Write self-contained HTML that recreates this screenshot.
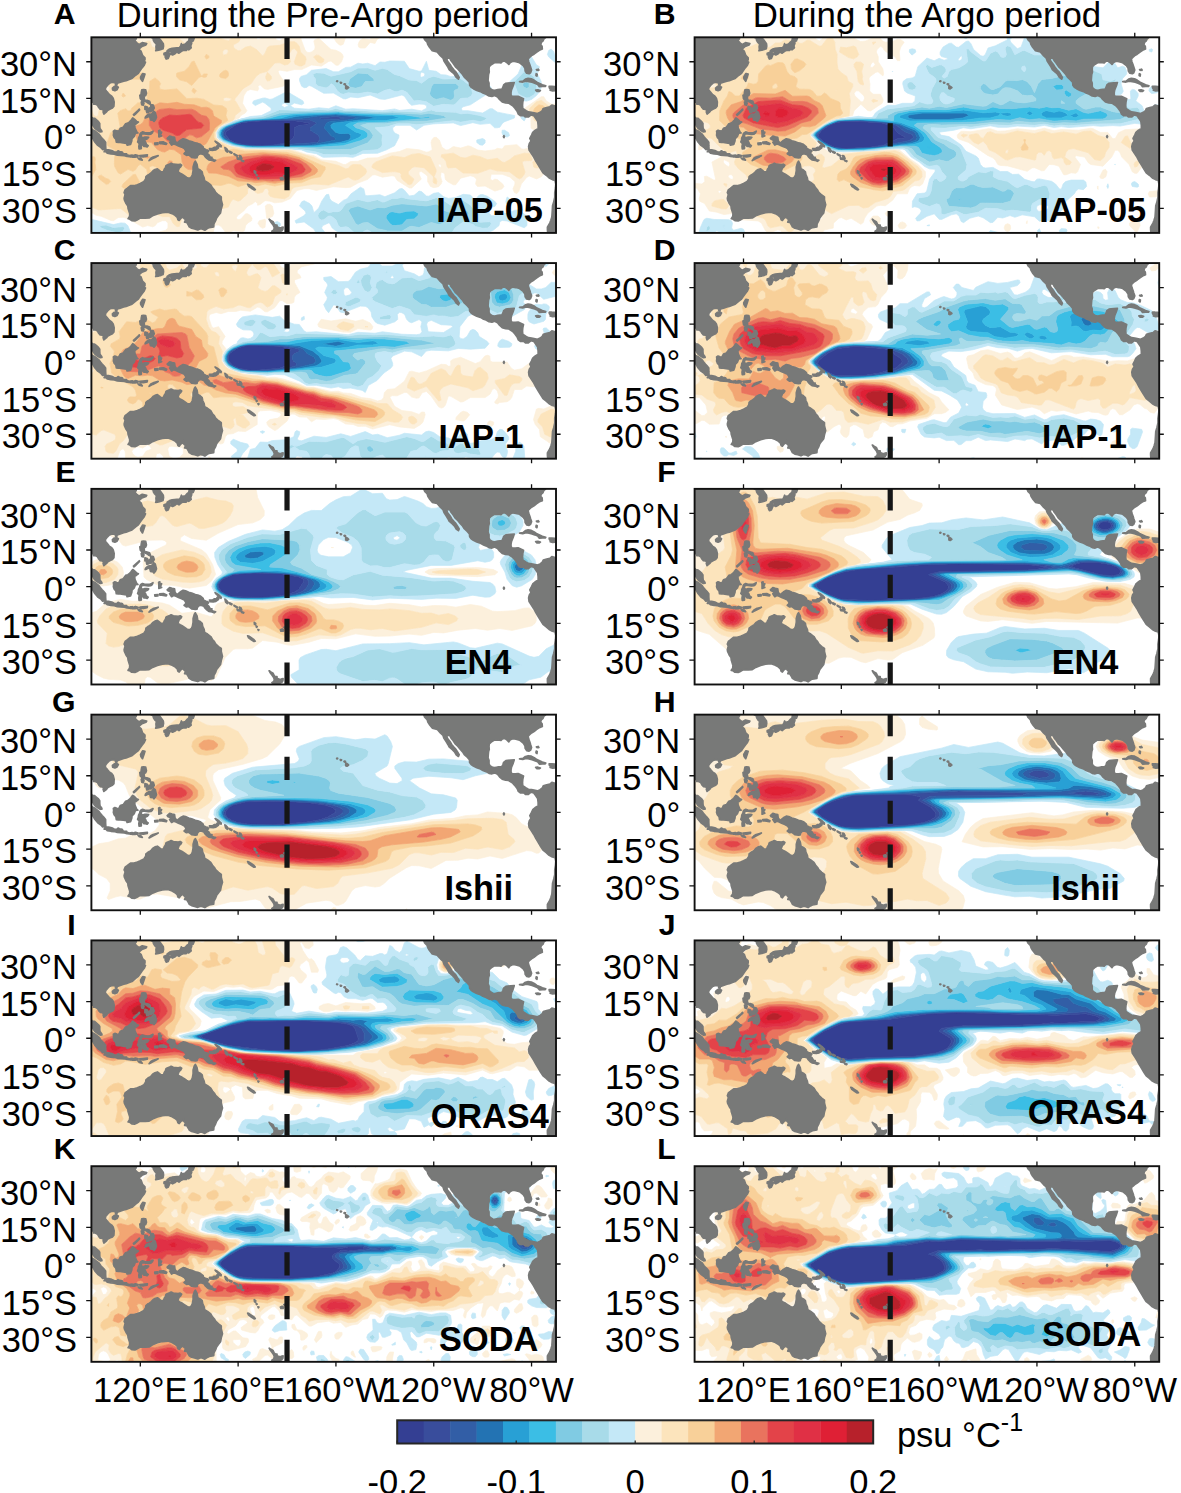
<!DOCTYPE html><html><head><meta charset="utf-8"><style>html,body{margin:0;padding:0;background:#fff;}body{width:1181px;height:1493px;overflow:hidden;}svg{display:block;}text{font-family:"Liberation Sans",sans-serif;}</style></head><body>
<svg width="1181" height="1493" viewBox="0 0 1181 1493">
<defs><path id="land" d="M95.0,41.0 118.6,41.0 118.3,39.3 117.7,38.7 118.7,37.6 119.5,37.1 120.8,37.8 122.6,37.4 122.3,36.9 120.7,36.3 119.3,35.1 120.3,34.3 120.9,32.6 121.9,31.6 121.9,30.8 121.5,30.2 122.1,29.8 121.6,28.6 120.7,27.5 119.8,26.2 119.2,25.3 118.1,24.5 116.6,23.2 115.2,22.7 114.2,22.3 113.2,22.1 111.8,21.6 110.6,21.2 110.3,20.3 109.9,20.6 109.7,21.5 108.5,21.6 107.4,21.2 106.6,20.4 105.8,19.4 105.7,18.5 106.5,17.6 107.3,16.6 108.3,15.9 108.9,15.1 109.3,13.6 109.2,11.8 108.6,11.1 107.5,10.6 106.6,10.1 106.2,9.5 105.1,8.6 104.8,9.5 105.0,10.0 104.5,10.5 103.6,10.6 103.0,11.3 102.5,12.2 101.6,12.7 100.9,12.7 100.9,13.5 100.1,13.5 99.5,13.0 95.0,13.0ZM95.0,8.0 99.5,8.0 100.3,7.1 100.6,6.9 101.3,6.9 102.1,6.2 102.9,5.5 103.4,4.8 103.4,3.8 103.5,2.7 104.2,1.8 104.3,1.4 103.6,1.3 102.9,1.7 101.8,2.5 101.3,2.9 100.8,3.7 100.3,4.6 95.0,5.0ZM95.0,4.0 98.5,3.8 99.5,3.0 100.4,2.2 101.3,1.8 102.2,1.1 103.1,0.4 103.8,-0.6 104.4,-1.3 105.0,-1.9 105.8,-2.9 105.8,-4.2 105.9,-5.8 105.2,-5.8 104.6,-5.9 103.9,-5.1 102.6,-4.2 101.4,-2.8 100.6,-1.4 100.0,-0.6 99.2,0.2 98.7,1.5 95.0,2.0ZM105.2,-6.8 106.0,-5.9 107.0,-6.0 108.3,-6.3 109.3,-6.8 110.4,-6.9 110.9,-6.4 111.5,-6.7 112.6,-6.9 113.0,-7.6 114.4,-7.7 114.6,-8.7 113.5,-8.4 112.0,-8.3 110.6,-8.2 109.4,-7.8 108.0,-7.7 106.5,-7.4 105.9,-6.8ZM114.5,-8.1 115.6,-8.4 115.5,-8.8 114.7,-8.7ZM116.0,-8.3 116.7,-8.2 116.6,-8.9 116.0,-8.9ZM116.8,-8.5 118.0,-8.1 119.1,-8.4 119.0,-8.8 117.8,-9.0 116.8,-9.0ZM119.8,-8.4 121.0,-8.3 122.9,-8.1 122.8,-8.6 121.3,-8.9 119.9,-8.8ZM119.1,-9.4 120.3,-9.6 120.8,-10.2 119.6,-9.9ZM123.6,-10.4 124.3,-9.5 125.2,-9.0 127.3,-8.4 126.5,-8.9 125.1,-9.6 124.0,-10.2ZM109.0,1.6 109.6,2.0 110.4,1.7 111.2,1.6 111.8,2.8 113.0,3.2 114.0,4.6 114.9,4.9 115.6,5.4 116.2,6.1 116.9,7.0 117.7,6.4 118.5,5.6 119.2,5.3 118.3,4.6 117.7,4.2 117.8,3.0 118.6,1.2 119.0,0.9 118.0,0.8 117.5,-0.5 116.6,-1.4 116.5,-2.4 116.0,-3.8 114.6,-4.1 114.4,-3.4 113.0,-3.2 111.8,-3.0 111.0,-3.0 110.2,-2.9 110.0,-1.7 109.3,-0.9 109.0,0.0 109.1,0.9ZM119.5,-5.6 119.4,-4.6 119.6,-3.5 118.9,-2.8 119.2,-2.0 119.3,-1.1 119.8,-0.2 119.9,0.5 120.2,0.9 120.9,1.3 121.8,1.0 122.8,0.9 123.8,0.9 124.6,1.3 125.2,1.6 124.9,0.9 124.3,0.4 123.3,0.3 121.7,0.5 120.6,0.5 120.3,-0.6 121.0,-1.1 121.9,-0.8 122.6,-0.8 123.4,-0.9 122.9,-1.5 122.0,-1.9 121.5,-1.9 122.2,-3.0 122.5,-3.8 123.2,-4.3 122.8,-4.8 122.1,-4.6 121.5,-4.6 121.0,-4.0 120.9,-3.2 120.4,-2.9 120.4,-4.1 120.4,-5.5ZM125.9,-3.3 127.2,-3.2 127.2,-3.8 126.0,-3.9ZM127.9,-2.9 129.5,-2.8 130.8,-3.4 130.6,-3.8 128.8,-3.5 128.0,-3.5ZM127.5,1.8 128.0,2.0 128.0,1.0 128.7,1.2 128.5,0.6 127.9,0.4 128.7,-0.3 127.6,-0.7 127.6,0.8ZM131.0,-1.3 132.0,-0.4 133.0,-0.7 134.0,-0.9 134.2,-2.3 135.0,-3.3 136.3,-2.2 137.5,-1.5 138.5,-1.7 139.8,-2.3 141.0,-2.6 142.5,-3.2 143.5,-3.4 144.5,-3.8 145.7,-4.8 145.8,-5.4 146.9,-6.0 147.6,-6.1 147.9,-6.6 147.2,-7.4 148.0,-8.0 148.6,-9.0 149.3,-9.1 149.2,-9.6 150.0,-10.1 150.8,-10.3 150.2,-10.7 149.3,-10.3 148.0,-10.1 147.2,-9.5 146.5,-8.8 146.0,-8.0 144.7,-7.6 143.8,-7.9 143.3,-8.6 143.2,-9.2 142.5,-9.3 141.0,-9.1 139.8,-8.1 138.9,-8.3 137.9,-7.6 138.5,-7.0 138.7,-6.6 138.0,-5.5 136.9,-4.9 135.6,-4.4 134.6,-3.9 133.6,-3.6 132.8,-4.1 132.0,-2.9 133.1,-2.5 133.7,-2.2 132.4,-2.2 131.2,-1.6ZM148.3,-5.5 149.5,-5.5 150.2,-5.0 151.0,-5.0 151.6,-4.2 152.3,-4.3 151.9,-5.3 150.9,-6.0 149.8,-6.2 148.5,-6.1ZM150.6,-2.5 151.5,-3.0 152.3,-3.6 153.1,-4.4 153.0,-4.8 152.5,-4.4 151.9,-3.8 151.0,-3.0ZM154.6,-5.1 155.3,-5.6 155.9,-6.5 155.6,-6.9 154.9,-6.3ZM156.5,-6.6 157.5,-7.1 157.3,-7.4 156.5,-7.0ZM158.3,-7.6 159.8,-8.4 159.6,-8.6 158.4,-7.9ZM159.6,-9.3 160.6,-9.5 160.8,-9.9 159.8,-9.8ZM160.6,-8.4 161.1,-8.6 161.5,-9.5 161.2,-9.6 160.7,-8.9ZM161.3,-10.2 162.3,-10.6 162.1,-10.8 161.4,-10.5ZM166.6,-14.6 167.2,-15.0 167.1,-15.6 166.7,-15.4ZM167.4,-16.1 167.8,-16.4 167.5,-16.6ZM168.1,-17.5 168.5,-17.6 168.3,-17.9ZM163.9,-20.1 164.5,-20.3 165.5,-21.0 166.5,-21.7 167.0,-22.3 166.5,-22.4 165.4,-21.7 164.3,-20.9ZM177.3,-17.6 178.0,-17.3 178.6,-17.7 178.4,-18.2 177.5,-18.2ZM178.7,-16.6 179.4,-16.4 180.0,-16.2 179.8,-16.7 179.0,-16.9ZM172.7,-34.4 173.4,-34.9 174.3,-35.4 174.8,-36.5 175.3,-36.8 175.9,-36.8 175.9,-37.5 176.9,-37.9 177.6,-37.8 178.4,-37.6 178.3,-38.5 177.9,-39.1 177.1,-39.5 176.9,-40.5 174.6,-40.5 174.8,-39.8 173.8,-39.3 174.6,-38.8 174.8,-37.8 174.4,-36.9 173.9,-36.2 173.2,-35.3ZM142.5,-10.7 143.2,-12.0 143.5,-13.8 144.5,-14.3 145.3,-15.0 145.5,-16.2 146.1,-17.5 146.3,-18.7 147.5,-19.4 148.8,-20.4 149.5,-21.6 150.3,-22.5 150.8,-23.4 152.0,-24.5 153.1,-25.3 153.1,-26.5 153.6,-28.5 153.1,-30.2 152.8,-31.8 152.0,-32.8 151.2,-33.9 150.8,-35.0 150.1,-36.3 150.0,-37.5 148.2,-37.8 147.4,-38.2 146.4,-38.9 145.3,-38.4 144.6,-38.3 143.5,-38.8 142.2,-38.4 141.0,-38.1 140.0,-37.5 139.7,-36.9 139.0,-35.7 138.1,-35.6 138.5,-34.6 137.8,-34.0 137.8,-32.6 137.3,-33.6 136.6,-34.0 135.9,-34.9 135.4,-34.6 135.1,-33.6 134.2,-32.8 133.0,-32.1 131.3,-31.5 129.0,-31.7 127.0,-32.2 125.0,-33.0 123.6,-33.9 122.0,-34.0 120.0,-33.9 118.5,-34.8 117.8,-35.1 116.5,-35.0 115.6,-34.3 115.0,-34.2 115.6,-33.3 115.7,-32.2 115.0,-30.0 114.9,-29.0 114.2,-28.0 113.5,-26.5 113.4,-25.8 113.8,-24.3 113.4,-23.5 113.8,-22.4 114.6,-21.8 116.0,-20.7 117.4,-20.7 118.8,-20.3 120.0,-19.8 121.5,-19.0 122.2,-17.9 122.3,-17.0 123.0,-16.4 123.7,-16.0 124.4,-15.5 125.2,-14.6 126.0,-14.1 127.0,-13.8 127.8,-14.4 128.4,-15.0 129.5,-14.9 129.8,-14.0 130.3,-13.3 130.5,-12.5 131.0,-12.2 132.0,-11.8 132.6,-11.5 133.5,-11.9 134.5,-12.0 135.5,-12.1 136.3,-11.9 136.9,-12.3 136.5,-13.0 135.9,-13.5 135.5,-14.5 135.4,-15.0 136.3,-15.6 137.1,-16.0 138.0,-16.6 139.0,-17.3 139.6,-17.6 140.3,-17.6 140.9,-17.1 141.3,-16.2 141.6,-14.5 141.6,-13.0 141.8,-12.3 142.1,-11.3ZM108.6,19.2 109.4,19.9 110.2,20.1 111.0,19.6 110.5,18.6 109.6,18.2 108.7,18.5ZM121.0,25.2 121.9,25.0 121.5,23.7 120.9,22.0 120.6,22.4 120.2,23.0 120.1,23.7 120.6,24.6ZM120.6,18.5 121.3,18.6 122.2,18.5 122.5,17.1 122.2,16.2 121.6,15.9 121.6,15.0 121.9,14.1 122.7,14.2 123.8,13.8 124.1,13.0 124.0,12.6 123.3,13.0 122.6,13.5 121.8,13.9 121.1,13.6 120.6,14.3 120.0,14.9 119.8,16.3 120.3,16.5 120.4,17.5ZM120.4,13.5 121.3,13.4 121.5,13.0 121.2,12.2 120.6,12.4ZM124.3,12.5 125.3,12.3 125.7,11.1 125.1,10.1 124.7,10.2 124.4,11.0 124.3,11.6ZM121.9,11.8 122.9,11.5 123.2,10.8 122.6,10.6 121.9,10.5ZM122.9,10.9 123.5,10.5 123.3,9.3 122.7,9.2 122.5,9.9ZM123.9,11.2 124.1,10.5 123.5,9.6 123.4,10.2ZM123.8,10.0 124.5,10.0 124.4,9.6 123.8,9.6ZM122.0,7.0 122.2,7.6 122.9,8.2 123.7,8.6 124.5,8.5 125.0,9.0 125.4,9.8 126.1,9.3 126.6,7.3 126.2,6.3 125.6,5.6 125.3,6.0 124.2,6.2 123.9,7.3 123.4,7.6 122.6,7.2ZM117.2,8.4 118.1,9.2 119.0,10.0 119.6,10.6 119.7,10.3 118.8,9.4 117.9,8.5 117.4,8.1ZM124.5,41.0 124.4,40.0 125.2,39.6 125.4,38.7 125.9,37.9 126.6,37.2 126.4,36.2 126.5,35.0 126.3,34.5 127.5,34.7 128.5,35.0 129.3,35.3 129.5,36.4 129.4,37.4 128.6,38.5 128.0,39.3 127.5,39.8 128.5,40.3 129.5,41.0ZM129.7,33.5 130.8,33.9 131.8,33.7 132.0,32.8 131.4,31.4 130.6,31.1 130.2,31.9 130.2,32.7 129.7,32.9ZM132.6,33.9 133.5,34.2 134.6,34.2 134.7,33.8 134.2,33.3 133.2,32.8 132.5,33.2ZM130.9,34.0 132.0,34.3 133.5,34.5 135.0,34.6 135.1,33.9 135.8,33.5 136.8,34.3 137.5,34.6 138.8,34.6 139.2,35.2 139.8,34.9 140.8,35.7 140.6,36.5 141.0,37.5 141.0,38.3 141.6,38.5 142.0,39.5 141.9,41.0 140.0,41.0 140.0,39.5 139.8,38.5 139.0,37.9 138.4,37.2 137.0,36.8 136.8,37.4 136.5,36.5 136.0,35.7 135.0,35.7 133.0,35.5 132.0,35.2 131.0,34.5ZM204.1,20.2 204.9,19.7 205.2,19.4 204.5,18.9 204.0,19.1 204.0,19.8ZM203.4,21.0 203.9,20.9 203.6,20.6 203.3,20.8ZM201.8,21.6 202.3,21.5 202.2,21.3 201.9,21.3ZM200.4,22.2 200.7,22.1 200.6,21.9 200.3,22.0ZM236.0,41.0 235.8,40.3 236.3,39.0 237.3,38.0 237.6,37.0 238.2,36.0 239.4,34.5 241.4,34.0 242.7,32.5 243.8,31.5 244.2,30.3 245.2,28.8 245.8,27.8 246.3,26.8 247.7,25.6 248.5,24.8 249.2,23.6 250.1,22.9 250.4,23.6 249.8,24.6 249.0,25.9 248.3,26.6 247.4,27.7 246.7,28.9 245.6,30.3 245.2,31.7 246.6,31.4 247.1,30.4 247.9,29.4 248.9,27.9 249.9,27.0 250.9,25.8 251.8,24.8 252.5,23.7 253.7,22.6 254.6,21.6 254.7,20.4 255.3,19.6 256.2,19.0 257.6,18.3 259.1,17.8 260.1,17.2 261.4,16.7 262.6,16.0 263.8,15.8 264.9,16.2 266.1,15.6 266.9,14.6 268.0,13.6 269.4,13.2 270.6,13.1 272.3,12.0 273.2,11.0 274.1,9.8 274.6,8.6 275.4,8.0 276.8,8.0 277.5,7.4 278.7,7.4 279.8,8.3 280.9,8.0 281.6,7.0 282.5,5.7 282.7,4.0 282.7,2.7 281.4,1.9 280.5,1.1 280.0,0.0 279.3,-1.3 279.8,-2.4 279.1,-3.4 278.8,-4.6 279.0,-6.1 280.0,-7.6 280.9,-9.0 281.8,-10.7 282.9,-12.5 283.8,-14.0 284.7,-15.4 286.0,-16.4 287.2,-17.5 288.5,-18.2 289.6,-18.5 289.9,-20.0 289.8,-21.5 289.5,-23.5 289.5,-25.4 289.1,-27.2 288.6,-28.9 288.5,-30.6 288.4,-32.2 288.3,-33.5 287.9,-34.8 287.5,-35.9 286.9,-36.9 286.5,-37.6 286.5,-38.6 286.6,-39.8 286.3,-41.0 292.0,-41.0 292.0,10.8 290.0,11.8 288.3,12.3 287.5,11.6 286.2,11.3 284.8,10.9 284.4,10.0 283.5,9.3 282.4,8.8 281.0,9.1 280.0,9.3 278.7,9.5 277.8,10.0 276.4,10.9 276.3,12.2 276.4,13.5 276.7,14.9 275.6,15.4 274.5,15.9 273.3,15.8 272.0,15.8 271.6,16.4 271.6,17.4 271.8,18.5 272.5,20.2 272.9,21.5 271.5,21.4 270.3,21.3 269.5,21.2 268.6,20.5 268.3,19.6 267.9,18.8 266.2,18.6 265.0,18.3 264.1,18.4 263.0,19.1 262.6,19.8 262.6,21.3 262.2,22.3 262.3,23.6 262.4,24.8 262.7,25.8 262.6,27.0 262.7,28.0 263.5,28.8 264.8,29.6 266.2,29.7 267.5,29.5 268.1,30.1 269.0,30.3 270.0,29.6 270.7,28.9 271.3,29.7 272.4,30.2 273.6,30.0 275.1,29.6 276.6,28.4 277.3,27.3 277.4,26.2 278.0,25.3 279.0,25.1 279.6,25.5 280.0,26.6 279.6,27.8 279.3,28.8 278.8,30.1 278.6,31.2 279.2,31.8 280.0,32.5 281.0,33.1 282.0,33.9 283.2,34.7 284.4,35.2 284.3,36.3 283.7,37.0 284.0,37.9 284.7,38.5 285.0,39.3 285.7,39.9 286.0,40.5 286.5,41.0ZM275.1,21.9 276.5,22.1 277.5,22.9 278.6,23.2 279.9,23.0 281.1,22.4 282.2,21.6 283.3,21.1 284.4,20.6 285.8,20.2 285.6,19.9 284.5,19.9 283.2,19.8 282.5,20.7 281.3,21.2 280.2,21.6 279.0,21.9 277.7,22.1 276.4,21.7ZM287.2,19.9 288.3,19.9 289.5,19.8 290.5,19.6 291.5,18.6 290.9,18.2 289.6,18.2 288.6,18.1 287.6,18.4 287.8,18.7 287.3,19.3ZM281.7,18.4 282.6,18.5 283.6,18.2 283.2,17.9 282.2,17.9ZM292.7,18.5 294.4,18.4 294.3,18.0 292.8,18.0ZM282.7,27.0 283.0,26.6 282.9,26.5 282.5,26.8ZM282.0,26.8 282.5,26.6 282.3,26.5ZM281.9,25.1 282.3,24.9 282.2,24.1 281.8,24.4ZM268.7,-0.2 268.9,-0.6 268.7,-1.0 268.5,-0.6Z"/><clipPath id="pc"><rect x="100" y="-40" width="190" height="80"/></clipPath></defs>
<g transform="matrix(2.4453,0,0,-2.4453,-153.130,135.112)" clip-path="url(#pc)" stroke-width="0.3" stroke-linejoin="round">
<path fill="#343f93" stroke="#343f93" fill-rule="evenodd" d="M163 -4l5-.3 6 .2 6.5 1.1 2.1 2 .4 1 0 3 2 1 3 .2 1.3 .8-6.3 .9-11 .1-8-.6-2.8-.4-2.4-1-3.8-2.6-.1-1.4 1.8-2 2-1 4-1z"/><path fill="#394d9c" stroke="#394d9c" fill-rule="evenodd" d="M162 -4.1l8-.4 22.4 1.5 .9 1 0 1-.6 1-3.1 2 0 1 2.7 2-3.3 1.4-22-.4-6.7-1-4.5-2-1.3-1-.5-1 0-1 .6-1 3.2-2 3.7-1zM162.7 -4l-4 1-2 1-1.8 2 .1 1.4 3.8 2.6 2.4 1 2.8 .4 8 .6 11-.1 6.3-.9-1.3-.8-3-.2-2-1 0-3-.4-1-2.1-2-6.5-1.1-6-.2-5 .3zM194 6.6l7-.1 2.6 .5-3.6 .6-7-.6z"/><path fill="#325ea6" stroke="#325ea6" fill-rule="evenodd" d="M161 -4.1l7-.6 22 .7 9.8 2-.2 1-1.6 .7-2.8 3.3 1 2 1.8 .7 5 .2 6.3 1.1-2.3 .6-7 .6-6-.2-8-1.1-21-.8-4-.7-6-2.4-1.1-1-.4-1 .5-2 1.2-1 1.9-1 3.4-1zM161.5 -4l-3.7 1-3.2 2-.6 1 0 1 .5 1 1.3 1 4.5 2 6.7 1 22 .4 3.3-1.4-2.7-2 0-1 3.1-2 .6-1 0-1-.9-1-22.4-1.5-8 .4zM193 7l7 .6 3.6-.6-2.6-.5-7 .1z"/><path fill="#2373b3" stroke="#2373b3" fill-rule="evenodd" d="M160 -4.1l6-.7 7 0 18 .5 11 1.4 3.3 .9 .8 1-.1 1-1 .8-3-.2-2 .5-1.9 1.9-.2 1 1.1 .9 17.9 2.1-3.9 .7-13 .9-11-.5-5-.4-4-.8-17-.9-4-1-4-1.7-1.6-1.3-.4-1 0-1 .5-1 1.1-1 5.1-2zM160.5 -4l-3.4 1-1.9 1-1.2 1-.5 2 .4 1 1.1 1 6 2.4 4 .7 21 .8 8 1.1 6 .2 7-.6 2.3-.6-6.3-1.1-5-.2-1.8-.7-1-2 2.8-3.3 1.6-.7 .2-1-9.8-2-22-.7-7 .6z"/><path fill="#28a0d5" stroke="#28a0d5" fill-rule="evenodd" d="M166 -5l25 .4 13 1.3 5.5 2.3 1 1-.5 .7-2 .6-4.1 2.7 1.6 1 6.5 .8 8.6 .2 4.4 .8 3.4 .2-2.4 .1-3 1-5-.1-17 1-17-.6-3-.4-3.6-1-14.4-.8-7.2-2.2-1.9-1-.9-1-.4-2 .4-1 1.1-1 4.9-2 6.8-1zM159.7 -4l-5.1 2-1.1 1-.5 1 0 1 .4 1 1.6 1.3 4 1.7 4 1 17 .9 4 .8 5 .4 11 .5 13-.9 3.9-.7-17.9-2.1-1.1-.9 .2-1 1.9-1.9 2-.5 3 .2 1-.8 .1-1-.8-1-3.3-.9-11-1.4-18-.5-7 0-6 .7z"/><path fill="#3bbee5" stroke="#3bbee5" fill-rule="evenodd" d="M224 -37l3 .3 2 2.2 3 .2 1.5 1.3 .3 1-1.8 1-3-.1-3-.8-3 .6-1-.2-1.4-1.5-.1-1 1.5-2.1 1-.8 .6-.1zM164 -5l28 0 11 .7 7 2 2.7 1.3 .4 1-.3 1-1.3 1-3.3 1-1.1 1 1.8 1 11.1 .3 18.5 1.7-.5 .6-3-.4-7 1.1-24 .7-3 .5-18-.7-6-.7-4.1-1.1-10.9-.8-6.7-2.2-2.7-2-.4-2 1.5-2 4.6-2 5.5-1zM165.8 -5l-6.8 1-4.9 2-1.1 1-.4 1 .4 2 .9 1 1.9 1 7.2 2.2 14.4 .8 3.6 1 3 .4 17 .6 17-1 5 .1 3-1 2.4-.1-3.4-.2-4.4-.8-8.6-.2-6.5-.8-1.6-1 4.1-2.7 2-.6 .5-.7-1-1-5.5-2.3-13-1.3-25-.4z"/><path fill="#80cbe3" stroke="#80cbe3" fill-rule="evenodd" d="M221 -39.2l6-.1 3 1.8 1 .2 3-.5 5 2.1 3-.9 1 .2 4 2.2 .7 1.2 0 1-4.7 1.6-.3 1.4-1.7 .8-4-.8-10 .9-4-.6-3-1-3 .1-3-1-5 1.6-3-.8-1-1 3-5.3 1-.8 2 1 2 .2 4-2.6 3.5-.7zM223.6 -37l-.6 .1-1 .8-1.5 2.1 .1 1 1.4 1.5 1 .2 3-.6 3 .8 3 .1 1.8-1-.3-1-1.5-1.3-3-.2-2-2.2-3-.3zM253 -33l1 .3 .4 .7-.7 1-1.7 .5-1.1-.5 0-1 2.1-1zM197 -6l9 .2 7 2.6 2 2.2 .2 1-1.3 2-3.8 2 .9 .2 2 .5 7-.1 5 .8 12 .3 8.3 1.3-1.3 1-6 .9-3-.4-12 .7-5-.2-18 .9-18-.5-5-.4-6.6-2-6.4-.3-3-.5-7-2.6-1.7-1.6-.5-1 .4-2 1.8-1.5 4-1.6 5-1 5-.3 17 .2 11.8-.8zM163.8 -5l-5.5 1-4.6 2-1.5 2 .4 2 2.7 2 6.7 2.2 10.9 .8 4.1 1.1 6 .7 18 .7 3-.5 24-.7 7-1.1 3 .4 .5-.6-18.5-1.7-11.1-.3-1.8-1 1.1-1 3.3-1 1.3-1 .3-1-.4-1-2.7-1.3-7-2-11-.7-28 0zM240 15l1-.4 3 .7 3-1.1 1.2 .8 .3 1-.2 2 .7 .6 1 .3 .3 1.1-1.3 1.1-9 0-.9-1.1-.8-3 .4-1 1.3-1zM206 19.6l2-.4 2 .5 .7 .3 1.3 1.9 3.6 .1-.1 1-2.5 2.1-4 .3-3.3-2.4-.8-2 .5-1zM277 19.6l1-.5 1 .5 0 1.7-1 .4-1-.2-.6-.5 .1-1z"/><path fill="#a8dbe9" stroke="#a8dbe9" fill-rule="evenodd" d="M208 -40.3l1-.4 1 .2 2 1.5 1 .2 3-1.8 2.4-.4 16.3 0 1.3 .8 1 .2 1-.5 2 .8 5-1.1 2.4 .8 1.3 2 3.3 2.5 4-1 1-.9 3-.7 2 .1 1.2 1 .4 1-.6 .6-4-.2-1.8 .6 .5 2-.8 2-1.9 2.4-3 2-1-.1-3-1.9-1-.1-3 2-3 1.1-4-1.3-8 .9-2 .6-2-.5-2 0-3-1.4-1-.1-2 1-4-.9-3 .8-2 .1-4-1.6-2-2.8-1-.5-2 0-2-.4-2 1.1-1-.4-1.1-1-.3-1 .3-1 1.1-.7 1 .1 2 1.5 1 0 2-1.5 1-2.5 1-.7 2 .3 1-.2 2.4-2.3zM220.5 -39l-3.5 .7-4 2.6-2-.2-2-1-1 .8-3 5.3 1 1 3 .8 5-1.6 3 1 3-.1 3 1 4 .6 10-.9 4 .8 1.7-.8 .3-1.4 4.7-1.6 0-1-.7-1.2-4-2.2-1-.2-3 .9-5-2.1-3 .5-1-.2-3-1.8-6 .1zM253 -33l-2.1 1 0 1 1.1 .5 1.7-.5 .7-1-.4-.7-1-.3zM107 -39.1l4-.9 2 .7 .6 1.3-.6 .6-4-.4-3 1-2.9-.2 1-1 2.4-1zM206 -8.2l2 .2 3 1.6 5.9 .4 1.5 1 .6 1-.2 2 .3 2-3.1 3 5 .4 4 1.2 5 0 3-.4 15 1.7 3-.6 5 .8 3-.6 1.6 .5 1.2 1-2.9 1-4.9 .9-3-.2-2 .6-8 .4-2 .6-4-.9-12 .5-5-.3-11 .6-3-.2-4 .9-3-.7-4 .3-5-.5-11 .4-7-2.8-8-.9-4-1.1-5-2.4-1.5-2.2 .3-2 2.2-1.8 4-1.6 5-1 21-.2 8-1.3 3-1 10.1-.1zM196.8 -6l-11.8 .8-17-.2-5 .3-5 1-4 1.6-1.8 1.5-.4 2 .5 1 1.7 1.6 7 2.6 3 .5 6.4 .3 6.6 2 5 .4 18 .5 18-.9 5 .2 12-.7 3 .4 6-.9 1.3-1-8.3-1.3-12-.3-5-.8-7 .1-2-.5-.9-.2 3.8-2 1.3-2-.2-1-2-2.2-7-2.6-9-.2zM240 11.8l4 .8 4-.3 1 .5 2 2.2 3 .2 1.3 .8 .6 1-.7 3-4.2 3.2-7-.3-4 1.2-2-.6-3-2.3-2 1.1-3 .2-4 1.8-2 .5-3 2-2 .5-3-.8-3 1-4-.1-3-1.5-8-1.8-3 1.2-3 .2-1.4-.5 .2-1 .8-1 .1-2 1-1 3.3-.7 1.3 .7 .7 1 1-.5 1.6-2.5 1.4-1.1 1-.2 2 .6 4-.4 4 .7 4-.8 3 1.5 2 .5 2-1 1-.1 2 .7 2-.9 2.9-3.5 2.1 .2 3-.6 2.6-1.6zM240 15l-1.3 1-.4 1 .8 3 .9 1.1 9 0 1.3-1.1-.3-1.1-1-.3-.7-.6 .2-2-.3-1-1.2-.8-3 1.1-3-.7-1 .4zM205.4 20l-.5 1 .8 2 3.3 2.4 4-.3 2.5-2.1 .1-1-3.6-.1-1.3-1.9-.7-.3-2-.5-2 .4zM276 16l2-.8 1 .1 2 1.2 1.1 1.5 0 4-1.1 1.8-3 2.5-1-.3-3.9-4-.1-1 1.4-4 1.6-1zM276.5 20l-.1 1 .6 .5 1 .2 1-.4 0-1.7-1-.5-1 .5z"/><path fill="#c4e8f7" stroke="#c4e8f7" fill-rule="evenodd" d="M100 -41l1.1 0 1.9 1 3-.3 2-.7 6.9 0 1.2 1-1.2 3-1.2 1-1.7 .1-3-.7-10 2.4 0-6.8zM106.5 -39l-2.4 1-1 1 2.9 .2 3-1 4 .4 .6-.6-.6-1.3-2-.7-4 .9zM123 -41l1.4 0-.4 .5-1 0-.3-.5zM193 -41l3.4 0-2.3 3 .5 1 2.4 1.1 .4-.1 1.1-2 1.3-1 1.2-.6 3-.1 .9-1.3 13.5 0-2.4 .4-3 1.8-1-.2-2-1.5-1-.2-1 .4-3 2.6-1 .2-2-.3-1 .7-1 2.5-2 1.5-1 0-2-1.5-1-.1-1.1 .7-.3 1 .3 1 1.1 1 1 .4 2-1.1 2 .4 2 0 1 .5 2 2.8 5 1.7 4-1 4 .9 2-1 1 .1 3 1.4 2 0 2 .5 2-.6 8-.9 4 1.3 3-1.1 3-2 1 .1 3 1.9 1 .1 3-2 1.9-2.4 .8-2-.5-2 1.8-.6 4 .2 .6-.6-.4-1-1.2-1-2-.1-3 .7-1 .9-4 1-3.3-2.5-1.3-2-1.4-.5-2-.3-4 1.1-2-.8-1 .5-1-.2-1.3-.8 23.6 0 .7 1 3 .2 2.2 .8 2.5 2 .3 1.6 1 .5 2-.2 7-2.8 1.1 .9 0 3-.3 1-2.8 2.5-2-.3-3-1.3-3 .5-2-1.4-1.4 0-.9 1-.3 2 .6 .5 2 .3 .7 1.2-.8 1-3 2-1.9 .7-1-.1-.9-.6-1.1-1.6-2 2.1-3 .3-3-1.3-3-.4-2 .7-2 1.7-2-.3-2-1.2-1 .1-2 1.8-1 .2-2-1.7-2-.3-2 2.4-1 .7-1-.2-2-1.6-4-1.6-2 .8-5-.4-1 .1-.6 2.7-1.4 .7-3.8-2.7-1.6-2-1.6-.7-2-1.7-2.7 1.4-.8 1-.5 1.8-1-.2-1.8-2.6-1.2-2.8-2-1.9-.8 2.7-.9 1-2.3 1.2-1-.5-.9-1.7 2.3-2 .4-1-1-1-3.5-2 .4-1 3.3 .5 4-2.9 1.4-2.6zM257.7 -29l.3 .4 0-.7zM176 -38.1l1.3 1.1-.1 1-1.2 .7-1.7-.7 .1-1 1.4-1zM289 -38.9l.2 .9-.6 0zM270 -28.1l1 1.1 0 1-1 .7-.5-1.7 .2-1zM195 -9.1l9 .3 3-.3 4 1.6 6 .1 3.7 1.4 3.3 1.7 1.7 3.3 .1 1-1.8 .9-.7 1.1-.1 1 1.3 1 5.8 0 2.7-1.9 3 1.9 4 .6 8 .4 3-1.1 5 1.2 3-.7 4 .4 1.9-1.8 1.1 0 1 .2 1.2 1.8 .8 .5 4 1.5 .1 1-7.1 1.4-2 1.4-1 0-3-1.8-6 1-2.4 0-.3 1 .7 .6 3 .8 8.7 5.6 0 1-.7 1.1-2.6 1.9-.4 1 .2 1 .8 2-1 .5-4-3.5-2 .6-2 2-1 .2-1-.2-1.9-1.6-1.1-.1-2 .7-2 .1-2 1.4-3 .4-1 3.7-2-4-1-.1-4 1.1-2 3-6 .1-2-.5-2 .1-2-1.5-3 1-2-.3-2 .3-3-1.6-2-.1-3-1.8-2 0-3 1.3-6-.7-2-1.8-2.3-.7-.6-1 .1-1 .8-2 1-.6 1 .1 1 .8 1-.3 5-2.9 4 .1 4-2.3 1-.1 2 .8 3-.3 5 1.1 4-1.6 2-.2 7 1.8 1-.5 2-2.9 1-.8 3 .5 2-.1 1.1-.6 0-1-2.1-1.1-4 .7-5-.5-2 .6-5-.7-12 .8-3-.2-4 1.4-3-1.2-4 .4-4-.6-6 .4-1.7 1 1.7 1.1 3-.7 .9 .6-.4 1-6.5 3.8-6-3-1-.2-2 .6-1-.1-3.7-1.1-.4-1 1.1-.9 3 1.4 1-.5 2.5-2 0-1-4-2-4.5-.4-8-2.2-4-2-1.3-1.4-.5-1 .3-2 1-1 2.5-1.4 3-1.1 6-1.1 21.9-.4 2.1-.9 4-.7 2.6-1.4zM205.1 -8l-10.1 .1-3 1-8 1.3-21 .2-5 1-4 1.6-2.2 1.8-.3 2 1.5 2.2 5 2.4 4 1.1 8 .9 7 2.8 11-.4 5 .5 4-.3 3 .7 4-.9 3 .2 11-.6 5 .3 12-.5 4 .9 2-.6 8-.4 2-.6 3 .2 4.9-.9 2.9-1-1.2-1-1.6-.5-3 .6-5-.8-3 .6-15-1.7-3 .4-5 0-4-1.2-5-.4 3.1-3-.3-2 .2-2-.6-1-1.5-1-5.9-.4-3-1.6-2-.2zM177.8 12l.2 .8 1 .3 1.8-1.1-1.8-.7-1 .5zM239.6 12l-2.6 1.6-3 .6-2.1-.2-2.9 3.5-2 .9-2-.7-1 .1-2 1-2-.5-3-1.5-4 .8-4-.7-4 .4-2-.6-1 .2-1.4 1.1-1.6 2.5-1 .5-.7-1-1.3-.7-3.3 .7-1 1-.1 2-.8 1-.2 1 1.4 .5 3-.2 3-1.2 8 1.8 3 1.5 4 .1 3-1 3 .8 2-.5 3-2 2-.5 4-1.8 3-.2 2-1.1 3 2.3 2 .6 4-1.2 7 .3 4.2-3.2 .7-3-.6-1-1.3-.8-3-.2-2-2.2-1-.5-4 .3-4-.8zM234.5 24l0 1 .5 .8 1-.4 .4-.4-.3-1-1.1-.3zM259 -4l1-.1 1 .9 0 1.2-1 .6-2.4-.6 0-1 1.3-1zM269 -.5l1-.3 1 .6-.4 1.2-1.6 1-1 0-.1-1 .4-1zM291 4.6l0 2.6-1-.3-.4-.9 .5-1zM277 5.8l.7 1.2-.7 .8-1 .2-.4-1 1.1-1zM278 13.9l2 .7 2 1.6 1.5 1.8 .6 2-.2 2-1.5 3 .8 3-1.2 .7-2 3.3-1 .7-1.8-.7-1-1 0-2-1.7-4-3.3-3-3.2-4 0-1 1-1.5 3 .6 2-1.8 3.2-.3zM276 16l-1.6 1-1.4 4 .1 1 3.9 4 1 .3 3-2.5 1.1-1.8 0-4-1.1-1.5-2-1.2-1-.1-2 .8zM290 29.5l1-.3 0 3-1 .2-.6 .6-.4 1.3-1 .9-1-.6-.5-1.6 .5-1 2.3-2zM246 32l1.3 1-.3 .3-1.8-.3zM259 35.4l2 1.3 .8 1.3-.5 3-3.8 0 .1-1 1.1-2 .2-2zM250 39l1.5 0 .1 1-.5 1-3.5 0 .7-1 1.6-1z"/><path fill="#fcf0dc" stroke="#fcf0dc" fill-rule="evenodd" d="M128 -41l6.2 0 .8 1 4 .4 4-.2 2.7-1.2 3.8 0 1 4 .5 .2 1 0 1-.5 2-2.6 1 0 2 .8 4-.3 .6 .4 .5 2 .9 1.1 1.5 .9 .2 1-.7 1.1-1 .7-1 0-2-2.2-1-.2-.8 .6 .5 1 2.6 2 1.7 2 2.1 1 .9 .9 .9-.9 .1-.7 1 .3 2 1.6 2-.2 2-.7 3 .3 3.3 1.4 2.7 3.3 3 .8 2 0 3-.7 7 1.5 5-.4 2 .2 3 1.7 4 1.5 2 1.8 1 .1 3-1 4 .6 1-.2 1-1.7 5-3.1 1 0 3.9 3.6-.9 2 0 1 1 .1 2-1.4 .5-.7 0-2 1.2-2 1.3-.5 2 .4 1 1.1 .4 1-.6 2 .2 1.8 1-.2 .5-.6 .2-2 .9-1 2.4-1.3 1 0 2 2.7 4 1 1.4-.4 1.1-1-.4-2 .8-1 3.1 .2 4-2.1 2.9 .9 .8 1-.5 1-2.2 1.8-1 .2-1-.6-.9 .6 .4 2 4.5 0 3-1.1 2.2-1.9 0-1-.8-2 .6-1.5 1-.4 .8 .9 1 3 2.2 2.7 1 .6 3-1.2 2 .9 1 1.2 1 .4 2-.6 1.1 1 1.9 .9 0 5-2 1.5-3 0-3 .6-3 2-3-.8-1 .1-2 1.8-5-.5-1-1.3-2 .3-1-.6-4-.5-3 .4-3 1.5-1 .2-3-.9-3 .6-2-1.3-1-.1-1.6 1.1-1.1 3-1.3 1.1-1-.1-.8-1-.3-1 .5-3-1.4-.8-1-.2-3 1-5 .5-3-1.2-4-.7-5-1.9-4-.1-4-1.3-3-.1-2-1.2-1 0-3 1.3-6 .6-3 1.7-3 .5-5.8 1.9-19.2 .3-6 1.2-3 1.2-2 1.3-.9 1-.2 2 .4 1 1.7 1.7 7.4 3.3 .7 1 1.8 1 .7 1-1.8 3 .5 3 1.2 2 1.5 .7 3-.6 .4 .9-.3 1 .9 .6 1.6-1.6 1.4-.3 6.5 1.3 .9 1-.3 1-1.1 1-1.3 2-.3 1 .6 .6 3-.5 3 .7 3 0 4 1.9 4-.5 3 1.9 1 .2 2-1.7 1 0 1.3 1.4 .7 2-.3 1-.7 .7-2 1-2 .3-5 4.6-1.7-.6-.3-.6 .5-2.4-.2-1-1.3-1-1-.3-1 .3-.7 1-1.5 4-.3 2-6.1 0-.4-1.2-2-1.2-1.5 .4-.3 2-4.2 0-2-1.7-1-.3-1.6 2-6.2 0 .6-2-.7-1-2-1 0-1 1.9-1.5 5 1.9 2.5-1.4 2.5-2.6 1 1 1 2.4 1 .6 4 .3 3 1.3 2 .3 2-.7 .5-.6 1-3 2-2 .3-2-.5-1-1.3-.7-1 0-1.7 .7-.3 1 1.4 4-1.4 1.4-1-.3-1.2-2.1 .6-3-.9-1-1.5-.3-2 .9-2-.1-3-3.4-3-.8-1.7-1.3-2-3-3.3-2-3.2-4-.3-1 .5-.2 2.2-3.8-2.5-2-.1-1-.8-1-3.8-1.5-2.9-2.5-.6-2 1.1-2 4.4-2.3 6-1.5 19-.5 10-2.9 3-1.5 7-1.7 3-1.4 1 .1 1 1.2 1 .5 3-.1 2.3-1.9 .2-1-1.6-2-1.5-1-1.4-.4-1 .1-2 1.2-8-3.3-6 .4-8-1.3-1-.7-1.3-3-1.7-1-4 .4-1.9 .6-.7 1 .2 1-.6 1.2-1 0-1-1.6-2-.5-1 .6-.8 1.3-1.2 .5-1.1-.5-.1-2-2.8-2.6-1-.4-2 .8-.9-.8-1.1-2.4-2-.6-2 0-.8-1-.1-2-1.1-.9-5 1.2-2-.5-4 .2-2-1-1-3.3-1-.1-1 .7-2 3.4-3 0-2 .8-3-.2-3 .6-1-1.1-1-.3-4 1.1-3 2.4-9-.6-4 1.6 0-2.1 3-1.7 2-.4 4-1.7 1-.1 2 1.3 2 .1 2-.6 6-3.4 2 .6 2-.5 1 .4 1 1.3 2 .8 1.4 0 .9-1 0-2-1.1-1-2.2-.5-.8-1.5zM143.6 -37l-.8 1 .5 1 .7 .2 5.2-1.2-3.2-.3-2-.9zM229.4 -20l-2.3 2-.5 1 .1 1-.7 .7-2 .4-5-.4-4 1.9-.3 .4 .4 1 1.2 1 6.7 2.5 5-.7 3 1.3 3 .4 4.6-1.5 2.3-5 .1-1-.9-2 .9-.9 .3-1.1-.3-1-1 .4-.2 .6 .1 2-3.9 3.7-4 .4-1-.5-1.4-1.6 0-1 2.3-2-.9-1.9-1-.4zM273.6 -17l-2.6 2-5 .4-3 .8-5-1.8-6 .1-3 2.3-3-.2-.5 .4-.5 2.3-1 1.2-.9 .5 .1 1 4.8 .6 3-1.7 2-.3 3 1.2 3-.6 3-1.3 4 .6 2-1.5 1-.2 2.2 1.2 1.8 1.5 4 1.1 2-.1 .6-.5 .7-2-.3-.4-3-.1-.9-.5 1.2-4-.3-1-1-1.4-1-.4-1 .5zM242.4 -13l-.4 .3 0 .9 1-.2 0-1.4zM280.9 -13l-.4 2 1.6 1 2.8 0 1.8-1 .2-1-.9-1-4-.4-1 .3zM171.4 23l-.1 1 .7 1.7 1.6-1.7 0-1-.6-.7-1-.2zM192.5 30l-1.6 2 1.1 .7 1-.1 2.1-1.6-.2-1-.9-.5-1 .2zM170 -38.1l1 .4 .3 2.7-.3 .6-2.3-.6-.6-1 .9-1.5 .8-.5zM172 -34.1l2 .8 .6 1.3-.6 3-1 .7-1 0-.9-.7 .6-5zM145 -30.6l1 .6 0 1.2-1 .5-1-.7 .3-1zM99.1 -24l.2 2-.3 .4 0-2.8zM99.9 -4l-.9 5.2 0-5.9zM291 -.1l0 .9-.1-.8zM280 2.7l1-.5 1 .2 1 1.6 1 .6 1-.5 1-1.4 1-.2 .5 .5 .3 1-.4 2 .6 1.8 1 1 2 .1 0 4.4-2-.7-1 .1-2 1.3-1 1.7-1 0-6.8-4.7 2.5-4 .1-4zM281.2 6l-2.2 4 .3 1 2.7 2.6 2 .6 2.9-2.2 .8-1 .1-1-1.8-3-4-1.4zM101 8l1-.5 .8 .5 .3 2 1.9 3-.9 2 0 1 3 2 .6 1-.7 1.1-1 .4-.9-.5-1.1-2.7-4.8-4.3 .1-1 1.7-4zM155 13.8l1.7 .2 .7 1-2.4 .5-1.1-.5 .2-1zM99.9 24l1 1 0 1-.9 1-1 .3 0-3.6zM105 25.2l2 0 1.1 .8-.3 2-.8 1-2-.1-.9-.9 .2-2zM114 30.7l1.2 .3-.2 1.6-1.1-1.6zM154 32.7l1.2 .3 .8 1-.2 1-.8 .2-1-.4-.4-.8 .2-1zM264 33l1.1 1-1.1 .6-.7-.6 .5-1zM101 33.6l1-.1 .6 .5 .7 1 .4 2 1.1 1 1.2 .4 1.4-.4 .2-1-.9-1-.2-1 .5-1 1 0 2 2.6 2-.8 .4 .2-.9 1 .5 3.1 4-1.9 3 0 2-.6 2 .8 1 0 .8-2.4 1.2-.3 1 .2 1.1 1.1 .6 4-5.7 0-1-.9-1-.3-4.4 .2-1.6 1-6.6 0-3.4-1.1-1 0-.4 1.1-3.2 0-.2-1-1.2-.4 0-1.6 1.2-1-.1-2 .5-1zM140 35.9l.4 1.1 0 4-5.2 0 .2-1 .6-.7 1.7-1.3 1.3-1.9 .7-.1zM210 35.6l2 0 2 2.3 2-.4 .7 1.5 2.9 2-4.6 0-1-2-3 .5-1-.6-.6-.9-.3-1 .2-1zM202 36.7l1 .5 1.3 3.8-5.8 0 1.5-2.8 1.3-1.2zM155 38.8l1-.3 .8 .5 .6 2-7.2 0 1.4-1 3-1zM222 39.4l1-.1 1.9 .7 1.1 1-5.4 0 .8-1zM273 39.9l2.5 .1 1.2 1-5.1 0 .8-1zM287 41l1-.3 1.1 .3-2.1 0z"/><path fill="#fce4bc" stroke="#fce4bc" fill-rule="evenodd" d="M135 -37.4l1 .1 1 3.3 2 1 4-.2 2 .5 5-1.2 1.1 .9 .1 2 .8 1 2 0 2 .6 1.1 2.4 .9 .8 2-.8 1 .4 2.8 2.6 .1 2 1.1 .5 1.2-.5 .8-1.3 1-.6 2 .5 1 1.6 1 0 .6-1.2-.2-1 .7-1 1.9-.6 4-.4 1.7 1 1.3 3 1 .7 8 1.3 6-.4 8 3.3 2-1.2 1-.1 1.4 .4 2.6 2 .5 1-.2 1-2.3 1.9-3 .1-1-.5-1-1.2-1-.1-3 1.4-7 1.7-3 1.5-10 2.9-18 .4-6 1.2-5 2.3-1.2 1.4-.2 2 1.3 2 2.1 1.5 3.8 1.5 .8 1 .1 1 2.5 2-2.2 3.8-.5 .2 .3 1 3.2 4 3.3 2 2 3 1.7 1.3 3 .8 3 3.4 2 .1 2-.9 1.5 .3 .9 1-.6 3 1.2 2.1 1 .3 1.4-1.4-1.4-4 .3-1 1.7-.7 1 0 1.3 .7 .5 2-.3 1-2 2-.5 2.3-1 1.3-1 .6-2 0-4-1.5-4-.3-1-.6-1-2.4-1-1-2.5 2.6-2.5 1.4-2-.5-2-1.3-1-.1-.9 .5-1 1 0 1 2 1 .7 1-.6 2-2.8 0-.4-1.7-1-.8-4 1.3-1.8 1.2-9.8 0 0-4-.4-1.1-1 .2-1.3 1.9-1.7 1.3-.6 .7-.2 1-6.5 0-.6-4-.9-1-1.2-.3-1.2 .3-.8 2.4-1 0-2-.8-2 .6-3 0-4 1.9-.5-3.1 .9-1-.4-.2-2 .8-2-2.6-1 0-.5 1 .2 1 .9 1-.2 1-1.4 .4-1.2-.4-1.1-1-.4-2-1.3-1.5-1.4 .5-.5 1 .1 2-1.2 1 0-10.7 1-.3 .9-1 0-1-1.9-1.3 0-2.3 2-.1 .4-.3-.4-1.1-2-.2 0-18.5 1-4.2-.1-1-.9-.7 0-7 .9 2.7 1.5 0 0-3 .4-2-2.8-4.5 0-3.1 .4-1.4-.4-1.4 0-4.6 4-1.6 9 .6 3-2.4 4-1.1 1 .3 1 1.1 3-.6 3 .2 2-.8 3 0 1.4-2.7 1-1zM144.3 -30l-.3 1 1 .7 1-.5 0-1.2-1-.6zM118.4 -27l.7 2-.1 1.1-3 1.5-3 .8-.5 .6 .4 1 4.1 3.8 1 .2 2-3.7 1-.1 1 .5 1.2 2.3-.6 3-2.6 2.1-1-.7-1-1.6-1-.6-2 .8-3-1.9-1 .4-1.4 2.5-.2 1 .1 3 .5 2.1-.5 .9-2.5 1.4-.5 .6 0 1 1.4 4 3.9 2-1 6 1 1 2.2 .8 1-.9 1 .1 .5 1 2.5 2.2 3 0 1 .7-.3 3.1 1.1 2 .1 3 2.1 1.4 1.7-1.4 .6-1-.5-1 .2-1.2 2-.4 5 .5 4-4 4 .2 3-.5 4-2.3 3.5-.3 1.6-1 .3-1-.4-2 .8-2-3.8-2.4-1.9-2.6 0-2 1.4-2 .2-2 1.2-1 3.1-.2 2 .5 5-.9 7 .2 10-.7 6-1.6 9.6-4.3 0-1-1.9-3-3.7-.7-4-1.7-5-.2-6-1.2-4 .8-3-.7-4 .8-4-1.2-3 1.3-1 .1-3-.9-3 .2-6-1.5-2-.1-.8-1-.2-1.2-1-.4-3-.1-2-1-1 .7 .3 5-.3 .7-1 .1-1.8-1.8-.6-2 0-3-.6-1.3-1-.6-2 .4-2 1.9-1 .2-1-.3-3-2-1 .1zM149.8 -27l-.3 1 .5 .5 0-1.6zM105.9 -20l-2.6 2-.5 1 .2 .3 1 .3 2-1.3 1.1-.3 .8-1-.9-.9-1-.2zM153.4 -5l-1.3 1 1.7 0 1.4-1-1.2-.7zM101.8 0l.2 .6 .6-.6-.6-.3zM101 8l-1.7 4-.1 1 4.8 4.3 1.1 2.7 .9 .5 1-.4 .7-1.1-.6-1-3-2 0-1 .9-2-1.9-3-.3-2-.8-.5-1 .5zM154.1 14l-.2 1 1.1 .5 2.4-.5-.7-1-1.7-.2zM112.5 16l.3 1 .4 0 .8-1-1-.4zM142 17l-.9 1 .4 1 .5 .1 1-1.1-1-1zM140 21l-1 .8-3 .8-1.2 1.4 0 1 .2 .4 3 .7 1.9 1.9 1.1 1.9 1 .4 3-6.3-1-.4-3-3.3-1 .7zM116.9 23l3.1 2.4 1-.1 0-1.5-1-1-3 .1zM145 24l.9 1 1.5 0-.4-1.2-1-.2zM152.4 24l.2 1 1.4 1.2 1 .3 .8-.5 .3-1-.2-1-.9-.8-2 .3zM104.3 26l-.2 2 .9 .9 2 .1 .8-1 .3-2-1.1-.8-2 0zM113.9 31l1.1 1.6 .2-1.6-1.2-.3zM146.4 32l.6 1 1-.6 0-.8-1-.5zM153.8 33l-.2 1 .4 .8 1 .4 .8-.2 .2-1-.8-1-1.2-.3zM230 -20.3l1 .4 .9 1.9-2.3 2 0 1 1.4 1.6 1 .5 4-.4 3.9-3.7-.1-2 .2-.6 1-.4 .3 1-.3 1.1-.9 .9 .9 2-.1 1-2.3 5-4.6 1.5-3-.4-3-1.3-5 .7-6.7-2.5-1.2-1-.4-1 .3-.4 4-1.9 5 .4 2-.4 .7-.7-.1-1 .5-1 2.3-2zM274 -17.3l1-.5 1 .4 1 1.4 .3 1-1.2 4 .9 .5 3 .1 .3 .4-.7 2-.6 .5-2 .1-4-1.1-1.8-1.5-2.2-1.2-1 .2-2 1.5-4-.6-3 1.3-3 .6-3-1.2-2 .3-3 1.7-4.8-.6-.1-1 .9-.5 1-1.2 .5-2.3 .5-.4 3 .2 3-2.3 6-.1 5 1.8 3-.8 5-.4 2.6-2zM126 -15.5l1 .1 .2 1.4-.7 1-1.5 .5-1.3-.5 0-1 1.4-1zM281 -13.1l1-.3 4 .4 .9 1-.2 1-1.8 1-2.8 0-1.6-1 .4-2zM282 5.6l4 1.4 1.8 3-.1 1-.8 1-2.9 2.2-2-.6-2.7-2.6-.3-1 2.2-4zM282 8l-1 1.2-.2 .8 .5 1 1.7 1.4 1.8-.4 .8-1 .1-1-.6-1-1.6-1-1.5 0zM172 22.1l1 .2 .6 .7 0 1-1.6 1.7-.7-1.7 .1-1zM193 29.7l1-.2 .9 .5 .2 1-2.1 1.6-1 .1-1.1-.7 1.6-2z"/><path fill="#f8d099" stroke="#f8d099" fill-rule="evenodd" d="M119 -27.6l1-.1 3 2 1 .3 1-.2 2-1.9 2-.4 1 .6 .6 1.3 0 3 .6 2 1.8 1.8 1-.1 .3-.7-.3-5 1-.7 2 1 3 .1 1 .4 .2 1.2 .8 1 2 .1 6 1.5 3-.2 3 .9 1-.1 3-1.3 4 1.2 4-.8 3 .7 4-.8 6 1.2 5 .2 4 1.7 3.7 .7 1.9 3 0 1-9.6 4.3-6 1.6-10 .7-7-.2-5 .9-2-.5-3.1 .2-1.2 1-.2 2-1.4 2 0 2 1.9 2.6 3.8 2.4-.8 2 .4 2-.3 1-1.6 1-3.5 .3-4 2.3-3 .5-4-.2-4 4-5-.5-2 .4-.2 1.2 .5 1-.6 1-1.7 1.4-2.1-1.4-.1-3-1.1-2 .3-3.1-1-.7-3 0-2.5-2.2-.5-1-1-.1-1 .9-2.2-.8-1-1 1-6-3.9-2-1.4-4 0-1 .5-.6 2.5-1.4 .5-.9-.5-2.1-.1-3 .2-1 1.4-2.5 1-.4 3 1.9 2-.8 1 .6 1 1.6 1 .7 2.6-2.1 .6-3-1.2-2.3-1-.5-1 .1-2 3.7-1-.2-4.1-3.8-.4-1 .5-.6 3-.8 3-1.5 .1-1.1-.7-2zM164.9 -19l-4.9 .3-4 1.9-5 1.2-3 .1-.8 1.5 .2 1 .4 1 1.2 1 5 1.9 3 .3 4 .9 9 .7 10-.7 5-1.3 5.4-2.8 2-2 0-1-1-1-5.4-2.2-5-.3-6-1.2-4 .6-4-.3-2 .4zM125.1 -15l-1.4 1 0 1 1.3 .5 1.5-.5 .7-1-.2-1.4-1-.1zM139.5 -14l-1.4 1-1 2-.4 3-2.9 2-1.8 .2-2-1.1-1 .1-2 .9-2.5 2.9-1.5 .2-3-.9-1 1.1-1.3 3.6 .3 2.7 2 .6 1 .8 2.9 5.9 1.4 1 2.7 1.2 3-.3 4 .5 3-.8 4-.2 3-1.1 2 .1 1.3-.4 1.2-1 .5-2.2 3.2-1.8-.1-1-2.5-2-3.6-6.4-1-.7-3 .3-1.5-1.2 .8-3 .6-5-.9-1.1-2 0zM131.9 -13l-.8 1 .3 1 .6 .5 1-.2 .1-1.3-1.1-1.1zM122 -9l1 .3 .8-.3-.8-.5-1 .5zM150 -27.1l0 1.6-.5-.5 .3-1zM106 -20.1l1 .2 .9 .9-.8 1-1.1 .3-2 1.3-1-.3-.2-.3 .5-1 2.6-2zM99.5 -18l2.3 4-.4 3 .2 1-.2 1-.4 .2-1.1-.2-.9-2.7 0-6.8zM154 -5.7l1.2 .7-1.4 1-1.7 0 1.3-1zM102 -.3l.6 .3-.6 .6-.2-.6zM282 8l1.5 0 1.6 1 .6 1-.1 1-.8 1-1.8 .4-1.7-1.4-.5-1 .2-.8 1-1.2zM113 15.6l1 .4-.8 1-.4 0-.3-1zM142 17l1 1-1 1.1-.5-.1-.4-1 .9-1zM100 19.7l1.2 .3 .2 1-.4 .3-2 .1 0-1.7zM140 21l1-.7 3 3.3 1 .4-3 6.3-1-.4-1.1-1.9-1.9-1.9-3-.7-.2-.4 0-1 1.2-1.4 3-.8 1-.8zM117 22.9l3-.1 1 1 0 1.5-1 .1-3.1-2.4zM146 23.6l1 .2 .4 1.2-1.5 0-.9-1zM153 23.5l2-.3 .9 .8 .2 1-.3 1-.8 .5-1-.3-1.4-1.2-.2-1zM147 31.1l1 .5 0 .8-1 .6-.6-1z"/><path fill="#f2a673" stroke="#f2a673" fill-rule="evenodd" d="M165 -19l2-.4 4 .3 4-.6 6 1.2 5 .3 5.4 2.2 1 1 0 1-2 2-5.4 2.8-5 1.3-10 .7-9-.7-4-.9-3-.3-5-1.9-1.2-1-.4-1-.2-1 .8-1.5 3-.1 5-1.2 4-1.9 4.9-.3zM163.5 -18l-4.3 1-2.2 2.4-1 .5-2 .2-1.1 .9 3.1 2 5.9 2 9.1 1 8-.6 6-1.5 3.2-1.9 1.8-2-.3-1-3.7-2-4-.4-4-1.1-4-.3-4 .4-3-.1-3 .4zM140 -14.1l2 0 .9 1.1-.6 5-.8 3 1.5 1.2 3-.3 1 .7 3.6 6.4 2.5 2 .1 1-3.2 1.8-.5 2.2-1.2 1-1.3 .4-2-.1-3 1.1-4 .2-3 .8-4-.5-3 .3-2.7-1.2-1.4-1-2.9-5.9-1-.8-2-.6-.3-2.7 1.3-3.6 1-1.1 3 .9 1.5-.2 2.5-2.9 2-.9 1-.1 2 1.1 1.8-.2 2.9-2 .4-3 1-2 1.4-1zM132.7 -3l-1.7 .6-2 2-4 2.4-1.3 2 0 2 3.3 4 1 .5 4 .4 3-.5 6 .2 1.5-.6 2.5-1.9 2-.4 1-1.2 .3-1.5-.1-3-3.2-2.6-2-.5-1.8 1.1-1.2 .1-4-2.9-3-.2zM132 -13.1l1.1 1.1-.1 1.3-1 .2-.6-.5-.3-1 .8-1zM122 -9l1-.5 .8 .5-.8 .3-1-.3z"/><path fill="#e9735e" stroke="#e9735e" fill-rule="evenodd" d="M164 -18.1l3-.4 3 .1 4-.4 4 .3 4 1.1 4 .4 3.7 2 .3 1-1.8 2-3.2 1.9-6 1.5-8 .6-9.1-1-5.9-2-3.1-2 1.1-.9 2-.2 1-.5 2.2-2.4 4.3-1zM163.1 -17l-3 1-1 1-.7 2 .4 1 4.2 1.9 7 1.3 4 0 6-.9 6-2.2 1.4-2.1-.4-1-1-.7-8-2-11-.1-3 .6zM133 -3l3 .2 4 2.9 1.2-.1 1.8-1.1 2 .5 3.2 2.6 .1 3-.3 1.5-1 1.2-2 .4-2.5 1.9-1.5 .6-6-.2-3 .5-4-.4-1-.5-3.3-4 0-2 1.3-2 4-2.4 2-2 1.7-.6zM134.4 0l-1.4 .9-3.6 1.1-1.4 1-.5 2 .4 1 1.2 1 2.9 1.2 3-.2 5 .5 1-.3 2-2.3 1-.7 1-.2 .9-1-.9-1.1-6-.6-2.9-2.3-1.1-.2z"/><path fill="#e34349" stroke="#e34349" fill-rule="evenodd" d="M164 -17.2l3-.6 11 .1 8 2 1 .7 .4 1-1.4 2.1-6 2.2-6 .9-4 0-7-1.3-4.2-1.9-.4-1 .7-2 1-1 3-1zM166.6 -17l-3 1-1.5 1-1 1 .4 1 3.3 2 5.2 1.4 3 .1 5-.5 4.6-2 1.4-1 .3-1-3.6-2-2.7-.8-11-.2zM135 -.2l1.1 .2 2.9 2.3 6 .6 .9 1.1-.9 1-1 .2-1 .7-2 2.3-1 .3-5-.5-3 .2-2.9-1.2-1.2-1-.4-1 .5-2 1.4-1 3.6-1.1 1.4-.9z"/><path fill="#e03045" stroke="#e03045" fill-rule="evenodd" d="M167 -17l11 .2 2.7 .8 3.6 2-.3 1-1.4 1-4.6 2-5 .5-3-.1-5.2-1.4-3.3-2-.4-1 1-1 1.5-1 3-1zM166.6 -16l-1.6 1-.4 1 .3 1 1.1 1 5 1.7 7-.8 2.8-1.9 .2-1-.8-1-1.2-.5-4 .1-3-.7-5 0z"/><path fill="#df2035" stroke="#df2035" fill-rule="evenodd" d="M167 -16.1l5 0 3 .7 4-.1 1.2 .5 .8 1-.2 1-2.8 1.9-7 .8-5-1.7-1.1-1-.3-1 .4-1 1.6-1zM167.5 -14l.2 1 2.3 1.3 3.3-.3 1.4-1-1.2-1-1.5-.5-2-.2-2 .3z"/><path fill="#b7212b" stroke="#b7212b" fill-rule="evenodd" d="M168 -14.4l2-.3 2 .2 1.5 .5 1.2 1-1.4 1-3.3 .3-2.3-1.3-.2-1z"/>
<use href="#land" fill="#787978" stroke="#787978" stroke-width="0.7"/>
</g>
<line x1="287.02" y1="37.50" x2="287.02" y2="232.72" stroke="#161616" stroke-width="5.2" stroke-dasharray="23.2 20.6" stroke-dashoffset="1.8"/>
<rect x="91.40" y="37.30" width="464.61" height="195.62" fill="none" stroke="#111" stroke-width="1.9"/>
<path d="M140.31,37.30v-4.6M140.31,232.92v4.6M238.12,37.30v-4.6M238.12,232.92v4.6M335.93,37.30v-4.6M335.93,232.92v4.6M433.74,37.30v-4.6M433.74,232.92v4.6M531.55,37.30v-4.6M531.55,232.92v4.6M91.40,61.75h-5.2M556.01,61.75h4.6M91.40,98.43h-5.2M556.01,98.43h4.6M91.40,135.11h-5.2M556.01,135.11h4.6M91.40,171.79h-5.2M556.01,171.79h4.6M91.40,208.47h-5.2M556.01,208.47h4.6" stroke="#111" stroke-width="1.3" fill="none"/>
<text x="77.00" y="75.95" font-size="34.5" text-anchor="end" fill="#000">30°N</text>
<text x="77.00" y="112.63" font-size="34.5" text-anchor="end" fill="#000">15°N</text>
<text x="77.00" y="149.31" font-size="34.5" text-anchor="end" fill="#000">0°</text>
<text x="77.00" y="185.99" font-size="34.5" text-anchor="end" fill="#000">15°S</text>
<text x="77.00" y="222.67" font-size="34.5" text-anchor="end" fill="#000">30°S</text>
<text x="436.15" y="221.70" font-size="34.3" font-weight="bold" fill="#000">IAP-05</text>
<text x="75.60" y="24.30" font-size="30.2" font-weight="bold" text-anchor="end" fill="#000">A</text>
<g transform="matrix(2.4453,0,0,-2.4453,450.070,135.112)" clip-path="url(#pc)" stroke-width="0.3" stroke-linejoin="round">
<path fill="#343f93" stroke="#343f93" fill-rule="evenodd" d="M158 -5.2l3-.3 10.6 .5 5.8 1 5.6 2.5 2 0 1.2 .5-3.2 2-2 2.6-4.3 1.4-10.7 .7-6-.2-2.6-.5-2.3-1-3.1-2-1.5-2 .3-1 2.3-2 4.1-2z"/><path fill="#394d9c" stroke="#394d9c" fill-rule="evenodd" d="M157 -5.1l5-.6 12 .7 14 2.8 1.5 1.2-.5 1.3-3 1.1-3.5 2.6-4.2 1-11.3 1-7-.2-3-.7-2.4-1.1-3-2-1.7-2 1.5-2 5.2-3zM157.2 -5l-4.1 2-2.3 2-.3 1 1.5 2 3.1 2 2.3 1 2.6 .5 6 .2 10.7-.7 4.3-1.4 2-2.6 3.2-2-1.2-.5-2 0-5.6-2.5-5.8-1-10.6-.5-3 .3z"/><path fill="#325ea6" stroke="#325ea6" fill-rule="evenodd" d="M157 -5.3l5-.6 14 .9 7 1.4 5 .6 2.5 1 .5 1-.8 2-1.2 .8-2 .6-2.8 1.6-2.2 .6-6 1-8 .5-8-.1-3.8-1-2.1-1-2.9-2-1.2-1-.4-1 .4-1 1-1 5-3zM156.6 -5l-5.2 3-1.5 2 1.7 2 3 2 2.4 1.1 3 .7 7 .2 11.3-1 4.2-1 3.5-2.6 3-1.1 .5-1.3-1.5-1.2-14-2.8-12-.7-5 .6z"/><path fill="#2373b3" stroke="#2373b3" fill-rule="evenodd" d="M160 -6.1l15 .8 14 2 2 .6 .9 .7 .4 1-.9 2-1.1 1-6.3 2.6-7 1.1-9 .6-9.2-.3-4.8-1.9-4.3-3.1-.5-1 .5-1 2.4-2 3.9-2.2 3.6-.8zM156 -5l-5 3-1 1-.4 1 .4 1 1.2 1 2.9 2 2.1 1 3.8 1 8 .1 8-.5 6-1 2.2-.6 2.8-1.6 2-.6 1.2-.8 .8-2-.5-1-2.5-1-5-.6-7-1.4-14-.9-5 .6zM188 6.8l2-.4 14 0 5.8 .6 2.4 1-1.2 .9-1 .1-17 0-5-.7-.8-.3 .2-1z"/><path fill="#28a0d5" stroke="#28a0d5" fill-rule="evenodd" d="M159 -6.1l10.3 .1 20.7 2.3 3 .9 .8 .8 .2 1-1.3 2-2.7 2-6 2.3-17 1.2-8-.3-5.5-2.2-4.1-3-.5-1 1.6-2 3.5-2.4 4.5-1.6zM159.6 -6l-3.6 .8-3.9 2.2-2.4 2-.5 1 .5 1 4.3 3.1 4.8 1.9 9.2 .3 9-.6 7-1.1 6.3-2.6 1.1-1 .9-2-.4-1-.9-.7-2-.6-14-2-15-.8zM196 -5.2l.2 .2-.9 0zM188 5.8l21 .1 8 1.1 3.9 0 3.7 1 .4 1 1.1-1 1.9-.3 1.7 .3-.5 1-1.2 .2-3-.2-2 .5-5-.4-8 1.2-7-.6-10 0-5-.4-4.1-1.3 0-1 3.4-1zM187.4 7l-.2 1 .8 .3 5 .7 17 0 1-.1 1.2-.9-2.4-1-5.8-.6-14 0-2 .4zM244 7l6 0 2.8 1-1 1-1.8 .8-1 .1-2-.6-3 .7-1-.2-1.2-.8 .1-1 2-1zM254 7.8l1-.6 1 0 1.2 .8-1.2 1.1-2.7-1.1zM236 8.6l1-.6 1 .4 .4 .6-1.4 .9-1.3-.9z"/><path fill="#3bbee5" stroke="#3bbee5" fill-rule="evenodd" d="M208 -26.6l1.2 .6-1.3 0zM196 -8.1l2-.3 1.6 .4 1.7 1-.1 1-.8 1-3.4 2.3-2.7 3.7-4.5 3 1.2 .9 23 .4 10 1.1 5-.3 4 1 4-.8 4 .4 6-1 5 .4 4-.3 3 .7 8 .1 1.1 .4 .9 1-.6 1-2.4 1-5-1.1-2 .4-3 1.5-3-.6-4 1.1-3-.1-2 .4-3-.6-4 .5-7-.7-5 .1-3 .6-3-1-5 .2-4 .8-7-1.1-10 .1-5-.5-4.9-1-1.6-1-.2-2-5.3 .5-10 .2-8-.6-3-1.1-3-1.8-2.9-2.2-.5-1 1.6-2 3.8-2.6 5-1.7 10 .1 15 1.7 6 0 1.5-.5 1.5-2.4 2.3-.6zM158.5 -6l-4.5 1.6-3.5 2.4-1.6 2 .5 1 4.1 3 5.5 2.2 8 .3 17-1.2 6-2.3 2.7-2 1.3-2-.2-1-.8-.8-3-.9-20.7-2.3-10.3-.1zM195.3 -5l.9 0-.2-.2zM187.3 6l-3.4 1 0 1 4.1 1.3 5 .4 10 0 7 .6 8-1.2 5 .4 2-.5 3 .2 1.2-.2 .5-1-1.7-.3-1.9 .3-1.1 1-.4-1-3.7-1-3.9 0-8-1.1-21-.1zM243.9 7l-2 1-.1 1 1.2 .8 1 .2 3-.7 2 .6 1-.1 1.8-.8 1-1-2.8-1-6 0zM253.3 8l2.7 1.1 1.2-1.1-1.2-.8-1 0-1 .6zM235.7 9l1.3 .9 1.4-.9-.4-.6-1-.4-1 .6zM252 15.9l1-.4 1 .5 .2 1-2.2 1.4-.8-.4 0-1 .7-1zM248 18.4l2 .1 .9 .5 0 1-.9 .7-2 0-1.5-.7 .9-1z"/><path fill="#80cbe3" stroke="#80cbe3" fill-rule="evenodd" d="M204 -29.1l9-.7 2 .6 2 1.4 9-.1 3.2 .9 1.5 3-.5 1-1.2 .9-1 .1-1-.8-1-.2-4 1.8-4-.2-2 .4-2 .9-1 0-3-1.4-3 0-1-.5-.9-1-1.1-2.7-1.1-.3 .1-1 .9-2zM207.9 -26l1.3 0-1.2-.6zM195 -10.5l1-.5 1 .1 3 .8 3-.7 1 .2 2.7 1.6 .4 1-.1 1-1 1-2 .8-2 1.6-3.6 1.6-2.6 3-2.4 2 .7 1 2.9 .4 4-.3 13 .2 8 .9 7-.2 3 .7 6-.6 4 .3 5-.7 4 .4 5-.2 18 1.5 1.5 .6 .6 1-1.3 1-3.8 .6-5 1.9-2 0-4-.9-1.2 .4-2.8 2 0 1 1 1 3.4 2 .1 1-1.5 1-.4 2 .4 .6 2.2 .4-.1 1-2.1 2.2-1 .4-3-1.9-4 .7-5-1.2-4-.5-1.6-1.7-1.4-3.7-1.3 2.7-1.7 1.9-2 .8-2-.4-4 .1-1-.4-2-2.2-3-1.2-1 .3-2 1.9-1 .3-1.1-1.1-.1-1 1.2-1.6 1-.5 3-.5 2 .4 2 2.2 1 .4 2-.1 3-1.2 2-1.7 2-.3 2 .2 1.6-1.3-.1-1-.5-.1-4-.7-4 .3-2 .8-3-1.8-1-.1-3 1.3-2.7-1.7-1.3-.2-8 1-7-1.5-3 .5-4-.8-3 .5-11-1.8-3.2-1.7 .2-1-20-.5-3-.9-3-1.5-4.2-3.1-.5-1 .7-1.2 4-3 2-1.2 3-1 11 0 15 1.6 3-.1 2-.8 1.7-2.3 3.6-2zM195.3 -8l-2.3 .6-1.5 2.4-1.5 .5-6 0-15-1.7-10-.1-5 1.7-3.8 2.6-1.6 2 .5 1 2.9 2.2 3 1.8 3 1.1 8 .6 10-.2 5.3-.5 .2 2 1.6 1 4.9 1 5 .5 10-.1 7 1.1 4-.8 5-.2 3 1 3-.6 5-.1 7 .7 4-.5 3 .6 2-.4 3 .1 4-1.1 3 .6 3-1.5 2-.4 5 1.1 2.4-1 .6-1-.9-1-1.1-.4-8-.1-3-.7-4 .3-5-.4-6 1-4-.4-4 .8-4-1-5 .3-10-1.1-23-.4-1.2-.9 4.5-3 2.7-3.7 3.4-2.3 .8-1 .1-1-1.7-1-1.6-.4-2 .3zM249.9 13l.1 1.1 1.4-1.1-1.4 0zM251.9 16l-.7 1 0 1 .8 .4 2.2-1.4-.2-1-1-.5-1 .4zM247.4 19l-.9 1 1.5 .7 2 0 .9-.7 0-1-.9-.5-2-.1z"/><path fill="#a8dbe9" stroke="#a8dbe9" fill-rule="evenodd" d="M117 -41l2.5 0-.5 1-1 .2-1.6-1.2zM105 -39.3l1 .3 .4 1-.4 1.1-1-.7-.3-1.4zM112 -38.1l.4 1.1-.4 .1-.3-.1 .2-1zM201 -32.3l1-.3 5 1.6 3-1.4 1-.1 5 1 3 1.6 5-.2 3-.9 3 .3 7-.8 .7 .5 .1 2 .4 1 2.8 1.7 3-.2 1 .5 .3 2-1 3-1.3 .5-4-1.1-3 1.4-1 0-3-1.3-1 .4-3 2.2-3.9 .9-2 1 .3 2-.4 .3-1 .1-2-.8-3 .4-4-2-.7-1-1.3-.8-1 0-1.2 .8 0 1 3.2 2.7 .4 2.3-2.4 6-.6 1-1.3 1-4.1 2.1-3.4 .9-2.8 3-.1 1 5.3-.2 8 .8 3-.4 8 1.1 7-.4 4 .5 7-.4 4 .5 4-.8 3 .4 3-.3 10 .7 11 .1 8 2 .4 1.4-.4 2.4-1 1-3-.4-2 1.1-4 0-1.7 .9-1.3 2 .3 3 1.7 3.3 1.2 .7 .1 1-2.3-1-3 .6-.5 2.4-5.5 2.4-1.6 4.6-2.4 2.2-1-.1-1-.9-1-.1-2 2.4-3 1.1-1.3-.6-.7-3.5-1-.9-1 0-3 1.2-3 0-4 1.8-1-.1-3-1.6-1.6 3.1-1.4 .5-.8-.5-.2-.8 .5-2.2-.4-1-1.1-.3-.7 .3-1.3 2-1 .4-2-.9-2-3.1-1-.1-4.9 3.7-1.1 1.3-1-.1 .7-5.2-1.1-1-2.6-1.5-3-.7-1-.8-.7-2-1.3-.7-.8 .7 1.6 2 0 1-.6 1-1.2 .7-1 0-3-1-2 1.3-.5-1 .9-2 .6-1 2-1.2 .6-.8 .2-1-1.7-3-.6-2 0-1 1-2-.5-1.1-2-.2-3 .9-2.3-1.6-10.7-1.3-3.8-1.7-1.2-2-8 .2-8-.7-5-2.2-4.5-3.3-.6-1 2.1-2.3 3-2.3 4-1.8 4-.4 8 .2 16 1.3 2.1-.7 2.6-3 5.3-3.5 1-.3 3 .5 1-.5 1-2 1.9-2.2-.5-1-1.4-.9-1 0-1 1.1-1-.1-.7-1.1-.6-4-.7-1.6-1-.6-3-.4-.5-.4-.1-1 1.2-1 3.4-1.2 3 1.1 1-.3 .8-1.6 0-2zM203.9 -29l-.9 2-.1 1 1.1 .3 1.1 2.7 .9 1 1 .5 3 0 3 1.4 1 0 2-.9 2-.4 4 .2 4-1.8 1 .2 1 .8 1-.1 1.2-.9 .5-1-1.5-3-3.2-.9-9 .1-2-1.4-2-.6-9 .7zM194.3 -10l-3.6 2-1.7 2.3-2 .8-3 .1-15-1.6-11 0-3 1-2 1.2-4 3-.7 1.2 .5 1 4.2 3.1 3 1.5 3 .9 20 .5-.2 1 3.2 1.7 11 1.8 3-.5 4 .8 3-.5 7 1.5 8-1 1.3 .2 2.7 1.7 3-1.3 1 .1 3 1.8 2-.8 4-.3 4 .7 .5 .1 .1 1-1.6 1.3-2-.2-2 .3-2 1.7-3 1.2-2 .1-1-.4-2-2.2-2-.4-3 .5-1 .5-1.2 1.6 .1 1 1.1 1.1 1-.3 2-1.9 1-.3 3 1.2 2 2.2 1 .4 4-.1 2 .4 2-.8 1.7-1.9 1.3-2.7 1.4 3.7 1.6 1.7 4 .5 5 1.2 4-.7 3 1.9 1-.4 2.1-2.2 .1-1-2.2-.4-.4-.6 .4-2 1.5-1-.1-1-3.4-2-1-1 0-1 2.8-2 1.2-.4 4 .9 2 0 5-1.9 3.8-.6 1.3-1-.6-1-1.5-.6-18-1.5-5 .2-4-.4-5 .7-4-.3-6 .6-3-.7-7 .2-8-.9-13-.2-4 .3-2.9-.4-.7-1 2.4-2 2.6-3 3.6-1.6 2-1.6 2-.8 1-1 .1-1-.4-1-2.7-1.6-1-.2-3 .7-3-.8-1-.1-1 .5zM201.7 13l-1 1-.4 1 0 1 .7 1.3 1 0 1.4-1.3 2.8-1-.1-1-1.8-1-1.3-.3-1 .2zM234.6 26l-.9 1 .2 1 1.1 .3 .5-1.3-.5-1.1zM250.8 28l.5 2 .7 .6 1-.2 .6-1.4-.2-1-1.4-.7-1 .4zM250 13l1.4 0-1.4 1.1-.1-1.1zM188 18.6l1-.2 1.4 .6 .2 1-1.6 1.7-1 .1-1.1-.8 0-1 .6-1z"/><path fill="#c4e8f7" stroke="#c4e8f7" fill-rule="evenodd" d="M102 -41l5.2 0 1.8 1.9 1-.4 1.1-1.5 5.3 0 1.6 1.2 1-.2 .5-1 1.5 0-1 2.5-1 .4-3-.8-.9 .9 .4 2-.5 1-1 .4-6 .1-3 .5-1-.4-.4-.6-1.3-3-.8-3zM104.7 -39l.3 1.4 1 .7 .4-1.1-.4-1-1-.3zM111.9 -38l-.2 1 .3 .1 .4-.1-.4-1.1zM125 -41l.8 0-.9 0zM196 -41l1.8 0-1.8 0zM220 -41l5.1 0-1.1 1.2-3 .8-1-1-.1-1zM241 -41l.6 0 .1 1-.7 1.7-.8-.7 .6-2zM250 -41l1.4 0 .9 2-.3 .6-2 .2-.9-.8 .8-2zM271 -41l2.5 0-.5 1.2-1 .1-1.2-1.3zM196 -37.1l0 .4-1-.3zM191 -35.1l1 .1 3 1.8 3 1 2-2.2 1-.1 4 1.9 2 .4 1.1-.8 .9-2.3 1-.5 2.5 1.8 3.5 .9 2-.7 3-2 1 .1 2 2.1 2-.3 3 1 2-.7 3 1 5-.8 2-1.8 3 .5 2-.7 1 .2 1 1.2 1.8 3 1.2 1 .9 3 3.4 3 .7 1.2 1 .8 2-.3 1.3 1.3-.3 1.8-1 .8-5 0-2.3-.6-1-1-.7-2.1-.8 .1-1.6 2-1.6 1.1-5 1-1-.1-1-1.1-1 .1-3 .9-2.5 2.1-2.5-.1-2 1.2-3 0-3 1.7-3-.3-1 .3-1.1 1.2-.9 2.6-1 .9-4 1.9-2 2.6-5 3.4-3.3 .6-.7 1.2 6 .8 3.9 1 3.1-.4 8 1.2 3-.6 4 0 4 .5 7-.4 4 .7 4-.9 3 .4 3-.4 10 .8 3-.3 5 .3 3-.2 6 1.1 4-.4 2-.5 1.4 1.1 .6 2.5 1 .5 2-.7 0 4.9-3 .2-3-3.7-1 .6-1 2.7-2.6 2 1 2 0 1-1.4 1.5-1 .2-.8-.7 .2-3-.4-.4-6-.3-.5 .7 .5 1.1 2 .4 .8 .5 .5 1-.9 3 .6 2.1 1.7 1.9 0 1-.7 1.8-1 .4-2-.7-2 3.2-1-.2-3-3-3.3 .5-1.1 1-.3 3-2.1 2-.4 1 .3 1 1.9 1.2 2-1.4 1 0 2 2.5 2.5 .7-.9 2-5.4 0-1.2-2.6-2-.4-1-1-1-.3-3-.1-4 .9-.7 .5-1.3 2.8-2-.2-1.4 .4-3.6 0-2-1.7-2-1.1-1 .1-1 1.7-1 .1-1.5-4.1-1.5-.7-2.7 2.7-.3 .8-1 .2-5-2.5-3-.9-1.1-2.6-.9-.8-1 .3-2.9 2.5-1.1 2.4-1 1.1-1-.2-3-2.4-1 .1-2 1.6-1-.1-2.4-1.5-1.2-2 0-1 .6-.9 2-.5 .6-.6-1.6-.4-2 .8-2-1-3 1.1-3.7-3.5-1.1-4-1.2-.6-2.3-.4-1.4-1-.2-1 .8-3 1.1-.8 3.3-1.2-.2-2-1.1-1-4 0-3-.9-3 .1-4-2.3-1.1-.9-.9-1.5-.9-.5-5.1 .7-10-1.4-4-1.9-4.7-3.4-.6-1 2.3-2.5 3-2.2 4-1.9 12-.1 10 .9 6 .1 1-.3 2.6-3 3.3-2 2.1-1.8 2-1 2.4-.2-.1-1-2.2-3-1.2-5-.9-.7-3-.3-1.9-3-.1-2.6 1 .3 1-.2 1.1-.5 .6-1-.4-1-1.9-2 .5-1zM200.8 -32l0 2-.8 1.6-1 .3-3-1.1-3.4 1.2-1.2 1 .1 1 .5 .4 3 .4 1 .6 .7 1.6 .6 4 .7 1.1 1 .1 1-1.1 1 0 1.4 .9 .5 1-1.9 2.2-1 2-1 .5-3-.5-1 .3-5.3 3.5-2.6 3-2.1 .7-16-1.3-8-.2-4 .4-4 1.8-3 2.3-2.1 2.3 .6 1 4.5 3.3 5 2.2 8 .7 8-.2 1.2 2 3.8 1.7 10.7 1.3 2.3 1.6 3-.9 2 .2 .5 1.1-1 2 0 1 .6 2 1.7 3-.2 1-.6 .8-2 1.2-.6 1-.9 2 .5 1 2-1.3 3 1 1 0 1.2-.7 .6-1 0-1-1.6-2 .8-.7 1.3 .7 .7 2 1 .8 3 .7 2.6 1.5 1.1 1-.7 5.2 1 .1 1.1-1.3 4.9-3.7 1 .1 2 3.1 2 .9 1-.4 1.3-2 .7-.3 1.1 .3 .4 1-.5 2.2 .2 .8 .8 .5 1.4-.5 1.6-3.1 3 1.6 1 .1 4-1.8 3 0 3-1.2 1 0 1 .9 .7 3.5 1.3 .6 3-1.1 2-2.4 1 .1 1 .9 1 .1 2.4-2.2 1.6-4.6 5.5-2.4 .5-2.4 3-.6 2.3 1-.1-1-1.2-.7-1.7-3.3-.3-3 1.3-2 1.7-.9 4 0 2-1.1 3 .4 1-1 .4-2.4-.4-1.4-8-2-11-.1-10-.7-3 .3-3-.4-4 .8-4-.5-7 .4-4-.5-7 .4-8-1.1-3 .4-8-.8-5.3 .2 .1-1 2.8-3 3.4-.9 4.1-2.1 1.3-1 .6-1 2.4-6-.4-2.3-3.2-2.7 0-1 1.2-.8 1 0 1.3 .8 .7 1 4 2 3-.4 2 .8 1-.1 .4-.3-.3-2 2-1 3.9-.9 3-2.2 1-.4 3 1.3 1 0 3-1.4 4 1.1 1.3-.5 1-3-.3-2-1-.5-3 .2-2.8-1.7-.4-1-.1-2-.7-.5-7 .8-3-.3-3 .9-5 .2-3-1.6-5-1-1 .1-3 1.4-5-1.6-1 .3zM240.3 -31l-.5 1 .2 1 1 .5 2 .1 1.7-.6-.1-1-.6-.4-3-.8zM187.5 19l-.6 1 0 1 1.1 .8 1-.1 1.6-1.7-.2-1-1.4-.6-1 .2zM207.8 31l1.2 1.5 .4-.5-.1-1-1.3-.8zM242.7 35l-.2 1 .5 1.1 1 .3 1-.4 .4-1-.4-1.6-2 .4zM261 -27.2l0 .3-.6-.1zM269 -21.8l.3 .8-.3 1.1-.4-1.1zM279 -21l2-.3 .6 .3-.2 1-1.4 1-1-.3-.4-.7 .4-1zM272 -12.1l0 .3-.2-.2zM202 12.9l1-.2 1.3 .3 1.8 1 .1 1-2.8 1-1.4 1.3-1 0-.7-1.3 0-1 .4-1 1-1zM287 17l2 .3 .9 .7 .1 1-1 1.1-2-.2-1-.7-.2-1.2 1.1-1zM181 25.9l0 .3-.1-.2zM235 25.9l.5 1.1-.5 1.3-1.1-.3-.2-1 .9-1zM251 27.7l1-.4 1.4 .7 .2 1-.6 1.4-1 .2-.7-.6-.5-2zM189 32.8l1.5 1.2-.3 1-1.2 .3-1.1-.3-.1-1 .8-1zM270 32.9l2-.6 2.7 1.7-.7 1.4-1 .4-3-.4-.6-.4-.2-1 .7-1zM277 32.7l1-.4 1 .4 .4 1.3-.4 .5-1 .1-1.3-.6-.1-1zM287 34l.3 1-.3 .3-1.1-.3 .1-.7 .9-.3zM210 39.8l1-.4 .8 .6 .3 1-2.6 0 .4-1zM228 39.1l1 0 1.8 1.9-3.4 0 .2-1z"/><path fill="#fcf0dc" stroke="#fcf0dc" fill-rule="evenodd" d="M136 -40.8l7.9-.2 1.1 1.4 .4-1.4 6.1 0 1.5 2.2 3.7 .8 .1 2 2.2 2 1 .3 2-1 2 .7 4-2.5 1 .8 .5 1.7 1.3 2 3.7 3 1.5 .3 2-.2 3 2.3 1.8 2.6 4.2 0 .8 2 1.1 1 1.1 .4 2-.2 1.2 .8 1.2 3 0 2-3 3-3 2-4.8 4-4.6 0-4-.6-14-.7-4.1 .3-.9-.7-4 2.9-4.7 4.8 2.7 2.5 5 3.2 2 .9 7.6 1.4 .6 2 2.8 2.6 2.9-2.6 1.1-.1 4.7 3.1 .4 1-.2 1-.9 1.7-3 0-1.4 1.3 .1 3-.4 2 .5 1 2.2 1.6 1 .3 2-1.7 .3 .8-.3 2.1-1.9 2.9 0 2-.8 2 .3 1 1.4 1.3 1-.5 .3-.8 1.1-1 3.5-2 1.1-1.6 1 .1-.3 3.5 .6 2 1.4 2-1.3 1-1.4 .2-2-.9-3-.3-1 .4-1.5 1.6-1.5 .3-4-1.8-2-.2-2 .8-1.7 1.9-11.1 0-1.2-1.8-1-.7-1 .5-1.9 2-32.5 0-1.6-.6-1 .1-.3 .5-4.2 0 .6-2-.1-1.5-3-1.3-2 .7-.7 1.1 .7 2.1 2.3 .9-7.3 0 0-1.8 1 .2 1.2-.4-.2-1-2-.9 0-1.6 .6-1.5-.6-.7 0-1.2 2 1.5 1 .1 1.1-.7 .8-1-.3-3 1-1 1.4-.6 .6 .6-.2 2 .6 1.2 1 .7 3 .2 1.4 .9 .5 1-.3 2 .4 1 1 1 1 .1 3-2.5 2-.2 3 .8 4 1.8 2-1.9 1-.4 1 .3 2 1.7 2 0 2 1.3 5-.7 1-.8 1 0 2 1.3 1 0 4-2.5 1 .2 2 2.7 2 1.2 1.3-2.4 .2-3 .8-2-.1-3 .4-3 1.4-1.5 2.2-1.5 .6-2 1.8-1 .1-1-1.5-3 .5-3-.5-6-7.2-1.7-3-1.6-5.2-3.7-.7-1 .4-1 2.2-2 0-1-2.1-4 .4-.8 1-.2 2 1.2 1.1-.2 .9-1 .1-1-1-3 .9-.5 3 .9 3 2.4 1.8 .2-.6 2 8.5 1 13.3 .6 2-.8 6.3-4.8 2.6-3 .1-2-1-1.3-2-.5-5-3.8-3.8-.4-1.1-2-1.1-.9-4-1.1-3-2-2-.8-1 0-2 1.1-4-.1-7-3.3-3 1.7-2-.1-2.8-1.5-1.2-2.3-3.6-1.7-1.9-2-2.5-1.6-1 .4-2 1.9-1 .2-4-.8-1 .8-1 2.4-1 .8-6 1.4-2-.4-1.3 .9-2.2 3-.1 3 .3 1 1.3 .4 3-2.3 1 .8-1.2 4.1 .2 1 1.4 1 .1 1-1.5 2.8-3 2.4-1.4 1.8-.3 1 1.2 3-.5 1.7-3-1-1 .4-2 1.5-4 4-1 .3-2-.4-1 .3-2 2.1-2 1 0-2 1.9-.9 .7-1 .3-1-.3-3 1.4 .2 2 2.1 1-.3 .1-2 3.9-1.7 .9-1.3-3.8-2 1.5-7-.6-.5-3 1.7-1-.1 .2-2.1-1.2-1-4 .4 0-1.8 2-.3 1.4-2.3-.5-2 .2-1 2-1 1.9-3 3-.5 3-1 3 .4 1-.3 3-2.2 7-.5 1.4-.9 1.5-3 1.1-.8 1-.1 3 1.2 1.2-.3 .6-1zM150.9 -35l-.8 1 .9 .9 1-.3 .2-.6-1.2-1zM110.8 -30l-3.7 1 .1 1 .8 1 1 .3 2 .4 1-.1 1.5-1.6 .4-1-.9-1.2-2 .1zM109.6 -23l.4 .4 1.1-.4-1.1-.9zM112.9 -21l-.9 .7 0 .5 1.2-.2-.2-1zM114.7 -18l-1 1 .3 .7 1 .2 .8-.9 0-1-.8-.1zM114 -13l-1.6 1-.7 1 .3 1 2.1-1 .3-1-.4-1zM167.8 14l-2.2 2-.4 1 .8 1.1 1 0 2.3-2.1 .2-1-.5-1.3-1-.2zM172.5 14l.5 .7 1.9-.7-1.9-.6zM167.6 21l-.7 1-.5 4-1.1 2-.1 1 .8 .9 2-.1 1.1-.8-.8-3 .4-2-.2-1 .6-2-.1-.5-1 .3zM171.8 28l.3 1 .9 1 .9-1-.9-1.2-1-.1zM162.5 32l-3.2 2 .4 2 2.3-.3 3 .7 .9-.4 1.2-3-.6-1-1.5-.8-2 .5zM105.7 33l.3 1.3 .4-.3 0-1-.4-.4zM172.8 38l1.3 0-1.1-.9zM165 -41l0 .3-.1-.3zM291 -41l0 1.2-.5-1.2zM227 -39l1-.5 .9 .5 .4 1-.3 1.3-1 .5-1-.5-.4-1.3 .4-1zM280 -39.3l1-.2 1.2 2.5-.2 1.1-1 1.5-2-.5-1.2-1.1 .1-1 1.9-2zM184 -38.2l1-.1 1 .3 .7 1-.6 1-1.1 .5-1-.3-.8-1.2 .5-1zM265 -38.2l.5 .2-.5 .6-.2-.6zM173 -36.7l1-.3 1 .3 .7 .7 .3 2-1 .9-2 0-.9-.9-.5-1 .5-1zM236 -36.1l0 1.1-.4-1zM272 -35.3l1.5 1.3 0 1-.5 .6-1.5-1.6-.1-1zM179 -33.2l1 .2 .1 1-1.1 1.2-1-1.2 .5-1zM135 -32.5l.9 .5-.5 1-.7 0-.4-1zM142 -29.2l.6 .2-.6 .3-.1-.3zM150 -27.5l1-.5 1.2 1 0 1-.7 1-1.5 1.1-1-.1-.3-1 1-2zM290 -26l1-.4 0 4.7-2-1.1-3-.3-.5-.9 .5-1.3 3 .1 1-.8zM132 -23.4l1-.2 1 .3 1 2.3 4.1 2 1.1 1-.7 1-1.5 .6-3-.1-3 1.1-1-.1-4-2.1-2.4-2.4-.4-1 .8-.9 1-.1 4 2.9 1 .1 1.4-1 .2-1-.8-1-.1-1zM265 -22.2l0 1.4-.3-.2 .1-1zM143 -21l1 .1 4.2 1.9 .8 1-.4 2 .8 1 0 1-1 1-1.4 .5-2-.1-1-.5-1.3-1.9-.2-5zM266 -17.6l1-.2 1.2 .8 .5 2-.7 1-1-.4-1.3-2.6zM251 -16.2l1 0 2 .8 2-.2 .6 .6 1.2 3-2.3 3 .5 .6 3.5-.6 1.5-2.3 1-.7 5-.7 3.6 3.7 1.4 2.8 1 0 .9-.8 .8-2 3-3 1.3-3 1-.6 1 0 1.9 2.6 2 5 1.1 .9 2 .4 2-1.7 1-.1 0 5.9-2 .5-1-.1-1.6-.8-.3-1-1.1-.6-.5 .6 .5 1-.3 1-1.7 .4-2-.2-1.1 .8 .5 1 2.6 1.2 4.8-1.2 1.2-.7 2 .7 0 1.5-2-.2-6 1.3-7-.4-2.6-1.2-1.4-2.4-1-.1-2 2.6-3 0-3 1.5-1 .2-5-.8-7 .3-3-.5-4 1-4-.9-7 .7-5-.9-3-.1-3 1-1 0-7-1.2-4 .2-1.6-1.6 .1-1 .5-.6 4-1.4 8-5.4 2-.9 1-1 1-1.7 1-.4 3-.2 8-2.2 2 1.4 1 .1 3-1.3 1 .1 2 2.5 2-.1 2-.6 1.8-3.3zM280 -13l-.3 1 .3 .8 1 .6 .6-.4-.1-1-.5-.8-1-.2zM251.8 -12l-.7 1-.1 1.2-1 .6-3-.5-.6 .7-.4 2-1 .7-1-.3-1-1.6-1.2 1.2-1.1 0-.9-1-.3-2-.5-.2-6 1.4-1.9-.2-3.1-1.2-1 .2-4 2.9-2.6 1.1-.9 2-1.5 1.5-2-1.2-1.8 .7-1.9 2 .1 1 2.6 .6 1-.2 1-1.4 1-.4 1.6 2.4 1.4 .4 2-.9 4-.1 5 1.3 7-1.1 4 1.1 3-1.1 5 .7 5-.9 3 1.1 3 .2 3-1.9 3-.8 1.5-2 0-2-1.4-2-.6-2-1.5-1.4-2.4 .4-2.6 2.8-6 1.7-2-.3-1.1-1.2-.6-2 2.8-2-.7-1-1.4-.1zM254.8 -8l.4 0-.2-.2zM277.4 -5l-2.9 2 1.5 2.4 1 .3 1.8-3.7-.2-1-.6-.4zM209 0l1 .4 1.6-.4-1.6-.9-1 .8zM227 -7.3l1-.3 .5 1.6-1 0-.6-1zM104 2.3l1-.2 1.4 .9 0 1-.8 1-1.6 .5-1.7-.5 0-1 .9-1zM99.4 12l.9 1 1.7 5.2 1.1 .8 4.9 .4 1.3 .6-.7 1-3.6 2.8-2-.3-1 .6-2 2.8-1 .6 0-3.5 .6-1-.6-.3 0-11.1zM158 17.9l0 .7-.5-.6zM282 37l1-.1 .8 1.1-.8 .4-.8-.4-.2-1zM285 39l1.1 0-1.2 0z"/><path fill="#fce4bc" stroke="#fce4bc" fill-rule="evenodd" d="M138 -39.2l1-.4 1 .4 3.4 3.2 3.6 1.7 1.2 2.3 2.8 1.5 2 .1 3-1.7 7 3.3 4 .1 2-1.1 2 .3 3 2 5 1.6 1.1 .9 1.1 2 3.8 .4 1 .5 4 3.3 2 .5 1 1.3-.1 2-1.5 2-7.4 5.8-2 .8-13.3-.6-8.5-1 .6-2-1.8-.2-3-2.4-3-.9-.9 .5 1 3-.1 1-.9 1-1.1 .2-2-1.2-1 .2-.4 .8 2.1 4 0 1-2.2 2-.4 1 .7 1 5.2 3.7 3 1.6 7.2 1.7 .5 6-.5 3 1.5 3-.1 1-1.8 1-.6 2-2.2 1.5-1.4 1.5-.4 3 .1 3-.8 2-.2 3-1.3 2.4-2-1.2-2-2.7-1-.2-4 2.5-1 0-2-1.3-1 0-1 .8-5 .7-2-1.3-2 0-2-1.7-1-.3-1 .4-2 1.9-4-1.8-3-.8-2 .2-3 2.5-1-.1-1-1-.4-1 .3-2-.5-1-1.4-.9-3-.2-1-.7-.6-1.2 .2-2-.6-.6-1.4 .6-1 1 .3 3-.8 1-1.1 .7-1-.1-2-1.5 0-4.6 1-.6 2-2.8 1-.6 2 .3 3.6-2.8 .7-1-1.3-.6-4.9-.4-1.2-1-1.6-5-1.3-1.4 0-9.7 2-1 2-2.1 1-.3 2 .4 1-.3 4-4 2-1.5 1-.4 3 1 .5-1.7-1.2-3 .3-1 1.4-1.8 3-2.4 1.5-2.8-.1-1-1.4-1-.2-1 1.2-4.1-1-.8-3 2.3-1.3-.4-.3-1 .1-3 2.2-3 1.3-.9 2 .4 6-1.4 1-.8 1-2.4 1-.8 4 .8 1-.2 1.8-1.7zM134.3 -32l.4 1 .7 0 .5-1-.9-.5zM141.9 -29l.1 .3 .6-.3-.6-.2zM149.7 -27l-1 2 .3 1 1 .1 1.5-1.1 .7-1 0-1-1.2-1-1 .5zM131.7 -23l.1 1 .8 1-.2 1-1.4 1-1-.1-4-2.9-1 .1-.8 .9 .4 1 2.4 2.4 4 2.1 1 .1 3-1.1 3 .1 1.5-.6 .7-1-1.1-1-4.1-2-1-2.3-1-.3-1 .2zM172.1 -22l-5.1 .9-6 2.9-2-.8-.7 1 .3 2 .9 1 2.5 1.1 1.7 1.9 1.3 2.6 1 .7 11.5 1.7 2.5-.2 3-.9 4.3-2.9 3.1-3 .3-1-.3-1-5.4-4.6-8-2.2-4 .5zM142.5 -20l.2 5 1.3 1.9 1 .5 2 .1 1.4-.5 1-1 0-1-.8-1 .4-2-.8-1-4.2-1.9-1-.1zM127 -14l-1.3 1-2.7 1-3 2.5-.5 1.5 .2 1 3 2-.4 2-1.3 1-3 .6-2.4 1.4-1.3 2-4.1 4 .1 4 1.7 4 1.4 2 .6 1.8 1-.3 1.7-1.5 1.6 0 3.2 4 .5 1.3 2-.5 1.2 .2 .8 1 .2 3 2.8 3.2 1 .5 1-.3 3 1.3 2-.1 .7-.6 1.1-3 1.2-1.5 2-.6 .9-.9 .1-1-.6-2 .6-.7 1-.5 4-.1 1.3-.7 1.7-2.1 1.7 .1 1.3 1.2 1-.5 1.6-1.7 3.4-1.4 .5-.6 .1-2 1-2-1-1-1.6-.2-4-2-8-5.4-2-.2-2-1.4-3-.5-2.2-1.3 .1-1 1.1-.9 4-.8 1.3-1.3 .7-2-.1-1-1.9-1.8-5-2.5-5 .4-4-.4-1 .3zM103.2 3l-.9 1 0 1 1.7 .5 1.6-.5 .8-1 0-1-1.4-.9-1 .2zM157.5 18l.5 .6 0-.7zM119.1 23l.3 1 1.6 1.5 .7-.5 .3-1.7-1-.6-1 .1zM140.4 26l-.8 1-.2 2 1.5 2 1.1 .2 2.6-1.2 .9-1-.6-1-1.9-1.6-2-.9zM111 -30.1l2-.1 .9 1.2-.4 1-1.5 1.6-1 .1-2-.4-1-.3-.8-1-.1-1 3.7-1zM113 -21l.2 1-1.2 .2 0-.5 .9-.7zM280 -13l1 .2 .5 .8 .1 1-.6 .4-1-.6-.3-.8 .3-1zM252 -12.1l1.4 .1 .7 1-2.8 2 .6 2 1.1 1.2 2 .3 6-1.7 2.6-2.8 2.4-.4 1.5 1.4 .6 2 1.4 2 0 2-1.5 2-3 .8-3 1.9-3-.2-3-1.1-5 .9-5-.7-3 1.1-4-1.1-7 1.1-5-1.3-4 .1-2 .9-1.4-.4-1.6-2.4-1 .4-1 1.4-1 .2-2.6-.6-.1-1 1.9-2 1.8-.7 2 1.2 1.5-1.5 .9-2 2.6-1.1 4-2.9 1-.2 3.1 1.2 1.9 .2 6-1.4 .5 .2 .3 2 .9 1 1.1 0 1.2-1.2 1 1.6 1 .3 1-.7 .4-2 .6-.7 3 .5 1-.6 .1-1.2 .7-1zM226.9 -7l.6 1 1 0-.5-1.6-1 .3zM233.7 -6l-.1 1 1.4 2 1.4-2-.2-1-2.2-.2zM234.6 -2l.4 .4 .4-.4-.4-1zM278 -5.4l.6 .4 .2 1-1.8 3.7-1-.3-1.5-2.4 2.9-2zM126 -4.1l2.8 .1 .6 1-1.4 1-1 0-1.3-1 .1-1zM285 -4.6l1.1 .6 .3 1 1.6 .8 1 .1 2-.5 0 2.6-2-.7-1.2 .7-4.8 1.2-2.6-1.2-.5-1 1.1-.8 2 .2 1.7-.4 .3-1-.5-1zM209 -.1l1-.8 1.6 .9-1.6 .4-1-.4zM173 13.4l1.9 .6-1.9 .7-.5-.7zM132 18.9l1.4 .1 .7 1-.5 1-.6 .2-1-.8-.3-.4 .1-1zM168 20.8l1-.3 .1 .5-.6 2 .2 1-.4 2 .8 3-1.1 .8-2 .1-.8-.9 .1-1 1.1-2 .5-4 .7-1zM163 31.7l2-.5 1.5 .8 .6 1-1.2 3-.9 .4-3-.7-2.3 .3-.4-2 3.2-2zM106 32.6l.4 .4 0 1-.4 .3-.3-1.3zM104 36.9l2-.7 3 1.3 .1 1.5-.6 2-2.5 0-2-.9-.7-2.1 .5-1zM173 37.1l1.1 .9-1.3 0z"/><path fill="#f8d099" stroke="#f8d099" fill-rule="evenodd" d="M173 -22.3l4-.5 8 2.2 5.4 4.6 .3 1-.3 1-3.1 3-4.3 2.9-3 .9-2.5 .2-11.5-1.7-1-.7-1.3-2.6-1.7-1.9-2.5-1.1-.9-1-.3-2 .7-1 2 .8 6-2.9 5.1-.9zM172.7 -21l-4.7 1.6-3.5 2.4-.7 1 0 1 1 2 1.6 2 1.6 1.2 6 1.4 4 .3 3-.3 2-.7 2.8-1.9 3-3 .2-1-1-1.9-4-2.8-8-1.8-3 .4zM127 -14l1-.3 4 .4 5-.4 5 2.5 1.9 1.8 .1 1-.7 2-1.3 1.3-4 .8-1.1 .9-.1 1 2.2 1.3 3 .5 2 1.4 2 .2 8 5.4 4 2 1.6 .2 1 1-1 2-.1 2-.5 .6-3.4 1.4-1.6 1.7-1 .5-1.3-1.2-1.7-.1-1.7 2.1-1.3 .7-4 .1-1 .5-.6 .7 .6 2-.1 1-.9 .9-2 .6-1.2 1.5-1.1 3-.7 .6-2 .1-3-1.3-1 .3-1-.5-2.8-3.2-.2-3-.8-1-1.2-.2-2 .5-.5-1.3-3.2-4-1.6 0-1.7 1.5-1 .3-.6-1.8-1.4-2-1.7-4-.1-4 4.1-4 1.3-2 2.4-1.4 3-.6 1.3-1 .4-2-3-2-.2-1 .5-1.5 3-2.5 2.7-1 1.3-1zM127.3 -12l-3.3 1.9 0 1.1 6 2.9 3 .1 5-1.2 1.9-.8 .7-1-.1-1-.8-1-2.7-1.6-5-.2-4 .5zM125.8 -4l-.1 1 1.3 1 1 0 1.4-1-.6-1-2.8-.1zM130.4 0l-6.4 .7-2 .8-2 1.7-3 .4-1 .4-1.2 1-1.3 2-.6 2 .1 1 2 2.4 4 1.3 5 3.3 9-.2 4 1.5 3-2.4 6 .1 1-.3 2-1.6 2.3-1.1 .9-1 1.5-4-.6-1-3.7-3-2.4-.6-3 .2-3-2.3-4-1.7-6 .3zM131.8 19l-.1 1 .3 .4 1 .8 .6-.2 .5-1-.7-1-1.4-.1zM234 -6.2l2.2 .2 .2 1-1.4 2-1.4-2 .1-1zM235 -3l.4 1-.4 .4-.4-.4zM120 22.8l1-.1 1 .6-.3 1.7-.7 .5-1.6-1.5-.3-1zM141 25.5l2 .9 1.9 1.6 .6 1-.9 1-2.6 1.2-1.1-.2-1.5-2 .2-2 .8-1z"/><path fill="#f2a673" stroke="#f2a673" fill-rule="evenodd" d="M173 -21.1l3-.4 8 1.8 4 2.8 1 1.9-.2 1-3 3-2.8 1.9-2 .7-3 .3-4-.3-6-1.4-1.6-1.2-1.6-2-1-2 0-1 .7-1 3.5-2.4 4.7-1.6zM172.4 -20l-3.9 2-2.3 2-.4 1 .1 1 1.1 1.7 3 2 4 1 7 .1 3.3-1.8 3.2-3 .2-1-.4-1-4.3-3-7-1.5-3 .3zM128 -12.3l4-.5 5 .2 2.7 1.6 .8 1 .1 1-.7 1-1.9 .8-5 1.2-3-.1-6-2.9 0-1.1 3.3-1.9zM129.5 -11l-1 1 .1 1 .9 1 1.5 .6 3-.4 2.5-1.2 .9-1-1.1-1-3.3-.6-3 .4zM131 -.1l6-.3 4 1.7 3 2.3 3-.2 2.4 .6 3.7 3 .6 1-1.5 4-.9 1-2.3 1.1-2 1.6-1 .3-6-.1-3 2.4-4-1.5-9 .2-5-3.3-4-1.3-2-2.4-.1-1 .6-2 1.3-2 1.2-1 1-.4 3-.4 2-1.7 2-.8 6.4-.7zM131.9 2l-4.9 .5-6 2.3-4 .9-1.1 1.3-.3 1 .3 1 4.1 3.4 5 2.8 1 .1 5-.2 5 .6 2.8-1.7 1.2-.3 4 .1 2-.3 3-1.4 1.3-1.1 .3-2-3-3-4-1-2.6-1.6-4-1.6-3-.2-2 .4z"/><path fill="#e9735e" stroke="#e9735e" fill-rule="evenodd" d="M173 -20.2l3-.3 7 1.5 4.3 3 .4 1-.2 1-3.2 3-3.3 1.8-7-.1-4-1-3-2-1.1-1.7-.1-1 .4-1 2.3-2 3.9-2zM172.1 -19l-1.7 1-2.9 3 0 1 .6 1 2.9 2.1 3 .8 7 0 1.8-.9 3.3-3 .2-1-.7-1-2.6-2-3-1-3-.5-2-.2-2 .4zM130 -11.2l3-.4 3.3 .6 1.1 1-.9 1-2.5 1.2-3 .4-1.5-.6-.9-1-.1-1 1-1zM132 2l2-.4 3 .2 4 1.6 2.6 1.6 4 1 3 3-.3 2-1.3 1.1-3 1.4-2 .3-4-.1-1.2 .3-2.8 1.7-5-.6-5 .2-1-.1-5-2.8-4.1-3.4-.3-1 .3-1 1.1-1.3 4-.9 6-2.3 4.9-.5zM129 4l-5 1-3.8 2-.4 1 1.3 3 4.9 2.7 9 .6 5-1.9 4.1-.4 2.5-1 1.2-1-.2-1-1.6-1.6-8-3.4-4-.9-4 .7z"/><path fill="#e34349" stroke="#e34349" fill-rule="evenodd" d="M173 -19.3l2-.4 2 .2 3 .5 3 1 2.6 2 .7 1-.2 1-3.3 3-1.8 .9-7 0-3-.8-2.9-2.1-.6-1 0-1 2.9-3 1.7-1zM172.5 -18l-2.7 3-.3 1 1.4 2 2.1 .9 6 .4 1.9-.3 1.6-1 2-2 .1-1-.7-1-1.1-1-1.8-.8-5-.9-3 .4zM130 3.8l4-.7 4 .9 8 3.4 1.6 1.6 .2 1-1.2 1-2.5 1-4.1 .4-5 1.9-9-.6-4.9-2.7-1.3-3 .4-1 3.8-2 5-1zM132.3 5l-8.3 2-1 1 .1 1 2.9 2.8 9 1.1 5-1.9 3-.5 .7-.5 .6-1-.8-1-5.5-2.2-5-1z"/><path fill="#e03045" stroke="#e03045" fill-rule="evenodd" d="M173 -18.3l3-.4 5 .9 1.8 .8 1.1 1 .7 1-.1 1-2 2-1.6 1-1.9 .3-6-.4-2.1-.9-1.4-2 .3-1 2.7-3zM173.7 -17l-2.1 3 .2 1 1.2 .8 6 .4 2-.7 1.4-1.5 .1-1-.7-1-2.3-1-3.5-.4-2 .3zM133 4.8l5 1 5.5 2.2 .8 1-.6 1-.7 .5-3 .5-5 1.9-9-1.1-2.9-2.8-.1-1 1-1 8.3-2zM128.8 8l-.7 1 .9 .5 1.6-.5-.1-1-1.5-.1zM133.1 8l.2 2 1.2 1 1.5 0 1.8-1 .5-1-.7-1-1.6-.6-2 0z"/><path fill="#df2035" stroke="#df2035" fill-rule="evenodd" d="M174 -17.1l2-.3 3.5 .4 2.3 1 .7 1-.1 1-1.4 1.5-2 .7-6-.4-1.2-.8-.2-1 2.1-3zM176.3 -14l.7 .3 1.3-.3-.3-.4-1-.1zM129 7.9l1.5 .1 .1 1-1.6 .5-.9-.5 .7-1zM134 7.4l2 0 1.6 .6 .7 1-.5 1-1.8 1-1.5 0-1.2-1-.2-2z"/><path fill="#b7212b" stroke="#b7212b" fill-rule="evenodd" d="M177 -14.5l1 .1 .3 .4-1.3 .3-.7-.3z"/>
<use href="#land" fill="#787978" stroke="#787978" stroke-width="0.7"/>
</g>
<line x1="890.22" y1="37.50" x2="890.22" y2="232.72" stroke="#161616" stroke-width="5.2" stroke-dasharray="23.2 20.6" stroke-dashoffset="1.8"/>
<rect x="694.60" y="37.30" width="464.61" height="195.62" fill="none" stroke="#111" stroke-width="1.9"/>
<path d="M743.51,37.30v-4.6M743.51,232.92v4.6M841.32,37.30v-4.6M841.32,232.92v4.6M939.13,37.30v-4.6M939.13,232.92v4.6M1036.94,37.30v-4.6M1036.94,232.92v4.6M1134.75,37.30v-4.6M1134.75,232.92v4.6M694.60,61.75h-5.2M1159.21,61.75h4.6M694.60,98.43h-5.2M1159.21,98.43h4.6M694.60,135.11h-5.2M1159.21,135.11h4.6M694.60,171.79h-5.2M1159.21,171.79h4.6M694.60,208.47h-5.2M1159.21,208.47h4.6" stroke="#111" stroke-width="1.3" fill="none"/>
<text x="680.20" y="75.95" font-size="34.5" text-anchor="end" fill="#000">30°N</text>
<text x="680.20" y="112.63" font-size="34.5" text-anchor="end" fill="#000">15°N</text>
<text x="680.20" y="149.31" font-size="34.5" text-anchor="end" fill="#000">0°</text>
<text x="680.20" y="185.99" font-size="34.5" text-anchor="end" fill="#000">15°S</text>
<text x="680.20" y="222.67" font-size="34.5" text-anchor="end" fill="#000">30°S</text>
<text x="1039.30" y="221.70" font-size="34.3" font-weight="bold" fill="#000">IAP-05</text>
<text x="675.60" y="24.30" font-size="30.2" font-weight="bold" text-anchor="end" fill="#000">B</text>
<g transform="matrix(2.4453,0,0,-2.4453,-153.130,360.892)" clip-path="url(#pc)" stroke-width="0.3" stroke-linejoin="round">
<path fill="#343f93" stroke="#343f93" fill-rule="evenodd" d="M166 -4l10.9 1 2.8 1-.1 4 2.2 3-4.8 1-12 .4-3-.4-2.7-1-2.7-2-.6-1.2 .1-1.8 1.8-2 2.4-1 5.2-1z"/><path fill="#394d9c" stroke="#394d9c" fill-rule="evenodd" d="M164 -4.1l8.1 .1 8.3 1 3.3 1 .2 1-1.3 1-.5 1 .1 1 .8 .9 2 .9-.2 1.2-7.8 1.3-12 .3-3.7-.6-4.2-2-1.4-2 0-2 .6-1 3.3-2 3.7-1zM165.5 -4l-5.2 1-2.4 1-1.8 2-.1 1.8 .6 1.2 2.7 2 2.7 1 3 .4 12-.4 4.8-1-2.2-3 .1-4-2.8-1-10.9-1z"/><path fill="#325ea6" stroke="#325ea6" fill-rule="evenodd" d="M163 -4.1l9-.1 11.2 1.2 7.8 1.8 .9 1.2-.9 1.6-2.8 1.4-1.7 2-1.5 .6-8 .9-13 .2-3.3-.7-3.7-1.8-1.2-1.2-.6-2 .7-2 1.2-1 1.9-1 3.3-1zM163.3 -4l-3.7 1-3.3 2-.6 1 0 2 1.4 2 4.2 2 3.7 .6 12-.3 7.8-1.3 .2-1.2-2-.9-.8-.9-.1-1 .5-1 1.3-1-.2-1-3.3-1-8.3-1-8.1-.1z"/><path fill="#2373b3" stroke="#2373b3" fill-rule="evenodd" d="M162 -4.1l3-.3 7 0 14 1.4 6 1 1.7 1 .6 1-1.2 2-2.5 2-5.6 2.3-8 .5-13 0-3-.5-3-1.2-1.6-1.1-1.3-2 0-2 .9-1.3 2.5-1.7 3.1-1zM162.3 -4l-3.3 1-1.9 1-1.2 1-.7 2 .6 2 1.2 1.2 3.7 1.8 3.3 .7 13-.2 8-.9 1.5-.6 1.7-2 2.8-1.4 .9-1.6-.9-1.2-7.8-1.8-11.2-1.2-9 .1zM195 6.8l5-.8 4.2 1-3.2 1-6.5-1z"/><path fill="#28a0d5" stroke="#28a0d5" fill-rule="evenodd" d="M161 -4l4-.6 7 0 22 2 5.4 1.6 .7 1-.5 1-4.6 1.2-3.3 2.8 .3 .3 1 .4 8-.5 4 .4 4 .9 6 0 2.4 .5-1.3 1-1.1 .2-6-.7-8 1.3-11-.5-9-1.4-15 .3-4-.5-4-1.4-1.9-1.3-1.1-1.5-.4-1.5 .8-2 1-1 4.6-2zM161.6 -4l-3.1 1-2.5 1.7-.9 1.3 0 2 1.3 2 1.6 1.1 3 1.2 3 .5 13 0 8-.5 5.6-2.3 2.5-2 1.2-2-.6-1-1.7-1-6-1-14-1.4-7 0-3 .3zM194.5 7l6.5 1 3.2-1-4.2-1-5 .8zM267 24.8l1-.3 1.6 .5 .6 1-.2 1-1 .6-2-.5-.6-1.1 .4-1z"/><path fill="#3bbee5" stroke="#3bbee5" fill-rule="evenodd" d="M194 -6.1l2-.4 2 .2 7.3 2.3 1 1-.7 2-.6 .5-2 .2-2 2.6-1.5 .7-.1 1 19.6 1.9 5-.3 6.2 1.4-1.3 1-8.9 1-7 .1-5-.4-7 .7-11-.1-6-.6-4-.9-16-.5-4-.9-2-.9-2.3-1.5-1.2-2 0-2 1.6-2 1.9-1.2 4-1.2 10-.4 17 1.1 1.2-.3 .8-1.2 2.4-.8zM161 -4l-4.6 2-1 1-.8 2 .4 1.5 1.1 1.5 1.9 1.3 4 1.4 4 .5 15-.3 9 1.4 11 .5 8-1.3 6 .7 1.1-.2 1.3-1-2.4-.5-6 0-4-.9-4-.4-8 .5-1-.4-.3-.3 3.3-2.8 4.6-1.2 .5-1-.7-1-5.4-1.6-22-2-7 0-4 .6zM266 23.7l2-.4 2 .5 1 .8 .6 1.4-.8 2-1.8 1.1-3-.7-1-1.2-.2-1.2 .8-2zM266.8 25l-.4 1 .6 1.1 2 .5 1-.6 .2-1-.6-1-1.6-.5-1 .3zM244 24.5l1-.3 2 .7 .4 1.1-.4 .7-1 .7-3.3-.4-.4-1 .9-1z"/><path fill="#80cbe3" stroke="#80cbe3" fill-rule="evenodd" d="M214 -37.4l1.2 .4 .2 1-1.4 1.3-1.2-.3-.2-1 .6-1zM194 -8l2-.4 2 .3 5.3 2.1 4.7 .6 .9 .4 3.2 4 0 1-1.1 .9-1 0-1-.6-2.1 1.7 .6 1 10.5 1.9 2 .1 3-.5 4 .8 13.2 1.7-.2 .4-5 1.1-15 1.4-13-.3-6 .4-14-.1-7-.9-3 0-4.6-1-9.4-.5-3-.8-3-1.4-1.6-1.3-1.2-2 .1-2 1.4-2 2.3-1.4 3-1 4-.5 6-.1 15 .4 1.9-.4 1.1-2.2 1-.5 2 .2 1.9-.5zM193.4 -6l-2.4 .8-.8 1.2-1.2 .3-17-1.1-10 .4-4 1.2-1.9 1.2-1.6 2 0 2 1.2 2 2.3 1.5 2 .9 4 .9 16 .5 4 .9 6 .6 11 .1 7-.7 5 .4 7-.1 8.9-1 1.3-1-6.2-1.4-5 .3-19.6-1.9 .1-1 1.5-.7 2-2.6 2-.2 .6-.5 .7-2-1-1-7.3-2.3-2-.2-2 .4zM239 21.9l6 0 3 1.1 3 .3 1 .7-.3 1-1.8 2-.8 2-2.1 1.8-1 .1-2-1.2-2-.2-4 1-3-1.5-2-.1-1.2-.9-.6-1 .1-1 .7-.8 3-2.1 2-.1 1.8-1zM243.2 25l-.9 1 .4 1 3.3 .4 1-.7 .4-.7-.4-1.1-2-.7-1 .3zM267 22l4 .9 1 .7 .7 1.4 0 2-.7 2-2 1.5-2 .2-2-.3-2-1.3-.7-1.1 .4-4 1.3-1.5 1.8-.5zM265.6 24l-.8 2 .2 1.2 1 1.2 3 .7 1.8-1.1 .8-2-.6-1.4-1-.8-2-.5-2 .4z"/><path fill="#a8dbe9" stroke="#a8dbe9" fill-rule="evenodd" d="M166 -41l0 1.1-.2-1.1zM174 -40.7l.6 1.7-.6 .7-.9-1.7zM190 -40.9l3.9-.1 .9 2 1.2 .7 2-.4 1-1.3 1-.4 2 .4 1.8 1 2.2 3.3 2 1 1.1-.3 .8-4 2.1-1.8 1 0 4 1.8 2 .5 2-1.9 3.9-.6 3.3 0 2.5 4 2.3 .5 2 1.5 1 .2 4-2.9 1-.2 2 1 3 .3 .5 .6-.7 2-.8 .6-3 .7-3 1.9-3-2.1-1-.1-3 1.3-3 .7-9-2.3-8 1.5-3-.8-2-1.3-3 2.3-2 .3-6-1.8-7 .2-4-1.7-2-.3-1 .6-1.3-.7 .3-1.2 2 1.1 2-1.4 3-.5 .8-1 .6-2zM213.2 -37l-.6 1 .2 1 1.2 .3 1.4-1.3-.2-1-1.2-.4zM275 -40.9l0 1.2-.2-.3zM237 -39.1l0 .4-.1-.3zM175 -38.1l0 .7-.2-.6zM255 -38.1l3-.4 1 0 .3 .5-.9 2-1.3 1-3.1-.7-1 .2-1 1.6-1 .2-2.2-1.3-.9-1 .3-1 .8-.7 1-.2 3 .6 1.4-.7zM207 -10.1l2-.6 2 .7 2 2.7 2 .9 2.6 2.4 1.1 2-1.7 1.7-1 2.3 .2 1 .8 .4 3 .4 3-.6 5 1.4 7-.1 7 1 4-.5 2.2 1 .8 1-.3 1-.7 1.6-1 1-3-.8-4 .4-7-.4-13 1.1-4-.3-6 .3-5-.6-4 .5-17 .5-4-1.1-2 .2-5-.5-3 1.6-1 .1-2-2.6-1-.6-4-.6-5-2.2-1.9-1.6-1.1-2 0-2 1.4-2 2.6-1.6 3-1 11-.9 2.6 .5 7 0 1.4-.4 3-2.1 1.3-1.5 1.7-.6 3 .4 2-.5 4-.1 3 .6 4 .1 1-.2 .8-.7zM193.9 -8l-1.9 .5-2-.2-1 .5-1.1 2.2-1.9 .4-15-.4-6 .1-4 .5-3 1-2.3 1.4-1.4 2-.1 2 1.2 2 1.6 1.3 3 1.4 3 .8 9.4 .5 4.6 1 3 0 7 .9 14 .1 6-.4 13 .3 15-1.4 5-1.1 .2-.4-13.2-1.7-4-.8-3 .5-2-.1-10.5-1.9-.6-1 2.1-1.7 1 .6 1 0 1.1-.9 0-1-3.2-4-.9-.4-4.7-.6-5.3-2.1-2-.3-2 .4zM173 12.7l1 0 1 .4 .7 .9-.4 1-4.3 2-1-.4-.8-.6 .3-1 2.6-2zM163 14.4l2-.3 1 .2 1.4 1.7-1.3 1-1.1-.1-2.5-.9-.2-1zM218 16.9l4 0 .7 1.1-.7 .9-1-.1-3-.7-.2-1.1zM247 17.8l3 .4 3 2 3 .2 3-.4 3 .9 1-.1 3-1.4 3 .9 3 0 1.8 1.7 1.2 4.6 1 .9 1.3 .5-2.4 3-1.9 1.5-9 1.2-2-.1-1 .6-1 1.4-.6-1.6 1.1-3-.6-1-.9-.4-.6 .4-.6 2-.8 .4-2-1-1-1-1-.3-1 .9-2 3.2-5 .3-1 .4-4 3.7-1 0-.6-.6-.3-1 .4-2-.1-1-.4-.1-4-1.1-3 1.4-4-.3-3-2.2-1-.2-2 .4-2 1.3-1.1-.2-1.4-1-.4-2 .9-1 0-1-2.3-2 .3-1 1-.8 7-2.8 3 1 4.3-1.4 1.7-2.1 5-.7 3 .6 2-.5 2 .1 2.1-.4zM238.8 22l-1.8 1-2 .1-3 2.1-.7 .8-.1 1 .6 1 1.2 .9 2 .1 3 1.5 4-1 2 .2 2 1.2 1-.1 2.1-1.8 .8-2 1.8-2 .3-1-1-.7-3-.3-3-1.1-6 0zM266.8 22l-1.8 .5-1.3 1.5-.4 4 .7 1.1 2 1.3 2 .3 2-.2 2-1.5 .7-2 0-2-.7-1.4-1-.7-4-.9zM204 22.6l1-.4 1 .2 3.7 1.6 .6 1-1.3 .9-1 .1-4-1.9-.3-1.1zM198 27.9l1-.8 1 .1 .6 .8-.6 1-1 .2-1.1-1.2zM212 28.6l1-.5 1 .3 .8 1.6-.8 2 .5 2-.4 1-1.1 .5-1.7-.5-1.2-2 .3-2 1.1-2zM209 31.6l.9 .4-.4 1-.5 .1-.7-1.1zM221 35.9l0 1.2-.9-1.1z"/><path fill="#c4e8f7" stroke="#c4e8f7" fill-rule="evenodd" d="M158 -40.5l1.1-.5 1.6 1 1.1 2 2.6 3-.5 1-2.9 .7-3 1.3-1-1 0-1 2.6-2 .1-1-2.5-2 .5-1zM164 -41l1.8 0 .2 1.1 0-1.1 10 0 2 1.5 1 .1 3-.9 1 .3 1 1.1 2-.3 1.7-1.8 2.4 0-1.3 3-.8 1-3 .5-2 1.4-2-1.1-.3 .2 0 1 .3 .4 1 .3 1-.6 1 0 5 2 7-.2 7 1.9 4-2.7 2 1.3 4 .9 7-1.6 9 2.3 3-.7 3-1.3 1 .1 3 2.1 3-1.9 3-.7 .8-.6 .7-2-.5-.6-3-.3-2-1-1 .2-4 2.9-1-.2-2-1.5-2.3-.5-2.5-4 2.1 0 .7 .6 2-.4 2 .1 .6-.3 8.4 0 .7 1 1.3 .6 1-.1 1.4-1.5 2.4 0 .5 1 1.7 .7 3-.4 1.8-1.3 5 0 2.2 3 1 .7 1-.1 1-1.7 1-.6 .8 .7 .4 2-.9 3 1.4 2-.1 1-1.6 2-1 .9-1 .1-1-1-.6-2-1.4-.9-1-.4-3-.2-4-1.1-1-.1-1 .7-.2 3-.8 .7-2-.5-2-2.8-1 0-2 1.1-3.6 .5-2.4 1.7-2 .6-1.3-.3-1.7-1.3-7 .7-2-.8-5-1-3.9 1.4-2.1-.3-3 1.4-6-2-4 1.1-6-1.5-5 .5-5-1.9-1 .1-.9 .6 1 2 .1 1-1.2 .5-.7-.5-.5-2-2.8-1.2-6-.4-2-.7-3 .1-2-2.5-2-.5-1.5-4.8zM173.1 -40l.9 1.7 .6-.7-.6-1.7zM236.9 -39l.1 .3 0-.4zM174.8 -38l.2 .6 0-.7zM254.4 -38l-1.4 .7-3-.6-1 .2-.8 .7-.3 1 .9 1 2.2 1.3 1-.2 1-1.6 1-.2 3.1 .7 1.3-1 .9-2-.3-.5-1 0-3 .4zM194 -41l8.9 0 3.1 1.1 2.4-1.1 7.1 0 1.5 .5 1-.5 6.9 0-3.9 .6-2 1.9-2-.5-4-1.8-1 0-2.1 1.8-.8 4-1.1 .3-2-1-2.2-3.3-1.8-1-2-.4-1 .4-1 1.3-2 .4-1.2-.7-.9-2zM273 -41l4.3 0-.4 6-.6 1-1.3 .8-1.4-1.8-.1-2-1.2-3 .3-1zM274.8 -40l.2 .3 0-1.2zM169 -29l1-.7 .9 .7-.9 .4-1-.4zM211 -12.2l1-.7 1.3 2.9 3.5 2 2.8 3 2.8 2 .8 1 0 1-.7 2 .7 1 4.8 2 3-.3 4-1.9 1.9 2.2 2.1 .4 7-.3 4 1 5-.3 6 .4 1.6 1.8-.8 1-3.2 2-.6 1.5-1 1-1 .4-1-.5-1.4-2.4-1.5-1-1.1 .1-.6 .9 .3 4 3.3 4.3 2 .9 3-.9 3 .2 .7-1.5 1.3-.6 5 2 3-.2 5.1 2.8 .6 1-.2 1-1 1 .5 1 1 .2 3 2.6 1 0 3-2.6 6 1.5 0 5.4-3 0-2.2-2.1-1.8-.6-2 0-4 2.5-2 .1-3 1.8-2 .6-.7 .6 .6 2-.9 1.2-1 .3-1-.3-1.1-2.2-.9-.6-3 .3-1.4 3.3-1.6 .5-1.4 1.5-3.1 0 .8-3-.3-.9-2-.7-1 .4-1.9 2.2-.8 2-3.5 0-.5-2-1.3-1.5-1-.2-1 .7 1.3 2 0 1-4.9 0-3.2-3-.2-2-.5-1-1.5-.6-2 1.2-4 1.3-.9 2.1 1.2 2-2.3 0-.2-1-2.8-1.2-4 0-1 .6-.9 1.6-2.8 0-.4-2-.9-.8-3-.7-2-1.2-2-3-1-.8-4-.1-3 2.1-3-.4 .1-1.1 1.1-1 .5-1-1.3-3 1.1-2-.2-1-1.3-2 1-2.1 1-1.2 2 3.2 1-.1 1.7-2.8 1.3-.3 7 2.7 2-.1 1-.5 1.4-1.8 .3-2 1.3-2 1-.7 3-.7 4.1 1.4 1.2 1-.2 2 .9 .9 1-.2 1.1-.7 .8-2 1.1-1.1 1-.3 3 1.3 1.2-.9-.5-2 .5-2-.7-1-1.5-.3-6 .2-8 1-3-.6-7 .4-4-1-13 1.2-4-.2-1 .5-2 2.7-2 .1-4 1.4-2 1.9-3-.5-7 1-5.2-.8-1.2-1-1.3-2 .5-1 2.2-1.3 3-.1 1-.5 .5-1.1-.3-1-1.2-.8-1-.2-2 .5-1-.2-1.2-1.3-.3-1-1.5-.5-3-2.2-1.3-2.3 .1-2 1.4-2 1.8-1.3 4-1.4 11-1.2 3 .4 4-.2 6-2.5 3-1.8 4 0 6-1.1 3 .5 2-.7 3 .2 4.5-.9zM206.8 -10l-.8 .7-1 .2-4-.1-3-.6-4 .1-2 .5-3-.4-1.7 .6-1.3 1.5-3 2.1-1.4 .4-7 0-2.6-.5-11 .9-3 1-2.6 1.6-1.4 2 0 2 1.1 2 1.9 1.6 5 2.2 4 .6 1 .6 2 2.6 1-.1 3-1.6 5 .5 2-.2 4 1.1 17-.5 4-.5 5 .6 6-.3 4 .3 13-1.1 7 .4 4-.4 3 .8 1-1 .7-1.6 .3-1-.8-1-2.2-1-4 .5-7-1-7 .1-5-1.4-3 .6-3-.4-.8-.4-.2-1 1-2.3 1.7-1.7-1.1-2-2.6-2.4-2-.9-2-2.7-2-.7-2 .6zM178.5 12l1.5 1.3 1.1-.3-.1-1-1-.3-1 .2zM237.7 12l-.6 3 .4 1 1.5 .6 4-1.8 4-.2 .9-.6-3.9-2.4-6 .3zM172.1 13l-2.6 2-.3 1 .8 .6 1 .4 4.3-2 .4-1-.7-.9-1-.4-1 0zM162.3 15l.2 1 2.5 .9 1.1 .1 1.3-1-1.4-1.7-1-.2-2 .3zM217.8 17l.2 1.1 3 .7 1 .1 .7-.9-.7-1.1-4 0zM246.1 18l-2.1 .4-2-.1-2 .5-3-.6-5 .7-1.7 2.1-4.3 1.4-3-1-7 2.8-1 .8-.3 1 2.3 2 0 1-.9 1 .4 2 1.4 1 1.1 .2 2-1.3 2-.4 1 .2 3 2.2 4 .3 3-1.4 4 1.1 .4 .1 .1 1-.4 2 .3 1 .6 .6 1 0 4-3.7 1-.4 5-.3 2-3.2 1-.9 1 .3 1 1 2 1 .8-.4 .6-2 .6-.4 .9 .4 .6 1-1.1 3 .6 1.6 1-1.4 1-.6 2 .1 9-1.2 1.9-1.5 2.4-3-1.3-.5-1-.9-1.2-4.6-1.8-1.7-3 0-3-.9-3 1.4-1 .1-3-.9-3 .4-3-.2-3-2-3-.4zM203.7 23l.3 1.1 4 1.9 1-.1 1.3-.9-.6-1-3.7-1.6-1-.2-1 .4zM203.3 27l-.2 2 .9 1 1-.1 1.5-1.9-.7-1-1.8-.5zM197.9 28l1.1 1.2 1-.2 .6-1-.6-.8-1-.1-1 .8zM211.5 29l-1.1 2-.3 2 1.2 2 1.7 .5 1.1-.5 .4-1-.5-2 .8-2-.8-1.6-1-.3-1 .5zM208.3 32l.7 1.1 .5-.1 .4-1-.9-.4zM222.2 34l.8 1 .8-1-.8-.4zM220.1 36l.9 1.1 0-1.2zM282 4.8l1 .2 1.2 1 .4 1-.6 .9-2.1-.9-.7-1 .5-1zM267 5.5l4 .1 .7 .4 .3 1-1.4 1-2.6 .9-1-.7-.7-1.2-.1-1zM286 10.2l1 .1 .7 .7-.1 1-1.6 1.5-1-.1-.3-.4 .6-2zM280 15.5l1-.4 4 1.1 .7 .8 .1 2 1.3 2 .2 1-.3 .5-1 .7-1 .1-1-.3-2 .2-1-.4-2.2-2.8-.3-1 0-2 .5-1zM186 16.5l1.1 .5-.1 1.2-1-.5-.2-.7zM278 35.8l1-.7 1 .6 .6 1.3-.4 1-2.2 .2-.3-1.2 .2-1zM284 38.9l2-.2 1.4 1.3 .4 1-3.2 0-1.4-2z"/><path fill="#fcf0dc" stroke="#fcf0dc" fill-rule="evenodd" d="M100 -41l10.1 0 1.5 4 .4 .6 1 .5 .8-1.1 .3-4 12 0 .5 3 1.4 .3 1.4-1.3 .2-2 11.1 0 .4 1 .9 .5 2 .2 2.6 1.3-.1 1-3.5 1.4-.8 .6-.4 1 2.1 1 1.1 .1 2-1.1 3 .9 3-.9 1 .4 .8 2.6 .9 1 2.3 .3 2 1 3-.2 4.8 2.9 0 4 .3 1 .9 .6 4 .2 4-.9 .6-.9-.6-1-1-.5-3-.5-1.3-1 .2-1 .8-1 2.3-1.5 1 .5 4 3.4 1.3 2.6 .7 .3 1-.1 2-1.1 3-.1 2-1.9 2 1.1 3-.2 4 .4 1.8-.4 3.2-1.8 3-.2 2-.8 3 .1 3-1.2 7 1.8 4-.9 6-.6 2.7 1.6 .9 1 .9 3-.3 1-1.2 .1-1-1-3 1.1-4 .5-3 1.7-2 3.8 1 .6 2-.1 3 1.4 1 0 2-1.9 2-.5 1 .2 1.3 2.1 1.7 .5 2-2 3-4.3 1-.5 1 .3 .8 1 1.2 3.7 1-.2 4-2.3 1 .1 3 1.7 6 0 2 1.4 1 2 1 .3 1-1 .5-1.7-.2-1-1.3-1.7 0-.5 1-.4 1 .6 3 .3 1.1 .7 .8 1 1.1 3.3 3 0 2 1.4 3-.3 .9 .6-.3 1 .2 2 .2 .7 1 .8 .9-1.5 1.1-1 1-.3 1.1 .3 1.1 1 .3 1-2.2 5-1.3 .9-2 .1-3-.7-1-.3-3-2.2-3-.6-1.3 .8-1.7 2.5-6 0-.9 .5-.2 2-.9 .3-1.1-.3-1.9-2.3-2-.8-6 2.6-3-.8-1.1-.7 .1-2.1-1-.1-1 .7-2 .1-6-2.7-3-.9-3 .8-1-.2-2-3.9-4-3.1-3-.3-1.2-1.3-.3-2-.8-1-1.7-.4-3 1-3.5 .4-4.5 1.7-3 .2-2 .7-3-.1-7 1.7-3 .1-3 1.3-7 2.1-3 .6-3-.1-2.4 .8-6.6 .5-4 1.1-2 .7-2 1.4-1.6 2.3-.1 2 1.7 3-1.6 2 .1 1 1.2 2-2.7 4-2-.6-.8 .6-1 3-.1 1 .3 1 2.6 .8 2-.5 3 .9 3 0 2 .5 4-.4 3 1.7 1-.3 2-1.6 1 0 3 1.7 2 2.8 1 .1 2-1.3 2 .2 .8 .4 .2 2 .7 1 1.6 1-2.2 4-.1 1.1 2.7 .9-.4 1-1.2 1 .1 1 1.8 1.5 5 1.1 .8 .4 .5 1-11.2 0 .3-2-.4-1-1-.3-2 .4-.9 .9-.7 2-2.8 0 3.4-5-3-1.7-2 3.9-1 .5-2-1.4-1 0-1.8 1.7-.2 .8-2-2.2-.6-1.6 .6-1.3 1-.1 2 .9 1 .1 .7-.6 .6-1-1.2-4 .9-.9 2-.7 1 .3 2 2 1 0 2.4-1.7 .1-1-2.5-1.7-1-2.9-2-1.4-3 2-2-.6-2-1.6-1 0-3 1-1 0-2-1-4-.5-3 1-3-1.3-.8-1-.3-3 1-3 1.1-1.7 2-.8 1.4-1.5-.4-3 1.5-3-.4-4 1.2-2 1.7-1.4 6-2.3 6-.6 4-1 4-.2 8-2.1 4-1.5 3-.1 6.4-1.8 3.6-.2 10-2.8 3-.4 3-1 4-.1 2.2-2.5 3.3-2 .7-1-.4-1-1.8-1.2-4 .7-6-2.3-3 1.1-3 .1-5 1-4.6 1.6-4.4-.1-10 1.3-2 .9-4-.1-2.8 1-12.2 1.7-2.2 1.3-2.8 .3-1.2-.3-.2-1 .4-.6 1-.3 3 .2 2.1-1.3 .2-1-3.8-1 1.5-.2 2.5-2.8 .2-1-1.7-1.4-1 0-2.5 1.4-.5 2.9-1.1-.9 .5-2-.3-1-1.1-.8-4 1.3-1-.1-2-1.2-1 .5-1.7 2.3-1.3 2.9-1 .5-1-.2-1-1.2-1.2-3 2.8-3-.2-1-1.4-1.4-2-.1-4 1.7-1-.5-2-2-5-2-1-.1-2.9 1.4-1.1 1.9-1 .5-1.6-.4-1.4-2.1-2-.2-.5 .3-.2 3-1.3 .3-1.1-.3-1.9-2.7-1.6-1.3-1.5-3-.9-.8-1-.1-2 .9-.4 2 .7 1 2.7 1.2 .8 .8 .2 1-1 1.3-4 1.5-1-.3-2-1.8-3 .5 0-1.8 1.3-.4-.3-1.2-1-.3 0-7.5zM133.6 -40l-1.8 1-.6 3 .7 1 1.1 .1 4-.5 .6-.6 0-2-1.6-1.5-2-.6zM118 -39l-1.1 1-.4 1 .6 1 1.9 .9 2-.5 2 1.3 1.1-.7 .5-1-2.3-1-1.3-2-2-.4-1 .4zM101.6 -37l.4 1 0-1.2zM137.9 -34l1.1 .6 .3-.6-.3-.5-1 .3zM174 -26l1 .6 .6-.6-.6-.3-1 .3zM230.2 -25l-.5 1 .1 1 1.2 .4 1-.4 1-1 .1-1-1.1-.8-1 0zM241.7 -16l-4.7 5.6-5-1.9-2.7 1.3 0 1 1.3 3 .4 .4 1-.4 1.3-2 .7-.5 1 .1 2 1.2 2 3.1 4 1.9 1.8-.8 1.2-1.7 1-.6 2 3.8 1 .8 .8-.3 .2-3 1-1 4-.6 .9 2.6 1 1 1.1 .4 2.8-2.4 .5-2-1.4-3-.9-.9-4-1.3-2 1.2-7 1.6-3-1.2-1.5-1.4-.2-1 .7-3-1-.4zM268.9 -14l-3.7 5 0 1 3.8 .8 2 1.5 4-.7 1-.6 0-1-1-1-2-.1-1-.5-.9-1.4-1.1-3-1-.1zM252.9 -4l.1 .7 0-.8zM179.9 27l.1 .5 0-.6zM178.2 32l-.7 3 .5 .5 1-.2 1-.7 .3-2.6-.3-.8-1 .2zM148 -41l1.1 0-.1 1.2-1 .8 0-2zM154 -41l1.5 0-.5 .5-1 .1-.6-.6zM287 -33.4l1-.3 2 1.3 1 1.3 0 1.9-2-1.6-1-.3-2 .7-1 1.2-.5 2.2-1.9 2 .1 1 1.3 2.3 4 1.9 1-.1 2-1 0 2-2 .6-1-.1-3-1.3-2 .3-1-.3-1.2-4.3 .7-2 1.7-2 .4-3 3-2zM262 -27l1-.5 1.5 1.5 0 1-1.5 .5-.8-.5-.3-1 .1-1zM249 -24l3-.6 1 .5 1.7 2.1-1 1-1.7 .4-1-.5-1.8-1.9-.2-1zM100 -15.2l0 .5-1 .8 0-1.9zM100 -5.2l1.1 1.2-1 1-1.1 .1 0-2.6zM99.8 1l.1 1-.9 .8 0-2.6zM100 11.3l2.7 1.7 0 1-.7 .6-1 .3-2-1.7 0-2zM203 11.8l3-.1 3 1.5 5-.6 .8 .4 .3 1-1.1 1.5-3 1.4-3-.7-4 1-6-.9-4 .7-1.4-2 .3-1 1.1-.5 8-1.5zM201.8 13l-1.4 1 .7 1 1.9 1 4.1-1 .3-1-2.4-1.6-3 .5zM211.9 14l1.2 0-1.1 0zM291 13l0 3.4-1.3-1.4 .3-1 1-1zM99.8 18l.2 1-1 1.9 0-3.7zM290 17.8l1 .3 0 5.3-.3-2.4-1.4-2 .5-1zM100 22.8l1.3 1.2-.2 1-2.1 3.4 0-6.1zM116 29.8l.6 1.2-.6 1.1-1 .4-.3-.5 .3-1 .8-1zM100 34.2l1 0 2 1.2 3-.8 1 .2 2 2.2 2-1.8 1-.2 1 1.2 1 .4 2-1 3-.6 1.4 1 .1 1-.6 2 .7 1 2.4 0 3-1.7 .5 .7-.4 2-15.8 0-2-1-2.3-2.1-1 2-1.3 1.1-4.7 0 0-6.5zM151 34.7l1-.3 .4 .6-.4 1.3-1 .2-.7-.5 .4-1zM290 34.9l1-.1 0 3.5-2-1.3-.5-1 .9-1zM159 36.5l1 2.5-1 .4-1.6-.4 .1-1 .8-1zM131 37.7l1-.6 1 .2 2 .7 2 1.7 1-1.7 4-.5 1.2 .5 0 1-3.8 2-6.3 0-1.1-.6-.4 .6-1.8 0 1-3zM145 38.7l1-.6 1 0 1.7 1.9 2.3 .3 .9 .7-6.8 0-.5-2zM167 39.9l1.5 1.1-3.1 0 1-1zM155 40.8l1-.6 .3 .8-1.4 0zM200 40.6l1-.1 .8 .5-2.8 0z"/><path fill="#fce4bc" stroke="#fce4bc" fill-rule="evenodd" d="M107 -37.6l2-.2 1 1 1.4 2.8 1.6 1.3 1.9 2.7 1.1 .3 1.3-.3 .2-3 .5-.3 2 .2 1.4 2.1 1.6 .4 1-.5 1.1-1.9 2.9-1.4 1 .1 5 2 2 2 1 .5 4-1.7 2 .1 1.4 1.4 .2 1-2.8 3 1.2 3 1 1.2 1 .2 1-.5 1.3-2.9 1.7-2.3 1-.5 2 1.2 1 .1 4-1.3 1.1 .8 .3 1-.5 2 1.1 .9 .5-2.9 2.5-1.4 1 0 1.7 1.4-.2 1-2.5 2.8-1.5 .2 3.8 1-.2 1-2.1 1.3-3-.2-1 .3-.4 .6 .2 1 1.2 .3 2.8-.3 2.2-1.3 12.2-1.7 2.8-1 4 .1 2-.9 10-1.3 4.4 .1 4.6-1.6 5-1 3-.1 3-1.1 6 2.3 3-.6 1.6 .1 1.2 1 .4 1-.7 1-3.3 2-2.2 2.5-4 .1-3 1-3 .4-10 2.8-3.6 .2-6.4 1.8-3 .1-4 1.5-8 2.1-4 .2-4 1-6 .6-6 2.3-1.7 1.4-1.2 2 .4 4-1.5 3 .4 3-1.4 1.5-2 .8-1.1 1.7-1 3 .3 3 .8 1 3 1.3 3-1 4 .5 2 1 1 0 3-1 1 0 2 1.6 2 .6 1-.4 1.9-1.6 1.1 .5 1 .9 1 2.9 2.5 1.7-.1 1-2.4 1.7-1 0-2-2-1-.3-1.9 .6-1 1 1.2 4-.6 1-.7 .6-1-.1-2-.9-1 .1-.6 1.3 .6 1.6 2 2.2 .2-.8 1.8-1.7 1 0 2 1.4 1-.5 2-3.9 3 1.7-3.4 5-5.1 0-1.5-1.1-1 .2-.6 .9-9.1 0-.3-.8-1.1 .8-3 0-.9-.7-2.3-.3-1.7-1.9-1 0-1.4 .9 .5 2-5.7 0 3.8-2 0-1-1.2-.5-4 .5-1 1.7-2-1.7-3-.9-1.2 .9-1 3-3.7 0 .4-2-.5-.7-3 1.7-2.4 0-.7-1 .6-2-.1-1-1.4-1-3 .6-2 1-1-.4-1-1.2-1 .2-2 1.8-2-2.2-1-.2-3 .8-2-1.2-2 .3 0-6.1 2.1-3.4 .2-1-.8-1-1.5-.7 0-1.4 1-1.9-.2-1-.8-.8 0-4 2 1.7 1.7-.9 0-1-.7-.6-1-.7-2-.5 0-8.4 .9-.8-.1-1-.8-.8 0-3.1 1.1-.1 1-1-.7-1-1.4-.5 0-8.4 1.2-1.1-1.2-.8 0-14 3-.5 2 1.8 1 .3 4.5-1.8 .5-1-.2-1-.8-.8-2.7-1.2-.7-1 .4-2zM207.7 -24l-8.7 1.8-4 .1-9 1.1-3.6 1-3.4 .1-11 2.3-9 2.8-6 .1-3-.4-2 2.3-1 0-3-1.2-2 1.2-1.3-.2-.3-1 1.7-2-1.1-2.2-1-.1-4 2.3-2-.8-4 1.2-3-1.1-2 0-3-2.2-1-.2 0 2.1-1 1-1 .4-.9-1.4-1.1-.6-1.7 .6-.6 1 .6 1 .7 .3 2-.1 .5 .8-.5 2-1 1.4-7 4-1.7 1.6-.7 4 1.4 3 .4 2-1.6 2 .3 1 3.5 2 .2 1-.4 2 3 4 3.6-.3 4 1.5 3-1.7 1.1 .5 1.3 2-2.4 1.3-.7 .7 .7 .4 3 .8 2-.6 4 .6 1-.2 1-1.3 2-1.4 2 .1 1.1-.4 5.9-6.5 .6-1.5-.1-3 .5-.6 2-.7 2.2-8.7 .7-1 1.4-1 11.7-2.4 10-.9 12-3.3 3-.3 4-1.4 6-1 14-3.9 4-1.8 .9-1-.1-1-.8-1-3-1.8-8 .7zM103.9 -11l.1 .3 .8-.3-.8-.1zM142.9 25l-1.9 1.6-2-.1 0 1.9 2-.5 2 1.1 1-.2 1.7-1.8 .3-1-1-.9-2-.1zM152.7 27l-.6 2 .9 .8 1 0 1.3-.8 0-1-1.3-1.7-1 0zM115.8 30l-.8 1-.3 1 .3 .5 1-.4 .6-1.1-.6-1.2zM131 30l-1 .4-.7 1.6-.1 1 .8 .6 1-.6 1.4-2-1.4-1zM150.7 35l-.4 1 .7 .5 1-.2 .4-1.3-.4-.6-1 .3zM158.3 37l-.8 1-.1 1 1.6 .4 1-.4-1-2.5zM288 -31.1l1 .3 2 1.6 0 8.3-2 1-1 .1-4-1.9-1.3-2.3-.1-1 1.9-2 .9-3 2.1-1zM174 -26l1-.3 .6 .3-.6 .6-1-.6zM231 -25.8l1 0 1.1 .8-.1 1-1 1-1 .4-1.2-.4-.1-1 .5-1zM242 -16.4l1 .4-.7 3 .2 1 1.5 1.4 3 1.2 7-1.6 2-1.2 4 1.3 .9 .9 1.4 3-.5 2-2.8 2.4-1.1-.4-1-1-.9-2.6-4 .6-1 1-.2 3-.8 .3-1-.8-2-3.8-1 .6-1.2 1.7-1.8 .8-4-1.9-2-3.1-2-1.2-1-.1-.7 .5-1.3 2-1 .4-.4-.4-1.3-3 0-1 2.7-1.3 5 1.9 4.7-5.6zM269 -14.1l1 .1 1.1 3 .9 1.4 1 .5 2 .1 1 1 0 1-1 .6-4 .7-2-1.5-3.8-.8 0-1 3.7-5zM124 -13.7l1 .7-1.2 0zM135 -13.4l1-.1 .4 .5-.4 1-1 .4-2 2-1 .1-.8-.5-.1-1 3.5-2zM202 12.9l3-.5 2.4 1.6-.3 1-4.1 1-1.9-1-.7-1 1.4-1zM212 14l1.1 0-1.2 0zM180 26.9l0 .6-.1-.5zM179 31.4l1-.2 .3 .8-.3 2.6-1 .7-1 .2-.5-.5 .7-3zM187 41l1.4 0-1.4 0z"/><path fill="#f8d099" stroke="#f8d099" fill-rule="evenodd" d="M208 -24.1l8-.7 3 1.8 .8 1 .1 1-.9 1-4 1.8-14 3.9-6 1-4 1.4-3 .3-12 3.3-10 .9-11.7 2.4-1.4 1-.7 1-2.2 8.7-2 .7-.5 .6 .1 3-.6 1.5-5.9 6.5-1.1 .4-2-.1-2 1.4-1 1.3-1 .2-4-.6-2 .6-3-.8-.7-.4 .7-.7 2.4-1.3-1.3-2-1.1-.5-3 1.7-4-1.5-3.6 .3-3-4 .4-2-.2-1-3.5-2-.3-1 1.6-2-.4-2-1.4-3 .7-4 1.7-1.6 7-4 1-1.4 .5-2-.5-.8-2 .1-.7-.3-.6-1 .6-1 1.7-.6 1.1 .6 .9 1.4 1-.4 1-1 0-2.1 1 .2 3 2.2 2 0 3 1.1 4-1.2 2 .8 4-2.3 1 .1 1.1 2.2-1.7 2 .3 1 1.3 .2 2-1.2 3 1.2 1 0 2-2.3 3 .4 6-.1 9-2.8 11-2.3 3.4-.1 3.6-1 9-1.1 4-.1 8.7-1.8zM208.8 -23l-22.8 2.8-3 .8-4 .1-9 2-11 3.7-4 .5-4 1.2-3 1.6-2 .4-2 1.5-3-1.1-2-.2-2 1-4 .9-3-.4-1.9 .2-3.1 1.9-2 .3-2-.3-3 .2-3-1.3-1 .4-.8 .8-1.2 2.4-1.7 1.6-.5 1 .2 1 3 4.6 4 1.7 2 2.1 2 3.3 6 1.5 2 0 1 .8 1 2.4 1 .8 1 .2 1.1-.4 1-2 .9-.8 5-1.3 1.7-2.9 2.3-1.5 .4-2.5 2.2-3-.1-1-.5-.7-3-1.5-1.4-2.8 .5-1 2.9-2.1 4 .9 5-1.7 4-.2 7-1.3 4 .2 6-.7 12-3.3 3-.4 4-1.4 5-.9 3.9-1.1 11.7-4 1.2-1 .2-1-1-1.1-7 .1zM123.8 -13l1.2 0-1-.7zM134.6 -13l-3.5 2 .1 1 .8 .5 1-.1 2-2 1-.4 .4-1-.4-.5-1 .1zM104 -11.1l.8 .1-.8 .3-.1-.3zM143 25l2 .1 1 .9-.3 1-1.7 1.8-1 .2-2-1.1-2 .5 0-1.9 2 .1 1.9-1.6zM153 26.3l1 0 1.3 1.7 0 1-1.3 .8-1 0-.9-.8 .6-2zM131 30l1.4 1-1.4 2-1 .6-.8-.6 .1-1 .7-1.6 1-.4z"/><path fill="#f2a673" stroke="#f2a673" fill-rule="evenodd" d="M209 -23l7-.1 1 1.1-.2 1-1.2 1-11.7 4-3.9 1.1-5 .9-4 1.4-3 .4-12 3.3-6 .7-4-.2-7 1.3-4 .2-5 1.7-4-.9-2.9 2.1-.5 1 1.4 2.8 3 1.5 .5 .7 .1 1-2.2 3-.4 2.5-2.3 1.5-1.7 2.9-5 1.3-.9 .8-1 2-1.1 .4-1-.2-1-.8-1-2.4-1-.8-2 0-6-1.5-2-3.3-2-2.1-4-1.7-3-4.6-.2-1 .5-1 1.7-1.6 1.2-2.4 .8-.8 1-.4 3 1.3 3-.2 2 .3 2-.3 3.1-1.9 1.9-.2 3 .4 4-.9 2-1 2 .2 3 1.1 2-1.5 2-.4 3-1.6 4-1.2 4-.5 11-3.7 9-2 4-.1 3-.8 22.8-2.8zM199.7 -21l-16.7 2.2-4 .1-9 2.1-10 3.9-4.1 .7-1.9 1.5-3.8 1.5-.5 1 1.3 .4 3-1.3 4 .5 3-.7 2 .3 4-.6 3 .6 6-.7 12-3.2 3-.5 3-1.3 5-.9 9-2.8 1.6-.8 1-1 0-1-1.6-.7-4 .6-5 .1zM133.1 -6l-1.1 .9-2 .7-.9 1.4-1.5 1-6.6-2.5-6 .2-2.3 4.3 .5 1 2.8 1.9 4-.1 .7 3.2 1.3 1.1 2 .1 1.7 2.8 1.3 1 10 .6 1.5-.6 .5-.6 1-4.9 2.1-3.5-1.1-2.4-3.2-2.6-.8-2.3-1-.8-2-.2zM134 -2.2l.3 .2-.6 0z"/><path fill="#e9735e" stroke="#e9735e" fill-rule="evenodd" d="M200 -21l5-.1 4-.6 1.6 .7 0 1-1 1-1.6 .8-9 2.8-5 .9-3 1.3-3 .5-12 3.2-6 .7-3-.6-4 .6-2-.3-3 .7-4-.5-3 1.3-1.3-.4 .5-1 3.8-1.5 1.9-1.5 4.1-.7 10-3.9 9-2.1 4-.1 16.7-2.2zM196.6 -20l-13.6 1.8-3-.1-6 1.3-4 1.1-6.5 2.9-1.3 1 .1 1 1.7 .5 3 .1 3 1 6-.6 12-3.4 3-.5 3-1.4 4.4-.7 4.9-2 1.1-1-1.3-1-1.1-.2-5 .2zM134 -6.3l2 .2 1 .8 .8 2.3 3.2 2.6 1.1 2.4-2.1 3.5-1 4.9-.5 .6-1.5 .6-10-.6-1.3-1-1.7-2.8-2-.1-1.3-1.1-.7-3.2-4 .1-2.8-1.9-.5-1 2.3-4.3 6-.2 6.6 2.5 1.5-1 .9-1.4 2-.7 1.1-.9zM115.9 -2l-.6 1 0 1 .7 .8 1 .2 2-.8 1 .1 4 1.8 1-.1 1.1-1-.8-1-2.3-.9-2-1.7-1-.3-3 .4-1 .4zM133.7 -2l.6 0-.3-.2zM127.6 2l.4 2-.3 1-1.5 2 0 1 .8 1.5 2 .7 4-.4 2-.6 1.3-1.2 .3-3 1.1-2-.7-1.4-2-.4-4 1-3-.5z"/><path fill="#e34349" stroke="#e34349" fill-rule="evenodd" d="M197 -20l5-.2 1.1 .2 1.3 1-1.1 1-4.9 2-4.4 .7-3 1.4-3 .5-12 3.4-6 .6-3-1-3-.1-1.7-.5-.1-1 1.3-1 6.5-2.9 4-1.1 6-1.3 3 .1 13.6-1.8zM196.8 -19l-2.8 .8-5 .5-10 .2-9.2 2.5-2.3 2-.1 1 .8 1 1.8 .9 7-.8 14-4 3-1.8 4-.2 1.8-1.1-.1-1-2.7 0zM116 -2.1l1-.4 3-.4 1 .3 2 1.7 2.3 .9 .8 1-1.1 1-1 .1-4-1.8-1-.1-2 .8-1-.2-.7-.8 0-1 .6-1zM128 1.7l3 .5 4-1 2 .4 .7 1.4-1.1 2-.3 3-1.3 1.2-2 .6-4 .4-2-.7-.8-1.5 0-1 1.5-2 .3-1-.4-2zM130.3 6l-2.3 1-.4 1 .4 .6 2 .4 3.5-1 .6-1-.7-1-1.4-.4-1 .2z"/><path fill="#e03045" stroke="#e03045" fill-rule="evenodd" d="M197 -19l2.7 0 .1 1-1.8 1.1-4 .2-3 1.8-14 4-7 .8-1.8-.9-.8-1 .1-1 2.3-2 9.2-2.5 10-.2 5-.5 2.8-.8zM179.6 -17l-8.9 3-.9 1-.1 1 1.3 .8 2-.5 3 .2 5.5-1.5 2.4-1 1.1-1-.5-1-4.5-1zM131 5.8l1-.2 1.4 .4 .7 1-.6 1-3.5 1-2-.4-.4-.6 .4-1 2.3-1z"/><path fill="#df2035" stroke="#df2035" fill-rule="evenodd" d="M180 -17l4.5 1 .5 1-1.1 1-2.4 1-5.5 1.5-3-.2-2 .5-1.3-.8 .1-1 .9-1 8.9-3zM179 -15l1 .3 .3-.3-.3-.4-1 .4z"/><path fill="#b7212b" stroke="#b7212b" fill-rule="evenodd" d="M179 -15l1-.4 .3 .4-.3 .3-1-.3z"/>
<use href="#land" fill="#787978" stroke="#787978" stroke-width="0.7"/>
</g>
<line x1="287.02" y1="263.28" x2="287.02" y2="458.50" stroke="#161616" stroke-width="5.2" stroke-dasharray="23.2 20.6" stroke-dashoffset="1.8"/>
<rect x="91.40" y="263.08" width="464.61" height="195.62" fill="none" stroke="#111" stroke-width="1.9"/>
<path d="M140.31,263.08v-4.6M140.31,458.70v4.6M238.12,263.08v-4.6M238.12,458.70v4.6M335.93,263.08v-4.6M335.93,458.70v4.6M433.74,263.08v-4.6M433.74,458.70v4.6M531.55,263.08v-4.6M531.55,458.70v4.6M91.40,287.53h-5.2M556.01,287.53h4.6M91.40,324.21h-5.2M556.01,324.21h4.6M91.40,360.89h-5.2M556.01,360.89h4.6M91.40,397.57h-5.2M556.01,397.57h4.6M91.40,434.25h-5.2M556.01,434.25h4.6" stroke="#111" stroke-width="1.3" fill="none"/>
<text x="77.00" y="301.73" font-size="34.5" text-anchor="end" fill="#000">30°N</text>
<text x="77.00" y="338.41" font-size="34.5" text-anchor="end" fill="#000">15°N</text>
<text x="77.00" y="375.09" font-size="34.5" text-anchor="end" fill="#000">0°</text>
<text x="77.00" y="411.77" font-size="34.5" text-anchor="end" fill="#000">15°S</text>
<text x="77.00" y="448.45" font-size="34.5" text-anchor="end" fill="#000">30°S</text>
<text x="438.60" y="447.70" font-size="33.2" font-weight="bold" fill="#000">IAP-1</text>
<text x="75.60" y="259.80" font-size="30.2" font-weight="bold" text-anchor="end" fill="#000">C</text>
<g transform="matrix(2.4453,0,0,-2.4453,450.070,360.892)" clip-path="url(#pc)" stroke-width="0.3" stroke-linejoin="round">
<path fill="#343f93" stroke="#343f93" fill-rule="evenodd" d="M158 -6.1l11 .1 6.5 1 6.6 2 2.5 2 .3 1-.6 1-2.3 1.5-1.4 1.5-3 1-11.6 1-7.8-1-3.9-2-3.3-2.6-.7-1.4 1.6-2 3.3-2 2.5-1z"/><path fill="#394d9c" stroke="#394d9c" fill-rule="evenodd" d="M157 -6.1l3-.4 8 .2 4.4 .3 5.2 1 4.5 1 2.3 1 2.8 2 .2 1-.4 1-2 1.8-5.2 2.2-7.8 1.1-7 .1-5-.4-5.2-1.8-3-2-2.1-2-.1-1 1.9-2 5.3-3zM157.7 -6l-2.5 1-3.3 2-1.6 2 .7 1.4 3.3 2.6 3.9 2 7.8 1 11.6-1 3-1 1.4-1.5 2.3-1.5 .6-1-.3-1-2.5-2-6.6-2-6.5-1-11-.1z"/><path fill="#325ea6" stroke="#325ea6" fill-rule="evenodd" d="M157 -6.2l3-.6 8 .3 6.6 .5 5.4 1 3.7 1 4.5 2 1.2 1-.1 1-1.4 2-1.2 1-2.1 1-4.6 1.3-8 1-7 .1-6-.4-4.9-2-3-2-2-2 0-1 1.9-2 5.2-3zM156.8 -6l-5.3 3-1.9 2 .1 1 2.1 2 3 2 5.2 1.8 5 .4 7-.1 7.8-1.1 5.2-2.2 2-1.8 .4-1-.2-1-2.8-2-2.3-1-4.5-1-5.2-1-4.4-.3-8-.2-3 .4z"/><path fill="#2373b3" stroke="#2373b3" fill-rule="evenodd" d="M160 -7l14 .7 7.9 1.3 8.6 3 .8 1-.2 1-3 3-3.1 1.5-4 1-6 .7-9 .4-8-.6-6-3-3.3-3 .1-1 .8-1 2.6-2 3.8-2.1 3.7-.9zM156.2 -6l-5.2 3-1.9 2 0 1 2 2 3 2 4.9 2 6 .4 7-.1 8-1 4.6-1.3 2.1-1 1.2-1 1.4-2 .1-1-1.2-1-4.5-2-3.7-1-5.4-1-6.6-.5-8-.3-3 .6zM260 14.4l1-.1 1.6 .7-1.6 2.6-2 .3-1-.8 1.1-2.1z"/><path fill="#28a0d5" stroke="#28a0d5" fill-rule="evenodd" d="M159 -7.1l10 .2 13 1.6 9 2.5 1.2 .8 .5 1-.1 1-.7 1-2.5 2-4.4 2.4-12 1.2-8 .2-6-.4-5.8-2.4-4.2-3-.7-1 .2-1 .8-1 2.7-2.1 4-2.2 2.5-.7zM159.7 -7l-3.7 .9-3.8 2.1-2.6 2-.8 1-.1 1 3.3 3 6 3 8 .6 9-.4 6-.7 4-1 3.1-1.5 3-3 .2-1-.8-1-8.6-3-7.9-1.3-14-.7zM186 6.9l6-.7 4.2 .8-.7 1-4.5 .6-4.1-.6-1.1-1zM241 9l2-.5 1.2 .5-.4 1-1.8 .5-1.2-.5 .2-1zM223 9.9l4-.6 4.6 .7 1 1-1.6 .6-2 .1-4 2.3-4-.4-2 .9-1.3 1.5 .3 1 2.6 2 .4 1-.5 1-1.5 1.2-2 .3-6.4-1.5-.5-1 1.5-4-.7-2 .3-1 1.8-1 7-.5 2.6-1.5zM236 9.7l1-.6 1 0 1.1 .9-1 1-2.1 .8-1.3-.8 .8-1zM260 12l3 .6 3-.2 1 .4 2.1 2.2 .4 1-.3 1-1.2 1.1-1 .4-3-.5-3 1.7-5 .2-2.2-.9-.4-1 .6-2-.1-2 2.1 .3 1-.3 2-1.8 .9-.2zM259.1 15l-1.1 2.1 1 .8 2-.3 1.6-2.6-1.6-.7-1 .1z"/><path fill="#3bbee5" stroke="#3bbee5" fill-rule="evenodd" d="M218 -27.1l2-.6 1.9 .7-1.5 1-1.4 .2-.8-.2-.9-1zM158 -7.1l6-.3 11 .8 7 1 10 2.3 1.8 1.3 .1 2-1.5 2-4 3 5.6 .3 10.4 1.7 1.1 1-.3 1-1.2 .6-4-.6-10 .7-5-.8-2.2-.9-.8-1-2-.4-15 .4-5-.2-3-.8-4.1-2-2.9-2-2-2 .1-1 .9-1 2.6-2 3.4-2 2.7-1zM158.5 -7l-2.5 .7-4 2.2-2.7 2.1-.8 1-.2 1 .7 1 4.2 3 5.8 2.4 6 .4 8-.2 12-1.2 4.4-2.4 2.5-2 .7-1 .1-1-.5-1-1.2-.8-9-2.5-13-1.6-10-.2zM185.8 7l1.1 1 4.1 .6 4.5-.6 .7-1-4.2-.8-6 .7zM248 6.7l2-.2 3 1 3-.6 2 .3 1.6 .8 1.8 2 1.6 .9 3-.3 1.7 .4 2.3 2.4 3.7 1.6 0 1-3.9 3-2.8 1.3-6 .6-6 .1-3.8-1-2.3-1-.9-1-.3-2 .8-3-.3-1-1.2-.4-1.6 .4-1.4 1.7-1 .2-3-1-1 .2-2 1.8-.9 .1-6.1-1.3-1.2 .3-3.7 3 3.4 4-.1 1-2.4 1.3-4-.4-4 .9-7-.6-2.8-1.2-.6-1 .9-3-.5-1-2-.4-2.4-1.6-.1-1 .4-1 1.1-1.1 3 .4 4-1.7 5-.9 3-.1 3-1 3-.5 5-.2 3 .4 3-.6 10.1-.7zM241 9l-.2 1 1.2 .5 1.8-.5 .4-1-1.2-.5-2 .5zM222.6 10l-2.6 1.5-7 .5-1.8 1-.3 1 .7 2-1.5 4 .5 1 6.4 1.5 2-.3 1.5-1.2 .5-1-.4-1-2.6-2-.3-1 1.3-1.5 2-.9 4 .4 4-2.3 2-.1 1.6-.6-1-1-4.6-.7-4 .6zM235.5 10l-.8 1 1.3 .8 2.1-.8 1-1-1.1-.9-1 0-1 .6zM259.9 12l-.9 .2-2 1.8-1 .3-2.1-.3 .1 2-.6 2 .4 1 2.2 .9 5-.2 3-1.7 3 .5 1-.4 1.2-1.1 .3-1-.4-1-2.1-2.2-1-.4-3 .2-3-.6zM198 14.4l1-.4 1.5 1 .4 1-.9 .7-1-.3-1.5-1.4z"/><path fill="#80cbe3" stroke="#80cbe3" fill-rule="evenodd" d="M227 -30.1l9 1.3 5-1 2.8 .8 .5 1-3.3 2.3-2 .7-4-.4-4 .7-2-.3-3 .5-4-.1-4 .8-6.6-1.2-3.7-2 .7-1 2.6-.7 6-.1 4-.9 4 .2 1.6-.5zM217.3 -27l.9 1 .8 .2 1.4-.2 1.5-1-1.9-.7-2 .6zM200 -8.1l4.8 .1-.8 .3-1.3 3.7-1.7 1.6-1 .4-3 0-1 .8-1.7 3.2-1.1 1-.1 1 13.9 2.2 1.8 .8-.6 2 .8 .4 2-1.3 1-.2 5 0 3 .4 4-1 6-.6 9-.1 10-1.3 4 .4 9.1-.7 2.7 1 .4 1 .8 .6 2-.3 1 .7 2 3.8 4 1.3 1 1.9-.1 2-1.9 4-1 .3-4-.1-6 1.3-5-.5-5 .1-5-1.4-3-2.2-3-.1-2-1.8-3 .8-4-1.1-2 .1-.7 .6-.3 1 .6 1 1.4 .4 3-.3 .7 .9-1.9 3-.8 .4-3 .1-3 1.9-4-.6-4 .7-7-.6-2-.4-7-2.5-3-1.8-6.5-2.2-2.1-1-1-1 4.6-3.3 5.6-1.7-5.6-.5-6 .5-6.9-2-3.1-2-14 .3-6-.5-2-.6-4-1.9-3.3-2.3-2.1-2 .2-1 .9-1 3.3-2.5 3-1.8 4-1.2 5 0 10 .6 7 .9 7 1.5 7 .6 1-.1 1-.9 .6-2.1 1.7-1zM157.7 -7l-2.7 1-3.4 2-2.6 2-.9 1-.1 1 2 2 2.9 2 4.1 2 3 .8 5 .2 15-.4 2 .4 .8 1 2.2 .9 5 .8 10-.7 4 .6 1.2-.6 .3-1-1.1-1-10.4-1.7-5.6-.3 4-3 1.5-2-.1-2-1.8-1.3-10-2.3-7-1-11-.8-6 .3zM247.1 7l-10.1 .7-3 .6-3-.4-5 .2-3 .5-3 1-3 .1-5 .9-4 1.7-3-.4-1.1 1.1-.4 1 .1 1 2.4 1.6 2 .4 .5 1-.9 3 .6 1 2.8 1.2 7 .6 4-.9 4 .4 2.4-1.3 .1-1-3.4-4 3.7-3 1.2-.3 6.1 1.3 .9-.1 2-1.8 1-.2 3 1 1-.2 1.4-1.7 1.6-.4 1.2 .4 .3 1-.8 3 .3 2 .9 1 2.3 1 3.8 1 6-.1 6-.6 2.8-1.3 3.9-3 0-1-3.7-1.6-2.3-2.4-1.7-.4-3 .3-1.6-.9-1.8-2-1.6-.8-2-.3-3 .6-3-1-2 .2zM197.5 15l1.5 1.4 1 .3 .9-.7-.4-1-1.5-1-1 .4z"/><path fill="#a8dbe9" stroke="#a8dbe9" fill-rule="evenodd" d="M251 -32.1l7 3.3 .7 .8 .3 1-.5 1-3.5 1.9-4 .7-5-.6-2-1-1 0-4 1.6-4-.5-4 1.4-3-.7-3 .3-3-.2-5 1.3-2-.7-4 .4-5-1.7-2-2.7-1-.4-2 .3-3 1.1-3-.5-1.6-1-.2-1 .8-1.5 1-.6 2 0 4 .6 2-1.2 1-.2 5 .3 3-.4 4 .9 4-1 7-.6 4 .9 5 .2 5-.9 5 .6 3-.4 1.9-.7zM226.6 -30l-1.6 .5-4-.2-4 .9-6 .1-2.6 .7-.7 1 3.7 2 6.6 1.2 4-.8 4 .1 3-.5 2 .3 4-.7 4 .4 2-.7 3.3-2.3-.5-1-2.8-.8-5 1-9-1.3zM206 -13.4l1 0 2 1.3 1 .2 3-1 .9 .9-.3 1-2.6 .5-1.4 3.5-.9 1-3.7 2.5-2 2.3-2 .9-3 .3-1 .6-.6 1.4 .6 1.2 6 1.4 7 .2 10 2.3 11-1.9 7 .5 11-1.6 5 .4 8-1.2 6 .7 4-1.4 4 .2 1 .3 .6 .9 .2 2-2.7 3 .2 1 2 2 2 3 .6 2-.9 1.4-.2 1.6-.8 1.2-4 2.3-5-.5-3 .7-2 1.3-1 .1-3-.8-3 .4-1.2 .3-1 2-3.8 1-1 0-.6-1 .2-2-.6-.5-2-.4-3 0-2-.6-1 0-.6 .5 .1 2-.5 1.1-1 .5-4-.8-4-1.4-1 .4-2 2.1-1 .4-3-.6-1 .5-3-.4-3 .3-2-1.2-4 0-2-.5-3-1.9-4 0-3-1.8-6-2.8-1 .2-2 1.9-1 .1-2-1.1 0-2-1-.9-2 1.2-3 .4-1.4-.7-.3-1 .4-1 2.3-2.6 3 0 1-.4 .6-1-.3-1-7.3-2.6-2-1.6-16-.5-4-.9-6-3.3-3.7-3.1 .2-1 2.5-2.3 5-3.2 3-1 5-.2 10 .4 16.4 2.3 8.6-5.3 1-.5 3 .1 3.3-2.3zM199.3 -8l-1.7 1-.6 2.1-1 .9-1 .1-7-.6-7-1.5-7-.9-10-.6-5 0-4 1.2-3 1.8-3.3 2.5-.9 1-.2 1 2.1 2 3.3 2.3 4 1.9 2 .6 6 .5 14-.3 3.1 2 6.9 2 6-.5 5.6 .5-5.6 1.7-4.6 3.3 1 1 2.1 1 6.5 2.2 3 1.8 7 2.5 2 .4 7 .6 4-.7 4 .6 3-1.9 3-.1 .8-.4 1.9-3-.7-.9-3 .3-1.4-.4-.6-1 .3-1 .7-.6 2-.1 4 1.1 3-.8 2 1.8 3 .1 3 2.2 5 1.4 5-.1 5 .5 6-1.3 4 .1 1-.3 1.9-4 .1-2-1-1.9-4-1.3-2-3.8-1-.7-2 .3-.8-.6-.4-1-2.7-1-9.1 .7-4-.4-10 1.3-9 .1-6 .6-4 1-3-.4-5 0-1 .2-2 1.3-.8-.4 .6-2-1.8-.8-13.9-2.2 .1-1 1.1-1 1.7-3.2 1-.8 3 0 1-.4 1.7-1.6 1.3-3.7 .8-.3-4.8-.1zM249.8 24l.9 1 1.3 .5 1.6-.5-.9-1-1.7-.3-1 .2zM284 15.9l1.1 .1 .8 1-.9 .5-1-.5-.1-1z"/><path fill="#c4e8f7" stroke="#c4e8f7" fill-rule="evenodd" d="M100 -41l3.7 0-.7 1.2-1 .1-3-.4 0-.9zM125 -41l2.2 0-1.1 3-1.7 2-1.4 .9-2.2 .1-1.2-1 4.3-3 .2-2zM137 -41l1.6 0-1.6 .7-.4-.7zM141 -41l1.1 0-1.1 .4-.8-.4zM208 -41l2.3 0-1.3 1.1-1-1.1zM212 -41l3.1 0-.1 1-1 .4-1-.2-1.5-1.2zM245 -41l2 0-1 .6-1.2-.6zM273 -41l4 0-.3 1-.7 .7-1 .1-2-.7-.5-1.1zM111 -38.1l1-.8 1 0 1 .6 2-.4 1.4 .7-.4 1.1-2-.8-1 0-2 2.1-1 .1-.4-.5-.1-1 .4-1zM105 -37.2l0 .3-.3-.1zM179 -37.2l2 .2 .8 1-2.8 .5-.4-.5 .2-1zM279 -35.8l1 0 1 .8 2.2 6-.4 1-3.8 .5-.7-.5 0-2-1.2-2 0-1 .9-2zM165 -34.8l1 .8-1 .7-.8-.7zM208 -34.3l1 .1 2 1.6 2 0 3 1.4 3-1.4 2 .3 7-.7 3 1.1 4-.7 1 .6 2 .1 4-2.1 1 1.2 4 .4 1.7-.6 1.3-1.5 1 0 3 1.3 2.6 2.2 2.8 1 1.6 1.8 1 .4 1-.4 2-2.1 1-.4 .6 .7 .6 4-1.2 1.4-2 .6-2 .2-2-.8-1 .1-8 2.5-5-.7-2-1.2-1-.2-4 2-4-1-4 1.6-9-.1-2.6 .6-1.3 1-.4 1 .3 2.5 1.4 1.5 .1 1-.3 1-3.2 .4-1.3 2.6-2.7 1-.7 1-.4 2-4.9 3.5-1.5 2.5-3.8 2 .7 1 2.6 1 5-.2 5 .8 6 1.7 4-.9 4-.2 4-1.2 3 .9 3 .2 8-1.8 8 .5 8-1.3 6 .2 3-1 6 0 1 .3 1.1 1 1.4 2-.6 2-.7 1-1.3 1-.3 1 2.4 2.9 1 .8 1-.1 4-2.4 1 .1 2.9 1.7 .2 1-1.8 5-1.3 1.5-5 2.4-3 .9-2 .1-2.8 1.1-1 1-1.2 2.7-1 .9-1 .3-1.1-1.9 .3-3-1.2-.2-1 .7-.1 1.5-.9 1-1 .3-1 0-2-1.6-2-.2-1.2 1.5-.4 3-1.4 1-1-.5 0-1.5-1-.9-2 .5-1 1.6-1 .6-2-.5-2-1.7-1 0-2 .9-2 4.1-1 .4-1 0-1-.6-1.6-4.4-.8-1-1.5-1-3.1-1.1-1.3 .1-1.9 3 3.2 .8 1.1 1.2-.3 1-.8 .1-4-1-4-.4-4 .7-5-2.3-1-1.3-4.7 1.2-1.3 1.4-1 0-1.2-1.4 1.5-2 0-1-.5-1-.8-.5-1-.2-3 1-1-.3-3-1.3-3-2.6-1-.4-1 .2-.1 1.1 1.1 2.5 2.5 1.5-.5 1.2-1 0-8-4.8-3 0-2-1.8-2-.2-4-1.4-.8-1 0-1 .5-1 3.3-1.5 1.1-2.5-.1-.5-2-.9-1.7-2.6-1.3-1-16-.9-5-2-4.7-3.1-2.1-2 .2-1 2.6-2.5 5-3.1 2-.8 4-.4 11 .3 17 2 9-6.5 3-.3 3-1.5 3.5-2.2 1.3-2 .4-1-1.2-2.3-3.3-1.7-1.7-2.2-1-.1-4 1.2-1-.1-5.4-1.8-.4-1 1.4-3 1.4-1.1 4-.4 2 .3 3-1.4 3 .1 1.7-1.5zM250.9 -32l-1.9 .7-3 .4-5-.6-5 .9-5-.2-4-.9-7 .6-4 1-4-.9-3 .4-5-.3-1 .2-2 1.2-4-.6-2 0-1 .6-.8 1.5 .2 1 1.6 1 3 .5 3-1.1 2-.3 1 .4 2 2.7 5 1.7 4-.4 2 .7 5-1.3 3 .2 3-.3 3 .7 4-1.4 4 .5 4-1.6 1 0 2 1 5 .6 4-.7 3.5-1.9 .5-1-.3-1-.7-.8-7-3.3zM210.6 -18l.4 1 1-.7 0-.6-1-.2zM205.3 -13l-3.3 2.3-3-.1-1 .5-8.6 5.3-16.4-2.3-10-.4-5 .2-3 1-5 3.2-2.5 2.3-.2 1 3.7 3.1 6 3.3 4 .9 16 .5 2 1.6 7.3 2.6 .3 1-.6 1-1 .4-3 0-2.3 2.6-.4 1 .3 1 1.4 .7 3-.4 2-1.2 1 .9 0 2 2 1.1 1-.1 2-1.9 1-.2 6 2.8 3 1.8 4 0 3 1.9 2 .5 4 0 2 1.2 3-.3 3 .4 1-.5 3 .6 1-.4 2-2.1 1-.4 4 1.4 4 .8 1-.5 .5-1.1-.1-2 .6-.5 1 0 2 .6 3 0 2 .4 .6 .5-.2 2 .6 1 1 0 3.8-1 1-2 1.2-.3 3-.4 3 .8 1-.1 2-1.3 3-.7 5 .5 4-2.3 .8-1.2 .2-1.6 .9-1.4-.6-2-2-3-2-2-.2-1 2.7-3-.2-2-.6-.9-1-.3-4-.2-4 1.4-6-.7-8 1.2-5-.4-11 1.6-7-.5-11 1.9-10-2.3-7-.2-6-1.4-.6-1.2 .6-1.4 1-.6 3-.3 2-.9 2-2.3 3.7-2.5 .9-1 1.4-3.5 2.6-.5 .3-1-.9-.9-3 1-1-.2-2-1.3-1 0zM283.9 16l.1 1 1 .5 .9-.5-.8-1-1.1-.1zM244.5 26l-1.9 1-.6 1 .2 1 .8 .3 .7-.3 2.9-2-.2-1-1.4-.1zM100 -32.2l.6 1.2-.2 1-.4 .9-1 .5 0-4.3zM134 -31.2l1-.6 1 .1 .8 .7 .1 1-.9 1-1 0-1-1-.2-1zM290 -31.2l1-.1 0 .7-.6 .6-1.4 .3-.6-.3 1.1-1zM185 -29.3l1-.1 .4 1.4-1.7 0 0-1zM272 -29l1.9 1 .5 1-.4 .6-2-.6-1-1 0-1zM291 -23.6l0 1.4-.3-.8zM291 5.9l0 .5-.1-.4zM250 23.9l1-.2 1.7 .3 .9 1-1.6 .5-1.3-.5-.9-1zM291 28.3l0 6.4-1-.7-.5-2 .4-2 .8-1zM273 29.8l2-.2 1 .7 0 2.4-1 1.1-2-.8-.8-1-.1-1 .6-1zM265 34.1l1.2 .9 0 1-1.2-.1-1-.9zM253 35.8l2-.5 1 .6 .5 1.1-.3 1-1.2 .6-3.2-.6 0-1 1-1zM224 39.9l2-.1 .4 1.2-4.2 0 1.4-1z"/><path fill="#fcf0dc" stroke="#fcf0dc" fill-rule="evenodd" d="M107 -41l1.7 0-.7 .9-1-.2-.6-.7zM145 -41l1.1 0-.1 .4-1 .2-.2-.6zM155 -41l.3 0-.4 0zM173 -41l.6 0-.6 .5-.5-.5zM181 -41l2.8 0-.8 1-1 .1-1.5-1.1zM253 -41l1.4 0-.4 1-1.7-1zM258 -41l1.9 0-.9 1.3-1 0-.1-1.3zM268 -41l1.2 0-1.2 .3-.2-.3zM287 -41l4 .4 0 1.3-2 .4-1.2-.1-.8-1-.1-1zM135 -37.4l1.1 .4 .3 1-.4 .7-1 .4-1.2-.1 0-1 .7-1zM272 -36.1l2 .2 .7 .9-.4 1-1.1 1-1.2 .5-1.1-.5-.6-1 .3-1 1.1-1zM125 -33l.6 0 .2 1-1.8 2.2-1.1-1.2 .5-1 1.6-1zM113 -31.3l0 .5-.5-.2zM161 -31l1-.3 .5 .3 .6 1 .3 3 1.6 .9 1-.1 2.9-1.8 .7-3 1.4-.7 1.6 .7 .6 2 1.8 .8 .7 2.2 1.2 1 1.1-.3 2-1.5 1-.1 2 1.1 2 .1 3 1.1 7 1.1 3 1.9 3 0 1.7 .6 1.3 1-3 3.2-1.1 1.8-4 2-5.9 4.5-2 2.1-2 .2-12-1.4-16-.2-2 .4-5 2.9-3.9 3.5-.3 1 .9 1 3.3 2.4 5 2.9 4 1.2 9.3 .5 1.2 1 2.3 5-.6 1-1.2 .6-1.8 2.4-.7 1 .4 1 2.1 1.9 3 .3 .9 .8 1.4 3 1.9 2 .8 1.5-.1 1.5-1.9 4 1.7 2 .3 2-2 1.6-1 .3-6.5 .1-1.5-1.3-4-1.2-1 .5-1.2 2-1.1 0-.1-1-.6-1.1-1.3-.9 .3-.3 3-1.3 3 .1 1-.5-.5-2 .4-1 1.1-.5 4 .2 1-1.1 .8-2.6 1.7-2 0-1-.5-1.1-1-.3-1 .4-1 1-.7 2-1.3 .4-.5-.4-.1-1 .9-3-.7-1-1.6-.4-.7 .4-1.2 1-.1 2-1 .1-2-4.4-1.3-1.7-.3-1 .4-1 1.2-1.4 2 .7 1 0 3-.8 1-.6 .7-1.9 0-1-.7-2.6-.8-1.4-3.5-1-5.7-.5-3-1.1-5-2.9-4.4-3.5 .3-1 1.1-1.2 3-2.5 5-3 7-.5 18 .9 3 .4 2.6-.1 1-1 .7-2 2.9-1 1.7-2 4.9-3 .6-3-2.4-3.3-2-.8-6-.9-3-.9-5-.1-3 1.1-6-2-5 1.1-3-.3-1.4 1.1-.6 3-1 .7-2 .1-1.8 2.2-1.2 .4-1-.2-2.3-2.2-2.7-1.7-2 2.1-2 .8-1-.2-3-2-4-1.1-5 1.3-4-1.1-2-1.6-3-1.1-3 2.5-4 .4-3 1-1.8-.3-2.2-1.1-1 .9-.3 1.2 1 2-.2 1-.5 .4-3 1-2 1.7-4 .4 0-4.9 .5 1.4-.3 1 1.1 1 1.7 0 2.6-3 .7-3-1.3-1.3-1-.1-4 3 0-6.6 2 .5 2 1.2 1-.1 2-1.5 4 .1 1 2.8 1 .7 1 .1 4.4-.8 2.6-1 1.2-3 1.8-1.6 1 0 2 1.4 1-.3 2-2 1-.5 2 .9 .7 1.1 .1 2-.8 2.1 1 .5 3-1 1 .1 2 .5 3 1.6 1 0 1.1-.8 1-2 .9-.8 5-2 1-1.2 1-.4 1.4 .4 2.6 2.1 2 1 .6-.1 .5-1-.5-2 .4-1 1-1zM151.2 -26l.8 2.7 1 .8 .5-.5-.1-1-1.4-2.5zM163.8 20l.2 1.2 1 .3 1.7-1.5-.7-.9-2 .6zM168.7 36l-1.3 1 1.1 1 1.5 .1 .3-1.1-1.3-1.1zM175.4 38l.6 .7 .8-.7-.8-.5zM268 -22.2l1 .2 1 2 1 .5 1-.3 1.7-2.2 1.3 0 3.1 2 1.5 2 1.4 .5 1-.2 2-1.7 1-.3 1.3-1.3 1.7-.4 1.1 1.4 .4 4 1.5 1.1 0 14.1-2 .1-3-2.2-1 .3-1.1 1.6-.2 2-.7 .8-6-1.8-4 .1-3-.3-11 1.8-4-.1-1 .5-2 .3-2-.3-4-1.9-9 3.6-2-.5-1.1-1.2-1.9-.9-1 .1-1.6 1.8-1.4 .6-3-.6-5 1.6-3-.5-3-1.6-2.3-.5-.5-1 .9-4 1.8-2 .6-2 1-1 3.5-1.7 3-.4 1.3-.9 .1-1-.4-2 2.6-4 6.4-1.9 6 1 3.2-1.1 1.8-1.6 3 1.4 2-.4 3 .4 5-1.5 5 1.2 1.5-.5 2.5-.1 2.1-.9zM253 -19l-8 3.1-1.6-.1-1.4-1.9-1-.2-7.4 1.1-1.3 2-1.3 .7-3 .4-2.6 .9-1.4 3-1 .7-4 1.2-1.9 1.1-1.2 2-1.7 2-.1 1 3.9 4 1 .5 3-.5 3-1.8 1 0 2 1.1 2-1.4 1-.2 6 1.6 3-2 3-.1 2-.9 2 .2 4 2.1 4-1.5 2 1 2 .4 4-.5 4-1.1 2-1.5 3 1.3 4-.4 2 .4 1-.3 1-1.8 1-.6-.3-2 .3-.4 3 .1 2-.3 1.2-1.4-1.2-6.5-1-1.3-1-.3-6 1.1-2-2.5-1-.5-2 .7-2 0-3-2-1 0-1 1.3 0 2-1 .6-4-.8-3 .8-1.4-.6-.6-1-.4-2-.6-.7-1 .3zM278 -13.8l2 .9 .6 .9-.6 2.4-1-.8-1.2-2.6zM100 -10.1l1.8 1.1 .5 1-.3 1.2-.7 .8 3.7 1.2 1 2.2 1.4 .6 .5 1-1.9 1.3-1-.1-1-1.3-2-.4-1.2 .5-.2 1 1 6-.4 2 .8 1 1 .1 1 1.1-.1 .8-4.9 3.6 0-19.1 1 .1 1.1-.6-.4-1-1.7-.2 0-4.7zM100 16.5l1-.3 1 .3 2 1.5 2 .3 1.1 .7 0 1-1.4 2-.1 1 .6 1-.2 .4-1 .5-2-1.9-1.1 2-.9 .8-2 .7 0-4.3 3 .5 .7-.7-.7-2.3-2-.7-1 .2 0-2.4zM102 26.9l.9 1.1-.9 1.2-.5-1.2 .5-1zM110 29.4l1-.3 1 .4 1.9 1.5 .4 1-.4 1-1.1 1 0 1 2.2 1.9 1 .2 2-1.1 2 .7 2-1.7 1 0 1.2 1 1 3 1.3 2-5.3 0 .4-1-.6-1.8-1 .8-.3 2-2.8 0-.6-1-1.3-.6-1 .1-.7 1.5-5.1 0-2.2-1.4-1.2-1.6-5.8-.5 0-3.4 1 .3 2 1.3 2-.5 4 1.3 .7-.5-.3-3 1.1-3zM110.9 31l.1 .9 .4-.9-.4-.1zM183 34l1-.5 1 .2 1 1 1 2.3 .4 4-7.6 0-.1-1 2.3-1.5 1.2-1.5-.2-3zM152 34.5l2 .1 .6 .4 .1 1-4 3 .2 2-16 0-.9-1.1-1 .3-.4 .8-2 0 .8-3 .6-.4 4-.5 1 .1 2 2.4 1 .4 1 .2 1-.6 1-2.3 1-.2 1 .6 1 1.4 1 .3 1-.5 3.1-3.9zM287 36.8l1.7 .2 .8 1-.5 2-2.8-2 .5-1zM281 37.8l1-.7 1 .2 2 2.1 .8 1.6-6 0 .2-1.5 .9-1.5zM258 39.8l1-.4 1 .5 .5 1.1-3.6 0 .9-1zM154 41l2-.8 .6 .8-2.7 0z"/><path fill="#fce4bc" stroke="#fce4bc" fill-rule="evenodd" d="M289 -41l2 0 0 .4-1 .1-1.2-.5zM163 -25.1l3 .3 5-1.1 6 2 3-1.1 5 .1 3 .9 7 1.2 1.4 .8 2 3-.6 3-4.9 3-1.7 2-2.9 1-.7 2-1 1-2.6 .1-3-.4-18-.9-6 .4-3 1.1-3 2-4.1 3.7-.3 1 1 1 4.4 3.2 4 2.2 3 1.1 5.7 .5 3.5 1 .8 1.4 .7 2.6 0 1-.7 1.9-1 .6-3 .8-1 0-2-.7-1 1-.6 1.4 3.6 7.1 1-.1 .1-2 1.2-1 .7-.4 1.6 .4 .7 1-.9 3 .1 1 .5 .4 1.3-.4 .7-2 .9-1 1.1-.4 1 .3 .5 2.1-1.7 2-.8 2.6-1 1.1-4-.2-1.1 .5-.4 1 .5 2-1 .5-3-.1-3 1.3-.3 .3 1.3 .9 .6 1.1 .1 1-4.1 0-.6-.8-2.1 .8-3 0-.2-2 4-3-.1-1-1.6-.7-1.9 .7-3.1 3.9-1 .5-1-.3-1-1.4-1-.6-1 .2-1 2.3-1 .6-1-.2-1-.4-2-2.4-1-.1-4 .5-.6 .4-.8 3-4.1 0-1.3-2-1-3-1.2-1-1 0-2 1.7-2-.7-2 1.1-1-.2-2.2-1.9 0-1 1.1-1 .4-1-.4-1-1-1-1.9-.9-1 .3-1.4 2.6 .1 4-.7 .5-4-1.3-2 .5-2-1.3-1-.3 0-7.6 2-.7 .9-.8 1.1-2 2 1.9 1-.5 .2-.4-.6-1 .1-1 1.4-2-.1-1.1-1-.6-2-.3-2-1.5-1-.3-2 .6 0-2.2 4.9-3.6 .1-1-1-.9-1-.1-.8-1 .4-2-1-6 .2-1 1.2-.5 2 .4 1 1.3 1 .1 1.9-1.3-.5-1-1.4-.6-1-2.2-3.7-1.2 .7-.8 .3-1.2-.5-1-2.8-1.9 0-2.6 4-.4 2-1.7 3-1 .5-.4 .2-1-1-2 .3-1.2 1-.9 2.2 1.1 1.8 .3 3-1 4-.4 3-2.5 3 1.1 2 1.6 4 1.1 5-1.3 4 1.1 3 2 1 .2 2-.8 2-2.1 2.7 1.7 2.3 2.2 1 .2 1.2-.4 1.8-2.2 2-.1 1-.7 .6-3 1-1zM178.8 -23l-6.8 .5-4 1.1-3 2.7-2 1.2-3.6 3.5-2.9 4 .9 1 1.6 .2 10 .7 8 .1 2-.3 3-.8 5-2.9 3-.9 5.5-5.1 .5-1-.5-2-1.5-.9-9-1.8-4 .1-2 .5zM123.9 -19l-1.9 .7-4-.7-2 .3-2 1-2 2.3-2 .1-1 .7-1.2 1.6 .2 4.1 2 .7 2.4 2.2 1.3 2 .3 2-1 3.4-3 3.9-1.3 4.7 0 1 1.8 4 3.5 2.9 5.6 1.1 .4 1-.5 2 .7 3-.9 2-.5 4 1.2 .7 4-.2 3 1.8 1.5-1.3 .8-2 .7-.6 2-.9 1 0 4 1.8 .7 .7 .5 2 .8 1 1-.1 1.3-1.9-.8-2 .4-3 1.1-.9 1-.1 1.1 1-.1 1-1.5 2-.3 1 .8 .5 4 .2 1-.9 1-.2 2 .8 1-.1 2-1 .6-1.3-.6-1.1-1.7-.9-1.3-1.3-3 .5-1.3-.2-1.3-1-.3-2 2.9-1.7 3-.1 1-.4 1.1-2.8 .9-.9 5-.5 2-2.5 3-1.1 .4-1-.1-1-1-2-2-1-3.3-.5-4-1.9-5-3.2-2.8-2.4 .1-1 1-1 0-1-2.5-4 .9-2-.8-2-.4-3-2-3-1.5-.5-2-.1-3-1.4-3 .4-3-.4-3 .2-2-1-1 .6zM112 20l-.2 3 1.2 1.1 1.3-1.1-1-2-.3-1.8-1 .8zM102 27l-.5 1 .5 1.2 .9-1.2-.9-1.1zM254 -19.4l1-.3 .6 .7 .4 2 .6 1 1.4 .6 3-.8 4 .8 1-.6 0-2 1-1.3 1 0 3 2 2 0 2-.7 1 .5 2 2.5 6-1.1 1 .3 1 1.3 1.2 6.5-1.2 1.4-2 .3-3-.1-.3 .4 .3 2-1 .6-1 1.8-1 .3-2-.4-4 .4-3-1.3-2 1.5-4 1.1-4 .5-2-.4-2-1-4 1.5-4-2.1-2-.2-2 .9-3 .1-3 2-6-1.6-1 .2-2 1.4-2-1.1-1 0-3 1.8-3 .5-1-.5-3.9-4 .1-1 1.7-2 1.2-2 1.9-1.1 4-1.2 1-.7 1.4-3 2.6-.9 3-.4 1.3-.7 1.3-2 7.4-1.1 1 .2 1.4 1.9 1.6 .1 8-3.1zM238.5 -13l-2.5 1.2-3-.7-3 1-1.7 2.5-3 1-2.1 2-.5 1 .4 1 .9 .8 3 .5 3-.5 2 .2-.4-1-1.6-2 .9-1 1.1-.4 1 .2 1.3 1.2 2 0 2-1 1.7-3.5 3 1.5-1 1-1 0-.5 1 .5 1.1 1 .1 2-.7 4 2.1 2 .4 1.1 0 .9-.7-.1-3.3-2-1-.9-2.6-1-1-2 1.4-1 0-2-1.6-3-.7-1 .1zM277.8 -13l1.2 2.6 1 .8 .6-2.4-.6-.9-2-.9zM252.7 -10l1.3 .1 3 3.8 1.5 .1 .4-1-.9-2.4-2-.8-3-.1zM261.7 -10l.9 3 2.4 .7 2-.2 .9-.5 .2-1-1.1-1.5-2-.7-3-.1zM100 -6.1l.7 .1 .4 1-1.1 .6-1-.1 0-1.7zM100 19l1 .1 1.3 .9 .4 2-.7 .7-3-.5 0-3 .9-.2zM127 24.9l1 .1 1.1 1-.1 1.8-1 1.2-1-.3-1.2-1.7 0-1 .8-1zM169 35.9l1.3 1.1-.3 1.1-1.5-.1-1.1-1 1.3-1zM176 37.5l.8 .5-.8 .7-.6-.7zM121 38.2l.6 1.8-.4 1-1.5 0 .3-2z"/><path fill="#f8d099" stroke="#f8d099" fill-rule="evenodd" d="M179 -23.1l2-.5 4-.1 9 1.8 1.5 .9 .5 2-.5 1-5.5 5.1-3 .9-5 2.9-3 .8-2 .3-8-.1-10-.7-1.6-.2-.9-1 2.9-4 3.6-3.5 2-1.2 3-2.7 4-1.1 6.8-.5zM177.9 -22l-6.9 1.4-4 1.8-3.6 2.8-1.7 2-.8 2 0 1 .6 1 3.4 1 4.1 .4 8-.4 3-.8 9.4-4.2 2-2 2.3-4-3.4-2-4.3-.8-5 .1-3 .7zM124 -19.2l1-.6 2 1 3-.2 3 .4 3-.4 3 1.4 2 .1 1.5 .5 2 3 .4 3 .8 2-.9 2 2.5 4 0 1-1 1-.1 1 2.8 2.4 5 3.2 4 1.9 3.3 .5 2 1 1 2 .1 1-.4 1-3 1.1-2 2.5-5 .5-.9 .9-1.1 2.8-1 .4-3 .1-2.9 1.7 .3 2 1.3 1 1.3 .2 3-.5 1.3 1.3 1.7 .9 .6 1.1-.6 1.3-2 1-1 .1-2-.8-1 .2-1 .9-4-.2-.8-.5 .3-1 1.5-2 .1-1-1.1-1-1 .1-1.1 .9-.4 3 .8 2-1.3 1.9-1 .1-.8-1-.5-2-.7-.7-4-1.8-1 0-2 .9-.7 .6-.8 2-1.5 1.3-3-1.8-4 .2-1.2-.7 .5-4 .9-2-.7-3 .5-2-.4-1-5.6-1.1-3.5-2.9-1.8-4 0-1 1.3-4.7 3-3.9 1-3.4-.3-2-1.3-2-2.4-2.2-2-.7-.2-4.1 1.2-1.6 1-.7 2-.1 2-2.3 2-1 2-.3 4 .7 1.9-.7zM116.7 -16l-1.1 3-2 3 .4 1.2 1 .8 3 .7 4-.1 1 .9 1 2.3 1.7-.8 1.3-.1 1.8 1.1 .1 1-.6 1-2.3 1.1-1-.3-2-2.2-.4 2.4-2 2-4.6 1.5-2 1.5-1.4 3 0 1 1.7 4 2 3 5.7 2.4 7 4 1-.3 1-1.1 3 .5 3-1.1 3 .1 3-1.8 3-.1 3-.6 3-1.8 5-1 1-.7 1.3-3.5 .1-1-.7-1-3.7-1.5-9-5.9-.7-.6-.3-1.4-1-1-1-.2-2 .3-1.3-.7-.3-1 .6-2-.3-2 .9-1 .2-1-2.1-4-1.7-1.7-6-1-3 .8-3-.5-4 .4-2-.6-2 .4zM126.6 25l-.8 1 0 1 1.2 1.7 1 .3 1-1.2 .1-1.8-1.1-1-1-.1zM239 -13.4l1-.1 3 .7 2 1.6 1 0 2-1.4 1 1 .9 2.6 2 1 .1 3.3-.9 .7-1.1 0-2-.4-4-2.1-2 .7-1-.1-.5-1.1 .5-1 1 0 1-1-3-1.5-1.7 3.5-2 1-2 0-1.3-1.2-1-.2-1.1 .4-.9 1 1.6 2 .4 1-2-.2-3 .5-3-.5-.9-.8-.4-1 .5-1 2.1-2 3-1 1.7-2.5 3-1 3 .7 2.5-1.2zM253 -10.3l3 .1 2 .8 .9 2.4-.4 1-1.5-.1-3-3.8-1.3-.1zM262 -10.3l3 .1 2 .7 1.1 1.5-.2 1-.9 .5-2 .2-2.4-.7-.9-3zM135 -8.1l1.4 1.1 .1 3-.5 1-2 1-2.2 0-1.3-1 .2-1 2.3-3 1.6-1zM112 20l1-.8 .3 1.8 1 2-1.3 1.1-1.2-1.1 .2-3z"/><path fill="#f2a673" stroke="#f2a673" fill-rule="evenodd" d="M178 -22l3-.7 5-.1 4.3 .8 3.4 2-2.3 4-2 2-9.4 4.2-3 .8-8 .4-4.1-.4-3.4-1-.6-1 0-1 .8-2 1.7-2 3.6-2.8 4-1.8 6.9-1.4zM180.8 -22l-8.8 2.1-5 2.2-3 2.5-.8 1.2-.2 2 .5 1 1.5 1 3 .8 10-.9 4-1.3 7-3.4 1.2-1.2 1.1-2 .2-2-1.5-1.3-4-.9-5 .2zM117 -16.2l2-.4 2 .6 4-.4 3 .5 3-.8 6 1 1.7 1.7 2.1 4-.2 1-.9 1 .3 2-.6 2 .3 1 1.3 .7 2-.3 1 .2 1 1 .3 1.4 .7 .6 9 5.9 3.7 1.5 .7 1-.1 1-1.3 3.5-1 .7-5 1-3 1.8-3 .6-3 .1-3 1.8-3-.1-3 1.1-3-.5-1 1.1-1 .3-7-4-5.7-2.4-2-3-1.7-4 0-1 1.4-3 2-1.5 4.6-1.5 2-2 .4-2.4 2 2.2 1 .3 2.3-1.1 .6-1-.1-1-1.8-1.1-1.3 .1-1.7 .8-1-2.3-1-.9-4 .1-3-.7-1-.8-.4-1.2 2-3 1.1-3zM123.6 -14l-4.3 1-.1 2 .8 .9 5 1.4 5-1.9 .3-.4 .2-2-.5-.9-2 .1-3-.6-1 .3zM134.6 -8l-1.6 1-2.3 3-.2 1 1.3 1 2.2 0 2-1 .5-1-.1-3-1.4-1.1zM136.6 0l-3.6 .7-4-.3-5 .9-2 .8-3.6 1.9-2.1 2-.7 3 .5 2 1.9 2.3 4 2.3 4 1.8 2 .3 3-.9 4 1 14-2.9 6.5-2.9 .9-1-.1-2-1.2-2-6-4-6.1-1.6-3.5-.4-2.5-1.1z"/><path fill="#e9735e" stroke="#e9735e" fill-rule="evenodd" d="M181 -22l5-.2 4 .9 1.5 1.3-.2 2-1.1 2-1.2 1.2-7 3.4-4 1.3-10 .9-3-.8-1.5-1-.5-1 .2-2 .8-1.2 3-2.5 5-2.2 8.8-2.1zM178.6 -21l-5.6 1.6-5.5 2.4-3 3 .1 2 1.4 1.4 2 .6 9-.5 4-1.1 6.9-3.4 1.2-1 1.2-2-.1-2-1.5-1-3.7-.5-6 .4zM124 -14.1l1-.3 3 .6 2-.1 .5 .9-.2 2-.3 .4-5 1.9-5-1.4-.8-.9 .1-2 4.3-1zM137 -.1l2.5 1.1 3.5 .4 6.1 1.6 6 4 1.2 2 .1 2-.9 1-6.5 2.9-14 2.9-4-1-3 .9-2-.3-4-1.8-4-2.3-1.9-2.3-.5-2 .7-3 2.1-2 3.6-1.9 2-.8 5-.9 4 .3 3.6-.7zM123.7 3l-3.7 2-1.2 2-.6 3 .4 1 3.3 3 4.1 1.7 2 .3 4-.3 3 .8 4-1.2 4-.4 3-1.1 3-.6 3.5-2.2 .5-1-.8-3-.7-1-1.5-.8-5-1.3-10-1.8-5 0-6 .8z"/><path fill="#e34349" stroke="#e34349" fill-rule="evenodd" d="M179 -21.1l6-.4 3.7 .5 1.5 1 .1 2-1.2 2-1.2 1-6.9 3.4-4 1.1-9 .5-2-.6-1.4-1.4-.1-2 3-3 5.5-2.4 5.6-1.6zM176.8 -20l-4.8 1.6-4.3 2.4-1.7 2-.2 1 .4 1 1.6 1 1.2 .2 7-.2 2-.4 4-1.3 4.5-2.3 1.5-1 1.4-2 .1-1-.7-1-2.8-.9-5 0-4 .8zM124 2.9l6-.8 5 0 10 1.8 5 1.3 1.5 .8 .7 1 .8 3-.5 1-3.5 2.2-3 .6-3 1.1-4 .4-4 1.2-3-.8-4 .3-2-.3-4.1-1.7-3.3-3-.4-1 .6-3 1.2-2 3.7-2zM124.9 4l-3.4 2-1.1 2 .5 2 1.9 3 2.2 1 10 1.1 3-1.2 5-.5 3-1.8 2-.1 1.1-.5 1.3-2-.1-1-1.3-1.2-9-2.8-7-.7-8 .7z"/><path fill="#e03045" stroke="#e03045" fill-rule="evenodd" d="M177 -20.1l4-.8 5 0 2.8 .9 .7 1-.1 1-1.4 2-1.5 1-4.5 2.3-4 1.3-2 .4-7 .2-1.2-.2-1.6-1-.4-1 .2-1 1.7-2 4.3-2.4 4.8-1.6zM178.9 -20l-3.9 1.1-4 1.9-2.6 2-.6 1-.1 1 1.1 1 1.2 .2 6 .2 2-.4 3-.8 4.3-2.2 1.5-1 1.4-2-.2-1.1-2-1-7 .1zM125 4l8-.7 7 .7 9 2.8 1.3 1.2 .1 1-1.3 2-1.1 .5-2 .1-3 1.8-5 .5-3 1.2-10-1.1-2.2-1-1.9-3-.5-2 1.1-2 3.4-2zM125.9 5l-1.9 .8-1 .9-.7 1.3 0 1 1.7 2.4 3 1.2 7 .9 4-1.2 4-.1 1.9-1.2 1.3-2 0-1-.7-1-4.5-1.9-4 0-4-.8-3 .6-3 .1z"/><path fill="#df2035" stroke="#df2035" fill-rule="evenodd" d="M179 -20l7-.1 2 1 .2 1.1-1.4 2-1.5 1-4.3 2.2-3 .8-2 .4-6-.2-1.2-.2-1.1-1 .1-1 .6-1 2.6-2 4-1.9 3.9-1.1zM177.4 -19l-3.2 1-1.8 1-2 2-.3 1 .9 1 2 .5 3 .2 3.6-.7 2.5-1 3.4-2 1.3-2-.6-1-1.2-.4-5-.1-2 .4zM126 5l3-.1 3-.6 4 .8 4 0 4.5 1.9 .7 1 0 1-1.3 2-1.9 1.2-4 .1-4 1.2-7-.9-3-1.2-1.7-2.4 0-1 .7-1.3 1-.9 1.9-.8zM130 6l-2 .7-2-.1-.8 .4-.3 1 3.1 2.5 5 .9 2-.2 4-1.3 2 .4 .8-.3 .6-1-.5-1-2.9-1.6-3 0-3-1-3 .6z"/><path fill="#b7212b" stroke="#b7212b" fill-rule="evenodd" d="M178 -19.1l2-.4 5 .1 1.2 .4 .6 1-1.3 2-3.4 2-2.5 1-3.6 .7-3-.2-2-.5-.9-1 .3-1 2-2 1.8-1 3.2-1zM130 6l3-.6 3 1 3 0 2.9 1.6 .5 1-.6 1-.8 .3-2-.4-4 1.3-2 .2-5-.9-3.1-2.5 .3-1 .8-.4 2 .1 2-.7z"/>
<use href="#land" fill="#787978" stroke="#787978" stroke-width="0.7"/>
</g>
<line x1="890.22" y1="263.28" x2="890.22" y2="458.50" stroke="#161616" stroke-width="5.2" stroke-dasharray="23.2 20.6" stroke-dashoffset="1.8"/>
<rect x="694.60" y="263.08" width="464.61" height="195.62" fill="none" stroke="#111" stroke-width="1.9"/>
<path d="M743.51,263.08v-4.6M743.51,458.70v4.6M841.32,263.08v-4.6M841.32,458.70v4.6M939.13,263.08v-4.6M939.13,458.70v4.6M1036.94,263.08v-4.6M1036.94,458.70v4.6M1134.75,263.08v-4.6M1134.75,458.70v4.6M694.60,287.53h-5.2M1159.21,287.53h4.6M694.60,324.21h-5.2M1159.21,324.21h4.6M694.60,360.89h-5.2M1159.21,360.89h4.6M694.60,397.57h-5.2M1159.21,397.57h4.6M694.60,434.25h-5.2M1159.21,434.25h4.6" stroke="#111" stroke-width="1.3" fill="none"/>
<text x="680.20" y="301.73" font-size="34.5" text-anchor="end" fill="#000">30°N</text>
<text x="680.20" y="338.41" font-size="34.5" text-anchor="end" fill="#000">15°N</text>
<text x="680.20" y="375.09" font-size="34.5" text-anchor="end" fill="#000">0°</text>
<text x="680.20" y="411.77" font-size="34.5" text-anchor="end" fill="#000">15°S</text>
<text x="680.20" y="448.45" font-size="34.5" text-anchor="end" fill="#000">30°S</text>
<text x="1042.10" y="448.30" font-size="33.2" font-weight="bold" fill="#000">IAP-1</text>
<text x="675.60" y="259.80" font-size="30.2" font-weight="bold" text-anchor="end" fill="#000">D</text>
<g transform="matrix(2.4453,0,0,-2.4453,-153.130,586.672)" clip-path="url(#pc)" stroke-width="0.3" stroke-linejoin="round">
<path fill="#343f93" stroke="#343f93" fill-rule="evenodd" d="M158 -4.1l12-.3 5.7 .4 5.1 1 2.8 1 1.3 1 1.9 3-.2 1-1.7 1-7.9 1.4-11 .2-8-.6-4.4-2-1.6-1.9-.1-1.1 1.2-2 1.5-1 2.7-1z"/><path fill="#394d9c" stroke="#394d9c" fill-rule="evenodd" d="M157 -4.1l5-.6 8 .1 7.9 .6 5.6 1 2.8 1 1.3 1 1.2 2 .1 1-.6 1-2.1 1-7.2 1.4-10 .4-10-.4-4.2-1.4-1.8-1.2-1.3-1.8 .2-2 .8-1 3.9-2zM157.3 -4l-2.7 1-1.5 1-1.2 2 .1 1.1 1.6 1.9 4.4 2 8 .6 11-.2 7.9-1.4 1.7-1 .2-1-1.9-3-1.3-1-2.8-1-5.1-1-5.7-.4-12 .3z"/><path fill="#325ea6" stroke="#325ea6" fill-rule="evenodd" d="M157 -4.3l5-.6 5 0 12.9 .9 5.7 1 3 1 1.5 1 1.1 2-.2 1-1.1 1-2.4 1-6.5 1.4-11 .5-11-.4-4.6-1.5-1.6-1-1.5-2 .3-2 .8-1 3.6-2zM156.6 -4l-3.9 2-.8 1-.2 2 1.3 1.8 1.8 1.2 4.2 1.4 10 .4 10-.4 7.2-1.4 2.1-1 .6-1-.1-1-1.2-2-1.3-1-2.8-1-5.6-1-7.9-.6-8-.1-5 .6zM275 7.7l.3 .3-.3 .5-.4-.5z"/><path fill="#2373b3" stroke="#2373b3" fill-rule="evenodd" d="M161 -5l10 .1 10.7 .9 5.9 1 3.2 1 1.8 1 .9 1 .1 1-.6 1-1.5 1-7.5 2.1-5 .7-9 .4-12-.7-4-1.5-2.5-2-.6-2 .4-1 1.7-1.7 3-1.5 4.8-.8zM156 -4l-3.6 2-.8 1-.3 2 1.5 2 1.6 1 4.6 1.5 11 .4 11-.5 6.5-1.4 2.4-1 1.1-1 .2-1-1.1-2-1.5-1-3-1-5.7-1-12.9-.9-5 0-5 .6zM274 6.5l1-.3 1.4 .8 .4 1-.8 1.6-1 .4-1.7-1-.3-1 .5-1zM274.6 8l.4 .5 .3-.5-.3-.3zM163 11.8l2-.4 3 .3 2.4 1.3 .2 1-1.6 .5-4-.3-2.2-1.2-.1-1z"/><path fill="#28a0d5" stroke="#28a0d5" fill-rule="evenodd" d="M160 -5.1l10-.1 13.5 1.2 9.5 2 2.4 1 .9 1-.3 1-2.9 2-9.1 2.6-8 1-15-.4-4-.7-3-1.2-1.8-1.3-1.5-2 .3-2 2-2 3-1.4 3.5-.6zM160.8 -5l-4.8 .8-3 1.5-1.7 1.7-.4 1 .6 2 2.5 2 4 1.5 12 .7 9-.4 5-.7 7.5-2.1 1.5-1 .6-1-.1-1-.9-1-1.8-1-3.2-1-5.9-1-10.7-.9-10-.1zM274 5.5l2 0 1.5 1.5 .1 2-.6 1-1 .6-2 .1-1.1-.7-.6-1 .2-2 .7-1zM273.5 7l-.5 1 .3 1 1.7 1 1-.4 .8-1.6-.4-1-1.4-.8-1 .3zM161 10l5-.5 4 .8 4.8 2.7 .6 1-.1 1-1.5 1-2.8 .5-5-.4-3-.8-2.6-1.3-1-1-.4-1 .4-1 1.5-1zM162.7 12l.1 1 2.2 1.2 4 .3 1.6-.5-.2-1-2.4-1.3-3-.3-2 .4z"/><path fill="#3bbee5" stroke="#3bbee5" fill-rule="evenodd" d="M159 -5.1l11-.3 14 1.2 11.7 2.2 2.4 1 .7 1-.5 1-1.3 1-6 2.3-13 3.4-5.1 .3 .3 1 6.1 4 .9 1 .2 1-.6 1-2.2 1-4.6 1-4-.1-5-.9-4-1.4-2.3-1.6-1.1-2 .7-2 1.7-1.2 10.3-1.8-8.3-.3-5-1.3-4-2.2-1.6-2.2 .2-2 1.4-1.6 3-1.6 3.5-.8zM159.5 -5l-3.5 .6-3 1.4-2 2-.3 2 1.5 2 1.8 1.3 3 1.2 4 .7 15 .4 8-1 9.1-2.6 2.9-2 .3-1-.9-1-2.4-1-9.5-2-13.5-1.2-10 .1zM160.9 10l-1.5 1-.4 1 .4 1 1 1 2.6 1.3 3 .8 5 .4 2.8-.5 1.5-1 .1-1-.6-1-4.8-2.7-4-.8-5 .5zM274 4.5l1-.1 1.7 .6 1.7 2 0 2-1.4 2-1 .5-2 .1-2.2-1.6-.5-2 .7-1.8 1.1-1.2zM273.2 6l-.7 1-.2 2 .6 1 1.1 .7 2-.1 1-.6 .6-1-.1-2-1.5-1.5-2 0zM267 24.8l1 0 1 .5 .4 .7-.4 1-1 .4-1.5-.4-.6-1 .6-1z"/><path fill="#80cbe3" stroke="#80cbe3" fill-rule="evenodd" d="M158 -5.2l3-.3 9-.1 15 1.3 13 2.1 3 1.2 1 1-.9 1-2.1 1.1-3 1.3-5.9 1.6-4.1 2.5-3.9 1.5-.7 1 3 3 .9 2-.2 2-1.1 1.5-2 .5-12 .6-6-1.2-5-1.7-2.8-1.7-1.6-2-.1-2 .5-1.3 1.5-1.7 1.9-1-1-1-1.4-.2-4-2.3-1.5-1.5-.5-2 1-2 2-1.6 2-.9 2.6-.5zM158.5 -5l-3.5 .8-3 1.6-1.4 1.6-.2 2 1.6 2.2 4 2.2 5 1.3 8.3 .3-10.3 1.8-1.7 1.2-.7 2 1.1 2 2.3 1.6 4 1.4 5 .9 4 .1 4.6-1 2.2-1 .6-1-.2-1-.9-1-6.1-4-.3-1 5.1-.3 13-3.4 6-2.3 1.3-1 .5-1-.7-1-2.4-1-11.7-2.2-14-1.2-11 .3zM224 -1.1l4-.1 .7 .2 .4 1-2.1 .5-2-.1-1.7-.4 .4-1zM273 3.8l1-.3 2 .1 2 1.2 .9 1.2 .5 3-1 2-1.4 1.1-2 .5-2-.4-1-.6-1.3-1.6-.3-1 .3-2 1-2 1.1-1zM273.1 5l-1.1 1.2-.7 1.8 .5 2 2.2 1.6 2-.1 1-.5 1.4-2 0-2-1.7-2-1.7-.6-1 .1zM266 22.9l3 .2 2 1.2 .8 1.7-.9 2-2.9 1.2-2-.3-1.4-.9-.8-1-.2-2 .5-1 1.7-1zM266.5 25l-.6 1 .6 1 1.5 .4 1-.4 .4-1-.4-.7-1-.5-1 0z"/><path fill="#a8dbe9" stroke="#a8dbe9" fill-rule="evenodd" d="M229 -40.6l2.2-.4 3.8 1.7 4 .3 2-.2 3-1.2 3 1.2 7 1.6 1 .6 3 3.6 1 .7 3-1.5 6-.9 2 .7 3 1.9 2.7 .5-5.7 4-2 .7-2 0-1.9-.7-5.1-2.9-1 .2-4 2.1-5 1.4-4 1.5-10-.1-4 .5-8-1.5-3 1.1-3 .3-4.3-.6-5.7-2.6-4-1.1-1.8-1.3-1.1-2 .1-1 .6-1 1.2-.7 9-3.1 5 .5 3-.6 4 1.7 2-.5 3.2-2.3zM157 -5.2l4-.5 13 .1 28 2.7 5-.1 8-1.2 7 .5 5-.3 9 .3 13 .8 3.1 .9 1.2 1-.2 1-1.4 1-3.7 1.3-3 .3-5-.3-10 1.5-11 .9-5 1.6-7-1.5-4-2-2.4 .2-2.9 1-1.3 1 .1 2-4.5 1.7-2 2-.4 4.3 1.4 5.1-.3 .9-2.7 2.6-2 .3-9-2.6-7 .3-6-1.4-7-2.6-3.8-2.6-1.2-2 .1-2 .9-2 2.3-3-4.2-3-1.5-2-.1-1 1-2 1.5-1.3 2-1.1 2.6-.6zM157.6 -5l-2.6 .5-2 .9-2 1.6-1 2 .5 2 1.5 1.5 4 2.3 1.4 .2 1 1-1.9 1-1.5 1.7-.5 1.3 .1 2 1.6 2 2.8 1.7 5 1.7 6 1.2 12-.6 2-.5 1.1-1.5 .2-2-.9-2-3-3 .7-1 3.9-1.5 4.1-2.5 5.9-1.6 3-1.3 2.1-1.1 .9-1-1-1-3-1.2-13-2.1-15-1.3-9 .1-3 .3zM223.7 -1l-.4 1 1.7 .4 2 .1 2.1-.5-.4-1-.7-.2-4 .1zM274 2l3 .5 2 1.4 1.3 2.1 .4 2-.3 2-1.3 2-2.1 1.4-2 .4-2-.1-2-1.1-1.3-1.6-.7-2 .5-2 1.5-3.2 1-1.1 1.9-.7zM272.8 4l-1.1 1-1 2-.3 2 .3 1 1.3 1.6 1 .6 2 .4 2-.5 1.4-1.1 1-2-.5-3-.9-1.2-2-1.2-2-.1-1 .3zM220 7.8l2 0 6 1.6 4-.6 2.1 .2 1.8 1 2.1 2.6 2 .4 2-.1 1.5-1.9 1.5-.8 1 0 1.5 .8 1.2 5-.4 1-3.3 1.7-4.1 .3-.7 1 0 1 .5 1 1.3 1.1 .8 1.9-.8 1.3-1 .4-1-.3-3-1.6-2 .2-2.1 1-3.7 4-1.2 .5-8 0-4-1.5-4 2.5-1 0-2-1.2-5-4.6-3-.9-1-.8 2.5-2 4.5-1.9 2-1.6 1.3-2.5 .1-5 .6-1.1 3-1.4 3 .1 2.1-.6zM221.7 18l-1.1 1-.2 1 .3 1 1.3 .9 4 .6 1.4-.5 1-1 .2-1-.4-1-1.3-1-2.9-.7-2 .5zM252 15l1-.1 .5 1.1-.5 2.1-1 0-1.3-1.1 .1-1 1.2-1zM265 21l2-.3 2 .4 4 2 .8 .9 .5 2-.7 2-.9 1-2.7 1.5-3 .4-2.9-.9-2.5-2-.9-2 .3-2 1.5-2 2.4-1zM265.8 23l-1.7 1-.5 1 .2 2 .8 1 1.4 .9 2 .3 2.9-1.2 .9-2-.8-1.7-2-1.2-3-.2z"/><path fill="#c4e8f7" stroke="#c4e8f7" fill-rule="evenodd" d="M185 -40.6l.4-.4 10.1 0 2.5 .7 2.5-.7 29.3 0-5.8 3.7-2-.1-3-1.5-3 .6-5-.5-9 3.1-1.2 .7-.6 1-.1 1 1.1 2 1.2 1 2.3 1 2.3 .4 6 2.7 5 .5 5-1.4 1 0 7 1.5 4-.5 10 .1 4-1.5 5-1.4 4-2.1 1-.2 5.1 2.9 1.9 .7 2 0 2-.7 5.7-4-2.7-.5-3-1.9-2-.7-6 .9-3 1.5-1-.7-3-3.6-2-1-6-1.2-3-1.2-4 1.4-4-.2-2-.4-2.8-1.4 43.8 .1 4 2.8 4.8 1.1 3.2 2.4 4-.5 0 12.2-5-2.5-3-3.1-2-.4-2 .5-11 5-2 .3-9-2.1-2 .2-5 2-2 .4-12-1.2-6 .9-8-.4-11-.1-11-2.8-4 .6-2-.1-6.7-2.3-1.8-1-.6-1 .1-4-3.4-2 .2-1 2.8-3zM156 -5l3-.7 10-.1 8 .3 16 1.5 5-.6 9 .2 8-1 7 .7 13-.5 6 .5 8-.1 7 1.3 5-.8 2 .1 1.9 1.2 .5 1-.4 2-.8 1-1.2 .7-7 .5-9 1.3-8 0-11.6 2.5 1.6 .7 10 2 8 0 11 1.9 3-.6 2 .4 .9 .6 .6 1 0 2-.5 .9-1 .7-4-.8-.7 1.2 .7 2.4 1 .5 6-.6 3 .2 6 3.9 1.5 2.6 0 2-1.2 2-1.3 1.2-3 1.4-3 .8-3 0-5-2.8-2-.4-1 .4-3 3.4-1 .2-2-.3-2-1.6-1.4 1.7-1.6 .8-5-1.7-2-.1-2 .7-1.4 1.3-2.1 1-4.5 1.6-1 .3-3-1.3-3-.2-1.4 .6-1.6 2.2-4-.2-3 1.5-2 0-4-2.5-3-.2-3-1.3-2.6-1.5-3.4-2.9-4 .1-3-1.1-3-1.9-3.3-3.2-2.7-1.7-3-.6-5 .5-7-1.8-7-2.9-4.1-2.5-1.5-2 .1-2 1.2-3 1.9-3-.3-1-2.3-1.6-1.1-1.4-.7-2 1-2 1.8-1.6 2-1.1 2-.3zM156.6 -5l-2.6 .6-2 1.1-1.5 1.3-1 2 .1 1 1.5 2 4.2 3-2.3 3-.9 2-.1 2 1.2 2 3.8 2.6 7 2.6 6 1.4 7-.3 9 2.6 2-.3 2.7-2.6 .3-.9-1.4-5.1 .4-4.3 2-2 4.5-1.7-.1-2 1.3-1 2.9-1 2.4-.2 4 2 7 1.5 5-1.6 11-.9 10-1.5 5 .3 3-.3 3.7-1.3 1.4-1 .2-1-1.2-1-3.1-.9-13-.8-9-.3-5 .3-7-.5-8 1.2-5 .1-28-2.7-13-.1-4 .5zM219.1 8l-2.1 .6-3-.1-3 1.4-.6 1.1-.1 5-1.3 2.5-2 1.6-4.5 1.9-2.5 2 1 .8 3 .9 5 4.6 2 1.2 1 0 4-2.5 4 1.5 8 0 1.2-.5 3.7-4 2.1-1 2-.2 3 1.6 1 .3 1-.4 .8-1.3-.8-1.9-1.3-1.1-.5-1 0-1 .7-1 4.1-.3 3.3-1.7 .4-1-1.2-5-1.5-.8-1 0-1.5 .8-1.5 1.9-2 .1-2-.4-2.1-2.6-1.8-1-2.1-.2-4 .6-6-1.6-2 0zM193.6 13l-1 1-.3 1 .5 2 2.2 2.3 2 .9 3-.1 5-2 1.5-1.1 .3-1-.8-2.1-3-1.7-6 0-3 .6zM252 15l-1.2 1-.1 1 1.3 1.1 1 0 .5-2.1-.5-1.1-1 .1zM264.9 21l-2.4 1-1.5 2-.3 2 .9 2 2.5 2 2.9 .9 3-.4 2.7-1.5 .9-1 .7-2-.5-2-.8-.9-4-2-2-.4-2 .3zM256.2 23l-1.1 1-.2 1 1.1 .8 1-.8 .3-1-.3-1.1zM290 -1.4l1-.5 0 6-1-.4-.9-1.7 0-2 .5-1zM274 -.2l2 .6 4.3 2.6 1.2 2 .4 4-.5 2-1.5 2-2.9 1.5-4 .8-2-.5-1-.9-2.4-2.9-.4-1 .2-1 1.7-3 .9-3 2-2.5 1.2-.5zM273.9 2l-1.9 .7-1 1.1-1.5 3.2-.5 2 .7 2 1.3 1.6 2 1.1 2 .1 2-.4 2.1-1.4 1.3-2 .3-2-.4-2-1.3-2.1-2-1.4-3-.5zM222 17.8l2-.5 2.9 .7 1.3 1 .4 1-.2 1-1 1-1.4 .5-4-.6-1.3-.9-.3-1 .2-1 1.1-1zM223.3 20l1.7 .9 1.3-.9-1.3-1-1 .2z"/><path fill="#fcf0dc" stroke="#fcf0dc" fill-rule="evenodd" d="M116 -40.7l5.5-.3 .5 3.4 1 .8 1-.2 3-2.3 2-.4 2 0 7.7 1.7 5.3 2.2 1-.3 2-1.9 2-.4 2 1.3 3.7 8.1 3.3 3.3 1 .3 5 0 2 .3 4 3.1 6-.7 4-1.1 2-.2 7 1.3 5 1.5 6-.1 8 2 8-1 6 .1 8 .8 5-.5 5 1.2 4-.2 6 1.1 7 .7 5-.7 5 .7 5-.8 8.2 1.9 1.2 1 .5 1 0 2-.9 2-2 1.3-2-.1-4-1-7-.4-2 .2-4.5 2-4.5 .7-6-1.1-4 .6-5 .1-5-.6-5 .9-8 .6-6-.9-4 .1-6 .9-9-.6-2 .4-4 1.9-2 .1-13-1-21.1-.1-3.4-1-.8-1-.7-3.3-1-1-7 2-5-.6-5 3.3-3 .9-8 .9-4-.2-5 .8-6-1.4-4-3.5-3-.9 0-22.7 3-2.2 3-1.5 2-.5 5-.3 2-.7 1.4-1.1zM122.5 -32l-3.5 .7-1 .6-.9 1.7-1.1 4.5-1 1.1-1 0-3-1.1-2-.2-2 .5-1 1 .5 4.2-3.9 4-.2 1 1 2 2.6 2.9 2 .9 4 .9 8 .2 3-.4 6-2 2.1-1.5 1.9-3.6 4.8-2.4 .1-1-1.9-4 .4-1 2.6-1.8 1-.3 3 .5 2 0 2-1.2 .8-1.2-.4-1-7.4-2.8-9-1.6-8 .3zM179.3 -22l-9.3 3.2-8-.3-4 .9-4 2.2-.6 1 0 3 .6 2 1.6 2 3.4 1.4 5 .2 7-.4 6.3 .8 9.7 .5 3.1-.5 4.9-2.6 2-.6 4 .1 5 .6 5-.8 7-.2 4 .4 8-.7 5-1.1 4 .1 3-.9 4 .7 2.8-1 1-1-.5-1-3.3-1.5-5 .7-6-1.8-11-1.5-5 1-5-.5-4 .6-2 0-2-.5-4-2.2-2-.5-7 .5-9-2.4-4-.1zM141.7 -18l-.7 1 .5 1 1.5 .9 1.1 .1 1.4-1 .3-1-.8-1.4-1-.4-2 .6zM288 -12.2l1-.5 2 0 0 5.5-2-.5-1.2-1.3-.5-2 .5-1zM137 -.2l3-.4 7 1.1 2 1.7 1.8 2.8-1.2 4-2.6 4.5-2 1.6-8 3.4-.7 .5 .1 1 1.6 1.2 3-1.5 6-.7 5 2.9 8 3.5 6 .7 3 1.3 1.6 1.6 .1 2-2.7 5.4-.9 4.6-7.7 0-1.4-1.3-2-.4-5 .6-2.1 1.1-17 0-1.9-.7-2.8 .7-4 0-2.2-1.6-2-.5-3 1-3 .2-1.9 .9-8.3 0-1.8-2-2-.5 0-13.8 3 0 2.3-.7 1.5-1 2.2-2.4 3.3-1.6 1.4-2 1.3-.4 9 2.4 6 .1 1-.3 .9-.8-.4-1-7.5-3.6-1.4-1.4-.4-2 .3-6 .9-1 4.6-2.3 6-.1 3.5-.6zM136.5 2l-7.5 1.1-3 1.4-1 1.1-.6 1.4 .1 2 1 2 3.5 2.1 8 1.9 5-.9 4-1.8 1.9-2.3 .8-2 .3-2-.9-2-2.1-1.5-2-.5-3-.3-4 .2zM143.8 24l-2.8 1.7-1 .3-5-1.4-1 .2-1 .5-3 3.3-1 .5-1-.3-1.8-2.8-1.2-1-2-.3-2 .2-2 .8-1.7 1.3-.2 2 1.9 4.1 2 1.5 2 .5 4-.9 5 1.2 9-.3 6 1.5 5-1.3 3-.3 2.5-1 .5-1-.3-2-1.1-2-1.6-2-1.4-1-2.6-1-5-1.2-2 .1zM101 .7l4-.4 7 1.1 .7 .6 .2 1 .2 3-.5 2-1.8 2-2.8 1.2-4 .4-3-1-2-1.8 0-6.6 1.5-1.2zM101.9 2l-1.5 1-1.2 2 .1 2 1.7 2.2 2 1 3 .1 3-1 1.4-1.3 .5-1-.1-2-1.4-2-3.4-1.3-2-.1-2 .4zM239 4.8l19-.7 7 .8 1.2 1.1-1.8 1-6.4 .8-17-.4-3-.4-1.6-1 1.7-1zM249.2 5l-8.2 .5-1.6 .5 2.6 .5 13 .7 2.9-.2 3.2-1-3.1-1-8 0zM198 16l1 0-1 0z"/><path fill="#fce4bc" stroke="#fce4bc" fill-rule="evenodd" d="M123 -32.1l8-.3 9 1.6 7.4 2.8 .4 1-.8 1.2-2 1.2-2 0-3-.5-1 .3-2.6 1.8-.4 1 1.9 4-.1 1-4.8 2.4-1.9 3.6-2.1 1.5-6 2-3 .4-8-.2-4-.9-2-.9-2.6-2.9-1-2 .2-1 3.9-4-.5-4.2 1-1 2-.5 2 .2 3 1.1 1 0 1-1.1 1.1-4.5 .9-1.7 1-.6 3.5-.7zM114.3 -16l-5.3 1.4-1.7 1.6 0 1 1.7 1.6 3 1.2 6 .5 3-.3 2-.6 2-1.4 .5-1-.5-1.4-2-1.4-4-1-4-.3zM180 -22.2l4 .1 9 2.4 7-.5 2 .5 4 2.2 2 .5 2 0 4-.6 5 .5 5-1 11 1.5 6 1.8 5-.7 3.3 1.5 .5 1-1 1-2.8 1-4-.7-3 .9-4-.1-5 1.1-8 .7-4-.4-7 .2-5 .8-5-.6-4-.1-2 .6-4.9 2.6-3.1 .5-9.7-.5-6.3-.8-7 .4-5-.2-3.4-1.4-1.6-2-.6-2 0-3 .6-1 4-2.2 4-.9 8 .3 9.3-3.2zM178.6 -20l-7.6 4-8-.3-4 .7-2 1.6-.4 1 .1 2 1.7 2 3.6 1.1 3 0 7-1.6 9 2.8 4 .1 4-.9 2-1 2.7-2.5 1.3-2 1-.6 3 0 2-.5 1.7-.9 .4-1-.3-1-.9-1-1.9-.9-2 0-4 1.7-1 0-5-2.1-4-1.1-3-.2-2 .5zM142 -18.2l2-.6 1 .4 .8 1.4-.3 1-1.4 1-1.1-.1-1.5-.9-.5-1 .7-1zM102 2l2-.4 2 .1 3.4 1.3 1.4 2 .1 2-.5 1-1.4 1.3-3 1-3-.1-2-1-1.7-2.2-.1-2 1.2-2 1.5-1zM102 4l-.9 2 .9 1.9 1 .7 3 .1 1.6-.7 .9-1 .2-1-.3-1-1.4-1.2-3-.6-2 .8zM137 1.9l4-.2 3 .3 2 .5 2.1 1.5 .9 2-.3 2-.8 2-1.9 2.3-4 1.8-5 .9-8-1.9-3.5-2.1-1-2-.1-2 .6-1.4 1-1.1 3-1.4 7.5-1.1zM138.2 4l-4.2 .7-2.9 1.3-1.1 1-.5 1 0 1 .7 1 1.8 .9 6 1.7 4-.6 2-.9 1.4-1.1 .7-1 .3-2-1.2-2-2.2-.9-4-.2zM250 5l8 0 3.1 1-3.2 1-2.9 .2-13-.7-2.6-.5 1.6-.5 8.2-.5zM144 23.9l2-.1 5 1.2 2.6 1 1.4 1 1.6 2 1.1 2 .3 2-.5 1-2.5 1-3 .3-5 1.3-6-1.5-9 .3-5-1.2-4 .9-2-.5-2-1.5-1.9-4.1 .2-2 1.7-1.3 2-.8 2-.2 2 .3 1.2 1 1.8 2.8 1 .3 1-.5 3-3.3 1-.5 1-.2 5 1.4 1-.3 2.8-1.7z"/><path fill="#f8d099" stroke="#f8d099" fill-rule="evenodd" d="M179 -20.1l2-.5 3 .2 4 1.1 5 2.1 1 0 4-1.7 2 0 1.9 .9 .9 1 .3 1-.4 1-1.7 .9-2 .5-3 0-1 .6-1.3 2-2.7 2.5-2 1-4 .9-4-.1-9-2.8-7 1.6-3 0-3.6-1.1-1.7-2-.1-2 .4-1 2-1.6 4-.7 8 .3 7.6-4zM179.9 -19l-3.7 2-2.1 3 .1 2 1.9 2 3.9 1.8 4 .5 4.7-1.3 2.6-2 .5-1 .3-2-.3-1-1.8-1.8-5-2.1-3-.4-2 .3zM197.5 -17l.5 1.2 2.1-.2 .2-1-.3-.2-2-.1zM160.2 -14l-1 1-.2 1 .4 1 1.2 1 1.4 .4 2 .1 2-.4 1.9-1.1 .7-1-.2-1-2.4-1.3-3-.3-2 .3zM115 -16.1l4 .3 4 1 2 1.4 .5 1.4-.5 1-2 1.4-2 .6-3 .3-6-.5-3-1.2-1.7-1.6 0-1 1.7-1.6 5.3-1.4zM113.4 -14l-1.8 1-.2 1 1 1 1.6 .6 5 0 2-.6 .7-1-.5-1-2.2-1-3-.3-2 .1zM102 4l2-.8 3 .6 1.4 1.2 .3 1-.2 1-.9 1-1.6 .7-3-.1-1-.7-.9-1.9 .9-2zM103.9 5l-.7 1 .6 1 1.8 0 .7-1-.3-.4-1-.7-1 .1zM139 3.9l4 .2 2.2 .9 1.2 2-.3 2-.7 1-1.4 1.1-2 .9-4 .6-6-1.7-1.8-.9-.7-1 0-1 .5-1 1.1-1 2.9-1.3 4.2-.7zM138.4 6l-2.8 1-.6 1 .5 1 1.5 1 2 .5 2.7-.5 1.4-1 .5-1-.6-1.4-1.3-.6-2.7-.1z"/><path fill="#f2a673" stroke="#f2a673" fill-rule="evenodd" d="M180 -19l2-.3 3 .4 5 2.1 1.8 1.8 .3 1-.3 2-.5 1-2.6 2-4.7 1.3-4-.5-3.9-1.8-1.9-2-.1-2 2.1-3 3.7-2zM180.8 -18l-2.8 1.4-1.6 2.6 .2 2 2 2 2.4 1 3 .2 3.7-1.2 2.2-2 .3-2-1.4-2-3.8-1.8-4-.3zM198 -17.3l2 .1 .3 .2-.2 1-2.1 .2-.5-1.2zM114 -14.2l2-.1 3 .3 2.2 1 .5 1-.7 1-2 .6-5 0-1.6-.6-1-1 .2-1 1.8-1zM161 -14.3l2-.3 3 .3 2.4 1.3 .2 1-.7 1-1.9 1.1-2 .4-2-.1-1.4-.4-1.2-1-.4-1 .2-1 1-1zM104 5l1-.1 1 .7 .3 .4-.7 1-1.8 0-.6-1 .7-1zM139 5.9l2.7 .1 1.3 .6 .6 1.4-.5 1-1.4 1-2.7 .5-2-.5-1.5-1-.5-1 .6-1 2.8-1z"/><path fill="#e9735e" stroke="#e9735e" fill-rule="evenodd" d="M181 -18.1l4 .3 3.8 1.8 1.4 2-.3 2-2.2 2-3.7 1.2-3-.2-2.4-1-2-2-.2-2 1.6-2.6 2.8-1.4zM181.7 -17l-2.4 1-1.3 2 .4 2 .9 1 2.2 1 2.5 .1 2-.7 1.9-1.4 .5-1-.1-1-.6-1-2.7-1.7-3-.4z"/><path fill="#e34349" stroke="#e34349" fill-rule="evenodd" d="M182 -17.1l3 .4 2.7 1.7 .6 1 .1 1-.5 1-1.9 1.4-2 .7-2.5-.1-2.2-1-.9-1-.4-2 1.3-2 2.4-1zM180.4 -15l-.6 1-.1 1 .7 1 1.6 .8 2 0 1.5-.8 .8-1-.1-1-1.2-1.2-2-.6-2 .4z"/><path fill="#e03045" stroke="#e03045" fill-rule="evenodd" d="M181 -15.4l2-.4 2 .6 1.2 1.2 .1 1-.8 1-1.5 .8-2 0-1.6-.8-.7-1 .1-1 .6-1z"/>
<use href="#land" fill="#787978" stroke="#787978" stroke-width="0.7"/>
</g>
<line x1="287.02" y1="489.06" x2="287.02" y2="684.28" stroke="#161616" stroke-width="5.2" stroke-dasharray="23.2 20.6" stroke-dashoffset="1.8"/>
<rect x="91.40" y="488.86" width="464.61" height="195.62" fill="none" stroke="#111" stroke-width="1.9"/>
<path d="M140.31,488.86v-4.6M140.31,684.48v4.6M238.12,488.86v-4.6M238.12,684.48v4.6M335.93,488.86v-4.6M335.93,684.48v4.6M433.74,488.86v-4.6M433.74,684.48v4.6M531.55,488.86v-4.6M531.55,684.48v4.6M91.40,513.31h-5.2M556.01,513.31h4.6M91.40,549.99h-5.2M556.01,549.99h4.6M91.40,586.67h-5.2M556.01,586.67h4.6M91.40,623.35h-5.2M556.01,623.35h4.6M91.40,660.03h-5.2M556.01,660.03h4.6" stroke="#111" stroke-width="1.3" fill="none"/>
<text x="77.00" y="527.51" font-size="34.5" text-anchor="end" fill="#000">30°N</text>
<text x="77.00" y="564.19" font-size="34.5" text-anchor="end" fill="#000">15°N</text>
<text x="77.00" y="600.87" font-size="34.5" text-anchor="end" fill="#000">0°</text>
<text x="77.00" y="637.55" font-size="34.5" text-anchor="end" fill="#000">15°S</text>
<text x="77.00" y="674.23" font-size="34.5" text-anchor="end" fill="#000">30°S</text>
<text x="444.70" y="673.70" font-size="34.3" font-weight="bold" fill="#000">EN4</text>
<text x="75.60" y="481.80" font-size="30.2" font-weight="bold" text-anchor="end" fill="#000">E</text>
<g transform="matrix(2.4453,0,0,-2.4453,450.070,586.672)" clip-path="url(#pc)" stroke-width="0.3" stroke-linejoin="round">
<path fill="#343f93" stroke="#343f93" fill-rule="evenodd" d="M160 -5.1l12-.6 18 .7 7.6 1 3.2 1 1.8 1 1 1 .2 1-.4 1-1.1 1-6.8 3 4.5 1.1 36 .7 3.6 .2 4.8 1-8.4 1.1-28 .3-15-.4-9-.9-16-.9-7.1-1.2-3.1-1-4.8-2-3.1-2-.1-1 1-1 3.6-2 5.1-2zM266 4.9l5-.4 2.3 .5 .9 1-.3 1-1.2 1-2.4 1-6.2 1-4.1 0-3-.4-2-.6-.8-1 11.5-3zM266 23.7l1-.3 2 .1 1.1 .5 .4 1-.5 1-1 .4-2 .1-1.1-.5-.7-1 .4-1z"/><path fill="#394d9c" stroke="#394d9c" fill-rule="evenodd" d="M166 -6l26 .9 6 .9 4 1.2 1.9 1 .9 1 .4 1-.3 1-.9 1-6.7 3 2.7 .7 37 .9 6.8 .4 3.9 1-4.9 1-7.8 .4-27 .2-19.3-.6-24.3-2-7.5-2-4.5-2-3.1-2-.1-1 1.2-1 5.6-3 3-1.1 6.5-.9zM159.5 -5l-5.1 2-3.6 2-1 1 .1 1 3.1 2 4.8 2 3.1 1 7.1 1.2 16 .9 9 .9 15 .4 28-.3 8.4-1.1-4.8-1-3.6-.2-36-.7-4.5-1.1 6.8-3 1.1-1 .4-1-.2-1-1-1-1.8-1-3.2-1-7.6-1-18-.7-12 .6zM265 4.9l6-.8 3 .7 1 1.2-.4 1-1.2 1-2.2 1-6.2 1.2-7 0-4.2-1.2-1.1-1 11.6-3zM265.7 5l-11.5 3 .8 1 2 .6 3 .4 4.1 0 6.2-1 2.4-1 1.2-1 .3-1-.9-1-2.3-.5-5 .4zM267 22.8l2 .1 1.9 1.1 .4 1-.5 1-1.8 1-1 .1-2-.5-1-.6-.5-1 .3-1 1.5-1zM265.6 24l-.4 1 .7 1 1.1 .5 2-.1 1-.4 .5-1-.4-1-1.1-.5-2-.1-1 .3z"/><path fill="#325ea6" stroke="#325ea6" fill-rule="evenodd" d="M163 -6l9-.2 18 .8 5 .4 5.4 1 4.6 2 1.4 2-.2 1-.8 1-6.5 3 3.1 .6 34 .7 11.1 .7 3.9 .7 16.7-3.7 3.3-.2 3 .5 1.4 .7 .3 1-.5 1-1.2 1-2 1-4 1.1-6 .6-5-.2-7-2.1-7 .9-8 .4-38-.1-10-.5-24-2.1-4-1-5-2-5.2-3 0-1 4.8-3 4.5-2 4.5-1zM165.5 -6l-6.5 .9-3 1.1-5.6 3-1.2 1 .1 1 3.1 2 4.5 2 7.5 2 24.3 2 19.3 .6 27-.2 7.8-.4 4.9-1-3.9-1-6.8-.4-37-.9-2.7-.7 6.7-3 .9-1 .3-1-.4-1-.9-1-1.9-1-4-1.2-6-.9-26-.9zM264.3 5l-11.6 3 1.1 1 4.2 1.2 7 0 6.2-1.2 2.2-1 1.2-1 .4-1-1-1.2-3-.7-6 .8zM235 14.9l7-.3 1.4 .4 .9 1-.4 1-1.9 .8-5 .2-3.3-1-.3-1 1.3-1zM266 22.6l2-.3 2.4 .7 1.2 1 .3 1-.3 1-1.3 1-1.3 .4-3.3-.4-1.5-1-.4-1 .2-1 1.1-1zM266.3 23l-1.5 1-.3 1 .5 1 1 .6 2 .5 1-.1 1.8-1 .5-1-.4-1-1.9-1.1-2-.1z"/><path fill="#2373b3" stroke="#2373b3" fill-rule="evenodd" d="M162 -6.1l9-.3 19 .7 6 .5 5 1 5 2.2 1.6 2-.2 1-.7 1-6.2 3 2.5 .4 32 .6 17 1 5-.6 10-2.5 4-.4 4 .7 1.1 .8 .2 1-1.7 2-2.6 1.2-4 1.1-7 .8-4-.2-7-1.8-15 .9-37-.1-12-.6-24-2.3-6.1-2-7.4-4-.1-1 4.8-3 4.8-2.1 3.3-.9zM162.6 -6l-4.5 1-4.5 2-4.8 3 0 1 5.2 3 5 2 4 1 24 2.1 10 .5 38 .1 8-.4 7-.9 7 2.1 5 .2 6-.6 4-1.1 2-1 1.2-1 .5-1-.3-1-1.4-.7-3-.5-3.3 .2-16.7 3.7-3.9-.7-11.1-.7-34-.7-3.1-.6 6.5-3 .8-1 .2-1-1.4-2-4.6-2-5.4-1-5-.4-18-.8-9 .2zM233 13.8l4-.6 6 .1 2.3 .7 1.3 1 .5 1-.3 1-1 1-2.2 1-3.6 .5-5-.3-3-.8-1.8-1.4 0-1 .6-1 1.7-1zM234.7 15l-1.3 1 .3 1 3.3 1 5-.2 1.9-.8 .4-1-.9-1-1.4-.4-7 .3zM267 21.9l2 .1 2.4 1 .9 1 .3 1-.3 1-1.3 1.2-2 .6-2 0-2.4-.8-1.1-1-.4-1 .2-1 .8-1 2.4-1zM265.1 23l-1.1 1-.2 1 .4 1 1.5 1 3.3 .4 1.3-.4 1.3-1 .3-1-.3-1-1.2-1-2.4-.7-2 .3z"/><path fill="#28a0d5" stroke="#28a0d5" fill-rule="evenodd" d="M161 -6.1l7-.5 14 .4 14 .6 6 1.2 5.1 2.4 1.7 2-.1 1-.8 1-5.8 3 .9 .1 32 .7 18 .9 4.7-.7 9.3-2.4 4-.3 4.6 .7 1.2 1 .1 1-1.7 2-3.2 1.5-4 1.1-7 .8-5-.1-4-1.5-3-.3-13 1-38-.3-14-.8-22-2.2-6.5-2.2-7.4-4-.1-1 3.1-2 3.9-2 5.5-2zM161.3 -6l-3.3 .9-4.8 2.1-4.8 3 .1 1 7.4 4 6.1 2 24 2.3 12 .6 37 .1 15-.9 7 1.8 4 .2 7-.8 4-1.1 2.6-1.2 1.7-2-.2-1-1.1-.8-4-.7-4 .4-10 2.5-5 .6-17-1-32-.6-2.5-.4 6.2-3 .7-1 .2-1-1.6-2-5-2.2-5-1-6-.5-19-.7-9 .3zM238 12l5 .2 3.4 .8 3 2 .4 1-.2 1-.9 1-2.7 1.5-2 .6-4 .5-8-.7-2.9-.9-1.2-1-.5-1 0-1 1.9-2 3.7-1.5 4.2-.5zM232.5 14l-1.7 1-.6 1 0 1 1.8 1.4 3 .8 5 .3 3.6-.5 2.2-1 1-1 .3-1-.5-1-1.3-1-2.3-.7-6-.1-4 .6zM265 21.8l3-.4 3 .8 2.1 1.8 .3 1-.3 1-1.1 1.2-2 .9-2 .3-3-.7-2-1.4-.6-1.3 .8-2 1.4-1zM266.5 22l-2.4 1-.8 1-.2 1 .4 1 1.1 1 2.4 .8 2 0 2-.6 1.3-1.2 .3-1-.3-1-.9-1-2.4-1-2-.1z"/><path fill="#3bbee5" stroke="#3bbee5" fill-rule="evenodd" d="M234 -27l4.1 1-2.1 .7-3 .2-2-.9 2.1-1zM160 -6.1l3-.5 6-.2 31 1.3 6.6 2.5 2.9 2 .6 1-.1 1-.7 1-5.1 3 31.8 .5 17 .9 3.5-.4 9.5-2.5 5-.5 5 .7 1.5 1.3 0 1-1.8 2-2.7 1.4-3 1-5 .9-10 .5-2-.4-2.6-1.4-1.4-.1-2.7 .1-3.5 1 4.2 .8 3 1 2.7 2.2 .4 1-.2 1-2.1 2-5.8 2.1-7 .6-7-.5-3-.6-3-1.6-1-1-.4-1 .2-1 .9-1 3-2 6.3-2-9-.4-28-.2-14-.8-16-1.4-5-.8-4-1.2-5-2.2-5.2-3-.1-1 3.3-2.1 4-2.1 4.8-1.8zM160.5 -6l-5.5 2-3.9 2-3.1 2 .1 1 7.4 4 6.5 2.2 22 2.2 14 .8 38 .3 13-1 3 .3 4 1.5 5 .1 7-.8 4-1.1 3.2-1.5 1.7-2-.1-1-1.2-1-4.6-.7-4 .3-9.3 2.4-4.7 .7-18-.9-32-.7-.9-.1 5.8-3 .8-1 .1-1-1.7-2-5.1-2.4-6-1.2-14-.6-14-.4-7 .5zM237.2 12l-4.2 .5-3.7 1.5-1.9 2 0 1 .5 1 1.2 1 2.9 .9 8 .7 4-.5 2-.6 2.7-1.5 .9-1 .2-1-.4-1-3-2-3.4-.8-5-.2zM266 20.9l4 .3 3 1.6 .9 1.2 .3 1-.9 2-2.3 1.4-3 .5-3-.6-2.3-1.3-.8-1-.3-2 1.4-1.9 2.6-1.1zM264.6 22l-1.4 1-.8 2 .6 1.3 2 1.4 3 .7 2-.3 2-.9 1.1-1.2 .3-1-.3-1-2.1-1.8-3-.8-3 .4z"/><path fill="#80cbe3" stroke="#80cbe3" fill-rule="evenodd" d="M226 -30l5-.4 9 .4 11 4-.6 1-3.9 2-2.5 .8-6 .7-9 .2-7.2-2.7-2.1-1-.9-1-.1-1 .5-1 1-1 1.8-.7 3.4-.3zM233.1 -27l-2.1 1 2 .9 3-.2 2.1-.7-4.1-1zM167 -7l21 .5 5-.2 6-.7 2 .4 2.9 2 5.8 3 1.9 2 0 1-.8 1-3.8 2 .4 1 29.6 .3 17 .8 11-2.7 6-.8 5 .7 1.6 .7 .7 1-.1 1-1.9 2-5.3 2.4-5 1.2-10.7 1.4 1 2 0 2-1.6 2-2.7 1.7-5 1.3-5 .3-3 .6-10 .1-8.6-2-7-3 3.6-1.7 3-2.3 5.6-2 1.6-1-37.2-.5-23-2.1-6-1.1-3-.9-5-2.2-5.5-3.2-.1-1 1.6-1.1 8-4.2 4-1.2 6-.5zM159.8 -6l-4.8 1.8-4 2.1-3.3 2.1 .1 1 5.2 3 5 2.2 4 1.2 5 .8 16 1.4 14 .8 28 .2 9 .4-6.3 2-3 2-.9 1-.2 1 .4 1 1 1 3 1.6 3 .6 7 .5 7-.6 5.8-2.1 2.1-2 .2-1-.4-1-2.7-2.2-3-1-4.2-.8 3.5-1 2.7-.1 1.4 .1 2.6 1.4 2 .4 10-.5 5-.9 3-1 2.7-1.4 1.8-2 0-1-1.5-1.3-5-.7-5 .5-9.5 2.5-3.5 .4-17-.9-31.8-.5 5.1-3 .7-1 .1-1-.6-1-2.9-2-6.6-2.5-31-1.3-6 .2-3 .5zM263 20.9l2-.7 2-.2 4 .9 3.3 2.1 .9 2-.1 1-1.8 2-3.3 1.3-3 .1-3-.8-2.5-1.6-1-2 .4-2 2-2zM265.6 21l-2.6 1.1-1.4 1.9 .3 2 .8 1 2.3 1.3 3 .6 3-.5 2.3-1.4 .9-2-.3-1-.9-1.2-3-1.6-4-.3z"/><path fill="#a8dbe9" stroke="#a8dbe9" fill-rule="evenodd" d="M227 -33l16 0 11 2.6 3 1.4 2.1 2 .7 2-.2 1-1.8 2-2.8 1.3-5 .3-7 1.4-9 .2-6 .6-2-.3-5-2-6-1.3-7.7-3.2-.3-1 .8-1 4.2-1.5 3-2.2 2-.9 4-1.2 5.6-.2zM225.4 -30l-3.4 .3-1.8 .7-1 1-.5 1 .1 1 .9 1 2.1 1 7.2 2.7 9-.2 6-.7 2.5-.8 3.9-2 .6-1-11-4-9-.4-5 .4zM196 -9.1l3-.6 3 .4 2.1 1.3 2.4 3 6.3 4 .8 1 0 1-1.6 1.7-2.8 1.3 .8 .3 43 1.2 4.6-.5 5.4-1.5 6-1.1 5 0 4 1.1 1.2 1.5-.3 1-.7 1-2.2 1.6-7 2.8-8 1.6 0 1 2.8 3 8.2 3.5 3 1.9 1.8 2.6-.4 2-2.4 1.9-4 1.4-3 0-3-.7-2-.9-2.2-1.7-1-2-.4-3-.4-.5-9 2.1-5-.7-2 .1-4 1.5-9 1.2-6-.7-10-.4-5-1.2-12 .2-7-1.7-1.4-.9-.8-2 .2-2.1 1-2 1.8-.9 4.2-.7 2.9-1.3-1.2-1-12.7-.4-18-2.2-4-.9-4-1.4-6-2.8-3.8-2.3-.1-1 3.9-2.5 6-3 3-1 7-.8 23 .4 5.7-2.1zM167 -7l-6 .5-4 1.2-8 4.2-1.6 1.1 .1 1 5.5 3.2 5 2.2 3 .9 6 1.1 23 2.1 37.2 .5-1.6 1-5.6 2-3 2.3-3.6 1.7 7 3 8.6 2 10-.1 3-.6 5-.3 5-1.3 2.7-1.7 1.6-2 0-2-1-2 10.7-1.4 5-1.2 5.3-2.4 1.9-2 .1-1-.7-1-1.6-.7-5-.7-6 .8-11 2.7-17-.8-29.6-.3-.4-1 3.8-2 .8-1 0-1-1.9-2-5.8-3-2.9-2-2-.4-6 .7-5 .2-21-.5zM262.9 21l-2 2-.4 2 1 2 2.5 1.6 3 .8 3-.1 3.3-1.3 1.8-2 .1-1-.9-2-3.3-2.1-4-.9-2 .2-2 .7z"/><path fill="#c4e8f7" stroke="#c4e8f7" fill-rule="evenodd" d="M227 -35l3-.4 6 .5 8-.3 9 1.6 2-.2 4-1.4 2 1.1 3.6 3.1 4.6 2 .8 1 .2 1-.3 1-1.1 1-9.4 6-2.4 1.1-8 0-6 .9-8-.3-8 1-2-.4-5.6-2.3-5.4-.4-6-1-1-.5-2-1.9-1.9-3.2-.1-2 .7-1 2.3-.9 4-.8 5-3 5-1.1 6.9-.2zM226.6 -33l-5.6 .2-4 1.2-2 .9-3 2.2-4.2 1.5-.8 1 .3 1 7.7 3.2 6 1.3 5 2 2 .3 6-.6 9-.2 7-1.4 5-.3 2.8-1.3 1.8-2 .2-1-.7-2-2.1-2-3-1.4-11-2.6-16 0zM199 -11.2l2-.1 2 .7 3 2.5 3.5 4.1 3.5 2 2.2 2 .3 1-.6 1-1.9 1.5-1.5 .5 41.5 1.2 2.9-.2 5.1-1.4 7-1.4 6-.1 4.2 .9 1.5 1 .2 1-.3 1-1.6 1.6-5 2.6-5.6 1.8-1.8 1 3.1 5 5.3 3 2.6 2 1.6 2 .3 2-1.5 1.7-2 1.1-2 .8-4 .8-5-.9-3-1.1-5-4.3-6 .7-6-2.5-3 .4-4 2.4-11 2.4-8-1.2-7 .8-6-.8-4-1.2-5-.1-3-1-5-.8-7.8-3.2-1.5-1-2-3 0-1 4.1-5-3.7-1-12.1-1.5-5-1.1-7-3-6-3.4-.1-1 2.1-1.5 6-3.2 5-2 7-.7 21.1 .4 4.9-2.2 5.3-1.8zM195.7 -9l-5.7 2.1-23-.4-7 .8-3 1-6 3-3.9 2.5 .1 1 3.8 2.3 6 2.8 4 1.4 4 .9 18 2.2 12.7 .4 1.2 1-2.9 1.3-4.2 .7-1.8 .9-1 2-.2 2.1 .8 2 1.4 .9 7 1.7 12-.2 5 1.2 10 .4 6 .7 9-1.2 4-1.5 2-.1 5 .7 9-2.1 .4 .5 .4 3 1 2 2.2 1.7 2 .9 3 .7 3 0 4-1.4 2.4-1.9 .4-2-1.8-2.6-3-1.9-8.2-3.5-2.8-3 0-1 8-1.6 7-2.8 2.2-1.6 .7-1 .3-1-1.2-1.5-4-1.1-5 0-6 1.1-5.4 1.5-4.6 .5-43-1.2-.8-.3 2.8-1.3 1.6-1.7 0-1-.8-1-6.3-4-2.4-3-2.1-1.3-3-.4-3 .6z"/><path fill="#fcf0dc" stroke="#fcf0dc" fill-rule="evenodd" d="M153 -31.2l2-.1 4 2.1 2 .4 3-.1 4-1.8 2-.4 5 1.7 4-.6 2 .2 3.9 2.8 8.4 3 4.5 3 .4 1-.1 3-.5 2-.7 1-1.1 1-5.8 3.1-2.8 1.9-4.2 .7-16-.4-5 .4-3 .6-3 1.2-9.6 5.5 .1 1 .5 .3 10 5.1 6 2 8.3 1.6 .9 1-3.2 3-6 2.9-1.5 1.1-.5 1 .1 1 .9 .8 11 2.4 6 3.2 5 1.1 3 1.7 3 1 2 1 1.1 1.8-.1 1-5 1.7-3 3.8-2 1.2-.7 .3-31.4 0-2.9-.7-4.1 .7-3.9 0-3-.6-3 .6-10 0 2-3.4 1-1.1 1-.4 4 .4 4-.9 5 1.1 5-.9 8 2.6 7 .3 8-1.7 5-.1 2.3-.9 1.3-2 .6-3-1.3-2-1.9-1.6-2-.9-8-2.5-8-.2-1.9-.8-3.7-3 .7-1 6.9-2.5 4-2 3.6-2.5 1-1 .2-1-2.3-1-5.5-1.3-5-2.1-8-4.1-.7-.5-.2-1 7.9-4.8 3.2-1.2 .8-.7 2-.3 1-.6 6-.2 12 .3 6.1-.5 6.8-5 1.5-2 .1-2-1.1-3-1.4-1.7-1.8-1.3-8.2-3.3-6 .1-6-1-2 .5-3.9 1.7-9.1 6-2.8 1-9.2-.3-4-1.2-4 .4-3-2.2-2-.5-6 1.8-8-.7-4 1.1-2 1.1-3.5 3.5-2.5 4-4 1.2 0-6.3 .7-.9 1.3-.9 5-1.6 7-6.1 3-.7 4 1.6 3 .5 2-.4 4-1.7 7-.6 2 .9 4 2.9 2 .5 6-2 2.1-1.4 .4-1-.3-3 .5-1zM217 -14l3-.2 6 .7 12-1.5 6 .8 29-.7 8 2.1 5-.1 1 .9 1 1.6 1.7 4.4 0 1-2 2-2.7 1.6-9 2.7-13 .4-7-1.7-8-1-3 .3-8 2.3-6 .2-7-2-7-3-6.1-4.8-1-2 .2-1 1-1 5.9-2zM234.4 -13l-17.4 1.6-2 1-.8 1.4 .3 1 1.5 1.4 4 2.1 5 3.3 5 1.6 3 .4 5-.4 7-2.6 4-.6 14 3.5 11-.1 4.6-1.6 2.3-2 .5-1-.2-1-1.6-2-1.3-3-1.4-1-2.9-.9-8-.1-9-1.4-9 .5-5-.1-5-.6-3 .5zM99.2 2l1.8 1.5 2.9 3.5 3.1 4.5 5 3.6 .5 1.9-1.3 9-1.2 .8-2.1 .2-.6 1 .1 1 .6 1.2 3 2.7 6.6 8.1-2.4 0-5.2-3.5-2-.7-1 .2-5 2.7-3-.1 0-24.6 .6-1-.6-1.7 0-10.4zM282 5.6l4-.1 5 1 0 2.7-2-1.2-3-.8-4-.1-2 .6-6.5 3.3-1 1-.7 3 .7 2 3.2 3 4.3 2.2 2 .4 3-.2 3-.7 3-1.4 0 1.7-5 1.6-5 0-4-1.9-4-2.7-2-2-.8-3 .5-2 7.7-4 3-2zM242 23.9l2-.1 1 .4 1.7 1.8 0 2-.5 1-2.2 1.7-3-.1-1.6-1.6-.3-1 .3-2 .7-1 1.6-1zM240.7 25l-1 2 .8 2 1.5 .9 1 .1 2-.7 1.3-2.3-.9-2-2.4-1-2 .7z"/><path fill="#fce4bc" stroke="#fce4bc" fill-rule="evenodd" d="M169 -27.2l6 1 6-.1 7 2.6 2.7 1.7 1.7 2 1.1 3-.1 2-1.5 2-6.8 5-6.1 .5-12-.3-6 .2-1 .6-2 .3-.8 .7-1.2 .2-.9 .8-3.1 1.3-5.9 3.7 .2 1 10.7 5.5 6 2.2 2.5 .3 2.3 1-.2 1-1 1-3.6 2.5-4 2-6.9 2.5-.7 1 3.7 3 1.9 .8 8 .2 8 2.5 2 .9 1.9 1.6 1.3 2-.2 2-1 2.2-2 1.6-6 .2-8 1.7-7-.3-8-2.6-5 .9-5-1.1-4 .9-4-.4-1 .4-1 1.1-2 3.4-6.4 0-6.6-8.1-3-2.7-.6-1.2-.1-1 .6-1 2.1-.2 1.2-.8 1.2-10-.4-1-5-3.5-3.1-4.5-2.9-3.5-2-1.6 0-11.7 4-1.2 2.5-4 2.9-3 2.6-1.6 3-.9 3-.2 4 .7 2 0 6-1.8 2 .5 3 2.2 4-.4 4 1.2 9.2 .3 2.8-1 9-5.9 5-2.1zM167.8 -22l-1.8 .7-1.6 1.3-1.5 3-.1 4 .8 2 1.7 2 4.4 1 11.2 0 4.1-1.6 1.7-1.4 1.5-2 .5-2-.3-2-1.4-2.4-2-1.5-3-1-5-.7-9 .5zM112.7 -18l-2.7 1.4-2 2.6-.5 2 .6 3 1.9 2.2 3 1.6 2 .6 6-.4 .3 1-1.3 1.9-1 .7-4.3 1.4-1 2-1.2 6 2.5 4.9 .5 2.1-1.1 8 .3 6 .5 3 1.8 4.1 2 2.2 1 .4 1-.1 1-.9 2.6-4.7 1-4 .4-9 1-2.1 12-.6 7-1.3 6-.7 8-2.7 2-1.6 .6-1-.4-1-16.2-7.5-2-2.2-6-2.1-.9-1.2 .4-1 1.5-.4 4 2.1 4 0 4-1.1 2-1.1 2.8-2.5 .9-2-.1-2-1.9-2-4.7-1.4-3 0-3 .6-3.2 1.8-3.8 4.9-2 1-2 0-3.6-1.9-.9-1-1.3-3-2.2-2-7-3.2-2-.3-3 .4zM147.1 27l-2.2 1-1.1 1-.4 1 .3 1 8.3 3.6 3 .9 5 .1 6-.8 4-1.4 1.7-1.4 .1-1-.5-1-1.2-1-5.1-2.3-13-.7-4 .7zM235 -13.1l3-.5 5 .6 5 .1 9-.5 9 1.4 8 .1 2.9 .9 1.4 1 1.3 3 1.6 2 .2 1-.5 1-2.3 2-4.6 1.6-11 .1-14-3.5-4 .6-7 2.6-5 .4-3-.4-5-1.6-5-3.3-4-2.1-1.5-1.4-.3-1 .8-1.4 2-1 17.4-1.6zM235.6 -11l-7.6 1-3 .9-1.3 1.1-.4 1 .4 2 1.7 2 1.6 1 4 1.4 3 .3 5-.8 7-3.9 3-.9 3 .4 7 3.9 5 1.4 5 .2 5-.6 2-.7 1.7-1.7-.2-1-.9-1-2.6-1.4-4-1.2-6.3-.4-3.5-2-2.2-.8-2-.2-8 .8-9-1-3 .1zM283 7l4 .4 3 1.1 1 .7 0 2.8-2-1.7-2-1-3-.7-3 .1-3 1.1-2.1 1.2-1.6 2-.4 2 .7 2 1.9 2 2.5 1.5 2 .5 3 0 3-.7 2-.8 2-1.5 0 2.3-1 .5-4 1.4-3 .4-3-.4-4-2-2.7-2.2-.8-1-.7-2 .2-2 1.5-2 6.5-3.3 2.8-.7zM241 24.7l2-.7 2.4 1 .9 2-1.3 2.3-2 .7-1-.1-1.5-.9-.8-2 1-2zM241.6 25l-.9 1-.1 1 .3 1 1.1 .9 2 0 1-.9 .4-1-.1-1-1.3-1.3-2 .1z"/><path fill="#f8d099" stroke="#f8d099" fill-rule="evenodd" d="M168 -22.1l9-.5 5 .7 3 1 2 1.5 1.4 2.4 .3 2-.5 2-1.5 2-1.7 1.4-4.1 1.6-11.2 0-4.4-1-1.7-2-.8-2 .1-4 1.5-3 1.6-1.3 1.8-.7zM169.7 -20l-1.7 .6-1.8 1.4-.7 1-.7 2 .7 3 1.5 1.7 2 1.2 6 .9 5-.4 4-1.6 1.1-.8 1.5-2 .3-2-.7-2-1.2-1.3-2-1.2-3-1-3-.3-7 .7zM113 -18.1l3-.4 2 .3 7 3.2 2.2 2 1.3 3 .9 1 3.6 1.9 2 0 2-1 3.8-4.9 3.2-1.8 3-.6 3 0 4.7 1.4 1.9 2 .1 2-.9 2-2.8 2.5-2 1.1-4 1.1-4 0-4-2.1-1.5 .4-.4 1 .9 1.2 6 2.1 2 2.2 16.2 7.5 .4 1-.6 1-2 1.6-8 2.7-6 .7-7 1.3-12 .6-1 2.1-.4 9-1 4-2.6 4.7-1 .9-1 .1-1-.4-2-2.2-1.8-4.1-.5-3-.3-6 1.1-8-.5-2.1-2.5-4.9 1.2-6 1-2 4.3-1.4 1-.7 1.3-1.9-.3-1-6 .4-2-.6-3-1.6-1.9-2.2-.6-3 .5-2 2-2.6 2.7-1.4zM113 -17l-1.9 1-1.1 1-.9 2 .2 2 1.5 2 2.2 1.1 3 .5 3-.8 2.2-1.8 .6-1 .3-2-1-2-1.1-1-3-1.3-2-.1-2 .4zM147 -14l-2.6 1-1.8 2-.2 2 1.2 2 2.4 1.4 2 .2 2-.3 2.5-1.3 1.1-1 .9-2-.5-2-1.1-1-1.9-.9-4-.1zM126.3 2l-4.3 1-2.3 1-2.2 2-.8 2 .6 7-1.5 7 .3 7 .7 3 1 2 1.2 1.2 1 .4 1-.3 1-.9 1.7-3.4 .7-6-.6-7 .2-1.2 1-1.2 2-.3 11 .4 13-2 3-.9 3-1.4 1.6-1.4 .3-1-.4-1-3.4-2-4.9-2-5.2-1.4-9-1.5-6 .2-3 .5zM236 -11.1l3-.1 9 1 8-.8 2 .2 2.2 .8 3.5 2 6.3 .4 4 1.2 2.6 1.4 .9 1 .2 1-1.7 1.7-2 .7-5 .6-5-.2-5-1.4-7-3.9-3-.4-3 .9-7 3.9-5 .8-3-.3-4-1.4-1.6-1-1.7-2-.4-2 .4-1 1.3-1.1 3-.9 7.6-1zM232 -9l-3 .6-2.5 1.4-.5 2 1.5 2 3.5 1.5 5 .3 4-1.3 2.5-2.5 .3-2-.9-1-1.9-.9-3-.6-5 .5zM263.4 -6l-2.4 .3-1.6 .7-.5 1 .4 1 1.3 1 2.4 .9 5 .5 5-.6 1.9-.8 .8-1-.7-1.4-3-1.3-3-.5-5 .2zM281 8.7l2-.1 3 .4 2 .7 2 1.4 1 .9 0 6-3 2-5 1.1-3-.3-3.5-1.8-2.4-3-.2-1 .4-2 1.6-2 4.1-2zM280.7 10l-3.7 1.9-1.4 2.1 .2 2 2.2 2.7 3 1.2 3 0 3.2-.9 2.7-2 .6-1-.1-2-1.5-2-1.9-1.3-2-.7-4-.1zM242 24.8l2-.1 1.3 1.3 .1 1-.4 1-1 .9-2 0-1.1-.9-.3-1 .1-1 .9-1zM241.5 26l-.2 1 .7 1.1 1 .3 1.1-.4 .6-1-.2-1-1.5-.9-1 .4zM148 26.7l4-.7 13 .7 5.1 2.3 1.2 1 .5 1-.1 1-1.7 1.4-4 1.4-6 .8-5-.1-3-.9-8.3-3.6-.3-1 .4-1 1.1-1 2.2-1zM158.8 28l-4.8 .4-2 .5-1.1 1.1 .1 1 .8 1 1.7 1 4.5 1 6-.5 1.8-.5 1.6-1 .4-1-.5-1-1.3-1-3-.9-4-.1z"/><path fill="#f2a673" stroke="#f2a673" fill-rule="evenodd" d="M170 -20.1l7-.7 3 .3 3 1 2 1.2 1.2 1.3 .7 2-.3 2-1.5 2-1.1 .8-4 1.6-5 .4-6-.9-2-1.2-1.5-1.7-.7-3 .7-2 .7-1 1.8-1.4 1.7-.6zM170.1 -19l-3 2-.6 1-.4 2 .9 2.1 1 1.1 2 1.1 5 .9 4-.3 4-1.4 1.8-1.5 .6-1 .3-1-.4-2-1.3-1.6-2-1.2-5-1.1-6 .6zM113 -17l2-.4 2 .1 3 1.3 1.1 1 1 2-.3 2-.6 1-2.2 1.8-3 .8-3-.5-2.2-1.1-1.5-2-.2-2 .9-2 1.1-1 1.9-1zM112.7 -16l-1.4 1-1.1 2 .4 2 .9 1 1.5 .9 2 .5 2-.2 2.2-1.2 .8-1 .5-2-1-2-1.5-1-2-.6-3 .5zM147 -14l4 .1 1.9 .9 1.1 1 .5 2-.9 2-1.1 1-2.5 1.3-2 .3-2-.2-2.4-1.4-1.2-2 .2-2 1.8-2 2.6-1zM147.6 -13l-2.6 1.3-.8 1.7 .1 1 .7 1.1 1.3 .9 1.7 .4 2-.3 1.9-1.1 .8-1 .1-2-1.8-1.7-3-.4zM232 -9l5-.5 3 .6 1.9 .9 .9 1-.3 2-2.5 2.5-4 1.3-5-.3-3.5-1.5-1.5-2 .5-2 2.5-1.4 3-.6zM232.3 -8l-2.3 .6-2 1.4-.2 1 .4 1 1.2 1 3.6 1.1 3 0 3.1-1.1 1.1-1 .5-1 0-1-1.7-1.6-3-.7-3 .2zM264 -6l5-.2 3 .5 3 1.3 .7 1.4-.8 1-1.9 .8-5 .6-5-.5-2.4-.9-1.3-1-.4-1 .5-1 1.6-.7 2.4-.3zM263.8 -5l-2.3 1-.1 1 1.4 1 2.2 .5 3 .3 3-.3 1.8-.5 1.2-1-.4-1-2.6-1.1-3-.3-4 .4zM127 1.8l3-.5 6-.2 9 1.5 5.2 1.4 4.9 2 3.4 2 .4 1-.3 1-1.6 1.4-3 1.4-3 .9-13 2-11-.4-2 .3-1 1.2-.2 1.2 .6 7-.7 6-1.7 3.4-1 .9-1 .3-1-.4-1.2-1.2-1-2-.7-3-.3-7 1.5-7-.6-7 .8-2 2.2-2 2.3-1 4.3-1zM130.8 3l-3.8 .6-5 1.5-2 1.4-.9 1.5-.3 2 .6 5-2.1 5-.5 5 .2 3.1 .7 2.9 1.3 1.8 1 .4 1-.3 1-1.2 1.1-3.7 .1-5-1.5-7 .4-1 .9-.7 2-.5 9 .7 6-.3 11.3-2.2 2.7-1.2 1.1-.8 .4-1-.3-1-1.1-1-8.1-2.6-7-1.4-8 0zM281 9.9l4 .1 2 .7 1.9 1.3 1.5 2 .1 2-.6 1-2.7 2-3.2 .9-3 0-3-1.2-2.2-2.7-.2-2 1.4-2.1 3.7-1.9zM280.9 11l-2.1 1-1.7 2 .1 2 1.7 2 2.1 .9 2 .1 3-.7 2.2-1.3 .8-2-1-2.1-3-1.8-2-.3-2 .2zM242 25.5l1-.4 1.5 .9 .2 1-.6 1-1.1 .4-1-.3-.7-1.1 .2-1zM242.6 26l-.5 1 .9 .5 .8-.5-.4-1-.4-.2zM159 28l4 .1 3 .9 1.3 1 .5 1-.4 1-1.6 1-1.8 .5-6 .5-4.5-1-1.7-1-.8-1-.1-1 1.1-1.1 2-.5 4.8-.4zM157.1 30l-1.2 1 1.2 1 .9 .2 4-.1 1.8-1.1-1-1-.8-.2-4 0z"/><path fill="#e9735e" stroke="#e9735e" fill-rule="evenodd" d="M171 -19.3l6-.6 5 1.1 2 1.2 1.3 1.6 .4 2-.3 1-.6 1-1.8 1.5-4 1.4-4 .3-5-.9-2-1.1-1-1.1-.9-2.1 .4-2 .6-1 3-2zM173 -19l-4 1.5-1.4 1.5-.4 1 .2 2 .7 1 1.9 1.5 4 1.1 4-.1 4-1.3 2.4-2.2 .2-2-.4-1-2.2-1.9-4-1.3-4 0zM113 -16.1l3-.5 2 .6 1.5 1 1 2-.5 2-.8 1-2.2 1.2-2 .2-2-.5-1.5-.9-.9-1-.4-2 1.1-2 1.4-1zM112.6 -15l-1 1-.3 2 .6 1 1.1 .9 3 .5 2.6-1.4 .7-2-1.3-2-2-.8-3 .5zM148 -13.1l3 .4 1.8 1.7-.1 2-.8 1-1.9 1.1-2 .3-1.7-.4-1.3-.9-.7-1.1-.1-1 .8-1.7 2.6-1.3zM147.9 -12l-1.8 1-.4 1 .2 1 1.1 1 1 .2 2-.3 1.2-.9 .3-1-.3-1-1.2-.8-2-.2zM233 -8.1l3-.2 3 .7 1.7 1.6 0 1-.5 1-1.1 1-3.1 1.1-3 0-3.6-1.1-1.2-1-.4-1 .2-1 2-1.4 2.3-.6zM231.9 -7l-2.1 1-.5 1 .4 1 2.3 1.2 3 .3 2-.4 1.8-1.1 .5-1-.4-1-1.9-1.1-2-.3-3 .4zM264 -5l4-.4 3 .3 2.6 1.1 .4 1-1.2 1-1.8 .5-3 .3-3-.3-2.2-.5-1.4-1 .1-1 2.3-1zM264.1 -4l-.6 1 2.5 1.1 4-.1 2.1-1-.6-1-1.5-.4-5 .1zM131 3l8 0 7 1.4 8.1 2.6 1.1 1 .3 1-.4 1-1.1 .8-2.7 1.2-11.3 2.2-6 .3-9-.7-2 .5-.9 .7-.4 1 1.5 7-.1 5-1.1 3.7-1 1.2-1 .3-1-.4-1.3-1.8-.7-2.9-.2-3.1 .5-5 2.1-5-.6-5 .3-2 .9-1.5 2-1.4 5-1.5 3.8-.6zM134.9 4l-5.9 .5-6 2-1 .7-1 1.7 .3 2.1 1.5 1 6.2 1.1 8 .5 5-.7 7-1.9 1.9-1 .6-1-.4-1-1.6-1-3.5-1.3-5-1.3-6-.4zM118.8 20l-1 3 .1 4 .9 3 1.2 1 1-.5 1-2.2 .2-4.3-1.2-4.2-1-.7-1 .6zM281 11l2-.2 2 .3 3 1.8 1 2.1-.8 2-2.2 1.3-3 .7-2-.1-2.1-.9-1.7-2-.1-2 1.7-2 2.1-1zM281.2 12l-1.8 1-.8 1 .1 2 .8 1 1.5 .8 2 .2 3.2-1 1-1 .2-1-.4-1.2-2-1.6-3-.4zM243 25.8l.4 .2 .4 1-.8 .5-.9-.5 .5-1zM158 29.8l4 0 .8 .2 1 1-1.8 1.1-4 .1-.9-.2-1.2-1 1.2-1z"/><path fill="#e34349" stroke="#e34349" fill-rule="evenodd" d="M174 -19.2l4 0 4 1.3 2.2 1.9 .4 1-.2 2-2.4 2.2-4 1.3-4 .1-4-1.1-1.9-1.5-.7-1-.2-2 .4-1 1.4-1.5 4-1.5zM171.6 -18l-2 1-1.4 2 .2 2 .8 1 1.8 1.2 3 .8 4 0 3.1-1 2.3-2 .2-2-.5-1-2.1-1.6-4-1.1-5 .6zM113 -15.3l3-.5 2 .8 1.3 2-.7 2-2.6 1.4-3-.5-1.1-.9-.6-1 .3-2 1-1zM114.7 -15l-2 1-.4 1 .1 1 1.6 1.3 2 .1 1.1-.4 .9-1 .2-1-1.2-1.5-2-.5zM148 -12l2 .2 1.2 .8 .3 1-.3 1-1.2 .9-2 .3-1-.2-1.1-1-.2-1 .4-1 1.8-1zM147.9 -10l1.1 .3 .3-.3-1.3-.1zM232 -7l3-.4 2 .3 1.9 1.1 .4 1-.5 1-1.8 1.1-2 .4-3-.3-2.3-1.2-.4-1 .5-1 2.1-1zM232 -6l-1 1 .4 1 1.6 .6 3-.1 1.2-.5 .5-1-.8-1-.9-.3-2-.1-2 .4zM265 -4.3l5-.1 1.5 .4 .6 1-2.1 1-4 .1-2.5-1.1 .6-1zM266.5 -3l3 0-1.5-.4-1 .2zM135 4l6 .4 5 1.3 3.5 1.3 1.6 1 .4 1-.6 1-1.9 1-7 1.9-5 .7-8-.5-6.2-1.1-1.5-1-.3-2.1 1-1.7 1-.7 6-2 5.9-.5zM127.9 6l-3.7 2-.4 1 .3 1 2.9 1.5 4 .9 5 .3 5-.6 3.7-1.1 2.1-1 .8-1-.5-1-1.6-1-5.5-1.6-7-.3-5 .9zM282 11.8l3 .4 2 1.6 .4 1.2-.2 1-1 1-3.2 1-2-.2-1.5-.8-.8-1-.1-2 .8-1 1.8-1zM282.4 13l-2 1-.4 1 1 1.3 2 .5 2-.7 .6-1.1-.6-1.2-2-.8zM119 19.7l1-.6 1 .7 1.2 4.2-.2 4.3-1 2.2-1 .5-1.2-1-.9-3-.1-4 1-3zM119.6 23l-.6 2.4 1 2.6 1-1.7 .1-1.3-1.1-2.4z"/><path fill="#e03045" stroke="#e03045" fill-rule="evenodd" d="M172 -18.1l5-.6 4 1.1 2.1 1.6 .5 1-.2 2-2.3 2-3.1 1-4 0-3-.8-1.8-1.2-.8-1-.2-2 1.4-2 2-1zM174 -18l-3 1-1.3 1-.5 1 .3 2 1.5 1.5 3 .9 3 .1 3-.8 2.3-1.7 .3-2-1.6-1.8-3-1.2-3-.1zM115 -15l2 .5 1.2 1.5-.2 1-.9 1-1.1 .4-2-.1-1.6-1.3-.1-1 .4-1 2-1zM114.7 -14l-1.1 1 .3 1 1.1 .4 1-.2 .8-1.2-.8-.9-1-.2zM148 -10.1l1.3 .1-.3 .3-1.1-.3zM232 -6l2-.4 2 .1 .9 .3 .8 1-.5 1-1.2 .5-3 .1-1.6-.6-.4-1 1-1zM233.9 -5l.9 0-.8 0zM267 -3.2l1-.2 1.5 .4-3 0zM128 6l5-.9 7 .3 5.5 1.6 1.6 1 .5 1-.8 1-2.1 1-3.7 1.1-5 .6-5-.3-4-.9-2.9-1.5-.3-1 .4-1 3.7-2zM134.8 6l-2.8 .2-3 .7-1.7 1.1-.4 1 .5 1 1.9 1 5.7 .8 5.8-.8 2.4-1 .8-1-.4-1-1.7-1-2.9-.7-4-.3zM283 13l2 .8 .6 1.2-.6 1.1-2 .7-2-.5-1-1.3 .4-1 2-1zM120 22.6l1.1 2.4-.1 1.3-1 1.7-1-2.6 .6-2.4z"/><path fill="#df2035" stroke="#df2035" fill-rule="evenodd" d="M175 -18.1l3 .1 3 1.2 1.6 1.8-.3 2-2.3 1.7-3 .8-3-.1-3-.9-1.5-1.5-.3-2 .5-1 1.3-1 3-1zM172.7 -17l-1.8 1-.7 1-.1 1 .9 1.4 2 1.1 3 .5 2-.3 2-.8 1.1-.9 .4-1-.1-1-.7-1-1.7-1-3-.5-3 .4zM115 -14.1l1 .2 .8 .9-.8 1.2-1 .2-1.1-.4-.3-1 1.1-1zM234 -5l.8 0-.9 0zM135 6l4 .3 2.9 .7 1.7 1 .4 1-.8 1-2.4 1-5.8 .8-5.7-.8-1.9-1-.5-1 .4-1 1.7-1.1 3-.7 2.8-.2zM130.5 8l-.7 1 1 1 2.2 .6 5-.4 2.3-1.2-.7-1-2.6-.7-3-.1-3 .6z"/><path fill="#b7212b" stroke="#b7212b" fill-rule="evenodd" d="M173 -17.1l3-.4 3 .5 1.7 1 .7 1 .1 1-.4 1-1.1 .9-2 .8-2 .3-3-.5-2-1.1-.9-1.4 .1-1 .7-1 1.8-1zM131 7.8l3-.6 3 .1 2.6 .7 .7 1-2.3 1.2-5 .4-2.2-.6-1-1 .7-1z"/>
<use href="#land" fill="#787978" stroke="#787978" stroke-width="0.7"/>
</g>
<line x1="890.22" y1="489.06" x2="890.22" y2="684.28" stroke="#161616" stroke-width="5.2" stroke-dasharray="23.2 20.6" stroke-dashoffset="1.8"/>
<rect x="694.60" y="488.86" width="464.61" height="195.62" fill="none" stroke="#111" stroke-width="1.9"/>
<path d="M743.51,488.86v-4.6M743.51,684.48v4.6M841.32,488.86v-4.6M841.32,684.48v4.6M939.13,488.86v-4.6M939.13,684.48v4.6M1036.94,488.86v-4.6M1036.94,684.48v4.6M1134.75,488.86v-4.6M1134.75,684.48v4.6M694.60,513.31h-5.2M1159.21,513.31h4.6M694.60,549.99h-5.2M1159.21,549.99h4.6M694.60,586.67h-5.2M1159.21,586.67h4.6M694.60,623.35h-5.2M1159.21,623.35h4.6M694.60,660.03h-5.2M1159.21,660.03h4.6" stroke="#111" stroke-width="1.3" fill="none"/>
<text x="680.20" y="527.51" font-size="34.5" text-anchor="end" fill="#000">30°N</text>
<text x="680.20" y="564.19" font-size="34.5" text-anchor="end" fill="#000">15°N</text>
<text x="680.20" y="600.87" font-size="34.5" text-anchor="end" fill="#000">0°</text>
<text x="680.20" y="637.55" font-size="34.5" text-anchor="end" fill="#000">15°S</text>
<text x="680.20" y="674.23" font-size="34.5" text-anchor="end" fill="#000">30°S</text>
<text x="1051.70" y="673.70" font-size="34.3" font-weight="bold" fill="#000">EN4</text>
<text x="675.60" y="481.80" font-size="30.2" font-weight="bold" text-anchor="end" fill="#000">F</text>
<g transform="matrix(2.4453,0,0,-2.4453,-153.130,812.452)" clip-path="url(#pc)" stroke-width="0.3" stroke-linejoin="round">
<path fill="#343f93" stroke="#343f93" fill-rule="evenodd" d="M160 -4.1l5-.8 9-.1 13.5 1 5.8 1 3.2 1 3.2 2 .1 1-1.2 1-3.3 1-6.3 1-11 .6-15-.3-5-1.3-1.8-1-1.2-1.4-.1-1.6 .7-1 1.3-1 2.6-1z"/><path fill="#394d9c" stroke="#394d9c" fill-rule="evenodd" d="M164 -5.1l14-.1 12.8 1.2 9 2 2.2 1.2 .9 .8 0 1-1.3 1-3.2 1-6.2 1-19.2 1-7-.1-5-.7-3.8-1.2-2.6-2-.5-1 .2-1 1.9-2 2.2-1 4.6-1zM159.5 -4l-2.6 1-1.3 1-.7 1 .1 1.6 1.2 1.4 1.8 1 5 1.3 15 .3 11-.6 6.3-1 3.3-1 1.2-1-.1-1-3.2-2-3.2-1-5.8-1-13.5-1-9 .1-5 .8z"/><path fill="#325ea6" stroke="#325ea6" fill-rule="evenodd" d="M162 -5.1l16-.3 16 1.4 5.5 1 3.3 1 2.2 1.4 .6 .6 .1 1-1.2 1-3.1 1-6 1-8.4 .8-14 .4-8-.1-5-.8-3.5-1.3-2.5-2-.3-2 1.3-1.6 2.6-1.4 3.9-1zM163 -5l-4.6 1-2.2 1-1.9 2-.2 1 .5 1 2.6 2 3.8 1.2 5 .7 7 .1 19.2-1 6.2-1 3.2-1 1.3-1 0-1-.9-.8-2.2-1.2-9-2-12.8-1.2-14 .1z"/><path fill="#2373b3" stroke="#2373b3" fill-rule="evenodd" d="M161 -5.2l5-.4 12 0 19.1 1.6 5.4 1 3 1 3 2 .1 1-1.2 1-2.7 1-10.7 1.6-13 .8-17-.2-5-.9-3-1.2-1.7-1.1-1.2-2 .7-2 1.1-1 2.1-1.1 3.2-.9zM161.5 -5l-3.9 1-2.6 1.4-1.3 1.6 .3 2 2.5 2 3.5 1.3 5 .8 8 .1 14-.4 8.4-.8 6-1 3.1-1 1.2-1-.1-1-.6-.6-2.2-1.4-3.3-1-5.5-1-16-1.4-16 .3z"/><path fill="#28a0d5" stroke="#28a0d5" fill-rule="evenodd" d="M160 -5.2l6-.6 12 0 21 1.6 9.7 2.2 2.3 1 1.1 1 .1 1-1.2 1-5 1.6-15 1.7-16 .4-12-.3-4-.8-3-1.2-2.3-1.4-.8-1-.3-2 .6-1 2.8-2 3.2-1zM160.2 -5l-3.2 .9-2.1 1.1-1.1 1-.7 2 1.2 2 1.7 1.1 3 1.2 5 .9 17 .2 13-.8 10.7-1.6 2.7-1 1.2-1-.1-1-3-2-3-1-5.4-1-19.1-1.6-12 0-5 .4z"/><path fill="#3bbee5" stroke="#3bbee5" fill-rule="evenodd" d="M165 -6l21 .3 15 1.2 11.7 2.5 3.3 2 .4 1-1.1 1-2.3 1.1-7 1.5-13 1.2-10 .2-16-.1-5-.4-6-1.7-2-1.1-1.7-1.7-.2-2 .5-1 2.4-1.8 4-1.4 6-.8zM159.2 -5l-3.2 1-2.8 2-.6 1 .3 2 .8 1 2.3 1.4 3 1.2 4 .8 12 .3 16-.4 15-1.7 5-1.6 1.2-1-.1-1-1.1-1-2.3-1-9.7-2.2-21-1.6-12 0-6 .6zM172 11.9l2-.4 3.1 .5-.2 1-2.9 .3-2.3-.3 .1-1zM183 11.9l.9 .1-.9 .5-.8-.5z"/><path fill="#80cbe3" stroke="#80cbe3" fill-rule="evenodd" d="M163 -6.1l15-.2 24 1.4 10 1.5 9 2.2 3 1.2 .8 1-.8 1.5-2 1.2-9 2.4-12 1.8-3.1 1.1-.5 1 .4 2-.5 1-1.5 1-2.8 .9-8 1.2-16-.4-2.7-.7-1.4-1-.6-1 0-1 .8-1 1.5-1 2.4-.9 9.8-2.1-12.8-.6-6-.9-6-2.3-1.5-1.2-1.1-2 .6-2 2.6-2 3.4-1.3 4.4-.7zM165 -6l-6 .8-4 1.4-2.4 1.8-.5 1 .2 2 1.7 1.7 2 1.1 6 1.7 5 .4 16 .1 10-.2 13-1.2 7-1.5 2.3-1.1 1.1-1-.4-1-3.3-2-11.7-2.5-15-1.2-21-.3zM171.8 12l-.1 1 2.3 .3 2.9-.3 .2-1-3.1-.5-2 .4zM182.2 12l.8 .5 .9-.5-.9-.1z"/><path fill="#a8dbe9" stroke="#a8dbe9" fill-rule="evenodd" d="M161 -6.1l7-.5 20 .2 13 .6 11 1.1 16 2.7 3.9 1 3.8 2 1 1 .1 1-1.3 2-2.5 1.3-6 .6-5 1.5-5 .7-6 1.9-4 5.1-4 .8-1.3 1.1 1.3 .9 4 .6 4 1.8 2 1.7 .4 2-1.4 1.1-8 1.9-4 .6-3-.1-4-1-2.6-1.5-.6-1 .1-4-.6-1-2.1-1-5.2-.8-15-.8-7.2-2.4-1.7-1-.7-1-.1-1 .5-1 1.2-1.1 4-1.9 1.1-1-6.1-1.5-4-1.8-2-1.4-1-1.3-.3-2 1.5-2 1.8-1.2 3-1.1 3.5-.7zM162.4 -6l-4.4 .7-3.4 1.3-2.6 2-.6 2 1.1 2 1.5 1.2 6 2.3 6 .9 12.8 .6-9.8 2.1-2.4 .9-1.5 1-.8 1 0 1 .6 1 1.4 1 2.7 .7 16 .4 8-1.2 2.8-.9 1.5-1 .5-1-.4-2 .5-1 3.1-1.1 12-1.8 9-2.4 2-1.2 .8-1.5-.8-1-3-1.2-9-2.2-10-1.5-24-1.4-15 .2zM245 16l7-.1 2.9 1.1 .6 1-1.5 1-1 .2-12 1-3-.5-1.5-.7-.9-1 1-1 1.4-.4 6.3-.6z"/><path fill="#c4e8f7" stroke="#c4e8f7" fill-rule="evenodd" d="M160 -6.1l5-.6 13-.1 22 .3 9 .6 21.5 2.9 9.5 2.3 7 .7 1.7 1 .6 1 .3 3-.6 .9-5 1.3-5 .4-4.8 2.4-4.1 3 1.4 1 6.5 .8 9-.6 5-.8 5 1.6 4.7 1 1.3 1-.1 1-1.9 1.8-2 .7-15 1.4-6-.1-5-1.2-5 .1-2.5-.7-1.4-1 0-1 2.9-4 .1-1-2.1-1.2-3 .2-4.3 2-1.4 1-.4 1 5 3 .5 1 1.7 7-.7 2-1.4 2.2-1 .6-4-1.8-4 .3-4-.6-8 1.3-5-.4-10-3.6-1-.8-.2-1.2 1.2-3-.3-1-1.6-1-17.1-1.5-8.3-2.5-3.1-2-.4-1 .5-2 1.7-2 2.9-2-.8-1-3.5-1.3-3-1.9-1.7-1.8-.2-2 1.5-2 2.4-1.5 5.5-1.5zM160.5 -6l-3.5 .7-3 1.1-1.8 1.2-1.5 2 .3 2 1 1.3 2 1.4 4 1.8 6.1 1.5-1.1 1-4 1.9-1.2 1.1-.5 1 .1 1 .7 1 1.7 1 7.2 2.4 15 .8 5.2 .8 2.1 1 .6 1-.1 4 .6 1 2.6 1.5 4 1 3 .1 4-.6 8-1.9 1.4-1.1-.4-2-2-1.7-4-1.8-4-.6-1.3-.9 1.3-1.1 4-.8 4-5.1 6-1.9 5-.7 5-1.5 6-.6 2.5-1.3 1.3-2-.1-1-1-1-3.8-2-3.9-1-16-2.7-11-1.1-13-.6-20-.2-7 .5zM244.3 16l-6.3 .6-1.4 .4-1 1 .9 1 1.5 .7 3 .5 12-1 1-.2 1.5-1-.6-1-2.9-1.1-7 .1zM290 39l1-.6 0 2.6-1.6 0 .6-2z"/><path fill="#fcf0dc" stroke="#fcf0dc" fill-rule="evenodd" d="M198 -41l1.8 0 .2 1.9-1 .2-1-.8-.2-1.3zM228 -41l1.2 0-.2 1.6-.9-.6-.1-1zM147 -39.1l10 2.6 4 .1 6 1 2-.7 2-2.9 1-.6 6 .9 5-1.2 5 2.8 8 1.2 2-.4 2-1.6 1-.1 2 .8 1 .9 2.5 4.3 1.5 1.2 4 .9 4-.6 2 .3 1.8 1.2 2 2 7.2 4.5 2 .8 3-.1 5-1.1 6 3.3 5 .1 4 .8 4-.3 5 1.2 5-1 10 3.2 2-.2 2-.9 1 .1 3 3.6 5 3.3 0 5-5.8 1.7-2.2 .3-1-.5-2-2.2-2-.3-2 1-2.4 2.7-1.6 1.1-2 .5-8 .6-4-1.2-5-.3-5-1.1-10-.7-7-1.5-13-1.5-7-1.4-9-.9-13 .5-6 .7-20 .4-8 1.2-6.3 2.6-1.2 1 .9 3 4.3 4 .2 1-3.2 7-.1 2 .4 1 2 1.5 10 2.2 7.8 2.3 2.1 1 5.1 5 1.8 3 .8 2-.1 1-1.5 1.9-2.7 1.1-4.3 .6-6 2.5-5 0-2.2 .9-27.7 0-2.1-1.2-4 1-4-.2-1.8 .4-6.3 0-1.4-2-1.3-1-3.2-.4-3 .4-1 .7-1.3 2.3-1.7 0 0-2.4 1.6-.6 .4-1-1-1.8-1-.6 0-6.2 2.1-.4 .2-1-1.3-1.8-1-.4 0-9.4 1-.7 1.9-3.7 1.1-.9 1-.1 1 .4 2.9 2.6 1.1 .4 2-.1 2-1.1 .9-1.2 1.6-4 1.5-2 9.8-8 .9-1 .1-1-1.8-2.5-2-1.1-5 .4-1-.2-4-2.1-3-.3-4-1.4-4-.6-4-1.9 0-7.6 2-1.1 2-1.9 3.2-1.7 1.5-2 0-3-1.3-3 .6-.6 3 1.1 2 .4 7-1.4 1 .1 4 1.8 3 .3 10-1.8 2-.9 3-2.3 4.6-.7zM177.1 -33l-3.1 2.1-2 .6-8-1.5-6 1.4-4.7-1.6-1.3-.1-5 1.8-4-1.7-3 .3-7 2.7-5.1 3-1.6 2-.2 5 3.2 5 .9 4 .8 1.1 7 1.7 13 1.6 10-1.2 21-.9 8-.9 13-.7 5 .4 10 1.9 13 1.7 8 1.5 9 .5 6 .7 10 .2 4-.5 1.6-1.1 .8-5 2.4-2 .4-1-2.1-2-3.1-1.2-6 1.1-4-.9-5 .4-5-1.8-5 .1-4-1.1-5 .9-2 0-2-.7-4-4.1-3-1.5-10-1.9-10.2-1.3-1.1-1-1-2-1.7-1.3-7-.8-5 1.3-1-.4-3-3.2-2-.2-3 .3zM135.2 -4l0 1 1.1 1 2.7 .8 2-.1 6.1-1.7-.8-1-2.3-.4-5-.5-3 .4zM129.3 0l-2.3 .5-3 1.4-3.9 3.1-1.5 2-.8 3 1.4 6-.2 1-1 .8-8 1.9-1 .6-.3 .7 .2 1 2.5 4 .1 2-.5 .9-1 .6-4-.4-1 .2-.2 1.7 1.1 2 1.1 .5 4-.1 5 1.6 6-1 8 .9 2 1 4 3.3 2 .3 4-1.1 5-2.6 2-.4 6 .1 5-2.5 3.4-5 .6-2-.1-2-1.9-1.9-2-.7-5-1.2-5-.5-2-1.3-1.3-1.4-.1-2 2.5-6 .5-2-.5-2-.8-1-3.3-2.3-2-.7-10-1.2-3 .1z"/><path fill="#fce4bc" stroke="#fce4bc" fill-rule="evenodd" d="M178 -33.3l3-.3 2 .2 3 3.2 1 .4 5-1.3 7 .8 1.7 1.3 1 2 1.1 1 10.2 1.3 10 1.9 3 1.5 4 4.1 2 .7 2 0 5-.9 4 1.1 5-.1 5 1.8 5-.4 4 .9 6-1.1 3.1 1.2 2.1 2-.4 1-2.4 2-.8 5-1.6 1.1-4 .5-10-.2-6-.7-9-.5-8-1.5-13-1.7-10-1.9-5-.4-13 .7-8 .9-21 .9-10 1.2-13-1.6-7-1.7-.8-1.1-.9-4-3.2-5 .2-5 1.6-2 5.1-3 7-2.7 3-.3 4 1.7 5-1.8 1.3 .1 4.7 1.6 6-1.4 8 1.5 2-.6 3.1-2.1zM183.1 -23l-14.1 1.3-9 1.4-10 2.7-8.9 3.6-2.1 1.5-.6 1.5 .8 1 2.8 1.2 10 1.5 27-1 18-1.9 8-.4 6 .5 8 1.9 21 3.2 14 .3 3-.4 2.5-.9 .1-1-1-1-2.6-1.6-9-2.9-10-1.2-6-.3-7-1.4-1.2-.6-1.1-3-1.3-1-8.4-2.6-15-1-13 .5zM130 -.1l3-.1 10 1.2 2 .7 3.3 2.3 .8 1 .5 2-.5 2-2.5 6 .1 2 1.3 1.4 2 1.3 5 .5 5 1.2 2 .7 1.9 1.9 .1 2-.6 2-3.4 5-5 2.5-6-.1-2 .4-5 2.6-4 1.1-2-.3-4-3.3-2-1-8-.9-6 1-5-1.6-4 .1-1.1-.5-1.1-2 .2-1.7 1-.2 4 .4 1-.6 .5-.9-.1-2-2.5-4-.2-1 .3-.7 1-.6 8-1.9 1-.8 .2-1-1.4-6 .8-3 1.5-2 3.9-3.1 3-1.4 2.3-.5zM132.3 2l-4.3 .7-2 .9-1.9 1.4-1.8 3 0 2 .7 1.2 2 1.4 3 1.4 7 .9 3-.4 4-1.2 3-2.3 1-2 .1-2-.4-1-1.7-1.8-2-1.1-2-.5-7-.6zM143.5 24l-1.4 1-1 2 .4 2 1.5 1.4 3 .9 4 0 3-1 1.2-1.3 .3-1-.5-2-2-1.7-5-.9-3 .4zM99.6 25l1.7 2-.2 1-2.1 .4 0-3.6z"/><path fill="#f8d099" stroke="#f8d099" fill-rule="evenodd" d="M184 -23.1l13-.5 15 1 8.4 2.6 1.3 1 1.1 3 1.2 .6 7 1.4 6 .3 10 1.2 9 2.9 2.6 1.6 1 1-.1 1-2.5 .9-3 .4-14-.3-21-3.2-8-1.9-6-.5-8 .4-18 1.9-27 1-10-1.5-2.8-1.2-.8-1 .6-1.5 2.1-1.5 8.9-3.6 10-2.7 9-1.4 14.1-1.3zM185.6 -22l-13.6 1.5-13 2.4-10 3.1-3.8 2-1.1 1-.2 1 1.3 1 5.8 1.4 11 .4 18-.9 24-2.5 7-.3 3 .3 6 2.1 19 3.2 4 .1 6-.6 1.3-.2 .5-1-3.9-2-3.9-1-7-1.1-13-1.1-4.2-.8-1.6-1-.4-3-.8-1-1.5-1-3.5-1.3-10-1-15 .3zM133 2l7 .6 2 .5 2 1.1 1.7 1.8 .4 1-.1 2-1 2-3 2.3-4 1.2-3 .4-7-.9-3-1.4-2-1.4-.7-1.2 0-2 1.8-3 1.9-1.4 2-.9 4.3-.7zM129.1 4l-3 2-1 2 .5 2 1.4 1.3 2 1.1 5 .7 4-.4 3.7-1.7 1.7-2 .1-2-.5-1-2-1.5-5-1.1-6 .3zM144 23.8l3-.4 5 .9 2 1.7 .5 2-.3 1-1.2 1.3-3 1-4 0-3-.9-1.5-1.4-.4-2 1-2 1.4-1zM144.9 26l-.8 1 0 1 1.9 1.4 2 .3 2-.4 1.6-1.3-.1-1-1.5-1.2-3-.4-2 .5z"/><path fill="#f2a673" stroke="#f2a673" fill-rule="evenodd" d="M186 -22l15-.3 10 1 3.5 1.3 1.5 1 .8 1 .4 3 1.6 1 4.2 .8 13 1.1 7 1.1 3.9 1 3.9 2-.5 1-1.3 .2-6 .6-4-.1-19-3.2-6-2.1-3-.3-7 .3-24 2.5-18 .9-11-.4-5.8-1.4-1.3-1 .2-1 1.1-1 3.8-2 10-3.1 13-2.4 13.6-1.5zM183.3 -21l-12.3 1.6-11 2.2-7.2 2.2-3.5 2-.7 1 .3 1 1.9 1 4.2 .7 9 .3 16-.7 28-3.4 4-1.5 1.1-1.4 .2-1-.3-1.1-2-1.6-6-1.4-9-.5-12 .5zM233.2 -10l.9 1 4.9 .9 1-.1 .9-.8-3.8-1-3.1-.1zM130 3.7l6-.3 5 1.1 2 1.5 .5 1-.1 2-1.7 2-3.7 1.7-4 .4-5-.7-2-1.1-1.4-1.3-.5-2 1-2 3-2zM130.4 5l-1.9 1-1.1 2 .8 2 1.8 1.1 3 .7 4-.3 2-.8 2-1.7 .4-1-.2-1-.8-1-1.4-.8-4-.7-4 .3zM145 25.9l2-.5 3 .4 1.5 1.2 .1 1-1.6 1.3-2 .4-2-.3-1.9-1.4 0-1 .8-1z"/><path fill="#e9735e" stroke="#e9735e" fill-rule="evenodd" d="M184 -21.1l12-.5 9 .5 6 1.4 2 1.6 .3 1.1-.2 1-1.1 1.4-4 1.5-28 3.4-16 .7-9-.3-4.2-.7-1.9-1-.3-1 .7-1 3.5-2 7.2-2.2 11-2.2 12.3-1.6zM180.7 -20l-10.7 1.6-10 2.2-5.8 2.2-1.3 1-.5 1 1.6 1.2 8 1 19-.5 18-2.1 6-1.1 4.2-1.5 .9-1 .3-1-.4-1-1.4-1-6.6-1.5-12-.3-9 .7zM234 -10.1l3.1 .1 3.8 1-.9 .8-1 .1-4.9-.9-.9-1zM131 4.8l4-.3 4 .7 1.4 .8 .8 1 .2 1-.4 1-2 1.7-2 .8-4 .3-3-.7-1.8-1.1-.8-2 1.1-2 1.9-1zM132 6l-1.9 1-.5 1 .4 1.1 2 1.1 3 .2 2-.4 1.5-1 .5-1-.4-1-2.1-1-4.5 0z"/><path fill="#e34349" stroke="#e34349" fill-rule="evenodd" d="M181 -20.1l9-.7 12 .3 6.6 1.5 1.4 1 .4 1-.3 1-.9 1-4.2 1.5-6 1.1-18 2.1-19 .5-8-1-1.6-1.2 .5-1 1.3-1 5.8-2.2 10-2.2 10.7-1.6zM185.9 -20l-10.9 1.5-7.8 1.5-7.1 2-2 1-1.1 1.1 .3 .9 .7 .3 5 1.1 18-.3 12-1.3 9-1.4 4.2-1.4 1.2-1 .2-1-.9-1-1.7-.8-4-1-7-.4-8 .2zM132 6l4.5 0 2.1 1 .4 1-.5 1-1.5 1-2 .4-3-.2-2-1.1-.4-1.1 .5-1 1.9-1z"/><path fill="#e03045" stroke="#e03045" fill-rule="evenodd" d="M186 -20l8-.2 7 .4 4 1 1.7 .8 .9 1-.2 1-1.2 1-4.2 1.4-9 1.4-12 1.3-18 .3-5-1.1-.7-.3-.3-.9 1.1-1.1 2-1 7.1-2 7.8-1.5 10.9-1.5zM182.2 -19l-11.2 2-3.8 1-4.9 2-.6 1 1.1 1 2.2 .4 16 .1 18-2.2 4.1-1.3 1.3-1 .1-1-1.2-1-3.3-1.1-9-.5-8 .5z"/><path fill="#df2035" stroke="#df2035" fill-rule="evenodd" d="M183 -19.1l8-.5 9 .5 3.3 1.1 1.2 1-.1 1-1.3 1-4.1 1.3-18 2.2-16-.1-2.2-.4-1.1-1 .6-1 4.9-2 3.8-1 11.2-2zM179.9 -18l-8.6 2-2.3 1-1 1 1.2 1 2.8 .6 9 .3 15.5-1.9 3.6-1 1.3-1-.1-1-1.7-1-4.6-.7-7-.2-8 .9z"/><path fill="#b7212b" stroke="#b7212b" fill-rule="evenodd" d="M180 -18l8-.9 7 .2 4.6 .7 1.7 1 .1 1-1.3 1-3.6 1-15.5 1.9-9-.3-2.8-.6-1.2-1 1-1 2.3-1 8.6-2z"/>
<use href="#land" fill="#787978" stroke="#787978" stroke-width="0.7"/>
</g>
<line x1="287.02" y1="714.84" x2="287.02" y2="910.06" stroke="#161616" stroke-width="5.2" stroke-dasharray="23.2 20.6" stroke-dashoffset="1.8"/>
<rect x="91.40" y="714.64" width="464.61" height="195.62" fill="none" stroke="#111" stroke-width="1.9"/>
<path d="M140.31,714.64v-4.6M140.31,910.26v4.6M238.12,714.64v-4.6M238.12,910.26v4.6M335.93,714.64v-4.6M335.93,910.26v4.6M433.74,714.64v-4.6M433.74,910.26v4.6M531.55,714.64v-4.6M531.55,910.26v4.6M91.40,739.09h-5.2M556.01,739.09h4.6M91.40,775.77h-5.2M556.01,775.77h4.6M91.40,812.45h-5.2M556.01,812.45h4.6M91.40,849.13h-5.2M556.01,849.13h4.6M91.40,885.81h-5.2M556.01,885.81h4.6" stroke="#111" stroke-width="1.3" fill="none"/>
<text x="77.00" y="753.29" font-size="34.5" text-anchor="end" fill="#000">30°N</text>
<text x="77.00" y="789.97" font-size="34.5" text-anchor="end" fill="#000">15°N</text>
<text x="77.00" y="826.65" font-size="34.5" text-anchor="end" fill="#000">0°</text>
<text x="77.00" y="863.33" font-size="34.5" text-anchor="end" fill="#000">15°S</text>
<text x="77.00" y="900.01" font-size="34.5" text-anchor="end" fill="#000">30°S</text>
<text x="444.45" y="899.70" font-size="34.3" font-weight="bold" fill="#000">Ishii</text>
<text x="75.60" y="711.90" font-size="30.2" font-weight="bold" text-anchor="end" fill="#000">G</text>
<g transform="matrix(2.4453,0,0,-2.4453,450.070,812.452)" clip-path="url(#pc)" stroke-width="0.3" stroke-linejoin="round">
<path fill="#343f93" stroke="#343f93" fill-rule="evenodd" d="M161 -6l14 0 13.5 1 5.5 1 2.8 1 1.4 1 .5 1-.1 1-1.9 2-5.2 3 1.1 1-.6 .4-3 .7-4 .3-20.1-.4-7.4-2-4.3-2-2.7-2-.4-1 2.1-2 5.6-3 3.2-1z"/><path fill="#394d9c" stroke="#394d9c" fill-rule="evenodd" d="M160 -6l6-.5 13.4 .5 10.6 .9 5.6 1.1 2.7 1 1.4 1 .6 1-.1 1-1.8 2-5.2 3 2.8 1.4 3 .3 32 .1 3 .2 2.6 1-28.6 .8-20-1.1-22-.4-6.8-1.3-4.7-2-4.6-3-.3-1 2.2-2 3.3-2 4.8-2zM161 -6l-3.2 1-5.6 3-2.1 2 .4 1 2.7 2 4.3 2 7.4 2 20.1 .4 4-.3 3-.7 .6-.4-1.1-1 5.2-3 1.9-2 .1-1-.5-1-1.4-1-2.8-1-5.5-1-13.5-1-14 0zM260 7l4 .1 1.9 .9-5.9 .8-7.6-.8 7.1-1zM241 14l3 .4 1 .6-.2 1-2.1 1-2.7 .2-1.6-.2-1.7-1 .5-1 3.7-1z"/><path fill="#325ea6" stroke="#325ea6" fill-rule="evenodd" d="M160 -6.2l7-.6 16.1 .8 8.9 .9 5.2 1.1 2.4 1 1.4 1 .6 1 0 1-.5 1-6.2 4 3.1 .9 23.9 .1 27.1 1.1 16-.6 3.5 .5 0 1-3.5 1.2-6 .6-11-1.3-43 .7-20-1.2-21-.7-2.2-.3-5.8-2-5.3-3-1.2-1-.4-1 3.9-3 6.3-3zM159.9 -6l-4.8 2-3.3 2-2.2 2 .3 1 4.6 3 4.7 2 6.8 1.3 22 .4 20 1.1 28.6-.8-2.6-1-3-.2-32-.1-3-.3-2.8-1.4 5.2-3 1.8-2 .1-1-.6-1-1.4-1-2.7-1-5.6-1.1-10.6-.9-13.4-.5-6 .5zM259.5 7l-7.1 1 7.6 .8 5.9-.8-1.9-.9-4-.1zM242 13l3 .1 2 .8 .6 1.1-.3 1-2.3 1.4-5 .7-4-.7-.9-.4-.9-1 .3-1 1.8-1 5.3-1zM240.9 14l-3.7 1-.5 1 1.7 1 1.6 .2 2.7-.2 2.1-1 .2-1-1-.6-3-.4z"/><path fill="#2373b3" stroke="#2373b3" fill-rule="evenodd" d="M165 -7l21 1 7 .7 5.6 1.3 3.6 2 .7 1 .1 1-1.7 2-3.8 2-1 1 2.5 .5 31 .4 19 .7 17-.8 3 .4 1.7 .8-.3 1-3.4 1.5-5 1.1-5 .4-2 0-1.8-1-2.2-.4-5-.4-38 .3-17-.5-7-.6-17-.6-5-.6-6.3-2.2-6.7-4-.3-1 1-1 5.3-3.3 4-1.8 5.4-.9zM159.3 -6l-6.3 3-3.9 3 .4 1 1.2 1 5.3 3 5.8 2 2.2 .3 21 .7 20 1.2 43-.7 11 1.3 6-.6 3.5-1.2 0-1-3.5-.5-16 .6-27.1-1.1-23.9-.1-3.1-.9 6.2-4 .5-1 0-1-.6-1-1.4-1-2.4-1-5.2-1.1-8.9-.9-16.1-.8-7 .6zM244 12l5 .5 .6 .5 .3 1-.5 2-1 1-2.4 1.1-6 .8-5.5-.9-1.8-1-.6-1 .2-1 2.7-1.6 4-.9 4.8-.5zM241.6 13l-5.3 1-1.8 1-.3 1 .9 1 .9 .4 4 .7 5-.7 2.3-1.4 .3-1-.6-1.1-2-.8-3-.1z"/><path fill="#28a0d5" stroke="#28a0d5" fill-rule="evenodd" d="M163 -7.1l6-.1 17 .9 9 1 4 .9 4 2 1.1 1.4 .1 1-1.5 2-3.9 2-.7 1 .9 .2 51 1.1 18-1.2 3 .7 1.5 1.2-.5 1.1-4 2-14 3-1.3 .9-2.1 3-2.6 1.5-5 1-6 0-5.3-1.5-1.4-1-.6-1 .3-1 1.1-1 2.9-1.3 10.1-1.7 3.7-1-9.8-.4-35 .1-37-1.7-5-.8-3-1-4.6-2.2-4.7-3-.3-1 4.6-3.3 6-3 3.3-.7zM164.4 -7l-5.4 .9-4 1.8-5.3 3.3-1 1 .3 1 6.7 4 6.3 2.2 5 .6 17 .6 7 .6 17 .5 38-.3 5 .4 2.2 .4 1.8 1 2 0 5-.4 5-1.1 3.4-1.5 .3-1-1.7-.8-3-.4-17 .8-19-.7-31-.4-2.5-.5 1-1 3.8-2 1.7-2-.1-1-.7-1-3.6-2-5.6-1.3-7-.7-21-1zM243.8 12l-4.8 .5-4 .9-2.7 1.6-.2 1 .6 1 1.8 1 5.5 .9 6-.8 2.4-1.1 1-1 .5-2-.3-1-.6-.5-5-.5z"/><path fill="#3bbee5" stroke="#3bbee5" fill-rule="evenodd" d="M162 -7.2l6-.2 20 1 9 .8 4 1.1 2 1 1.8 1.5 .7 2-1.4 2-3.9 2 .1 1 49.7 .9 18-1.6 4.4 .7 1.5 1 .6 1-.5 1-4 2.3-14.2 3.7-4.1 4-2.7 1.3-6 1-7 0-4-.8-3.6-1.5-1.3-1-.4-1 .3-1 2.8-2 3.2-1.1 4.9-.9 1.2-1-47.1-.3-26-1.5-5-.8-3.9-1.4-4-2-4.7-3-.4-1 3-2.3 5-2.9 5.2-1.8zM162.3 -7l-3.3 .7-6 3-4.6 3.3 .3 1 4.7 3 4.6 2.2 3 1 5 .8 37 1.7 35-.1 9.8 .4-3.7 1-10.1 1.7-2.9 1.3-1.1 1-.3 1 .6 1 1.4 1 5.3 1.5 6 0 5-1 2.6-1.5 2.1-3 1.3-.9 14-3 4-2 .5-1.1-1.5-1.2-3-.7-18 1.2-51-1.1-.9-.2 .7-1 3.9-2 1.5-2-.1-1-1.1-1.4-4-2-4-.9-9-1-17-.9-6 .1z"/><path fill="#80cbe3" stroke="#80cbe3" fill-rule="evenodd" d="M227 -29l4-.9 15 .3 2 .5 1.4 1.1 .5 1 0 1-1 1-2.9 .9-14 1.1-8-1.5-1.3-.5-1-1 .7-1 4.5-2zM161 -7.2l6-.4 20 .9 11 0 3 .6 4 2.7 1.7 2.4-.2 2-.8 1-3.9 2 2.2 .8 46 .7 5-.3 6-1.2 8-.6 3 .2 3 1 1.6 1.4 .2 1-.6 1-4.2 2.6-5 1.7-7.1 1.7-2.3 1-3.6 3.5-4 1.9-6 .9-11-.2-8-1.6-5-.4-4.4-1.1 1.4-.3 9-5.1 5.1-1.6-7.1-.6-18 .1-16-.6-25-1.6-5-1-3-1.1-4-2.1-4.9-3.1-.4-1 3.3-2.5 5-2.9 4.4-1.6zM161.2 -7l-5.2 1.8-5 2.9-3 2.3 .4 1 4.7 3 4 2 3.9 1.4 5 .8 26 1.5 47.1 .3-1.2 1-4.9 .9-3.2 1.1-2.8 2-.3 1 .4 1 1.3 1 3.6 1.5 4 .8 7 0 6-1 2.7-1.3 4.1-4 14.2-3.7 4-2.3 .5-1-.6-1-1.5-1-4.4-.7-18 1.6-49.7-.9-.1-1 3.9-2 1.4-2-.7-2-1.8-1.5-2-1-4-1.1-9-.8-20-1-6 .2z"/><path fill="#a8dbe9" stroke="#a8dbe9" fill-rule="evenodd" d="M227 -32.1l4-.6 6 .2 7-.3 5 .4 14 4.1 1.7 1.3 .1 1-.5 1-1.3 1-8 3.1-18 .7-5 .8-4-.3-3 .3-2-.4-8-3.1-1.9-2.1 .2-2 2.2-2 3.5-1.4 7.4-1.6zM226.9 -29l-4.5 2-.7 1 1 1 1.3 .5 8 1.5 14-1.1 2.9-.9 1-1 0-1-.5-1-1.4-1.1-2-.5-15-.3-4 .9zM194 -8.2l3-.5 5 .3 3 1.2 1.4 1.2 1.8 4 .5 2-1.1 2-3.6 2 26 .5 8 .5 12 0 10-2 11-.7 5 .6 3 1 1.2 1.1 .2 2-1.4 1.4-6 3.5-10.1 3.1-1.9 .9-5 4.3-5 2-14 .3-15 2.1-6 .1-5-.7-6 .6-9-1.4-3.9-1.2-1.7-1-2.4-2.3-2.2-.7-1.5-1 .4-1 1.8-2 2.5-1.4 2-.3 8 0 3.7-1.3-13.7-.2-3.7-.8-22.3-1.8-3-.7-5-2.1-7.2-4.4-.5-1 6.7-4.5 4-2 3-1 6-.3 22 .8 4.3-1zM160.4 -7l-4.4 1.6-5 2.9-3.3 2.5 .4 1 4.9 3.1 4 2.1 3 1.1 5 1 25 1.6 16 .6 18-.1 7.1 .6-5.1 1.6-9 5.1-1.4 .3 4.4 1.1 5 .4 8 1.6 11 .2 6-.9 4-1.9 3.6-3.5 2.3-1 7.1-1.7 5-1.7 4.2-2.6 .6-1-.2-1-1.6-1.4-3-1-3-.2-8 .6-6 1.2-5 .3-46-.7-2.2-.8 3.9-2 .8-1 .2-2-1.7-2.4-4-2.7-3-.6-11 0-20-.9-6 .4z"/><path fill="#c4e8f7" stroke="#c4e8f7" fill-rule="evenodd" d="M228 -34l3-.5 6 .2 5-.7 9 .5 13 2.9 6 .6 5.5 3 .2 1-1.7 2-5 3-3 1-13 2.7-15 0-6 1.2-8-.2-5-1.6-5 0-3-1.8-2-1.8-1-1.5-.1-2 .6-1 4.5-3.2 6-2.2 8.8-1.6zM226.4 -32l-7.4 1.6-3.5 1.4-2.2 2-.2 2 1.9 2.1 8 3.1 2 .4 3-.3 4 .3 5-.8 18-.7 8-3.1 1.3-1 .5-1-.1-1-1.7-1.3-14-4.1-5-.4-7 .3-6-.2-4 .6zM193 -9.1l3-.8 6 .1 3 1 2.7 1.8 2 3 .8 4-1 2-2.7 2 35.2 .6 10-.5 8-2 15-.4 5 .4 2.6 .9 1 2-.1 2-.5 1-1.2 1-6.1 3-2.7 1.8-6.4 2.2-5.6 4.7-6 3.2-2 .5-10-1.3-6 .2-4 1.1-7 3.9-2 .5-12-2.2-6 1.2-5-1.5-17-3.5-6.4-3.8-1-1-.8-2 .4-2 .8-1 2-1.3 2.8-.7-1.8-.4-.7-.6-7.2-1-8.1-.4-4-1-7-3.2-5.4-3.4-.5-1 6.9-4.6 4-2.1 3-.9 6-.3 19 .6 3-.3 3.7-1.4zM193.3 -8l-4.3 1-22-.8-6 .3-3 1-4 2-6.7 4.5 .5 1 7.2 4.4 5 2.1 3 .7 22.3 1.8 3.7 .8 13.7 .2-3.7 1.3-8 0-2 .3-2.5 1.4-1.8 2-.4 1 1.5 1 2.2 .7 2.4 2.3 1.7 1 3.9 1.2 9 1.4 6-.6 5 .7 6-.1 15-2.1 14-.3 5-2 5-4.3 1.9-.9 10.1-3.1 6-3.5 1.4-1.4-.2-2-1.2-1.1-3-1-5-.6-11 .7-10 2-12 0-8-.5-26-.5 3.6-2 1.1-2-.5-2-1.8-4-1.4-1.2-3-1.2-5-.3-3 .5z"/><path fill="#fcf0dc" stroke="#fcf0dc" fill-rule="evenodd" d="M134 -40.1l1-.4 6-.3 6 1.7 9-1.3 7 1 2.9-.6 2.5-1 4.2 0 6.4 1.1 5 0 4 .5 4-.5 2.7-1.1 12.5 0 1.8 1 .7 1 .8 3-.6 2-1.9 2-6.4 4-1.8 3-.2 2 1.5 8-.3 1-2.2 1-4.6 1.1-8 4-7 .2-13-.6-6 .6-5 2.2-8.4 5.5 .6 1 3.8 2.4 8 4.1 4 1.2 8.8 1.3-.9 1-3 2-3.9 3.9-1 .5-3.4 .6 3.9 2 11.5 4.1 9.3 4.9 1.2 1 .8 2-.4 4-1.2 2-3.6 3-11.9 0-3.2-.9-2.6 .9-43.9 0-2.5-1.4-5 .1-5-1.4-2 .3-3 1.9-3-.5 0-5.5 1-.3 1-1.1 .6-2.1-.8-2-1.8-.7 0-27.2 .2 .9 .8 .7 3 1.6 1.7 1.7 2.2 4 .6 4 .5 1.2 2 1.4 4.6 1.4 .4 .5 1.1 .5-4.1 .5-1.6 1.5-.8 2-.1 5 .5 1.4 1 1 4 .5 4 3.9 2 .3 3-.8 2 0 5 2.4 2 .4 5-1.5 4 .9 10 1.2 9 .5 6-1 5 0 3-1 2-2.2 .7-2-.3-2-1.9-2-11.5-4.3-4-.9-4-.3-1.1-.5-1.6-2 0-2 2.1-2 2.2-1 5.4-1.3 4.3-3.7-2.5-1-3.8-.7-5-2-8-4.6-1.7-1.7 3.7-2.7 9-5.1 5-.8 12 .7 8-.1 5.3-3 3.9-3 1.2-2 .1-3-1.5-6 .3-2 9.5-6 1.3-2-.3-1-1-1-2.8-1-5 2-4-.1-4 .7-5-1-5-.3-4.8-1.3-2.2-.2-8 1.5-6-.6-7 1.7-7 .2-3.1 1.4-.9 1.1 0 1.9 3.2 2 1.8 1.6 4 .7 6 2.6 1.2 3.1-.1 1-.7 1-1.4 .6-2 .2-6-.7-5 .2-8-1-6-1.9-6 1.1-6-.2-2 .3-8 2.9-4 2.8 0-3.3 2.8-2 2.2-2.7 4-3.8 3-.2 2-.7 2-1.5 .7-1.1 .3-1-.2-1-.8-.4-1 .2-5 4-1 .1-.7-1.9 0-1 .7-2 1-1 2-.8 4-.6 3-1.7 2-.7 6 1.2 2-.2 3-1.3 2.8-1.9zM237 -15.1l8 .3 10-.4 5 .3 6-.5 5 .9 5-.4 5 1.6 5-.4 5 2.1 0 4.1-3 1.6-5.5 3.9-3.5 1.5-4 .8-12 .6-8-.7-4.5-1.2-3.5-.4-9 1.3-20-2.4-3-1.7-2.1-1.8-2.2-3-1.3-3 8.6-2.1 8 .1 10.3-1zM228.5 -13l-11.5 1.4-2.5 1.6-.3 1 .2 1 .6 1 2 1.6 4 1.4 16 2 8-.8 6 .1 9 2.4 4 .6 7-.1 5-.9 3.1-1.3 1.2-1 .9-2-.2-2.4-4.7-3.6-2.3-.8-4-.1-16-1.7-9 .1-7-.4-9 .8zM99.5 -9l2.7 3 .4 2-.6 1.6-2.6 2.4-.4 .9 0-10.4zM282 13.9l4-.4 5 1 0 2-3-1.1-3-.3-3 .4-2 .7-2.5 1.8-2.1 4-5.4 1.3-3.4 1.7-.9 1-.3 1 .2 1 1.4 1.4 2 .9 4 .7 5-.6 5-2.6 6-1.2 2-.8 0 2.7-8 1.1-5 1.9-3 .3-5-.4-3-1.1-1.9-1.3-.9-2 1-2 2.8-1.8 5.4-2.2 1.9-3 1.7-1.8 2-1.3 2.8-.9zM236 24.9l2-.5 3-.2 4.4 .8 2.8 2 .5 1-.2 2-1.5 2.2-2 1.1-5 .7-4-.6-3-2-.8-1.4 0-1 .9-2 2.7-2zM238.6 25l-2.8 1-1.7 2 .2 2 .9 1 2.8 1.2 3 .2 3-.6 1.5-.8 .9-1 .3-2-1.6-2-2.8-1-3.3-.1zM196 34l3-.3 .4 .3-.1 1-4.3 2.7-2 1.8-1-1 0-2.5 1-1.2 2.7-.8z"/><path fill="#fce4bc" stroke="#fce4bc" fill-rule="evenodd" d="M169 -38.1l3 .1 5 1.3 5 .3 5 1 4-.7 4 .1 5-2 2.8 1 1 1 .3 1-1.3 2-9.5 6-.3 2 1.5 6-.1 3-1.2 2-3.9 3-5.3 3-8 .1-12-.7-5 .8-9 5.1-3.7 2.7 1.7 1.7 8 4.6 5 2 3.8 .7 2.5 1-4.3 3.7-5.4 1.3-2.2 1-2.1 2 0 2 1.6 2 1.1 .5 4 .3 4 .9 11.5 4.3 1.2 1 1 2-.3 2-1.4 2.3-1 .9-2 .9-6 .1-6 1-9-.5-10-1.2-4-.9-5 1.5-2-.4-5-2.4-6.3 .7-1.7-1-3-3.1-3-.3-1.5-.6-1-2 .4-6 2.1-2.5 4.1-.5-1.1-.5-.4-.5-4.6-1.4-2-1.4-.5-1.2-.6-4-2.2-4-1.7-1.7-2.6-1.3-1.2-1-.2-1.1 .4-.9 2.6-2.4 .6-1.6-.4-2-.6-1-2.6-2.5 0-5.2 4-2.8 8-2.9 2-.3 7 .1 4-1 1 0 6 1.9 8 1 5-.2 5 .7 3-.2 1.4-.6 .7-1-.1-2-.9-2-1.5-1-4.6-1.7-4-.7-1.8-1.6-2.2-1.1-1-.9-.2-1 .2-1 .9-1 1.8-1 2.3-.6 6 0 7-1.7 6 .6 6.5-1.3zM172.7 -25l-5.7 3.1-3.4 3.9-1 2-.4 2 .3 1 1.7 2 2.9 2 11.9 .9 4-.9 4.3-3 1.4-2 .3-2-.4-2-1.6-2.5-5-3.6-7-1.1-2 .1zM112.8 -18l-3.8 .8-5 2-1.5 1.2-.4 1 0 1 1.9 2.2 5 2.5 8 1.8 5-.5 2.1 1 .2 2-.9 2-1.3 1-3.1 1-1.5 1-2.1 3-.8 2 0 2 1 2 2 2 2.4 1.5 7 2.4 9 .4 9-1.1 7-1.5 8-3.2 1.9-1.5 0-1-1.9-.5-6-2.9-9-5.3-5-2.3-1.1-1 .1-1 .7-1 1.3-.5 8 1 2-.4 2.5-1.1 2-2 .9-2 0-2-1.4-1.6-4-1.3-4 0-4.2 1.9-4.8 4.5-4 0-1.2-.5-.4-2-.9-2-2.1-2-1.8-1-6.6-1.8-8-.2zM149.6 27l-2.5 1-1.2 1-.5 1 .1 1 .7 1 1.5 1 4.3 1.6 5 .5 6 .2 5-1.3 2-1 1-1 0-1-.7-1-3.3-2.2-3-1.2-5-.5-9 .8zM229 -13.1l9-.8 7 .4 9-.1 16 1.7 4 .1 2.3 .8 4.7 3.6 .2 2.4-.9 2-1.2 1-3.1 1.3-5 .9-7 .1-4-.6-9-2.4-6-.1-8 .8-16-2-4-1.4-2-1.6-.6-1-.2-1 .3-1 2.5-1.6 11.5-1.4zM232.9 -12l-4.9 .6-4 1-2.8 1.4-.4 1 .9 1 4.3 1.6 3 .7 7 .7 20-.8 3.5 2.8 2.5 1 3 .5 7-.3 3.5-1.2 1.1-1-.1-1-.9-1-2.6-1.5-17.7-4.5-15.3-1.3-7 .3zM281 15.8l2-.5 3-.2 3 .6 2 .8 0 9.3-2 .8-6 1.2-4 2.2-3 .8-6-.2-3.5-1.6-.9-1-.2-1 1.2-2 3.4-1.7 5.4-1.3 2.1-4 3-2zM281.5 18l-1.9 2-.6 3-1 .4-6 .3-3 .9-1.8 1.4-.4 1 .3 1 1.9 1.4 3 .8 5-.5 2.8-1.7 2.2-2.8 5.9-1.2 1.5-1 .7-1 0-2-.7-1-1.4-1-3-.8-3 .6zM239 24.9l3.3 .1 2.8 1 1.6 2-.3 2-.9 1-1.5 .8-3 .6-3-.2-2.8-1.2-.9-1-.2-2 1.7-2 2.8-1zM237.6 27l-.8 1 .1 1 1.1 1 1 .3 3 0 1.8-1.3 .1-1-.8-1-1.1-.5-2-.2-2 .5zM100 28.4l1.4 1.6 .1 2-1.3 2-1.2 .5 0-6.2z"/><path fill="#f8d099" stroke="#f8d099" fill-rule="evenodd" d="M173 -25.1l2-.1 7 1.1 5 3.6 1.6 2.5 .4 2-.3 2-1.4 2-4.3 3-4 .9-11.9-.9-2.9-2-1.7-2-.3-1 .4-2 1-2 3.4-3.9 5.7-3.1zM172.7 -21l-2.7 .7-2 1-1.5 1.3-1.2 2 .2 3 2.5 2.7 3.5 1.3 7.5 .2 4-1.3 2-1.5 1.2-1.4 .5-1 0-2-1.1-2-1.6-1.3-2-1.1-3-.7-3-.3-3 .3zM113 -18l8 .2 6.6 1.8 1.8 1 2.1 2 .9 2 .4 2 1.2 .5 4 0 4.8-4.5 4.2-1.9 4 0 4 1.3 1.4 1.6 0 2-.9 2-2 2-2.5 1.1-2 .4-8-1-1.3 .5-.7 1-.1 1 1.1 1 5 2.3 9 5.3 6 2.9 1.9 .5 0 1-1.9 1.5-8 3.2-7 1.5-9 1.1-9-.4-7-2.4-2.4-1.5-2-2-1-2 0-2 .8-2 2.1-3 1.5-1 3.1-1 1.3-1 .9-2-.2-2-2.1-1-5 .5-8-1.8-5-2.5-1.9-2.2 0-1 .4-1 1.5-1.2 5-2 3.8-.8zM110.2 -16l-3.2 1.4-1.5 1.6 .1 1 .8 1 3.6 1.7 5 .7 4-.2 5-1.2 1.6-1 .7-1 .1-1-.6-1-1.5-1-3.3-1.2-5-.6-5 .6zM146.5 -13l-2.6 2-.3 2 .7 1 1.7 1 3 .6 2-.4 2-1.2 1-2-.8-2-1.2-.8-2-.7-3 .3zM127.3 2l-6.9 3-1 1-1 2 .3 2 1.5 2 2.8 1.6 3 .9 4 .7 4 .2 10-.8 9-2.2 2.5-1.4 2-2-.2-1-1.2-1-4-2-5.1-1.6-5-1.1-9-1-5 .4zM233 -12l7-.3 15.3 1.3 17.7 4.5 2.6 1.5 .9 1 .1 1-1.1 1-3.5 1.2-7 .3-3-.5-2.5-1-3.5-2.8-20 .8-7-.7-3-.7-4.3-1.6-.9-1 .4-1 2.8-1.4 4-1 4.9-.6zM235.6 -11l-7.2 1-2.1 1-.3 1 1.1 1 2.9 .9 8 .8 10-.9 3-.8 1.3-1-.5-1-2.8-1-9-1.1-4 .1zM261.7 -5l-.9 1 .1 1 1.4 1 2.7 .6 6-.1 1.8-.5 1.3-1-.2-1-.9-.6-3-1-5-.2-3 .7zM282 17.8l3-.6 3 .8 1.4 1 .7 1 0 2-.7 1-1.5 1-5.9 1.2-2.2 2.8-2.8 1.7-5 .5-3-.8-1.9-1.4-.3-1 .4-1 1.8-1.4 3-.9 6-.3 1-.4 .6-3 1.9-2zM283.9 20l-.7 1 .8 .7 1 0 .8-.7-.7-1-1.1 0zM269.7 25l-1.4 1-.4 1 .4 1 .7 .6 2 .8 3 .2 2-.3 2.4-1.3 .6-1 0-1-2-1.4-4-.4-3 .7zM150 26.9l9-.8 5 .5 3 1.2 3.3 2.2 .7 1 0 1-1 1-2 1-5 1.3-6-.2-5-.5-4.3-1.6-1.5-1-.7-1-.1-1 .5-1 1.2-1 2.5-1zM158 28l-4.7 1-1.5 1-.2 1 .9 1 1.5 .6 5 .9 4-.1 1.6-.4 1.6-1 .4-1-.4-1-1.3-1-2.9-.9-3-.2zM238 26.8l2-.5 2 .2 1.1 .5 .8 1-.1 1-1.8 1.3-3 0-1-.3-1.1-1-.1-1 .8-1z"/><path fill="#f2a673" stroke="#f2a673" fill-rule="evenodd" d="M173 -21.1l3-.3 3 .3 3 .7 2 1.1 1.6 1.3 1.1 2 0 2-.5 1-1.2 1.4-2 1.5-4 1.3-7.5-.2-3.5-1.3-2.5-2.7-.2-3 1.2-2 1.5-1.3 2-1 2.7-.7zM172.9 -20l-3.9 1.5-2.2 2.5-.2 2 .4 1 2 2.1 4 1.4 5 .2 4-1.2 2.9-2.5 .4-1-.1-2-.5-1-1.7-1.6-2-1-3-.6-5 .2zM111 -16.2l5-.6 5 .6 3.3 1.2 1.5 1 .6 1-.1 1-.7 1-1.6 1-5 1.2-4 .2-5-.7-3.6-1.7-.8-1-.1-1 1.5-1.6 3.2-1.4zM111.5 -15l-2.1 1-.8 1 .4 1.2 1.1 .8 1.9 .6 4 .3 3-.4 3-1.2 .7-1.3-.7-1-3-1.3-3-.3-4 .5zM147 -13.2l3-.3 2 .7 1.2 .8 .8 2-1 2-2 1.2-2 .4-3-.6-1.7-1-.7-1 .3-2 2.6-2zM147.9 -12l-1.6 1-.5 1 .4 1 1.7 1 1.1 .1 1-.2 1.5-.9 .4-1-.9-1.5-1-.5-2 0zM236 -11l4-.1 9 1.1 2.8 1 .5 1-1.3 1-3 .8-10 .9-8-.8-2.9-.9-1.1-1 .3-1 2.1-1 7.2-1zM232.4 -9l-.8 1 5.4 1.2 3.7-.2 4.6-1-1.2-1-5.1-.8-6 .7zM262 -5.1l3-.7 5 .2 3 1 .9 .6 .2 1-1.3 1-1.8 .5-6 .1-2.7-.6-1.4-1-.1-1 .9-1zM263.8 -4l-.2 1 3 1 2.5 0 2.6-1-.5-1-2.2-.6-3 0-2 .5zM128 1.7l5-.4 9 1 5 1.1 5.1 1.6 4 2 1.2 1 .2 1-2 2-2.5 1.4-9 2.2-10 .8-4-.2-4-.7-3-.9-2.8-1.6-1.5-2-.3-2 1-2 1-1 6.9-3zM127 4l-4.3 2-1.1 1-.7 2 1 2 1.1 .9 5 1.7 8 .5 8-.7 7-2.1 1.8-1.3 .5-1-.3-1-2-1.4-3-1.3-4-1-12-1.2-3 .3-2 .6zM284 20l1.1 0 .7 1-.8 .7-1 0-.8-.7 .7-1zM270 24.9l3-.7 4 .4 2 1.4 0 1-.6 1-2.4 1.3-2 .3-3-.2-2-.8-.7-.6-.4-1 .4-1 1.4-1zM271.3 25l-2 1-.5 1 .5 1 1.7 .9 2 .3 2-.2 2.2-1 .6-1-.2-1-1.6-.9-4-.3zM159 27.9l3 .2 2.9 .9 1.3 1 .4 1-.4 1-1.6 1-1.6 .4-4 .1-5-.9-1.5-.6-.9-1 .2-1 1.5-1 4.7-1zM159.5 31l1.1 0-.6-.1z"/><path fill="#e9735e" stroke="#e9735e" fill-rule="evenodd" d="M173 -20l5-.2 3 .6 2 1 1.7 1.6 .5 1 .1 2-.4 1-2.9 2.5-4 1.2-5-.2-4-1.4-2-2.1-.4-1 .2-2 2.2-2.5 3.9-1.5zM172 -19l-3 1.6-1.3 2.4 .4 2 2.3 2 3.6 1 4 .1 3.5-1.1 2.3-2 .5-1-.2-2-2.1-2.2-4-1.3-5 .2zM112 -15.1l4-.5 3 .3 3 1.3 .7 1-.7 1.3-3 1.2-3 .4-4-.3-1.9-.6-1.1-.8-.4-1.2 .8-1 2.1-1zM114.5 -14l-2.3 1 .9 1 1.9 .2 2.5-.2 1.3-1-1.7-1-2.1-.1zM148 -12l2 0 1 .5 .9 1.5-.4 1-1.5 .9-1 .2-1.1-.1-1.7-1-.4-1 .5-1 1.6-1zM233 -9.1l6-.7 5.1 .8 1.2 1-4.6 1-3.7 .2-5.4-1.2 .8-1zM264 -4.1l2-.5 3 0 2.2 .6 .5 1-2.6 1-2.5 0-3-1 .2-1zM127 4l2-.6 3-.3 12 1.2 4 1 3 1.3 2 1.4 .3 1-.5 1-1.8 1.3-7 2.1-8 .7-8-.5-5-1.7-1.1-.9-1-2 .7-2 1.1-1 4.3-2zM128.2 5l-3.9 2-.8 1-.3 1 .3 1 1 1 4.5 1.6 6 .4 8-.6 4.3-1.4 1.7-1 .6-1-.4-1-1.3-1-4.9-1.6-10-1-4 .4zM272 24.8l4 .3 1.6 .9 .2 1-.6 1-2.2 1-2 .2-2-.3-1.7-.9-.5-1 .5-1 2-1zM270.4 26l-.7 1 .3 .5 .4 .5 1.6 .6 3-.2 1-.4 .8-1-.5-1-1.3-.6-2-.2-2 .5zM160 30.9l.6 .1-1.1 0z"/><path fill="#e34349" stroke="#e34349" fill-rule="evenodd" d="M173 -19.3l5-.2 4 1.3 2.1 2.2 .2 2-.5 1-2.3 2-3.5 1.1-4-.1-3.6-1-2.3-2-.4-2 1.3-2.4 3-1.6zM171.4 -18l-2.3 2-.3 2 1.4 2 2.1 1 3.7 .6 3-.3 2.7-1.3 1.5-2-.2-2-1-1.2-2-1.1-4-.6-4 .6zM115 -14.1l2.1 .1 1.7 1-1.3 1-2.5 .2-1.9-.2-.9-1 2.3-1zM129 4.8l4-.4 10 1 4.9 1.6 1.3 1 .4 1-.6 1-1.7 1-4.3 1.4-8 .6-6-.4-4.5-1.6-1-1-.3-1 .3-1 .8-1 3.9-2zM129.4 6l-2.4 1-1.1 1-.3 1 .5 1 1.6 1 3.3 .8 5 .2 6-.7 3.3-1.3 .7-1-1-1.4-3-1-8-.9-4 .1zM271 25.7l2-.5 2 .2 1.3 .6 .5 1-.8 1-1 .4-3 .2-1.6-.6-.4-.5-.3-.5 .7-1zM271.7 26l-1 1 1.3 1 2.4 0 1.3-1-.9-1-2.8-.1z"/><path fill="#e03045" stroke="#e03045" fill-rule="evenodd" d="M172 -18.3l4-.6 4 .6 2 1.1 1 1.2 .2 2-1.5 2-2.7 1.3-3 .3-3.7-.6-2.1-1-1.4-2 .3-2 2.3-2zM173.5 -18l-2.3 1-1.4 2 .7 2 1.5 1.1 3 .8 3-.1 2.3-.8 1.9-2-.3-2-1.9-1.5-3-.8-3 .2zM130 5.8l4-.1 8 .9 3 1 1 1.4-.7 1-3.3 1.3-6 .7-5-.2-3.3-.8-1.6-1-.5-1 .3-1 1.1-1 2.4-1zM131.8 7l-2.8 1-.4 1 1.4 1.2 3 .5 6.5-.7 1.7-1-1.5-1-4.7-.9-3-.1zM272 25.9l2.8 .1 .9 1-1.3 1-2.4 0-1.3-1 1-1zM272.3 27l1.8 0-1.1-.3z"/><path fill="#df2035" stroke="#df2035" fill-rule="evenodd" d="M174 -18.1l3-.2 3 .8 1.9 1.5 .3 2-1.9 2-2.3 .8-3 .1-3-.8-1.5-1.1-.7-2 1.4-2 2.3-1zM173 -17l-1.4 1-.5 1 .1 1 .8 1 2 1 4.2 0 2-1 .8-1 .1-1-.5-1-1.6-1.1-3-.4-3 .5zM132 7l3 .1 4.7 .9 1.5 1-1.7 1-6.5 .7-3-.5-1.4-1.2 .4-1 2.8-1zM273 26.7l1.1 .3-1.8 0z"/><path fill="#b7212b" stroke="#b7212b" fill-rule="evenodd" d="M173 -17l3-.5 3 .4 1.6 1.1 .5 1-.1 1-.8 1-2 1-4.2 0-2-1-.8-1-.1-1 .5-1 1.4-1z"/>
<use href="#land" fill="#787978" stroke="#787978" stroke-width="0.7"/>
</g>
<line x1="890.22" y1="714.84" x2="890.22" y2="910.06" stroke="#161616" stroke-width="5.2" stroke-dasharray="23.2 20.6" stroke-dashoffset="1.8"/>
<rect x="694.60" y="714.64" width="464.61" height="195.62" fill="none" stroke="#111" stroke-width="1.9"/>
<path d="M743.51,714.64v-4.6M743.51,910.26v4.6M841.32,714.64v-4.6M841.32,910.26v4.6M939.13,714.64v-4.6M939.13,910.26v4.6M1036.94,714.64v-4.6M1036.94,910.26v4.6M1134.75,714.64v-4.6M1134.75,910.26v4.6M694.60,739.09h-5.2M1159.21,739.09h4.6M694.60,775.77h-5.2M1159.21,775.77h4.6M694.60,812.45h-5.2M1159.21,812.45h4.6M694.60,849.13h-5.2M1159.21,849.13h4.6M694.60,885.81h-5.2M1159.21,885.81h4.6" stroke="#111" stroke-width="1.3" fill="none"/>
<text x="680.20" y="753.29" font-size="34.5" text-anchor="end" fill="#000">30°N</text>
<text x="680.20" y="789.97" font-size="34.5" text-anchor="end" fill="#000">15°N</text>
<text x="680.20" y="826.65" font-size="34.5" text-anchor="end" fill="#000">0°</text>
<text x="680.20" y="863.33" font-size="34.5" text-anchor="end" fill="#000">15°S</text>
<text x="680.20" y="900.01" font-size="34.5" text-anchor="end" fill="#000">30°S</text>
<text x="1051.20" y="899.50" font-size="34.3" font-weight="bold" fill="#000">Ishii</text>
<text x="675.60" y="711.90" font-size="30.2" font-weight="bold" text-anchor="end" fill="#000">H</text>
<g transform="matrix(2.4453,0,0,-2.4453,-153.130,1038.232)" clip-path="url(#pc)" stroke-width="0.3" stroke-linejoin="round">
<path fill="#343f93" stroke="#343f93" fill-rule="evenodd" d="M173 -5l12-.3 7 .3 6 .8 6.8 1.2 2.8 1 1.4 1 .1 1-1.3 4-.9 1-1.9 .7-5 .8-13 .7-23-.3-8.5-1.9-10.8-4 .9-1 10.5-3 16.7-2z"/><path fill="#394d9c" stroke="#394d9c" fill-rule="evenodd" d="M170 -5l15-.5 9.5 .5 7.3 1 5.4 1 3.1 1 1.2 1 .1 3-1.1 2-1.6 1-4.9 1.5-16 .9-15 0-8-.2-6-1-15.2-5.2 1-1 9.9-3 14.4-2zM172.8 -5l-16.7 2-10.5 3-.9 1 10.8 4 8.5 1.9 23 .3 13-.7 5-.8 1.9-.7 .9-1 1.3-4-.1-1-1.4-1-2.8-1-6.8-1.2-6-.8-7-.3-12 .3z"/><path fill="#325ea6" stroke="#325ea6" fill-rule="evenodd" d="M165 -5l19-.7 12.7 .7 7.8 1 8.1 2 2.2 2 .1 1-2.9 3.4-2 1.1-4 1.1-5 .6-14 .4-24-.4-8.8-2.2-11.1-4 1-1 9.6-3 11.2-2zM169.1 -5l-14.4 2-9.9 3-1 1 15.2 5.2 6 1 8 .2 15 0 16-.9 4.9-1.5 1.6-1 1.1-2-.1-3-1.2-1-3.1-1-5.4-1-7.3-1-9.5-.5-15 .5zM275 6.9l1 .2 .9 .9-.6 1-1.3 .3-1.6-.3-.4-1 1.4-1z"/><path fill="#2373b3" stroke="#2373b3" fill-rule="evenodd" d="M163 -5l21-.9 13 .7 14.5 2.2 2.6 1 3.3 2-.2 1-5.7 5 1.7 1-3.2 .7-3-.3-6 .5-4-.4-9 .3-24-.3-6-1.2-15.6-5.3 1.1-1 9.5-3 9.9-2zM164.9 -5l-11.2 2-9.6 3-1 1 11.1 4 8.8 2.2 24 .4 14-.4 5-.6 4-1.1 2-1.1 2.9-3.4-.1-1-2.2-2-8.1-2-7.8-1-12.7-.7-19 .7zM272 7l2-.8 2 0 1.7 .8 .5 1-.3 1-1.1 1-4.8 .7-.9-.7-.2-1 .2-1 .8-1zM274.4 7l-1.4 1 .4 1 1.6 .3 1.3-.3 .6-1-.9-.9-1-.2zM238 16.8l.4 .2-.9 0z"/><path fill="#28a0d5" stroke="#28a0d5" fill-rule="evenodd" d="M182 -6l15 .6 9 1 7 1.3 5.6 2.1 .9 1-.5 1.3-3.9 2.7-.8 1 .6 1 2.1 .5 4 0 2.9 .5-1.4 1-1.5 .3-4-.2-7 .4-9 0-4-.7-32 0-4-.5-4-1-10-3.8-5.4-1.5 1.2-1 9.6-3 9-2 19.9-1zM162.9 -5l-9.9 2-9.5 3-1.1 1 15.6 5.3 6 1.2 24 .3 9-.3 4 .4 6-.5 3 .3 3.2-.7-1.7-1 5.7-5 .2-1-3.3-2-2.6-1-14.5-2.2-13-.7-21 .9zM272 6l3-.7 2.8 .7 1.2 1 .3 1-.3 1-2 2-3 .8-2.6 1.2-5.4 3.3-2.9-.3 .5-1 1.4-.7 3.7-3.3 1-3 2.3-2zM271.9 7l-.8 1-.2 1 .2 1 .9 .7 4.8-.7 1.1-1 .3-1-.5-1-1.7-.8-2 0-2 .8zM155 12.9l4 .8 5.1-.7 2.7 1 .8 1-6.4 1-3.2-.5-3 .6-2.9-1.1-.2-1 2.6-1zM233 15.8l7-.6 1.6 .8 0 1-2.6 1.4-2 .2-4-.6-1.3-1 .8-1zM237.5 17l.9 0-.4-.2zM218 22.9l2-.5 4 .2 1.5 .4 .7 1-1 1-1.2 .4-4.9-.4-1.7-1 .5-1z"/><path fill="#3bbee5" stroke="#3bbee5" fill-rule="evenodd" d="M221 -29.2l9 .3 1.8 .9 .1 1-.9 1-1.9 1-2.1 0-4-1.4-3-.2-.5-.4 0-1 1.1-1zM174 -6l11-.2 12 .6 16 2.1 6 1.9 1.2 .6 .7 1-.2 1-.7 .8-3.6 2.2-.4 1.1 2 .6 4 .1 5 .9 4.7 .3 1.7 1-2.4 .4-4-.2-7 .9-6-.3-13 .3-4-.8-9 .3-6-.6-9 .3-3-.3-4 .2-6-.8-7-2.2-6-2.5-6.3-1.7 1.4-1 13.9-4.1 7-1.2 10.7-.7zM181.3 -6l-19.9 1-9 2-9.6 3-1.2 1 5.4 1.5 10 3.8 4 1 4 .5 32 0 4 .7 9 0 7-.4 4 .2 1.5-.3 1.4-1-2.9-.5-4 0-2.1-.5-.6-1 .8-1 3.9-2.7 .5-1.3-.9-1-5.6-2.1-7-1.3-9-1-15-.6zM273 4.9l2-.3 2 .3 2 .8 1 .9 .3 1.4-.3 1-2 2.6-3.4 1.4-8.6 5.3-6 2.3-4 2.2-3 0-1.3-.8-.7-1.4-1.9-1.6 4.9-1.1 5.8-3.9 4.2-1.7 6-5.9 2.7-1.4zM272 6l-2.3 2-1 3-3.7 3.3-1.4 .7-.5 1 2.9 .3 5.4-3.3 2.6-1.2 3-.8 2-2 .3-1-.3-1-1.2-1-2.8-.7-3 .7zM155 11.9l4 .3 7-.6 3 1.6 3 .7 .3 1.1-.8 1-2.5 .7-14 .4-3.6-1.1-1.8-1-.5-1 .6-1 1.3-.5 3.4-.5zM154.5 13l-2.6 1 .2 1 2.9 1.1 3-.6 3.2 .5 6.4-1-.8-1-2.7-1-5.1 .7-4-.8zM231 14.9l2-.4 8-.1 2 .7 1 .9 .2 1-1.2 1.6-3 .9-10 .2-2-1.3-.8-1.4 .8-1.3 2.3-.7zM232.5 16l-.8 1 1.3 1 4 .6 2-.2 2.6-1.4 0-1-1.6-.8-7 .6zM219 20.9l6 .3 2 .5 2 1 .3 1.3-4.3 2.6-5-.5-4 .4-1-.5-1-1-.3-1 5.1-3zM217.9 23l-.5 1 1.7 1 4.9 .4 1.2-.4 1-1-.7-1-1.5-.4-4-.2-2 .5z"/><path fill="#80cbe3" stroke="#80cbe3" fill-rule="evenodd" d="M184 -38.1l.6 .1 .4 1-1.1 0 0-1zM220 -30.3l5-.6 7.9 .9 1.9 1 4.2 3.8 2-.3 1.2 .5 2.6 3-.5 1-1.3 .7-2 .3-1-.6-3 0-1-.6-3-3.4-5 1-4-1.3-4-.4-1.7-.7-1.2-2 .2-1 1.8-1zM220.6 -29l-1.1 1 0 1 .5 .4 3 .2 4 1.4 2.1 0 1.9-1 .9-1-.1-1-1.8-.9-9-.3zM248 -26l1.5 0 .5 .9-1 1.1-1 .2-1.2-1.2 1.1-1zM256 -25l2.8 1-1.8 .4-1-.4-.2-1zM171 -6l13-.4 7 .1 13 1.1 9 1.3 6.7 1.9 1.9 1 .7 1-1.1 2-3 2 .5 1 11.6 1 9.8 2-7.1 1.9-5-.6-7 .5-7-.5-13 .3-4-.7-8 .5-7-.9-17 .3-2.4-.8-3.6-.5-14.9-5.5-5.4-1 2-1 4.3-.8 11-3.5 7-1.2 7.4-.5zM173.7 -6l-10.7 .7-7 1.2-13.9 4.1-1.4 1 6.3 1.7 6 2.5 7 2.2 6 .8 4-.2 3 .3 9-.3 6 .6 9-.3 4 .8 13-.3 6 .3 7-.9 4 .2 2.4-.4-1.7-1-4.7-.3-5-.9-4-.1-2-.6 .4-1.1 3.6-2.2 .7-.8 .2-1-.7-1-1.2-.6-6-1.9-16-2.1-12-.6-11 .2zM274 3.9l3 0 2.9 1.1 1.1 1 .6 2-2.6 4.3-3.1 1.7-3.9 2.8-3 1.1-5 3.3-3 1-5 2.8-4-.6-3 .8-1-.1-4-1.1-4-2.1-3-.5-3 .6-3 4.2-3 .6-2 1.5-1 .1-3-1-2-.1-4 2.2-4-3.3-1-.1-2 .9-.3-2 2-4 1.3-.3 3 .4 3-1.9 4-.9 1.8-1.3 1.6-2 1.6-1 5-.9 5 .4 9-.1 4 2.4 2 0 4-1.6 3-1.8 4-1.4 2-3.3 3-.9 3-2 2.7-.8zM272.7 5l-2.7 1.4-6 5.9-4.2 1.7-5.8 3.9-4.9 1.1 1.9 1.6 .7 1.4 1.3 .8 3 0 4-2.2 6-2.3 8.6-5.3 3.4-1.4 2-2.6 .3-1-.3-1.4-1-.9-2-.8-2-.3-2 .3zM230.3 15l-2.3 .7-.8 1.3 .8 1.4 2 1.3 10-.2 3-.9 1.2-1.6-.2-1-1-.9-2-.7-8 .1-2 .4zM218.8 21l-5.1 3 .3 1 1 1 1 .5 4-.4 5 .5 4.3-2.6-.3-1.3-2-1-2-.5-6-.3zM165 9.8l1-.3 3 2.2 4 .5 1.9 1.8-.3 1-2.6 2-2 .6-15 .4-6.4-2-1.9-1-.4-1 .5-1 1.2-.8 3-1.1 5-.3 4 .2 4.7-1zM154.4 12l-3.4 .5-1.3 .5-.6 1 .5 1 1.8 1 3.6 1.1 14-.4 2.5-.7 .8-1-.3-1.1-3-.7-3-1.6-7 .6-4-.3z"/><path fill="#a8dbe9" stroke="#a8dbe9" fill-rule="evenodd" d="M174 -40.4l1.1 1.4 .9 .4 4 .5 1-.4 1.7-2.5 2.5 0 1.8 1.8 1 .3 2.8-2.1 3.6 0 2.3 3 1 2-.1 1-3.6 .5-4-.6-2 1.1-1 0-6-1.5-3 .1-7 1.2-3-1-3 .6-1-.2-.9-1.2 .1-1 2.8-.8 2-1.3 4 .3 1.6-1.2zM183.9 -38l0 1 1.1 0-.4-1-.6-.1zM201 -39.1l2 .2 .9 .9 .2 1-1.1 .2-2-.7-.7-.5 .5-1zM207 -38l2-.8 1.1 .8 .2 1-1.3 .9-2-.3-.8-.6 .7-1zM224 -34l5 2.4 6-.2 9 3.2 3-.2 5-2.5 2 .1 2.4-.8 1.6-.1 4 2.3 3 .9 1.6-.1 1.4-1 .8 1 .6 3-.1 1-1.3 2-.4 2-.6 .5-2-.7-1-1.3-1-.6-1 .4-2 1.9-2 .1-2 1.2-3 .1-3 2.1-2-1-2-.5-4 1.4-6-.6-4-3.7-1.4 .7 .3 1-.5 1-.4 .1-.7-1.1 .3-1-.9-1-4.7-2-5-.6-3-1.6-2.6-.8-.2-1 .9-3 2.9-1.6 2 .6 2.1 0 2.9-2zM219.1 -30l-1.8 1-.2 1 1.2 2 1.7 .7 4 .4 4 1.3 5-1 3 3.4 1 .6 3 0 1 .6 2-.3 1.3-.7 .5-1-2.6-3-1.2-.5-2 .3-4.2-3.8-1.9-1-7.9-.9-5 .6zM247.9 -26l-1.1 1 1.2 1.2 1-.2 1-1.1-.5-.9-1.5 0zM255.8 -25l.2 1 1 .4 1.8-.4-2.8-1zM268 -20.4l1.6 .4-.6 .7-1.3-.7zM166 -6l18-.6 8 .1 13 1 8 1.1 6 1.6 4.3 1.8 .6 1-.4 1-2.5 3 2 .7 14 1.8 15 .5 1.9 1-4.9 1.5-.9 .5-.3 1 1.2 1.8 2 .8 4-.9 3-2.1 2-.9 1.7-1.7 2.3-1.5 4-.8 4-2.3 4-1 1 0 4 1.9 2.8 2.7 .3 1-.4 1-2 2-1.6 3-4.1 1.9-3 2.3-3 1-5 4.2-5 1.5-3 2.1-1 .2-3-.8-3 1.2-4-1.7-4-.2-.9 1.3-1.1 3.2-1 .1-1.5-1.3 .2-2-.5-1-1.2-.5-1 .2-1 .4-2 3-1.7 .9-.6 1-3.7 1.3-2 1.5-1-.2-1.3-1.6-.7-2.1-1-.2-2 2.1-1 .4-3-.6-2-1.8-4 .9-1-.2-1.6-1.5-.4-3.3-1-.4-2 .7-1.4-2 .1-1 2.8-1 2.5-2.8 4-2.3 2-.1 2 1 1 .1 2-1.9 3 .2 1-.5 3-2.7 .6-1-.6-1-10-1.1-13 .3-4-.6-8 .8-6-1.1-4 .1-3-.4-.8 1 .3 1 3.5 1.5 1.5 1.5 .3 2-.8 1.7-1.2 .3-2.8-1.2-7 1.9-4-.3-4 .7-6-.2-4-1.3-4-.5-2.3-1.1-.8-1-.1-1 2.2-2.6 4-1.7 3-.1 3-.7 2.6 .1 .4-.1 .3-.9-1.3-.3-.8-.7-5.2-1.5-5.3-2.5-9.9-2 1.3-1 6.9-.9 10-3.3 11-1.8zM170.4 -6l-7.4 .5-7 1.2-11 3.5-4.3 .8-2 1 5.4 1 14.9 5.5 3.6 .5 2.4 .8 17-.3 7 .9 8-.5 4 .7 13-.3 7 .5 7-.5 5 .6 7.1-1.9-9.8-2-11.6-1-.5-1 3-2 1.1-2-.7-1-1.9-1-6.7-1.9-9-1.3-13-1.1-7-.1-13 .4zM273.7 4l-2.7 .8-3 2-3 .9-2 3.3-4 1.4-3 1.8-4 1.6-2 0-4-2.4-9 .1-5-.4-5 .9-1.6 1-1.6 2-1.8 1.3-4 .9-3 1.9-3-.4-1.3 .3-2 4 .3 2 2-.9 1 .1 4 3.3 4-2.2 2 .1 3 1 1-.1 2-1.5 3-.6 3-4.2 3-.6 3 .5 4 2.1 4 1.1 1 .1 3-.8 4 .6 5-2.8 3-1 5-3.3 3-1.1 3.9-2.8 3.1-1.7 2.6-4.3-.6-2-1.1-1-2.9-1.1-3 0zM164.7 10l-4.7 1-4-.2-5 .3-3 1.1-1.2 .8-.5 1 .4 1 1.9 1 6.4 2 15-.4 2-.6 2.6-2 .3-1-1.9-1.8-4-.5-3-2.2-1 .3zM236.9 11l0 1 2.1 .2 3.3-.2 .4-1-1.7-.9-4 .8zM232 31.5l1.2 .5 .6 1-.8 .3-1-.3-.5-1zM210 40.8l.6 .2-1.4 0z"/><path fill="#c4e8f7" stroke="#c4e8f7" fill-rule="evenodd" d="M167 -40.4l2-.6 13.7 0-1.7 2.5-1 .4-4-.5-.9-.4-1.1-1.4-2 1.6-4-.3-2 1.3-2.8 .8-.1 1 .9 1.2 1 .2 3-.6 3 1 4-.5 2-.7 4-.1 6 1.5 1 0 2-1.1 4 .6 3.6-.5 .1-1-1-2-2.3-3 8 0 3.6 1.7 3-1.2 3 .3 1.3 1.2 .1 2 .6 .6 .5-2.6 2.5-1.5 2.4-.5 5.7 0-.3 2-.8 .9-2-.1-1 1.2 1 .6 2-1.4 4 .7 2 4.2 2.4-.1 2.5-1 1.1-2.4 2 1 1-.8 1 1 0 .9-2-.5-.7 1.8 .7 .6 1 .4 2-.7 1.1 1.7 1.9 1 3-.7 4-2.1 3-.1 3-1.2 1 .1 3 1.7 2 .6 3 .3 2-1.3 1 .1 1.1 .6 .5 1-.2 2 .6 1.6 2.2 .4 .2 1-1 3 .1 2-.7 2-2.8 2.6-1-.1-2-1.3-2 .9-2 0-2 1-1-.2-1-1.1-4-.7-4 1.9-3-1.2-5 1-6-.6-3-.9-2 .3-2-.5-1-.9-.3-2.2-.8-1-1.8-1-6.1-1.2-3-1.4-2.9-.4-1.1-.7-.4-.3-.1-3-1.9-2-.6-1.4-1-.5-1 .3-6-1.2-3 1.7-4 .8-1-.1-2-1.3-3 1.2-5-1.2-5-.5-1 .2-2 1.6-5 .8-2-1.7-5 .1-1.3-.8-1.5-3 0-1 .8-.7 3-.3 2.4-1zM200.8 -39l-.5 1 .7 .5 2 .7 1.1-.2-.2-1-.9-.9-2-.2zM206.9 -38l-.7 1 .8 .6 2 .3 1.3-.9-.2-1-1.1-.8-2 .8zM224 -34l-2.9 2-2.1 0-2-.6-2.9 1.6-.9 3 .2 1 2.6 .8 3 1.6 5 .6 4.7 2 .9 1-.3 1 .7 1.1 .4-.1 .5-1-.3-1 1.4-.7 4 3.7 6 .6 4-1.4 2 .5 2 1 3-2.1 3-.1 2-1.2 2-.1 2-1.9 1-.4 1 .6 1 1.3 2 .7 .6-.5 .4-2 1.3-2 .1-1-.6-3-.8-1-1.4 1-1.6 .1-3-.9-4-2.3-1.6 .1-2.4 .8-2-.1-5 2.5-3 .2-9-3.2-6 .2-5-2.4zM267.7 -20l1.3 .7 .6-.7-1.6-.4zM186 -41l4.8 0-2.8 2.1-1-.3-1.8-1.8zM250 -41l6.9 0-1.6 2-1.3 .9-1-.2-3.1-2.7zM272 -41l3.3 0-.2 2-1.1 .3-1.6-.3-.7-1 0-1zM244 -36.6l1 .1 .4 .5 .2 1-.6 1-1.3 0-.7-1 .4-1zM278 -33.2l1 0 .5 1.2-.3 2-1.2 .7-1.8-.7-.3-1 .4-1 1.3-1zM193 -28.1l.3 1.1-.6 0-.6-1zM280 -25.3l.8 .3-.1 3 .6 3-.3 1.2-1 1-1.1-.2-1.4-5 .5-1.7 1.4-1.3zM287 -23.5l1 .1 3 1.3 0 2.5-2 0-2-1-1-1.4 .3-1zM166 -6.1l26-.6 14 1 7 1.1 6 1.5 5.4 2.1 .6 1-.6 1-2.1 2-.1 1 3.8 1 11 1.1 20 .2 4 .5 3-1.1 4-.6 4-2.6 5-1.4 1 .2 6 3.6 1-.3 1-1 1-.2 1 .8 1-1.2 2-.3 0 2.7-2-.4-1.5 2-1.5 1.1-3.3 3.9-.1 2-.4 1-6.1 2-4.1 3-2 2.6-3 1.3-3 3-1 .2-2-.8-1 0-1 .5-1 1.4-1 .7-3-.3-1.7 1.4-1.3 .5-1-.2-1.2-2.3-1.8-1.3-2-.4-2 .1-1.4 1.6-.4 2 1.2 4-.4 .7-2 .7-1 2.3-1 .8-1.6-1.5-1.4-.2-1 .2-5 2.7-1-.7-1-3-1-1-1.8 1-1.2 1.5-1 .4-1-3.3-1-.6-1 .6-1 0-3-1.1-3 .2-2-1.9-1 .3-1.3 1.9-3.3 3-1.4 .5-1.2-.5-.8-2.2-1-.7-3-.5-.7-.6-.6-4 .6-3-.1-1-1.9-2 .2-1 4.5-3.4 1-.4 1 .6 1-.2 1.3-1.6 1.7-.8 3 0 3-.7 3 .9 1-.2 2-1.6 2 .1 1-.4 1-1.3 0-1-2-1-6-.7-13 .3-4-.7-7 1.2-5-.9-2.2 .8 1.1 3-.2 1-1.7 3.6-2 .8-2-.2-2-1-1 0-5 1-4-.3-3 .8-7-.1-4-1.5-5-.4-2.7-1.7-1.1-2 .3-1 2.5-2.1 4-2.7 4 .4 3.2-1.6-4.2-1.2-5.7-2.8-5.3-.6-5.1-1.4 1.2-1 7.9-1 10-3.3 10-1.7zM166 -6l-11 1.8-10 3.3-6.9 .9-1.3 1 9.9 2 5.3 2.5 5.2 1.5 .8 .7 1.3 .3-.3 .9-.4 .1-2.6-.1-3 .7-3 .1-4 1.7-2.2 2.6 .1 1 .8 1 2.3 1.1 4 .5 4 1.3 6 .2 4-.7 4 .3 7-1.9 2.8 1.2 1.2-.3 .8-1.7-.3-2-1.5-1.5-3.5-1.5-.3-1 .8-1 3 .4 4-.1 6 1.1 8-.8 4 .6 13-.3 10 1.1 .6 1-.6 1-3 2.7-1 .5-3-.2-2 1.9-1-.1-2-1-2 .1-4 2.3-2.5 2.8-2.8 1-.1 1 1.4 2 2-.7 1 .4 .4 3.3 1.6 1.5 1 .2 4-.9 2 1.8 3 .6 1-.4 2-2.1 1 .2 .7 2.1 1.3 1.6 1 .2 2-1.5 3.7-1.3 .6-1 1.7-.9 2-3 1-.4 1-.2 1.2 .5 .5 1-.2 2 1.5 1.3 1-.1 1.1-3.2 .9-1.3 4 .2 4 1.7 3-1.2 3 .8 1-.2 3-2.1 5-1.5 5-4.2 3-1 3-2.3 4.1-1.9 1.6-3 2-2 .4-1-.3-1-2.8-2.7-4-1.9-1 0-4 1-4 2.3-4 .8-2.3 1.5-1.7 1.7-2 .9-3 2.1-4 .9-2-.8-1.2-1.8 .3-1 .9-.5 4.9-1.5-1.9-1-15-.5-14-1.8-2-.7 2.5-3 .4-1-.6-1-4.3-1.8-6-1.6-8-1.1-13-1-8-.1-18 .6zM252.8 10l-2.8 .5-.5 .5 .3 1 1.2 .2 2-.8 2-.2 1.1-1.2-1.1-.4-2 .4zM202.2 31l-.7 1 .9 1 2.2 0 1.1-1-.8-1-1.9-.3zM231.5 32l.5 1 1 .3 .8-.3-.6-1-1.2-.5zM227.9 34l1.1 .5 .9-.5-.9-.4-1 .4zM291 9.9l0 2.8-1.1-1.7 .3-1zM237 10.9l4-.8 1.7 .9-.4 1-3.3 .2-2.1-.2 0-1zM291 13.5l0 2.9-2-.3 .5-1.1 1.2-1zM191 18.5l1 0 .4 1.5-.4 1-1 1-1-.4-.2-.6 .8-2zM260 31.9l.4 1.1-.4 .5-.1-1.5zM260 38.2l2 .8 .9 1-.1 1-2.5 0-1.1-2zM208 40l1-.5 2 .1 1.3 .4 .5 1-5.5 0 .7-1zM278 39.2l1 .3 .8 1.5-2.8 0 .3-1z"/><path fill="#fcf0dc" stroke="#fcf0dc" fill-rule="evenodd" d="M100 -41l1.5 0-1.2 2 .7 .3 1.9-1.3 0-1 4.9 0-2.8 6.1-1 .4-2-.1-2-2.9-1-.2 0-3.3zM109 -41l2.2 0-1.2 .6-1.1-.6zM114 -41l1.6 0-.6 .5-1 .2-.8-.7zM131 -41l2.3 0 1.6 1 1.1 .2 1.1-.2 .9-1 2.2 0 .8 .8 6 .7 .9 .5 .2 3-.9 2 2.8 1.7 .5 1.3-1.3 3 .8 .2 2-.4 1 .5 1 1.2 4 .9 .5 .6 .1 1-1.6 3-2-1.5-1 .4-.3 1.1 .3 1.2 1.9-.2 1.1-1 .2 1 1.8 .9 2.8-.9 .2-4 1-.8 3 .2 .7 2.6 1.3 .7 4 0 4-1.3 6-1 3-.9 9-.3 4-1.1 8-1.4 3.2 1.3 6.8 1.3 3 1.3 5 1 1.7 1.4 .4 3 4.9 3.4 7-.5 6 .9 9-.8 7 2 3-1.4 1-.1 5 1.3 2 0 3 1.9 3-.4 2-1.4 9 .1 1.8 1-4.6 2-1.1 2 .1 1 1.8 1.4 1.3 1.6 .1 1-4.4 .7-2 .8-5-.3-3-.7-3 .3-1.7 1.2-.6 1 .7 2 0 1-1 1-6.4 1.3-23 .3-13-1.3-1.1-.3-.3-1 2.8-2 .6-1-1-1.3-2-1-7-2-8.6-1.7-1.4-1-22 .1-21 .9-9 1.6-10.6 3.4-7.4 .7-1.2 .3-1.3 1 1.5 .9 5.2 1.1 2.3 1 .9 1 .5 2-.5 1-4.1 4-.4 1 1.1 2.9 1 1.3 4 2.1 4-.2 5 2 3-.3 3 .4 4-1.3 4 .4 4-.4 1 .2 2 1.3 4.1 .6 .8 3 1.1 .5 1-.4 2-2.5 1 0 1.9 2.4 0 1-2.3 2-.5 1 .3 1 2.6 2 1-1 1-4 2.6 0 .3 1-1.9 3.6-1 .9-1-.2-1 1.2-1.6 2.5-1.2 3 .8 .4 1.4-2.4 1.6-.4 1.7 1.4-.3 3-15.5 0 .4-3 3.2-4 .5-1.5 1-.5 2 1 1-.5 .2-.5-1.2-2.4-1-.7-3 .8-1-.7-.5-2-2.5-.6-1.2-4.4-.8-.4-6-.9-1.4 .3-2.6 1.2-4-.4-3 .4-2-.4-3-1.7-1 0-3 1.4-1.3-.5-.7-1-2 .9-1-.8-.3-2.1-2.5-5-.1-1 2.9-2.8 1.6-3.2-1.4-2-1.5-1-3.7-.6-2.3-1.4 2.3-1.3 8-.7 7-2.4 10-2.3 6-.7 22-.7 5-.7 3-1.1 2 .2 4-1.5 3 .8 2-1.8 3-1.1 5-.9 1.5-1.8 1.5-1 3.7-1 1.9-2 0-2-1.3-1-3.3-.6-4-1.7-11-1.9-12 2.2-8 .6-18 3.7-3 1.2-6 1-2-.4-3 .4-1.1-.5-.4-3 .9-3-.4-1-1-.6-2 .4-2-1.2-2.1-.6-1.7-1-.5-1 1.3-2 .1-1-5.4-2-.8-1-.2-2-.7-1.1-5-1.6-1.8-1.3zM146.7 -31l.3 .3 1.1-.3-1.1-.3zM219.6 -14l.4 .4 1.1-.4-1.1-.5zM236.8 -14l-5.8 1.2-4-.9-2 1.1-3 .5-1 .5-1.9 1.6-1.1 1.5-3-1.3-3 .4-1.9 1.4 0 1 .9 .7 6 0 .8 1.3 1.6 1 5.6 1.4 2.7 1.6 1.4 1-.8 1-3.7 2 .9 1 4.5 .2 7 1 8 .2 5-.5 5 .1 4-.9 3-.1 2-1 2 0 0-1-1.2 0-.8 .7-3-1.2-.6-.5 .1-1 4.5-2.9 8-1.1 2-1.6 2 .5 1-.3 .7-1.6 0-1-1.7-1.5-3-.1-6-2.7-4-1.3-1 .1-3 1.4-7-1.7-9 .7-4-.9-3 0zM156 -41l1.8 0-.8 .3-1.3-.3zM243 -41l4.4 0-.4 2.6-2.5-.6-1.5-1-.5-1zM280 -41l.6 0-.6 .4-.9-.4zM291 -37.1l0 2.7-.7-1.6 .6-1zM249 -36l1.2 0-.2 .3-1-.3zM155 -33.1l1-.3 1 .5 .8 1.9-.4 1-1.4 .1-1-.5-.5-1.6 .4-1zM182 -31.2l2-.1 1 .7 1.1 1.6-.1 1.2-1 .8-2-.1-1.6-2.9 .2-1zM291 -31.7l0 2.3-.5-.6 0-1zM173 -29.4l1 0 .3 .4-.1 2-1.4-1-.2-1zM99.9 -26l.1 1-1 .4 0-2zM103 -17.3l1 .3 2.1 3 0 1-1.1 1-1.3 0-1-1-.7-3 .5-1zM136 -16l1.1 1-1.1 .8-1-.8 1-1zM147 -15.1l2-.8 .9 .9-1.9 .6-1.1-.6zM131 -14.1l1-.1 .6 1.2-.6 .5-1-.1-.4-.4 .3-1zM257 -2.2l1.2 .2 1.4 2-.6 .6-1.7 .4-7.3 .3-3-1.3-3 .6-1.7-.6 1.7-1 1 0 2 .9 .9-.9 2.1-.7 4 .3 2.3-.6zM234 -1.3l2-.1 1 .4 .8 1-1.8 .4-2.2-.4-.4-1zM195 10.9l2 0 3 .8 4-.6 3 .4 6-.5 3.1 1-.3 1-1.8 1.3-4-.2-6 .5-4-1.4-3 1-2-.3-1.8-.9-.1-1 1.7-1zM203.4 12l-.4 1 1 .3 1.7-.3-.5-1-1.2-.1zM210.8 12l.1 1 2.6 0 0-1-2.5 0zM289 21.9l.8 1.1-.2 1-.6 .7-1-.2-.4-.5-.1-1 .5-.8 .6-.2zM245 27l1 .1 1.6 .9 .9 2-.6 2-1.9 1.9-2-.4-1.7-2.5-.1-2 .4-1 2-1zM243.2 28l-.7 2 .5 1.5 1 1.2 1 .5 1-.1 1-.7 .9-1.4-.1-2-.7-1-1.1-.6-2 .1zM104 29.9l1 .3 .8 .8 .3 2 .9 1.3 1 .3 1-.6 1-1.7 2 .9 2-.9 1 .2 .6 .5 .2 1 1.2-.1 1.4 4.1-1.4 3-4.6 0 .1-2-.5 0-3.8 2-9.2 0 0-1.9 1.4-.1-.4-.5-1-.1 0-6.5 2-.3 2.8-1.6zM100.8 38l.5 0-.3 0zM114 38l-.5 1 1.5 .6 1-.3 .3-1.3-1.3-.6zM104.7 39l.3 .9 0-1.1zM267 29.9l1-.7 1 .4 .3 .4-.1 1-1.2 .5-1-.5-.1-1zM170 33.9l1 .1 .3 1-1.7 6-9.1 0-1.5-.3-3 .3 2-1.8 2-.7 1 0 3 1.9 1 .3 1-.2 1.7-2.5 .5-3 1.5-1zM271 35.9l.6 .1 .4 1.1-1 .3-.5-.4 .3-1zM145 38.9l1 .1 1.1 2-1.1 0-1-.8-1.3 .8-4.5 0 .8-.6 2-.1 2.6-1.3zM129 39.2l1-.2 3 .5 .5 1.5-5.4 0 .1-1zM290 40.7l1-.5 0 .8-1.4 0z"/><path fill="#fce4bc" stroke="#fce4bc" fill-rule="evenodd" d="M101 -40.5l.5-.5 1.4 0 0 1-1.9 1.3-.7-.3 .3-1zM108 -41l.9 0 1.1 .6 1.2-.6 2 0 .8 .7 1-.2 .6-.5 14.6 0 1.8 1.3 5 1.6 .7 1.1 .2 2 .8 1 5.4 2-.1 1-1.3 2 .5 1 1.7 1 2.1 .6 2 1.2 2-.4 1 .6 .4 1-.9 3 .4 3 1.1 .5 3-.4 2 .4 6-1 3-1.2 18-3.7 8-.6 12-2.2 11 1.9 4 1.7 3.3 .6 1.3 1 .2 1-.8 1.9-1 .9-1 .6-3 .6-1.5 1-1.5 1.8-6 1.2-2.5 1-1.5 1.6-3-.8-4 1.5-2-.2-3 1.1-5 .7-22 .7-6 .7-10 2.3-7 2.4-8 .7-2.3 1.3 2.3 1.4 3.7 .6 1.5 1 1.4 2-1.6 3.2-2.9 2.8 .1 1 2.5 5 .3 2.1 1 .8 2-.9 .7 1 1.3 .5 3-1.4 1 0 3 1.7 2 .4 3-.4 4 .4 2.6-1.2 1.4-.3 6 .9 .8 .4 1.2 4.4 2.5 .6 .5 2 1 .7 3-.8 1 .7 1.2 2.4-.2 .5-1 .5-2-1-1 .5-.5 1.5-3.2 4-.4 3-5.3 0 1.7-6-.3-1-1-.1-1.8 1.1-.5 3-.7 1.4-1 1.1-1 .2-4-2.2-1 0-2 .7-2 1.8-8.9 0-1.1-2-1-.1-3 1.4-2 .1-.8 .6-5.7 0-.5-1.5-3-.5-1 .2-.8 .8-.1 1-11.1 0 1.4-3-.2-1-1.2-3.1-1.2 .1-.2-1-.6-.5-1-.2-2 .9-2-.9-1 1.7-1 .6-1.4-.6-.5-1-.3-2-.8-.8-1-.3-3 1.7-2 .3 0-17.1 3 .2 1.6 1 1.4 1.5 3.2 1.5 .2 1-.8 2 .4 .4 3-.5 1 .2 4 2.1 1-.8 1-.1 2 2.1 3-.5 1.7 3.1 1.3 .4 2.6-.4 .2-1-.6-1 .2-1 .6-.5 4-1.3 3 .2 .5 .6-1.5 1.7-2 .8-2 .2-1.6 1.3 5.6 4.7 2 .4 2-.3 2-.6 1.7-1.2 .8-1-.1-1-3.9-4-1.3-2-1.3-4-.9-5.9 .7-4.1-2.3-4-.5-2-1.6-2 1.1-1 4.6-1 8.9-1 7.1-2.4 9-1.8 18-.8 9-1.1 6.8-1.9 3.2-.4 10-2.8 5-2.1 3-1.9 3-1.1 .9-.7 .3-1-.8-1-2.4-.7-4-2.1-11-1.2-11 1.8-8 .8-10 2-11 3.3-4 .5-3 1-3 .1-4.4 2.5-3.6 .4-3 1.3-2-.4-6 2.4-6-.3-7-1.1-7 1.4-4-1.5-3-.2-3 1.1-2.9 1.9-2.1 .7-1 1.9 .3-15.6-.3-3.6 1-.4-.1-1-.9-.6 0-11.1 1 .2 2 2.9 2 .1 1-.4 .7-1.1 2.1-5zM109.8 -34l.9 4-.3 3 2.1 3-.7 2-.8 .4-2 0-2-1-.7 .6 0 1 .7 1 2 1.3 2 .4 1.9-.7 .7-3 3.4-.7 1 .3 2 2.2 4 .9 3-.4 3-1.5 4 .7 2 .7 1 0 1.2-1.2-.3-1-1.9-.7-2.1-2.3-.7-1-.2-2-1-1-2-.2-1-2.8-3-2.7-1-.2-1 .8-2 3.6-4 .2-4 .7-1.7-.4-.2-1 .9-2-.7-1-1.3-.6-1 .4zM105.8 -27l-.8 2 1 1.7 1-.6 .6-2.1-.6-1-1-.2zM139.9 -25l-.1 1 .6 1 2 0-.1-1-.9-1-.4-.3-1 .2zM102.5 -17l-.5 1 .7 3 1 1 1.3 0 1.1-1 0-1-2.1-3-1-.3zM136 -16l-1 1 1 .8 1.1-.8-1.1-1zM146.9 -15l1.1 .6 1.9-.6-.9-.9-2 .8zM130.9 -14l-.3 1 .4 .4 1 .1 .6-.5-.6-1.2-1 .1zM147.1 29l-1.8 1 .1 1 1.6 .9 1-.3 1 .3-.5 2.1 .2 1 2 0 1-1-.3-2 1.3-2-4.7-1.1zM153.4 31l.2 1 1.3 1 1.1 0 1.3-1-1.3-1.4-2-.3zM127.9 35l1.1 1 .9-1-.9-.7-1 .6zM147 -31.3l1.1 .3-1.1 .3-.3-.3zM237 -14l3 0 4 .9 9-.7 7 1.7 3-1.4 1-.1 4 1.3 6 2.7 3 .1 1.7 1.5 0 1-.7 1.6-1 .3-2-.5-2 1.6-8 1.1-4.5 2.9-.1 1 .6 .5 3 1.2 .8-.7 1.2 0 0 1-2 0-2 1-3 .1-4 .9-5-.1-5 .5-8-.2-7-1-4.5-.2-.9-1 3.7-2 .8-1-1.4-1-2.7-1.6-5.6-1.4-1.6-1-.8-1.3-6 0-.9-.7 0-1 1.9-1.4 3-.4 3 1.3 1.1-1.5 1.9-1.6 1-.5 3-.5 2-1.1 4 .9 5.8-1.2zM234.2 -12l-3.2 1.1-4 0-2.2 .9-2.4 2-.7 2 .3 .7 6 2 4-.8 3-.2 2 .5 2 1.1 2 .4 10-1.5 4 .1 3-.5 4-.1 4.4-4.7 0-1-2.4-1.6-1-.2-3 1.5-8-2.1-7 .8-5-.5-5-.1zM256.3 -2l-2.3 .6-4-.3-2.1 .7-.9 .9-2-.9-1 0-1.7 1 1.7 .6 3-.6 3 1.3 7.3-.3 1.7-.4 .6-.6-1.4-2-1.2-.2zM233.4 -1l.4 1 2.2 .4 1.8-.4-.8-1-1-.4-2 .1zM232.2 2l-1.5 1 2.3 1 4 .6 10-.3 1.4-.3 .2-1-1.6-.6-7-.8-7 .2zM99.2 -3l1.8 4.8 1 .9 2.2 .3-.3 1-1.9 1.3-3 4.1 0-13.2zM204 11.9l1.2 .1 .5 1-1.7 .3-1-.3 .4-1zM211 12l2.5 0 0 1-2.6 0-.1-1zM244 27.5l2-.1 1.1 .6 .7 1 .1 2-.9 1.4-1 .7-1 .1-1-.5-1-1.2-.5-1.5 .7-2zM244.7 28l-1.3 1 .1 2 1.5 1.3 1-.2 1.1-1.1 .2-1-.3-1.1-1-.8-1-.2zM101 38l.3 0-.5 0zM100 38.5l.4 .5-1.4 .1 0-.7zM105 38.8l0 1.1-.3-.9z"/><path fill="#f8d099" stroke="#f8d099" fill-rule="evenodd" d="M110 -34.2l1-.4 1.3 .6 .7 1-.9 2 .2 1 1.7 .4 4-.7 4-.2 2-3.6 1-.8 1 .2 3 2.7 1 2.8 2 .2 1 1 .2 2 .7 1 2.1 2.3 1.9 .7 .3 1-1.2 1.2-1 0-2-.7-4-.7-3 1.5-3 .4-4-.9-2-2.2-1-.3-3.4 .7-.7 3-1.9 .7-2-.4-2-1.3-.7-1 0-1 .7-.6 2 1 2 0 .8-.4 .7-2-2.1-3 .3-3-.9-4zM106 -27.2l1 .2 .6 1-.6 2.1-1 .6-1-1.7 .8-2zM140 -25.1l1-.2 .4 .3 .9 1 .1 1-2 0-.6-1 .1-1zM204 -25l11 1.2 4 2.1 2.4 .7 .8 1-.3 1-.9 .7-3 1.1-3 1.9-6 2.4-9 2.5-3.2 .4-7.8 2.1-8 .9-16 .6-6 .8-8 2-4.1 1.6-9.9 1.2-4 1.1-.7 .7 1.6 2 .5 2 2.3 4-.7 4.1 .9 5.9 1.3 4 1.3 2 3.9 4 .1 1-2.5 2.2-3 .9-3-.4-5.6-4.7 1.6-1.3 2-.2 2-.8 1.5-1.7-.5-.6-3-.2-4 1.3-.6 .5-.2 1 .6 1-.2 1-2.6 .4-1.3-.4-1.7-3.1-3 .5-2-2.1-1 .1-1 .8-4-2.1-1-.2-3 .5-.4-.4 .8-2-.2-1-3.2-1.5-1.4-1.5-1.6-1-3-.2 0-5.4 3-4.1 1.9-1.3 .3-1-2.2-.3-1.5-1.7-1.5-4.8 .1-2.2 .9-1.3 2.1-.7 2.9-1.9 4-1.2 3 .6 2 1.1 1 .1 7-1.4 7 1.1 6 .3 6-2.4 2 .4 3-1.3 3.6-.4 4.4-2.5 3-.1 3-1 4-.5 11-3.3 10-2 8-.8 10.8-1.8zM202.8 -24l-9.8 1.5-4 .2-14 2.8-5 1.7-10 2.1-3 1.3-3 .3-4 2-4 .8-2 1.2-3 .2-6 2.1-13-.9-8 .8-5-1.3-3 .5-4.5 2.7-.8 1 0 2 1.6 3 5.1 2 1.3 1-.2 1-3.5 2-2.4 2-.6 1-.1 2 .6 1 4.2 4 4.3 2 1.8 2 1.2 .6 3-.3 4 1.4 1-.1 4-1.6 3 .5 3-.3 0-2.2 2-1.4 .4-2.6-.2-4-.5-2-.7-1-2.6-2-.4-1 1-1 .1-2 .9-1 6-1.4 7.6-.6 7.4-2.4 9-1.8 15.4-.8 11.6-1.6 20-5.2 5.9-3.2 2.8-2 .1-1-.5-1-2.3-2-10-1.1-2 0zM99.3 -21l-.3 .6 0-1.3zM235 -12.2l5 .1 5 .5 7-.8 8 2.1 3-1.5 1 .2 2.4 1.6 0 1-4.4 4.7-4 .1-3 .5-4-.1-10 1.5-2-.4-2-1.1-2-.5-3 .2-4 .8-6-2-.3-.7 .7-2 2.4-2 2.2-.9 4 0 3.2-1.1zM233.5 -10l-1.5 1.8-2 .2 1 1.1 6 .7 4 2.1 6-.6 6-1.5 3 .1 1.6-.9 .5-1-.3-1-.8-.7-5-1.2-10 1-2 .6-1 0-3-1.3-2 .3zM233 1.8l7-.2 7 .8 1.6 .6-.2 1-1.4 .3-10 .3-4-.6-2.3-1 1.5-1zM245 27.9l1 .2 1 .8 .3 1.1-.2 1-1.1 1.1-1 .2-1.5-1.3-.1-2 1.3-1zM244.3 29l-.4 1 .5 1 .6 .4 1-.2 .6-1.2-.4-1-1.2-.4zM148 28.9l4.7 1.1-1.3 2 .3 2-1 1-2 0-.2-1 .5-2.1-1-.3-1 .3-1.6-.9-.1-1 1.8-1zM154 30.3l2 .3 1.3 1.4-1.3 1-1.1 0-1.3-1-.2-1zM128 34.9l1-.6 .9 .7-.9 1-1.1-1z"/><path fill="#f2a673" stroke="#f2a673" fill-rule="evenodd" d="M203 -24.1l2 0 10 1.1 2.3 2 .5 1-.1 1-2.8 2-5.9 3.2-20 5.2-11.6 1.6-15.4 .8-9 1.8-7.4 2.4-7.6 .6-6 1.4-.9 1-.1 2-1 1 .4 1 2.6 2 .7 1 .5 2 .2 4-.4 2.6-2 1.4 0 2.2-3 .3-3-.5-4 1.6-1 .1-4-1.4-3 .3-1.2-.6-1.8-2-4.3-2-4.2-4-.6-1 .1-2 .6-1 2.4-2 3.5-2 .2-1-1.3-1-5.1-2-1.6-3 0-2 .8-1 4.5-2.7 3-.5 5 1.3 8-.8 13 .9 6-2.1 3-.2 2-1.2 4-.8 4-2 3-.3 3-1.3 10-2.1 5-1.7 14-2.8 4-.2 9.8-1.5zM201.2 -23l-13.2 1.5-13 2.7-5 1.8-9 1.9-4 1.6-3 .4-4 2-3 .7-3 1.3-3 .5-2 .9-4 1-9-.7-2 .3-7-.2-3 .4-5-1.2-3 .6-3.7 2.5-.4 1 .2 1 1.7 2 1.2 .7 6 1.9 1 .4 .5 1-.5 1-5.7 3-1.3 2 .2 2 2.8 3.5 3 1.4 3 2.3 3 .2 3 1 3-.2 5-1.1 3.6-3.1 1.2-2-.1-3-.7-1.5-5.3-4.5 .4-1 1.9-1.1 2-2 2-.8 11-1.7 17-3.7 16-1.1 12-1.8 3-1.1 7-1.4 9-2.5 6-3.8 1.7-2-.1-1-.6-.9-1-.4-5-.7-7-.1zM234 -10.3l2-.3 3 1.3 1 0 2-.6 10-1 5 1.2 .8 .7 .3 1-.5 1-1.6 .9-3-.1-6 1.5-6 .6-4-2.1-6-.7-1-1.1 2-.2 1.5-1.8zM244.2 -7l.8 .3 1.2-.3-.2-.5-1-.3zM245 28.6l1.2 .4 .4 1-.6 1.2-1 .2-.6-.4-.5-1 .4-1z"/><path fill="#e9735e" stroke="#e9735e" fill-rule="evenodd" d="M202 -23.1l7 .1 5 .7 1 .4 .6 .9 .1 1-1.7 2-6 3.8-9 2.5-7 1.4-3 1.1-12 1.8-16 1.1-17 3.7-11 1.7-2 .8-2 2-1.9 1.1-.4 1 5.3 4.5 .7 1.5 .1 3-1.2 2-3.6 3.1-5 1.1-3 .2-3-1-3-.2-3-2.3-3-1.4-2.8-3.5-.2-2 1.3-2 5.7-3 .5-1-.5-1-1-.4-6-1.9-1.2-.7-1.7-2-.2-1 .4-1 3.7-2.5 3-.6 5 1.2 3-.4 7 .2 2-.3 9 .7 4-1 2-.9 3-.5 3-1.3 3-.7 4-2 3-.4 4-1.6 9-1.9 5-1.8 13-2.7 13.2-1.5zM197 -22l-15 2.2-7.1 1.8-3.9 1.4-4 .7-6 1.6-4 1.6-3 .6-5 2.5-10 3.3-3 .6-2 .2-7-.8-3 .5-5 .1-6-.4-4-1.1-3.5 1.2-1.3 1-.5 1 1.3 2 1.1 1 1.9 .8 5 .4 6 1.6 4-.8 4 .2 5-2.6 11-2.2 3-1.2 7.4-.2 7.6-1.5 16-1.3 12-2.1 3-1.1 7-1.4 8.8-2.6 4.2-3 1.6-2-.3-1-4.3-1.2-6-.3-6 .5zM118.9 4l-4.9 1.3-2 1-3.3 .7-1.2 1-.5 1 .5 2 1.5 1.6 2.2 1.4 2.8 2.5 3 .4 3 .9 2 .1 2-.2 4-1.6 2.4-3.1 .6-2-.4-1-2.6-2.9-2-1.2-4-1.6-3-.4zM245 -7.8l1 .3 .2 .5-1.2 .3-.8-.3z"/><path fill="#e34349" stroke="#e34349" fill-rule="evenodd" d="M197 -22l6-.5 6 .3 4.3 1.2 .3 1-1.6 2-4.2 3-8.8 2.6-7 1.4-3 1.1-12 2.1-16 1.3-7.6 1.5-7.4 .2-3 1.2-11 2.2-5 2.6-4-.2-4 .8-6-1.6-5-.4-1.9-.8-1.1-1-1.3-2 .5-1 1.3-1 3.5-1.2 4 1.1 6 .4 5-.1 3-.5 7 .8 2-.2 3-.6 10-3.3 5-2.5 3-.6 4-1.6 6-1.6 4-.7 3.9-1.4 7.1-1.8 15-2.2zM194.4 -21l-6.4 .7-6 1.1-10 3.1-4 .6-5.4 1.5-3.6 1.6-5.1 1.4-3 2-1 1-.3 1 2.4 .7 4.4 .3 3.6-.7 14.6-1.3 14.4-2.5 3-1.1 6.7-1.4 8.3-2.6 2.3-1.4 1.4-2-.1-1-.6-.5-2-.8-6-.4-7 .6zM107.7 -6l-1.4 1-.4 1 .1 1 1 1.2 2 .6 8 0 3 .6 3-.4 2.7 1 1.3 .1 2-.7 3.8-2.4-.6-1-5.2-1-1 0-3 1.2-2-.5-3 .2-5-1-3-1.2-2 .2zM119 3.9l3 .4 4 1.6 2 1.2 2.6 2.9 .4 1-.6 2-2.4 3.1-4 1.6-2 .2-2-.1-3-.9-3-.4-2.8-2.5-2.2-1.4-1.5-1.6-.5-2 .5-1 1.2-1 3.3-.7 2-1 4.9-1.3zM120 6l-6 .9-2 1.3-3 .6-.2 1.2 1.2 1.1 2 1 2 2.3 5 1.9 2 .4 2-.1 3.6-1.6 1-1 .3-1 .2-2-.5-2-.8-1-2.8-1.6-2-.5-2 .1z"/><path fill="#e03045" stroke="#e03045" fill-rule="evenodd" d="M195 -21.1l7-.6 6 .4 2 .8 .6 .5 .1 1-1.4 2-2.3 1.4-8.3 2.6-6.7 1.4-3 1.1-14.4 2.5-14.6 1.3-3.6 .7-4.4-.3-2.4-.7 .3-1 1-1 3-2 5.1-1.4 3.6-1.6 5.4-1.5 4-.6 10-3.1 6-1.1 6.4-.7zM191 -20l-3 .2-8 1.8-8 2.6-4 .5-5.7 1.9-2.3 1.4-5 1.6-.7 1 .4 1 1.3 .5 5 .5 21-2.8 4-1.1 3-.3 4-1.3 3-.4 5-1.5 6.5-2.6 .9-1 .2-1-1.2-1-7.4-1-9 1zM108 -6.1l2-.2 3 1.2 5 1 3-.2 2 .5 3-1.2 1 0 5.2 1 .6 1-3.8 2.4-2 .7-1.3-.1-2.7-1-3 .4-3-.6-8 0-2-.6-1-1.2-.1-1 .4-1 1.4-1zM108.6 -5l-.8 1 .2 1 2 .5 3.4-.5-3-2-1.4-.1zM126.5 -3l-.5 1.2 1 .4 1.9-.6-.3-1-1.6-.2zM120 6l2-.1 2 .5 2.8 1.6 .8 1 .5 2-.2 2-.3 1-1 1-3.6 1.6-2 .1-2-.4-5-1.9-2-2.3-2-1-1.2-1.1 .2-1.2 3-.6 2-1.3 6-.9zM121.8 7l-6.8 1-1 .8-.4 1.2 1.6 3 2.8 1.7 3 .8 2-.4 1.4-1.1 1.2-2-.2-3-1.4-1.3-2-.7z"/><path fill="#df2035" stroke="#df2035" fill-rule="evenodd" d="M191 -20l9-1 7.4 1 1.2 1-.2 1-.9 1-6.5 2.6-5 1.5-3 .4-4 1.3-3 .3-4 1.1-21 2.8-5-.5-1.3-.5-.4-1 .7-1 5-1.6 2.3-1.4 5.7-1.9 4-.5 8-2.6 8-1.8 3-.2zM195.7 -20l-7.7 .8-8 2-7 2.4-5 .6-4.9 2.2-2.3 3 6.2 .2 15-1.6 4-1.3 3-.3 4-1.4 3-.2 4.3-1.4 2.4-1 2.3-2-.7-1-3.4-1-4.9 0zM109 -5.1l1.4 .1 3 2-3.4 .5-2-.5-.2-1 .8-1zM127 -3.2l1.6 .2 .3 1-1.9 .6-1-.4 .5-1.2zM122 7l2 .7 1.4 1.3 .2 3-1.2 2-1.4 1.1-2 .4-3-.8-2.8-1.7-1.6-3 .4-1.2 1-.8 6.8-1zM121 9l-1 .8-3 .1-.5 1.1 .3 1 2.2 1.4 2 .4 1-.2 1.4-1.6-.1-2-.6-1-.7-.3-1 .3z"/><path fill="#b7212b" stroke="#b7212b" fill-rule="evenodd" d="M196 -20l4.9 0 3.4 1 .7 1-2.3 2-2.4 1-4.3 1.4-3 .2-4 1.4-3 .3-4 1.3-15 1.6-6.2-.2 2.3-3 4.9-2.2 5-.6 7-2.4 8-2 7.7-.8zM121 9l1-.3 .7 .3 .6 1 .1 2-1.4 1.6-1 .2-2-.4-2.2-1.4-.3-1 .5-1.1 3-.1 1-.8z"/>
<use href="#land" fill="#787978" stroke="#787978" stroke-width="0.7"/>
</g>
<line x1="287.02" y1="940.62" x2="287.02" y2="1135.84" stroke="#161616" stroke-width="5.2" stroke-dasharray="23.2 20.6" stroke-dashoffset="1.8"/>
<rect x="91.40" y="940.42" width="464.61" height="195.62" fill="none" stroke="#111" stroke-width="1.9"/>
<path d="M140.31,940.42v-4.6M140.31,1136.04v4.6M238.12,940.42v-4.6M238.12,1136.04v4.6M335.93,940.42v-4.6M335.93,1136.04v4.6M433.74,940.42v-4.6M433.74,1136.04v4.6M531.55,940.42v-4.6M531.55,1136.04v4.6M91.40,964.87h-5.2M556.01,964.87h4.6M91.40,1001.55h-5.2M556.01,1001.55h4.6M91.40,1038.23h-5.2M556.01,1038.23h4.6M91.40,1074.91h-5.2M556.01,1074.91h4.6M91.40,1111.59h-5.2M556.01,1111.59h4.6" stroke="#111" stroke-width="1.3" fill="none"/>
<text x="77.00" y="979.07" font-size="34.5" text-anchor="end" fill="#000">30°N</text>
<text x="77.00" y="1015.75" font-size="34.5" text-anchor="end" fill="#000">15°N</text>
<text x="77.00" y="1052.43" font-size="34.5" text-anchor="end" fill="#000">0°</text>
<text x="77.00" y="1089.11" font-size="34.5" text-anchor="end" fill="#000">15°S</text>
<text x="77.00" y="1125.79" font-size="34.5" text-anchor="end" fill="#000">30°S</text>
<text x="430.65" y="1128.30" font-size="34.3" font-weight="bold" fill="#000">ORAS4</text>
<text x="75.60" y="934.90" font-size="30.2" font-weight="bold" text-anchor="end" fill="#000">I</text>
<g transform="matrix(2.4453,0,0,-2.4453,450.070,1038.232)" clip-path="url(#pc)" stroke-width="0.3" stroke-linejoin="round">
<path fill="#343f93" stroke="#343f93" fill-rule="evenodd" d="M160 -8.1l3-.5 9 .7 17 .4 9.7 1.5 3 1 1.8 1 1.4 2 .1 1-.4 1-4.7 3 1.1 1 1 .2 8 .9 14.4-.1 16.6 .7 5 .6 4-.3 9 .8 4 0 1.3 .2 1.6 1-1.4 1-4.5 1-12-.6-41 1.1-12-.6-15-2.1-17-1.2-3.1-.6-6.8-3-3.2-2-1.1-1-.4-1 .6-1 4-3 3.5-2 2.8-1z"/><path fill="#394d9c" stroke="#394d9c" fill-rule="evenodd" d="M159 -8.2l4-.8 9 .8 17 .4 11 1.8 3 1 2.5 2 .8 2-.3 1-1 1-3.4 2 1.9 1 2.5 .4 5 .4 23 .2 12 .8 17 .5 3.6 .7 1.4 1-1 1-7 1.9-12-.9-41 .7-13-.5-10-1.2-4.5-1-16.5-1.1-4-.9-6.4-3-4.3-3-.5-1 .8-1 4.1-3 5.6-3zM159.3 -8l-2.8 1-3.5 2-4 3-.6 1 .4 1 1.1 1 3.2 2 6.8 3 3.1 .6 17 1.2 15 2.1 12 .6 41-1.1 12 .6 4.5-1 1.4-1-1.6-1-1.3-.2-4 0-9-.8-4 .3-5-.6-16.6-.7-14.4 .1-8-.9-1-.2-1.1-1 4.7-3 .4-1-.1-1-1.4-2-1.8-1-3-1-9.7-1.5-17-.4-9-.7-3 .5z"/><path fill="#325ea6" stroke="#325ea6" fill-rule="evenodd" d="M162 -9.1l10 .6 17 .5 8 1 4.4 1 4.2 2 1.5 2 0 2-.8 1-2.9 2 2.6 1 5 .5 23 .2 12 .8 17 .4 5 .8 1 .3 1.1 1-2.1 1.5-5.1 1.5-2.9 1.9-2 .3-3 1.1-2 2.1-1 .4-5.4-.8 0-1 1.2-1 4.9-2-.5-1-11.2-.7-34 .7-18-1-6-.7-6.5-1.3-14.7-1-3.5-1-4.3-2-6.2-4-.4-1 3.6-3.1 5-3.2 5.1-1.7zM158.3 -8l-5.6 3-4.1 3-.8 1 .5 1 4.3 3 6.4 3 4 .9 16.5 1.1 4.5 1 10 1.2 13 .5 41-.7 12 .9 7-1.9 1-1-1.4-1-3.6-.7-17-.5-12-.8-23-.2-5-.4-2.5-.4-1.9-1 3.4-2 1-1 .3-1-.8-2-2.5-2-3-1-11-1.8-17-.4-9-.8-4 .8z"/><path fill="#2373b3" stroke="#2373b3" fill-rule="evenodd" d="M161 -9.2l2-.2 9 .7 18 .5 8 1 4 1 3.2 1.2 3 3 .3 1-.2 1-3.2 3 2.7 1 26.2 .4 12 .7 17 .4 8 1.3 .8 .2 .8 1-4.6 2.7-3 .9-3 2.7-6 1.7-3 1.9-3 .1-6 1.6-4 .3-1.5-.9 .1-2 9.7-5-.3-.4-1-.4-6-.5-15 0-8 .5-18-.1-17-1.3-7-1.5-15.3-1.3-3-1-4.1-2-6.1-4-.6-1 5.1-4 5-3 3.1-1zM161.1 -9l-5.1 1.7-5 3.2-3.6 3.1 .4 1 6.2 4 4.3 2 3.5 1 14.7 1 6.5 1.3 6 .7 18 1 34-.7 11.2 .7 .5 1-4.9 2-1.2 1 0 1 5.4 .8 1-.4 2-2.1 3-1.1 2-.3 2.9-1.9 5.1-1.5 2.1-1.5-1.1-1-1-.3-5-.8-17-.4-12-.8-23-.2-5-.5-2.6-1 2.9-2 .8-1 0-2-1.5-2-4.2-2-4.4-1-8-1-17-.5-10-.6z"/><path fill="#28a0d5" stroke="#28a0d5" fill-rule="evenodd" d="M160 -9.2l3-.4 12 .8 15 .4 9 1 3 .7 4 1.6 3.5 3.1 .4 1-.4 1-3.1 3 2.6 .8 54 1.3 9 1.1 2.4 .8 .5 1-6.9 4.2-2.1 .8-2.9 2.2-7 2.4-2.2 1.4-15.8 2.4-4.4-1.4-.6-1-.1-1 2.1-.6 2.9-2.4 4.1-1.5 1.8-1.5-3.8-1-14 0-8 .5-10 .1-9-.1-16-1.2-7-1.6-16-1.7-6.7-3-6.2-4-.5-1 2.4-2.1 6-4.1 4.3-1.8zM160.1 -9l-3.1 1-5 3-5.1 4 .6 1 6.1 4 4.1 2 3 1 15.3 1.3 7 1.5 17 1.3 18 .1 8-.5 15 0 6 .5 1 .4 .3 .4-9.7 5-.1 2 1.5 .9 4-.3 6-1.6 3-.1 3-1.9 6-1.7 3-2.7 3-.9 4.6-2.7-.8-1-.8-.2-8-1.3-17-.4-12-.7-26.2-.4-2.7-1 3.2-3 .2-1-.3-1-3-3-3.2-1.2-4-1-8-1-18-.5-9-.7-2 .2zM229 18.3l.8 .7-.8 2-1-.9 .5-1.1z"/><path fill="#3bbee5" stroke="#3bbee5" fill-rule="evenodd" d="M228 -29.1l9-.5 3 .6 2 .9 4-.8 2.5 .9 .4 1-.7 1-1.2 .6-4 1.1-3-.4-5 1.2-2.2-.5-1.8-1.3-3-1-1-1.7 .7-1zM159 -9.2l5-.6 9 .7 17 .4 11 1.3 5 1.7 5 3.7 .5 1-.4 1-3.3 3 2.2 .5 57 1.3 8 1.3 2 .9 .1 1-5.3 3-3.8 2.9-5 2.6-4 1.4-4 2.1-4 .9-9 .9-4 1-4-.4-3 1-2 .1-8-2.2-3-2-2-.2-1.4-1.1 .1-1 1.9-1 3.4-.5 2 .4 2 1.7 1 0 3-1.5 6-1.2 5-1.6 2.2-1.3-9.2-.6-14 .5-24-.1-12-1-7.2-1.8-14.8-1.8-3-1.1-5-2.6-5.2-3.5-.6-1 8.8-6.4 3.6-1.6zM159.3 -9l-4.3 1.8-6 4.1-2.4 2.1 .5 1 6.2 4 6.7 3 16 1.7 7 1.6 16 1.2 9 .1 10-.1 8-.5 14 0 3.8 1-1.8 1.5-4.1 1.5-2.9 2.4-2.1 .6 .1 1 .6 1 4.4 1.4 15.8-2.4 2.2-1.4 7-2.4 2.9-2.2 2.1-.8 6.9-4.2-.5-1-2.4-.8-9-1.1-54-1.3-2.6-.8 3.1-3 .4-1-.4-1-3.5-3.1-4-1.6-3-.7-9-1-15-.4-12-.8-3 .4zM228.5 19l-.5 1.1 1 .9 .8-2-.8-.7zM196 13.7l1.2 .3 0 1-1.2 .5-1-.5 .1-1zM208 15l2-.8 1.9 .8-1.8 3-1.1 .6-4.4-.6-1.1-1-.4-1 2.9-.2 2-.8z"/><path fill="#80cbe3" stroke="#80cbe3" fill-rule="evenodd" d="M225 -32.1l9 .2 3-.7 4 .8 2 .9 8 .8 2 3.4 4-.2 2-.9 .7 .8-.6 1-1.1-.1-1 .8-1 1.5-3-.3-2 1-4 .5-3 1.1-3-.1-3 .7-2-.8-9-1.8-3 .3-1-.3-4.3-2.5-.2-2 1.2-2 1.3-1.1 3.3-.9zM227.7 -29l-.7 1 1 1.7 3 1 1.8 1.3 2.2 .5 5-1.2 3 .4 4-1.1 1.2-.6 .7-1-.4-1-2.5-.9-4 .8-2-.9-3-.6-9 .5zM213 -27.5l.5 .5-1 0zM163 -10.1l10 .8 17 .4 9 .6 4 .8 3 1 6.5 4.5 .4 1-.3 1-2.4 2-.6 1 1.4 .2 23 .2 12 .8 22-.2 9 1.5 1.1 .5 .8 1-.2 1-1 1-3.7 2-3.3 3-7.7 4.5-4.1 1.5-2.9 2.1-3-.3-10 .6-5 1.5-4 0-3 1.6-4-.5-3 .3-3-1-6-.7-1-.4-2-2-1.5 .8-.5 1.6-1 .1-1-.8-1.1-1.9-.9-.5-4-.4-4-1.9-4 0-2-.9-5-1.2-2-1.6-4-1.4-.8-1.1-1.4-1-1.8-.7-6-1.5-9-1-3-.7-8-4.1-4.5-3-.7-1 4.2-3.3 6-3.9 3-1.2 3.1-.6zM158.6 -9l-3.6 1.6-8.8 6.4 .6 1 5.2 3.5 5 2.6 3 1.1 14.8 1.8 7.2 1.8 12 1 24 .1 14-.5 9.2 .6-2.2 1.3-5 1.6-6 1.2-3 1.5-1 0-2-1.7-2-.4-3.4 .5-1.9 1-.1 1 1.4 1.1 2 .2 3 2 8 2.2 2-.1 3-1 4 .4 4-1 9-.9 4-.9 4-2.1 4-1.4 5-2.6 3.8-2.9 5.3-3-.1-1-2-.9-8-1.3-57-1.3-2.2-.5 3.3-3 .4-1-.5-1-5-3.7-5-1.7-11-1.3-17-.4-9-.7-5 .6zM221.9 12l-1.9 .7-5 .3 11 1.5 6-.8 1.9-.7 .3-1-12.2 0zM195.1 14l-.1 1 1 .5 1.2-.5 0-1-1.2-.3zM208 15l-2 .8-2.9 .2 .4 1 1.1 1 4.4 .6 1.1-.6 1.8-3-1.9-.8-2 .8z"/><path fill="#a8dbe9" stroke="#a8dbe9" fill-rule="evenodd" d="M240 -36.3l1 0 2 .9 3-.2 2 2.4 1 .2 3-.6 4 2.6 3-.5 5 .8 1.5 .7 .5 .9 1-.2 2-1.6 2 .9 .1 1-3.8 3-.4 1 .8 2-.7 1.2-5 .2-4 .9-4-.4-3 2.6-1-.1-3-1.5-3 .7-2-.2-3 1.6-6-2.2-1 .2-1 1-1 .1-2-1.4-1-.3-3 .8-3 0-3-2.2-6.2-2-2.8-3.1-1.4-.9 .6-1 3.8-2.4 4-.9 3-2.5 1-.3 3 1.1 2-.5 3 .2 3-1.1 3 .8 5.1-1.4zM224.3 -32l-3.3 .9-1.3 1.1-1.2 2 .2 2 4.3 2.5 1 .3 3-.3 9 1.8 2 .8 3-.7 3 .1 3-1.1 4-.5 2-1 3 .3 1-1.5 1-.8 1.1 .1 .6-1-.7-.8-2 .9-4 .2-2-3.4-8-.8-2-.9-4-.8-3 .7-9-.2zM212.5 -27l1 0-.5-.5zM204 -27.4l1-.2 1.4 .6 .4 3-.8 .4-1-.2-1-.8-.5-1.4 .3-1zM161 -10.1l2-.3 13 1 14 0 4 .5 6-.4 2 .3 4 1.5 3.1 2.5 3.7 2 1.1 1 .4 1 0 1-2.2 2 .3 1 21.6 0 4 .4 5-.1 3 .5 4-.3 3 .3 6-.3 8-1.1 9 1.4 6-.8 1 .3 .4 .7-.4 1.2-1.3 1.8-6.7 4.8-3 3.5-4.1 1.7-2.9 3.6-2 1.2-.2 3.2-.8 1.3-1 .2-2-.6-2 1.6-4-4.3-5-.4-5 .3-2 .4-4 2-2.8 .5-3.2 2.5-1 .1-3-1.1-4-.3-3-.8-11 1-.8 .6 .8 1.5 0 1.5-3.5 2-4.5 .8-2-2.2-1 0-2 1.4-1 .2-3.6-1.2-.1-1 .7-1.2 2.8-1.8 .8-1 1.4-5-.3-1-1.7-.1-3 1.2-1-.3-1-1.8-1.5-1-3.5-.3-2 1.1-2-.2-1.1-.6-.8-1-1.6-3-.9-3-.6-.5-3 .4-1.5-.9-1.7-2-6.8-.7-4-.9-8-4.1-4.8-3.3-.8-1 10.6-7.6 4.7-1.4zM162.1 -10l-3.1 .6-3 1.2-6 3.9-4.2 3.3 .7 1 4.5 3 8 4.1 3 .7 9 1 6 1.5 1.8 .7 1.4 1 .8 1.1 4 1.4 2 1.6 5 1.2 2 .9 4 0 4 1.9 4 .4 .9 .5 1.1 1.9 1 .8 1-.1 .5-1.6 1.5-.8 2 2 1 .4 6 .7 3 1 3-.3 4 .5 3-1.6 4 0 5-1.5 10-.6 3 .3 2.9-2.1 4.1-1.5 7.7-4.5 3.3-3 3.7-2 1-1 .2-1-.8-1-1.1-.5-9-1.5-22 .2-12-.8-23-.2-1.4-.2 .6-1 2.4-2 .3-1-.4-1-6.5-4.5-3-1-4-.8-9-.6-17-.4-10-.8zM222 12l12.2 0-.3 1-1.9 .7-6 .8-11-1.5 5-.3 1.9-.7z"/><path fill="#c4e8f7" stroke="#c4e8f7" fill-rule="evenodd" d="M232 -39.1l1 .6 1.1 1.5 1.9 .8 5-2 3 1.2 3-1.2 1 .5 1 2 1-.5 1-1.5 1-.3 1 1 .2 2 .8 .8 2 .5 2.3-2.3 2.7-1.2 1-.1 .8 .3 .4 1-1 3 .8 .5 3 .1 2-.7 4 1.3 2.3 4.8 0 4-.3 .3-2 0-1 .6-.6 1.1 0 1-1.4 1.3-1 .1-3-1.7-2-.3-3 1.3-5-.8-1 .3-2 2.3-1 .4-4-.8-2 .3-2-.3-3 1.1-4-.5-4 1-2-.3-3-1.8-1-.2-5 1.1-5-2.9-3-.3-3-1.1-5-.4-2-1.4-.8-1.4-.3-2 .4-2-.5-3 1.2-1.4 1-.2 3 1.3 1-.1 .8-.6 .1-1-.9-2.1 1.5 .1 1.9 2 3.6 .3 2-1 2-1.9 1-.1 3 1.1 5 .2 1.3-.6 2.6-3zM239.1 -36l-5.1 1.4-3-.8-3 1.1-3-.2-2 .5-3-1.1-1 .3-3 2.5-4 .9-3.8 2.4-.6 1 1.4 .9 2.8 3.1 6.2 2 3 2.2 3 0 3-.8 1 .3 2 1.4 1-.1 1-1 1-.2 6 2.2 3-1.6 2 .2 3-.7 3 1.5 1 .1 3-2.6 4 .4 4-.9 5-.2 .7-1.2-.8-2 .4-1 3.8-3-.1-1-2-.9-2 1.6-1 .2-.5-.9-1.5-.7-5-.8-3 .5-4-2.6-3 .6-1-.2-2-2.4-3 .2-2-.9-1 0zM203.8 -27l-.3 1 .5 1.4 1 .8 1 .2 .8-.4-.4-3-1.4-.6-1 .2zM287 -35.1l1 .1-.3 1-1.7 .1-1 2.1-1 .8-3-.2-.8-.8 .8-1.4 1-.8 2-.5 2 .5 .8-.8zM287 -25.8l1 .1 .5 .7-1.5 2.6-1 .6-.4-1.2 .6-2zM275 -20.3l.2 .3-.4 0zM273 -19.2l1-.3 .3 .5-1.5 0zM160 -10l3-.6 10 1 12 .3 6-.4 3 .5 6-1 4 .4 3 1.8 2.9 3 4.1 2.3 1.1 1.7 .1 1-.4 1-1.2 1 3.4 1 8-.9 4 .7 5-.7 2.2 .9 1.8 .2 4-.3 4 .5 4-.3 3 .2 8-1.1 6-.4 8 1.1 8-.7 1.7 .8 .2 1-1.4 3-7.5 5-3.1 4-.9 .8-3.6 1.2-.8 2 .4 .7 2.3 .3 .7 1-.5 1-1.5 .7-2-.7-1 .1-1 1.1-2 3.7-1 .9-3-.3-2 1.9-1 .3-1.1-.7 0-3-1.9-3-1-.4-4-.3-5 .2-2 .5-4 2.3-2.2 .7-3.8 4-3-1.4-3-.9-1.2 .3-1.8 2-2 .5-1-.4-.5-1.1 1.4-1 .4-1-1.3-.1-4 1.6-.7 2.5-1.6 3-3.7 .9-5-1-3 .8-1-.2-2-1.5-2 .3-5-.3-1-.4-1.9-1.6 .3-1 .6-.2 1.4-1.8 .3-2-.8-4-.9-1.5-1-.5-5 0-2-.4-1.4-.6-2.6-2-1.8 2-1.2 .2-1-1-.1-1.2 1-3-.2-1-1.7-1.1-3.1 .1-.2-1 .8-2-.9-1-6.6-.7-5-1.6-6-3.3-5.8-4.4 10.8-7.8 3.9-1.2zM160.7 -10l-4.7 1.4-10.6 7.6 .8 1 4.8 3.3 8 4.1 4 .9 6.8 .7 1.7 2 1.5 .9 3-.4 .6 .5 .9 3 1.6 3 .8 1 1.1 .6 2 .2 2-1.1 3.5 .3 1.5 1 1 1.8 1 .3 3-1.2 1.7 .1 .3 1-1.4 5-.8 1-2.8 1.8-.7 1.2 .1 1 3.6 1.2 1-.2 2-1.4 1 0 2 2.2 4.5-.8 3.5-2 0-1.5-.8-1.5 .8-.6 11-1 3 .8 4 .3 3 1.1 1-.1 3.2-2.5 2.8-.5 4-2 2-.4 5-.3 5 .4 4 4.3 2-1.6 2 .6 1-.2 .8-1.3 .2-3.2 2-1.2 2.9-3.6 4.1-1.7 3-3.5 6.7-4.8 1.3-1.8 .4-1.2-.4-.7-1-.3-6 .8-9-1.4-8 1.1-6 .3-3-.3-4 .3-3-.5-5 .1-4-.4-21.6 0-.3-1 2.2-2 0-1-.4-1-1.1-1-3.7-2-3.1-2.5-4-1.5-2-.3-6 .4-4-.5-14 0-13-1-2 .3zM193.6 23l-1 1-.2 1 0 1 .6 .8 1 0 .9-1.8 0-1-.9-1.2zM267 27.5l.9 .5 1.1 2 2 .7 2-.3 1 .6 1.4 3 .1 3-1.5 0-1.5-1 .2-2-.7-.5-2 0-2.5-1.5-1.4-2-.2-1 .6-1zM291 27.3l0 2.2-.7-.5-.2-1zM286 31.6l1-.2 .7 .6-.7 2.6-1 .3-1-.6-.2-1.3 .5-1zM227 33.7l1-.2 .5 .5 .2 2-.7 1.1-1-.9-.2-2.2zM290 35.7l1-.3 0 3.3-1.9-.7-.7-1 .7-1zM254 39.8l1-.5 1.2 .7 .4 1-2.8 0 .1-1zM214 40.4l1-.1 .6 .7-2.2 0zM245 40.3l1-.1 1.5 .8-3.3 0z"/><path fill="#fcf0dc" stroke="#fcf0dc" fill-rule="evenodd" d="M100 -41l1.5 0-.5 1-1.1 1 .5 1-.1 1-1.3 1.8 0-5.8zM106 -40.2l.6-.8 11.5 0 .9 .5 3.9-.5 4.1 .6 3-.2 3 .9 .7-.3 .5-1 7.1 0 1.7 .9 4 .8 .9-1.7 27.1 0-1.1 3 .1 1.1 9 2 2 1.7 1 .2 1.7-1 .3-1-.4-3-.8-1 .1-2 1.8 0-.6 2 .2 1 2.1 2 .4 4-.2 3 1.8 3 .1 3 .5 1 3-.1 1.1-.9 .9-2.5 1.1 .5 .2 2-1.7 3 .5 1 2.4 1 1 1 .1 1-1.3 3-1.3 .7-3 .1-2 1.3-3 0-2.1 .9-4.9 .5-12-.3-9-1.1-5 .5-2-1.3-3-.6-.1 2.3 1.1 2-9.4 7 .9 1 5.5 3.6 5 2.9 5 1.9 4.3 .6 1.6 1-.9 1.5-2.4 1.5-1.6 1.8-3 .3-.9 .9 .2 2 1.7 1.3 5-1.9 1 0 2 1.8 2-1.1 2.8 3.9 2.2 1.3 3 1 .6 .7 .2 2 .7 1 3.5 1 .7 1-.2 3 .5 3-.6 3-1.5 2-14.7 0-1.2-.5-.3 .5-2.6 0-.1-1.6-1-1.3-2-.3-2.6 1.2-.2 1 .4 1-3.1 0-.5-.5-1-.1-.8 .6-4.5 0-1.7-1.2-1.5 .2-1.4 1-1.3 0-.8-.9-.2 .9-2.4 0-.1-3 .7-.9 1-.2 2 .3 2 1.2 2 .2 3 1.5 1-.1 2-1.6 2.9-.4 1.1-2.5 1-.8 3 .8 2 2.3 2-.1 3-1.7 2-.5 2 .3 2 1.5 1-.4 .8-1.9 2.2-1.9 2-.9 1 1.1 1 .1 .6-1.4-.1-1-2.5-1.2-2.5-3.8-3.5-1.8-3-.1-3-1.4-2-.2-.9-.5-1.1-1.4-1 .4-.5 1 .1 3-.6 .4-1-.1-5-4.1-2-.9-.4-2.3 .8-1 3.8-3 3.8-.7 3.2-2.3 .5-1-1.4-1-2.3-.3-5-2.1-10-6.1-1.8-1.5 1.8-.9 2.1-2.1 .2-1-.7-2 0-6-.6-1-3-.7-1-2.4-3.1-1.9 1.5-1 3.6-.4 1 .3 2 1.8 3 .4 2 .9 2-1.8 1 .7 .3 1.1-.4 3 3.9 3 3.2-.2 8 1.2 5 .3 11.6-.3 3.4-2.2 4-1.3 3 .1 1.4-1.6 .4-1-.4-1-2.4-1-2-1.7-2-.1-1-.5-2-3-2.2-1.7-.8-3.4-1-1.7-4-.6-2 2.7-1 .6-1-.5-1-1.7-1-.2-1.6 .8-.4 1.7-1 .3-.1-2-1-2-.7-3-1.2-.3-3 .7-2 2.3-1 .5-2.4-3.2 1.4-1.4 3 0 .8-.6-.3-2-.5-.8-.7-.2-2.3 .2-3-.6-.9 4.4-1.1 .4-4-2.2-1-.1-.7 2.9-1.3 1.1-2 .6-2-2.4-2-1.7-1-.1-1 1.1-1 .5-1-.2-2-2.2-1 .3-1 2.1-1 .4-1.5-.5-1.2-2-3.3-1.8-7-.6-1.3 .4-.7 1-1 .3-1-.1-3 1-.5-.2-.5-1.7-1-.6-.5 2.3-3.5 2.4-1 .1-3-.7-.9 .2-2.4 3-1.7 .7-2 .1 0-3.7 2 .8 1-.4 1-2.3 1-1.1 3 .2 .6-.3-.6-1.2-1.2-.8zM175.6 -34l1.4 1.1 1.5-.1 .5-.6 0-.5-3-.7zM209 -41l2.2 0-.2 .7-1 .7-1-.7-.3-.7zM235 -41l2.6 0-.6 1.7-1 .3-1-1-.4-1zM255 -41l2.6 0-.6 .7-1 .3-1-.2-.9-.8zM261 -41l2.1 0-1.1 1.1-1.1-1.1zM203 -37.2l1.1 .2-4.1 3.2-1.3-.2-.7-1 1-1.4 1-.5 2.1-.1zM99 -30l.3 4 .6 1 2.1 .9 3-.7 1.1 .8-.4 1-2.7 2.5-4 2.2 0-1.7 2.7-1 .7-1-1.4-.9-2 0 0-7.3zM291 -28.2l0 .8-.3-.6zM278 -24.8l1.7 .8 .8 1-.4 1-1.1 0-1-.5-.6-1.5zM258 -16.2l2 .3 4 2.8 3-1 4-.5 3 1 1-.1 3-2.3 1-.1 1.2 1.1-.2 1.7-1.4 1.3 1.1 1 1.3 .3 2-1 2 .3 2-.5 1 .3 .7 1.6-1 3 .1 1 1.2 1.2 2 .2 0 1.6-3-1-2-1.4-2.9-.6 .3-2-.4-1.1-3 .2-4-1.5-2-.1-3-2.3-2 .1-5 1.5-1-.2-4-2.7-4 1.5-3-1-6-.5-4 .7-5-.5-3 .8-4 0-3-.8-4 1.6-3-.3-1.3 .6-5.3 4-.4 2 4 3.6 3 0 2 1.3 1 0 2-.9 5 1.2 3-.3 3 .4 4-.7 4 .5 4-.9 7-.5 1.9 .3 2.1 1.1 5 1.3 11 1.1 9-.8 5-1 2 .8 0 1.8-3-1.4-13 1.1-14-1.5-2 .1-4-1.6-2 .6-1.6 1.4-4.4 1.4-1.2-.4-.3-1-.5-.4-5-1-4 .8-3-.7-4 .2-4-.9-2 1.6-1 .2-2-2-2 .4-1-.2-3-2.9-3.7-2.1-.5-1 .2-2.7 1.7-2.3-.1-2 1.2-1 1.2-.4 1 0 2 1 3 .1 3 1.1 1.8-.8 1.2-1.2 1-.1 3 1 4 .1 3-1 5 .6 4-.7 3 .5 4-.3 2 .7 1-.2 1.7-1.4zM205 -15.3l1-.4 1 .4 1.2 1.3 .2 1-.4 .7-1 .3-4.5-1 2.1-2zM100 6.8l7 1.8 4 3.6 2-.2 3 1.1 4.7 2.9 .9 2 2 2 0 2-1.6 4-2.1 0 .6-3-.5-1.6-1-.7-1 .1-1.6 2.2-2.3 1-1.1 1.3-4.2 .7-1.1 2 .1 1 1.2 2.6 5-2.6 1 .3 .9 1.7 1.1 .8 2-2.4 1 .4 .3 1.2-.3 1.1-.9 .9 .2 1 2 2 .7 .4 3-.3 3 .9 2 1.2 2-1 1 .1 2.9 1.7 .3 2-2.1 0-1.1-.8-2.3 .8-4.4 0 .1-2-.4-1-1-.3-3 .7-3-1.9-1 0-.2 .5 1.6 3 0 1-2.2 0-.2-.3-3.1 .3 .1-1-1-1.5-2-1.2-2-.4-1.1 .1-1.1 1 .8 3-2.2 0-.4-.6-1 .6-1.4 0 .2-2-.3-1-3.5-4.7 0-6 3 2.4 1.6-1.7 .1-1-.7-1.4-1-.5-3 1.7 0-4.3 2-1.2 3-.3 .3-1-.2-1-1.1-.6-1 0-3 1.2 0-2.5 4 0 1.8 .9 1.1 1 .4 3 .4 1 1.3 .8 1 .1 1.5-.9 .7-3-2.2-.5-1-.8-.2-.7 1.3-4-.1-1-1-1-5-.2-1.9-.8 .4-2-1.5-.1-1 .5 0-3.2zM112.4 15l.6 1.9 1 .2 .6-1.1-.6-1-1-.3zM99.9 31l-.8 1 .9 .3 1-.5 .3-.8-.3-.8-1 .8zM111.9 32l-.1 2 1.2 1.9 4.4 .1-1.1-2-2.3-2.3-1-.3-1 .5zM108.7 33l-2.7 1-.7 1 .7 .7 3-.7 .4-1-.4-1.2zM288 7.9l1 .2 2 2 0 1.1-3-2.2-3 .3-5 2.3-1.2 1.4-1.3 3-.6 4 .5 1 2.6 3.1 3-1.1 4-.1 4 .3 0 1.8-3.3 1-1.7 2.5-1 0 0-1.5 .5-1-.8-1-1.7-.4-2.4 1.4-1.6-.1-2-2.5-2.1-1.4-.5-1 1.2-3 .1-2 .4-1 2.1-3 2.8-2 4-1.6 2.5-.4zM139 17.9l1 .1 .5 1-3.5 3.3-1 .5-2 0-3 1.4-3.5-.2 1.5-1 2-3.5 1-.9 3 .5 3.6-1.1zM144 17.5l1 .4 .7 1.1 2.2 2 .2 2-.8 1-1.4 0-1.5-1-1.4-4 .1-1zM181 22.7l4.6 1.3 .4 1.1-1 .4-3.6-1.5-1.2-1zM244 24l4 0 4 .8 .9 1.2 .2 1-.6 2-3.5 3.7-4 .7-3-.6-3 1.5-1 .1-.8-1.4-.5-4 1.4-2 1.9-1.8 2-.9 1.8-.3zM241.3 25l-1.6 1-1.3 2 .1 2 .5 1.1 1 .7 6 .5 2-.2 1.6-1.1 2.4-3 0-2-1.3-1-4.7-.7-4 .5zM253 33.9l0 .4-.1-.3zM197 37.8l2 .2 1 .5 1 .8 .6 1.7-5.2 0-.6-2 .4-1zM187 38.7l1-.4 2.1 .7 .4 1-.3 1-4.9 0 .3-1 1-1zM285 39.5l1-.1 1 .4 1 1.2-5.1 0 1.4-1z"/><path fill="#fce4bc" stroke="#fce4bc" fill-rule="evenodd" d="M114 -39.3l1 .6 .5 1.7 .5 .2 3-1 1 .1 1-.3 .7-1 1.3-.4 7 .6 3.3 1.8 1.2 2 1.5 .5 1-.4 1-2.1 1-.3 2 2.2 1 .2 1-.5 1-1.1 1 .1 2 1.7 2 2.4 2-.6 1.3-1.1 .7-2.9 1 .1 4 2.2 1.1-.4 .9-4.4 3 .6 2.3-.2 .7 .2 .5 .8 .3 2-.8 .6-3 0-1.4 1.4 2.4 3.2 1-.5 2-2.3 3-.7 1.2 .3 .7 3 1 2 .1 2 1-.3 .4-1.7 1.6-.8 1 .2 1 1.7 1 .5 1-.6 2-2.7 4 .6 1 1.7 .8 3.4 2.2 1.7 2 3 1 .5 2 .1 2 1.7 2.4 1 .4 1-.4 1-1.4 1.6-3-.1-4 1.3-3.4 2.2-11.6 .3-5-.3-8-1.2-3.2 .2-3.9-3 .4-3-.3-1.1-1-.7-2 1.8-2-.9-3-.4-2-1.8-1-.3-3.6 .4-1.5 1 3.1 1.9 1 2.4 3 .7 .6 1 0 6 .7 2-.2 1-2.1 2.1-1.8 .9 1.8 1.5 10 6.1 5 2.1 2.3 .3 1.4 1-.5 1-3.2 2.3-3.8 .7-3.8 3-.8 1 .4 2.3 2 .9 5 4.1 1 .1 .6-.4-.1-3 .5-1 1-.4 1.1 1.4 .9 .5 2 .2 3 1.4 3 .1 3.5 1.8 2.5 3.8 2.5 1.2 .1 1-.6 1.4-1-.1-1-1.1-1 .3-2.3 1.5-1.7 2.9-1 .4-2-1.5-2-.3-2 .5-4 1.9-1-.1-2-2.3-3-.8-1 .8-1.1 2.5-2.9 .4-2 1.6-1 .1-3-1.5-2-.2-2-1.2-2-.3-1 .2-.7 .9 .1 3-2.2 0-.3-2-2.9-1.7-1-.1-2 1-2-1.2-3-.9-3 .3-.7-.4-2-2-.2-1 .9-.9 .3-1.1-.3-1.2-1-.4-2 2.4-1.1-.8-.9-1.7-1-.3-5 2.6-1.2-2.6-.1-1 1.1-2 4.2-.7 1.1-1.3 2.3-1 1.6-2.2 1-.1 1 .7 .5 1.6-.6 3 2.1 0 1.6-4 0-2-2-2-.9-2-4.7-2.9-3-1.1-2 .2-4-3.6-6.4-1.6-1.6-.8 0-4.1 3 .6 3 2.8 3 .4 2 1.5 3 0 4.3 2.6 3.7 3.6 8 2.6 4-.1 3 .6 3-.7 3-.1 3-.9 4 .3 2-.4 1-.3 4.9-3.6 2-2-1-1-7.9-4.3-2-1.6-2-1.1-2-.2-2-.8-.1-3-.4-1-1.5-2.3-3-2.7 .3-1 1.1-1 .7-2-.1-.9-1 .2-2-.5-1-.7-.4-1.1 .6-3-.2-1.5-1-.1-2 .7-4-.3-2.3-.8-1.7-1.5-1-.3-4 2.3-9 2.2-2-.2-2-.8-.8 .3 .5 2-.6 3 .5 3-.6 .6-3-.1-3 1.9 0-9.7 4-2.2 2.7-2.5 .4-1-1.1-.8-3 .7-2.1-.9-.6-1-.3-5.2 2-.1 1.7-.7 2.4-3 .9-.2 3 .7 1-.1 3.5-2.4 .3-2zM129.2 -32l-.7 1 .5 .7 3 .1 3 1.2 1 1 0 3 1 .4 1.1-1.4 .6-2-.7-1.4-4-2.6-2 .2-2-.6zM118.7 -29l.3 .6 1.2-.6-1.2-.4zM164.8 -27l-1.2 1-.3 1 0 5-1.3 2 .3 2-1.3 2 1.2 1 4.9 2 4.9 .9 13.1 .1 2.3-1 4-5-.2-1-1.2-1.2-1.5-2.8-.5-.4-10-2.5-3 .5-3-.9-2 .9-1-.1-1-.9-1-2.3-2-.4zM138.6 18l-3.6 1.1-3-.5-1 .9-2 3.5-1.5 1 3.5 .2 3-1.4 2 0 1-.5 3.5-3.3-.5-1-1-.1zM143.1 18l-.1 1 1.4 4 1.5 1 1.4 0 .8-1-.2-2-2.2-2-.7-1.1-1-.4zM164.8 26l-4.9 2-.4 1 1.5 2.8 3 1.5 2 .3 7-.7 2-1.2 1.1-1.7-.4-2-1-1-1.7-.8-5-.7-3 .4zM152.6 28l-.1 1 1.4 0 .1-1.2-1-.2zM176 -34.8l3 .7 0 .5-.5 .6-1.5 .1-1.4-1.1zM246 -14.1l6 .5 3 1 4-1.5 4 2.7 1 .2 5-1.5 2-.1 3 2.3 2 .1 4 1.5 3-.2 .4 1.1-.3 2 2.9 .6 2 1.4 3 1 0 3.5-2-.8-6 1.1-9 .7-10-1.1-5-1.3-2.1-1.1-2.9-.3-6 .5-4 .9-4-.5-4 .7-3-.4-3 .3-5-1.2-2 .9-1 0-2-1.3-3 0-4-3.6 .4-2 3.6-3 3-1.6 3 .3 4-1.6 3 .8 4 0 3-.8 5 .5 3.3-.6zM226.2 -12l-9.7 4-1.1 1-.2 1 .7 1 1.1 .5 2 0 3 1.3 4 .2 4 1 5 .2 5-.6 4 .4 8-1.7 5 0 4 1.1 4 2.2 9 1.1 9-.6 3-1.1 .8-1-.6-1-1.2-.7-6-1.8-6-.2-5-.9-3 .4-1.3-1.8-1.2-1-2.5-1.5-2-.6-3 .3-6-1-6 .3-5-.7-9 .8-2-.7zM287 8.9l2 .6 2 1.7 0 1.9-4-2.4-2 .2-2.6 1.1-1.4 1-1.2 2-.4 2 .1 2 1.5 1.5 3 .7 5-1.1 2-2.4 0 5.5-4-.3-4 .1-3 1.1-2.6-3.1-.5-1 .9-5 2.2-3.4 6.4-2.6zM101 18.7l2-.3 1 .6 .3 1-.3 1-3 .3-2 1.2 0-2.9 1.4-.6zM242 24.8l4-.5 4.7 .7 1.3 1 0 2-2.4 3-1.6 1.1-2 .2-6-.5-1-.7-.5-1.1-.1-2 1.3-2 1.6-1zM241.2 26l-1 1-.2 2 .9 1 1.1 .4 5 .7 1.9-1.1 1.4-2 .1-1-.4-.6-2-1-3-.4-3 .7zM109 32.8l.4 1.2-.4 1-3 .7-.7-.7 .7-1 2.7-1zM160 37.8l2 .3 1 1.3 .1 1.6-5.5 0-.4-1 .2-1 1.8-1zM105 40.4l.4 .6-1.4 0zM117 40.7l.2 .3-1.1 0z"/><path fill="#f8d099" stroke="#f8d099" fill-rule="evenodd" d="M130 -32.4l2 .6 2-.2 4 2.6 .7 1.4-.6 2-1.1 1.4-1-.4 0-3-1-1-3-1.2-3-.1-.5-.7 .7-1zM119 -29.4l1.2 .4-1.2 .6-.3-.6zM165 -27.1l2 .4 1 2.3 1 .9 1 .1 2-.9 3 .9 3-.5 10 2.5 .5 .4 1.5 2.8 1.2 1.2 .2 1-4 5-2.3 1-13.1-.1-4.9-.9-4.9-2-1.2-1 1.3-2-.3-2 1.3-2 0-5 .3-1 1.2-1zM172.4 -22l-4.4 2-2.4 2-.7 1-.3 2 .2 1 .9 1 3.1 2 7.2 1 7-.2 3-.9 1.1-.9 1.3-2 .6-2-.3-1-1.7-2.5-4-1.7-4-.9-6 0zM122 -22.3l1-.5 1 .3 1.7 1.5 2.3 .8 4 .3 2-.7 1 .1 .2 1.5-.6 3 .4 1.1 1 .7 2 .5 1-.2 .1 .9-.7 2-1.1 1-.3 1 3 2.7 1.5 2.3 .4 1 .1 3 2 .8 2 .2 4 2.7 7.9 4.3 1 1-.7 1-6.2 4.6-2 .6-5-.2-3 .9-3 .1-3 .7-3-.6-4 .1-8-2.6-3.7-3.6-4.3-2.6-3 0-2-1.5-3-.4-3-2.8-3-.6 0-3.8 6 4.1 3 .6 3 1.3 3 .7 5 3.7 1.3 2.3 1.7 1.6 8 2 5 .5 6-.3 3-.9 7-1 2.7-1.9 1-2-.2-1-1.4-2-9.1-3.2-4-.7-1.3-1.1-.9-5-3.8-4.7-2-1.3-.3-1 .5-3-1.8-3-1.4-.9-5-1-8 1.9-4 0-3.3 1-1.1 1 .5 3-.9 3-1.2 .5-4 0-3 1.9 0-2 2-1.4 1-.5 3 .1 .6-.6-.5-3 .6-3-.5-2 .8-.3 2 .8 2 .2 9-2.2 2.6-1.5zM227 -12.1l2 .7 9-.8 5 .7 6-.3 6 1 3-.3 2 .6 2.5 1.5 1.2 1 1.3 1.8 3-.4 5 .9 6 .2 6 1.8 1.2 .7 .6 1-.8 1-3 1.1-9 .6-9-1.1-4-2.2-4-1.1-5 0-8 1.7-4-.4-5 .6-5-.2-4-1-4-.2-3-1.3-2 0-1.1-.5-.7-1 .2-1 1.1-1 9.7-4zM224.8 -10l-3.4 2-.9 1 .2 1 1 1 1.3 .5 7 1.6 5 .2 6-.5 3 .3 11-2.5 3 0 1.5-.6 .7-1-.3-1-.9-.6-3 .6-2-1.5-6-1-5 .1-5-.5-8 .6-4-.1-1 .3zM268.7 -5l-3.7 1.5-.6 .5 .1 1 2.5 1.3 8 .9 8-1 1.5-1.2-.9-1-4.6-1.4-10-.7zM285 10.9l2-.2 4 2.4 0 4.6-2 2.4-6 1.1-3-1.4-.6-1.8 .1-2 1.5-3 3.7-2zM283.6 13l-1.5 1-.7 1-.2 2 .5 1 2.3 1.4 4.3-1.4 .5-1-.1-1-1.2-2-1.5-1.1-2-.1zM165 25.9l3-.4 5 .7 1.7 .8 1 1 .4 2-1.1 1.7-2 1.2-7 .7-2-.3-3-1.5-1.5-2.8 .4-1 4.9-2zM165.5 27l-2.4 1-1 1 0 1 .7 1 2.2 1.1 2 .4 5-.3 2-1.1 .7-1.1 0-1-.6-1-1.1-.7-4-.8-3 .4zM242 25.7l3-.7 3 .4 2 1 .4 .6-.1 1-1.4 2-1.9 1.1-5-.7-1.1-.4-.9-1 .2-2 1-1zM242.1 27l-.5 1 .9 1 3.5 1.1 1-.1 1-.8 .7-1.2-.3-1-1.4-.7-2-.2-2 .6zM153 27.6l1 .2-.1 1.2-1.4 0 .1-1z"/><path fill="#f2a673" stroke="#f2a673" fill-rule="evenodd" d="M173 -22.1l6 0 4 .9 4 1.7 1.7 2.5 .3 1-.6 2-1.3 2-1.1 .9-3 .9-7 .2-7.2-1-3.1-2-.9-1-.2-1 .3-2 .7-1 2.4-2 4.4-2zM175.5 -21l-3.5 .5-4 1.9-1.6 1.6-.4 1 .3 2 3.7 3 6 .7 5-.1 3-.5 2-1.1 .9-1 .9-3-.8-1.8-1-.8-4-1.8-4-.8-2 .1zM121 -18l3-.9 5 1 1.4 .9 1.8 3-.5 3 .3 1 2 1.3 3.8 4.7 .9 5 1.3 1.1 4 .7 9.1 3.2 1.4 2 .2 1-1 2-2.7 1.9-7 1-3 .9-6 .3-5-.5-8-2-1.7-1.6-1.3-2.3-5-3.7-3-.7-3-1.3-3-.6-6-4.1 0-4.9 3-1.9 4 0 1.2-.5 .9-3-.5-2 .4-1.6 4-1.4 3 .1 5.9-1.1zM119.3 -15l-1.8 4-1.5 .5-1 0-.8-.5-.2-2-1-.9-.8 .9 .1 3-2.3 .8-3 2-3 .5-2.6 2.7 .1 1 .7 1 2.8 2.6 8 1.9 6.8 3.5 1.3 1 1.3 4 1.6 .8 6 1.8 5 .2 7-.3 8-1.9 2.2-1.6 .3-1-.2-1-1.3-1.5-2-.7-3-.4-3-1.4-4-.7-4-2.2-.9-.1 .3-2-.7-2-.4-3-.5-1-3.8-1.7-4-.3-2.2-1-.4-1 .6-1.9 1-.5 2 .7 1-.1 0-1.2-2-1.6-1 0-1 1.3-2-1.2-1 .1zM225 -10.1l1-.3 4 .1 8-.6 5 .5 5-.1 6 1 2 1.5 3-.6 .9 .6 .3 1-.7 1-1.5 .6-3 0-11 2.5-3-.3-6 .5-5-.2-7-1.6-1.3-.5-1-1-.2-1 .9-1 3.4-2zM225.6 -9l-1.8 1-.7 1 .2 1 2 1 5.7 1.3 14-.1 6.9-2.2 1.3-1-.4-1-5.8-1.5-9-.4-12 .8zM269 -5.1l10 .7 4.6 1.4 .9 1-1.5 1.2-8 1-8-.9-2.5-1.3-.1-1 .6-.5 3.7-1.5zM268.9 -4l-1.8 1-.2 1 2.1 .8 3 .6 6-.1 4.1-1.3-1.4-1-2.7-.7-9-.3zM284 12.8l2 .1 1.5 1.1 1.2 2 .1 1-.5 1-4.3 1.4-2.3-1.4-.5-1 .2-2 .7-1 1.5-1zM166 26.9l3-.4 4 .8 1.1 .7 .6 1 0 1-.7 1.1-2 1.1-5 .3-2-.4-2.2-1.1-.7-1 0-1 1-1 2.4-1zM165.1 28l-1.2 1 0 1 1 1 2.1 .7 4 0 1.6-.7 .9-1 0-1-1.5-1.2-3-.6-3 .4zM243 26.7l2-.6 2 .2 1.4 .7 .3 1-.7 1.2-1 .8-1 .1-3.5-1.1-.9-1 .5-1z"/><path fill="#e9735e" stroke="#e9735e" fill-rule="evenodd" d="M176 -21.1l2-.1 4 .8 4 1.8 1 .8 .8 1.8-.9 3-.9 1-2 1.1-3 .5-5 .1-6-.7-3.7-3-.3-2 .4-1 1.6-1.6 4-1.9 3.5-.5zM173.8 -20l-3.8 1.2-2 1.5-.8 1.3 .4 2 2 2 1.7 1 5.7 .4 5.3-.4 2.7-1.2 1.5-1.8 .3-2-.4-1-3.4-2.2-5-1.2-4 .4zM120 -15.4l1-.1 2 1.2 1-1.3 1 0 2 1.6 0 1.2-1 .1-2-.7-1 .5-.6 1.9 .4 1 2.2 1 4 .3 3.8 1.7 .5 1 .4 3 .7 2-.3 2 .9 .1 4 2.2 4 .7 3 1.4 3 .4 2 .7 1.3 1.5 .2 1-.3 1-2.2 1.6-8 1.9-7 .3-5-.2-6-1.8-1.6-.8-1.3-4-1.3-1-6.8-3.5-8-1.9-2.8-2.6-.7-1-.1-1 2.6-2.7 3-.5 3-2 2.3-.8-.1-3 .8-.9 1 .9 .2 2 .8 .5 1 0 1.5-.5 1.8-4zM114 -7l-3 .7-2 1.4-2 .6-1.3 1.3-.4 1 .4 1 1.3 .7 4 .4 6 2.3 3.4 .6 1.6 .7 .9 1.3 .3 4 .4 1 1.3 1 6.1 1.9 6 0 6-.9 4.3-1 2.6-1 .7-1-.1-1-1.5-1-4 .4-3-2.2-5-1.3-5-.2-1.4-.7-.9-1-.7-2 1.4-3 .2-2-.5-1-1.1-.7-5 0-3-1.2-6 .6zM226 -9.1l12-.8 9 .4 5.8 1.5 .4 1-1.3 1-6.9 2.2-14 .1-5.7-1.3-2-1-.2-1 .7-1 1.8-1zM234.9 -9l-7.9 .9-1.5 1.1 .6 1 3.9 1.3 7 .5 8-.4 4.1-1.4 1.1-1-.8-1-2.4-.6-7-.5-5 .1zM269 -4l9 .3 2.7 .7 1.4 1-4.1 1.3-6 .1-3-.6-2.1-.8 .2-1 1.8-1zM269.9 -3l0 1 3.1 .9 2 0 3.6-.9-2-1-1.6-.2-5 .2zM166 27.6l3-.4 3 .6 1.5 1.2 0 1-.9 1-1.6 .7-4 0-2.1-.7-1-1 0-1 1.2-1zM167 28l-1.7 1 0 1 1.5 1 3.2 .2 1-.3 1.2-.9-.1-1-1.1-.7-3-.5z"/><path fill="#e34349" stroke="#e34349" fill-rule="evenodd" d="M174 -20l4-.4 5 1.2 3.4 2.2 .4 1-.3 2-1.5 1.8-2.7 1.2-5.3 .4-5.7-.4-1.7-1-2-2-.4-2 .8-1.3 2-1.5 3.8-1.2zM172.5 -19l-2.5 1-1.8 2 0 1 .5 1 2 2 1.3 .7 4 .5 4-.3 3.1-.9 1.7-1 .7-1 .2-2-.7-1-3-1.9-4-.8-5 .6zM235 -9l5-.1 7 .5 2.4 .6 .8 1-1.1 1-4.1 1.4-8 .4-7-.5-3.9-1.3-.6-1 1.5-1.1 7.9-.9zM233.1 -8l-2.1 .3-1.8 .7 .4 1 1.4 .6 7 .5 7-.7 1.3-.4 .8-1-3.1-1-10-.1zM115 -7.3l6-.6 3 1.2 5 0 1.1 .7 .5 1-.2 2-1.4 3 .7 2 .9 1 1.4 .7 5 .2 5 1.3 3 2.2 4-.4 1.5 1 .1 1-.7 1-2.6 1-4.3 1-6 .9-6 0-6.1-1.9-1.3-1-.4-1-.3-4-.9-1.3-1.6-.7-3.4-.6-6-2.3-4-.4-1.3-.7-.4-1 .4-1 1.3-1.3 2-.6 2-1.4 3-.7zM120.8 -6l-2.8 .7-3-.1-1 .3-1.2 1.1-.3 2 .7 1 1.7 1 3.1 1.2 2.5-.2 2.5-1 2 0 .8-1-.1-1-1.7-.5-.6-.5-.6-2-1.8-1zM125.8 5l-.8 .6-.5 1.4 .3 2 1.2 1.1 5 2 7-.2 5.3-1.9 .2-1-1.5-1.8-3-1.6-3-.6-4-.1-3-.6-3 .6zM270 -3l5-.2 1.6 .2 2 1-3.6 .9-2 0-3.1-.9 0-1zM168 27.8l3 .5 1.1 .7 .1 1-1.2 .9-1 .3-3.2-.2-1.5-1 0-1 1.7-1zM166.8 29l-.1 1 1.3 .4 2.6-.4-.2-1-.4-.2-2-.2-1 .3z"/><path fill="#e03045" stroke="#e03045" fill-rule="evenodd" d="M173 -19.1l5-.6 4 .8 3 1.9 .7 1-.2 2-.7 1-1.7 1-3.1 .9-4 .3-4-.5-1.3-.7-2-2-.5-1 0-1 1.8-2 2.5-1zM176.5 -19l-4.5 .8-2.1 1.2-.7 1 0 1 .6 1 2 2 4.2 .8 3-.2 4-1.4 1.4-1.2 .4-1-.2-1-2.2-2-2.4-.9-3-.2zM234 -8.1l10 .1 3.1 1-.8 1-1.3 .4-7 .7-7-.5-1.4-.6-.4-1 1.8-.7 2.1-.3zM238 -7l0 1 1 0 1-1-2 0zM121 -6l1.8 1 .6 2 .6 .5 1.7 .5 .1 1-.8 1-2 0-2.5 1-2.5 .2-3.1-1.2-1.7-1-.7-1 .3-2 1.2-1.1 1-.3 3 .1 2.8-.7zM126 4.9l3-.6 3 .6 4 .1 3 .6 3 1.6 1.5 1.8-.2 1-5.3 1.9-7 .2-5-2-1.2-1.1-.3-2 .5-1.4 .8-.6zM128.3 6l-1.5 1-.1 1 2 2 2.3 1.2 6.9-.2 1.9-1 .8-1-.4-1-1.2-.8-4-1-6-.4zM167 28.9l1-.3 2 .2 .4 .2 .2 1-2.6 .4-1.3-.4 .1-1z"/><path fill="#df2035" stroke="#df2035" fill-rule="evenodd" d="M177 -19.1l3 .2 2.4 .9 2.2 2 .2 1-.4 1-1.4 1.2-4 1.4-3 .2-4.2-.8-2-2-.6-1 0-1 .7-1 2.1-1.2 4.5-.8zM174.9 -18l-2.9 .6-1.7 1.4 0 1 .5 1 2.2 1.8 3 .4 3.1-.2 3.9-1.8 .7-1.2-.3-1-.8-1-1.6-1-3-.3-3 .3zM238 -7l2 0-1 1-1 0 0-1zM129 5.8l6 .4 4 1 1.2 .8 .4 1-.8 1-1.9 1-6.9 .2-2.3-1.2-2-2 .1-1 1.5-1zM129.3 8l.7 1.2 2 1 1.8-.2 1.8-1-1.6-1.3-4-.2z"/><path fill="#b7212b" stroke="#b7212b" fill-rule="evenodd" d="M175 -18l3-.3 3 .3 1.6 1 .8 1 .3 1-.7 1.2-3.9 1.8-3.1 .2-3-.4-2.2-1.8-.5-1 0-1 1.7-1.4 2.9-.6zM130 7.5l4 .2 1.6 1.3-1.8 1-1.8 .2-2-1-.7-1.2z"/>
<use href="#land" fill="#787978" stroke="#787978" stroke-width="0.7"/>
</g>
<line x1="890.22" y1="940.62" x2="890.22" y2="1135.84" stroke="#161616" stroke-width="5.2" stroke-dasharray="23.2 20.6" stroke-dashoffset="1.8"/>
<rect x="694.60" y="940.42" width="464.61" height="195.62" fill="none" stroke="#111" stroke-width="1.9"/>
<path d="M743.51,940.42v-4.6M743.51,1136.04v4.6M841.32,940.42v-4.6M841.32,1136.04v4.6M939.13,940.42v-4.6M939.13,1136.04v4.6M1036.94,940.42v-4.6M1036.94,1136.04v4.6M1134.75,940.42v-4.6M1134.75,1136.04v4.6M694.60,964.87h-5.2M1159.21,964.87h4.6M694.60,1001.55h-5.2M1159.21,1001.55h4.6M694.60,1038.23h-5.2M1159.21,1038.23h4.6M694.60,1074.91h-5.2M1159.21,1074.91h4.6M694.60,1111.59h-5.2M1159.21,1111.59h4.6" stroke="#111" stroke-width="1.3" fill="none"/>
<text x="680.20" y="979.07" font-size="34.5" text-anchor="end" fill="#000">30°N</text>
<text x="680.20" y="1015.75" font-size="34.5" text-anchor="end" fill="#000">15°N</text>
<text x="680.20" y="1052.43" font-size="34.5" text-anchor="end" fill="#000">0°</text>
<text x="680.20" y="1089.11" font-size="34.5" text-anchor="end" fill="#000">15°S</text>
<text x="680.20" y="1125.79" font-size="34.5" text-anchor="end" fill="#000">30°S</text>
<text x="1027.80" y="1124.30" font-size="34.3" font-weight="bold" fill="#000">ORAS4</text>
<text x="675.60" y="934.90" font-size="30.2" font-weight="bold" text-anchor="end" fill="#000">J</text>
<g transform="matrix(2.4453,0,0,-2.4453,-153.130,1264.012)" clip-path="url(#pc)" stroke-width="0.3" stroke-linejoin="round">
<path fill="#343f93" stroke="#343f93" fill-rule="evenodd" d="M180 -6l12 .8 7 1.6 1.2 .6 1.4 2-.3 1-2.5 2-.4 1 .6 1 2.5 1 .5 .6 3-.3 6.4 .7-.3 1-6.1 0-3-.7-4 .6-7 0-12 .7-15-.4-3.3-1.2-5.2-3-2.4-2-.3-1 .6-1 2.6-2 4-2.1 6-.6 13.6-.3z"/><path fill="#394d9c" stroke="#394d9c" fill-rule="evenodd" d="M165 -6.1l16-.1 11 .8 6 1 3 1.4 1.6 1 .7 1-.9 2-2.7 2 .4 1 1.9 .6 12 1.3 4-.2 1.9 .3-1.9 .7-4-.5-1.1 .8-1.9 .5-17-.4-15 .6-13-.1-4.1-.6-6.9-4-2.3-2-.3-1 .6-1 4.1-3 1.9-1.1 5.1-.9zM179.6 -6l-13.6 .3-6 .6-4 2.1-2.6 2-.6 1 .3 1 2.4 2 5.2 3 3.3 1.2 15 .4 12-.7 7 0 4-.6 3 .7 6.1 0 .3-1-6.4-.7-3 .3-.5-.6-2.5-1-.6-1 .4-1 2.5-2 .3-1-1.4-2-1.2-.6-7-1.6-12-.8zM277 6.6l1 .1 1 1 0 .5-1 1.1-1 .2-1-.5-.4-1 .7-1zM265 25l.7 1-.7 .7-.6-.7z"/><path fill="#325ea6" stroke="#325ea6" fill-rule="evenodd" d="M162 -6.1l19-.3 9 .5 7 1 3 .8 4.6 2.1 .3 1-1.9 3.1-1.5 .9 .1 1 12.4 1.2 5 0 4.1 .8-.9 1-8.2 .2-3 .7-19-.4-25 .4-4-.4-3.5-1.5-4.8-3-2.4-2-.3-1 1.8-2 3.2-2.2 1.4-.8 3.2-1zM164.1 -6l-5.1 .9-1.9 1.1-4.1 3-.6 1 .3 1 2.3 2 6.9 4 4.1 .6 13 .1 15-.6 17 .4 1.9-.5 1.1-.8 4 .5 1.9-.7-1.9-.3-4 .2-12-1.3-1.9-.6-.4-1 2.7-2 .9-2-.7-1-1.6-1-3-1.4-6-1-11-.8-16 .1zM277 5.7l2 .7 .6 .6 .3 1-.4 1-1.5 1.1-2 .1-2.3-1.2 .1-1 2.2-2zM276.3 7l-.7 1 .4 1 1 .5 1-.2 1-1.1 0-.5-1-1-1-.1zM264 25l1-.6 1 .5 .3 1.1-.4 1-.9 .4-.8-.4-.5-1 .3-1zM264.4 26l.6 .7 .7-.7-.7-1z"/><path fill="#2373b3" stroke="#2373b3" fill-rule="evenodd" d="M161 -6.1l5-.4 15-.1 16 1.3 7.5 2.3 1.8 1 .2 1-2.8 4 1.1 1 6.2 .6 8 .1 5.9 1.3-.3 1-1.6 .4-9 .1-3 .7-13 0-6-.5-13 .4-15-.2-3-.8-3.7-2.1-4.2-3-1.1-1-.4-1 3.4-3.1 3-1.9 2.6-1zM161.6 -6l-3.2 1-1.4 .8-3.2 2.2-1.8 2 .3 1 2.4 2 4.8 3 3.5 1.5 4 .4 25-.4 19 .4 3-.7 8.2-.2 .9-1-4.1-.8-5 0-12.4-1.2-.1-1 1.5-.9 1.9-3.1-.3-1-4.6-2.1-3-.8-7-1-9-.5-19 .3zM276 4.9l2 .2 1.7 .9 .9 1 .1 1-.4 1-2.3 1.8-5 .7-1-.5 0-3 .7-1 3.2-2zM276 6l-2.2 2-.1 1 2.3 1.2 2-.1 1.5-1.1 .4-1-.3-1-.6-.6-2-.7zM163 13l4 0 .7 1-.7 1.4-1 .3-7-.7-.1-1 4-1zM265 23.9l1 .3 .7 1.8-.7 1.5-1 .4-1-.4-.7-1.5 .2-1 1.1-1zM264 25l-.3 1 .5 1 .8 .4 .9-.4 .4-1-.3-1.1-1-.5-1 .6z"/><path fill="#28a0d5" stroke="#28a0d5" fill-rule="evenodd" d="M160 -6l5-.7 16-.1 11 .6 6 .8 7 1.9 3 1.5 .2 1-.4 1-1.9 2-.3 1 1.6 1 11.8 .3 7 1.3 3-.5 1 .1 1.4 .8-.6 1-.8 .2-3-.4-4 1.1-8 0-4 .6-20-.5-27 .2-3-.9-4-2.3-4.2-3-1.1-1-.4-1 3.7-3.3 4.9-2.7zM160.6 -6l-2.6 1-3 1.9-3.4 3.1 .4 1 1.1 1 4.2 3 3.7 2.1 3 .8 15 .2 13-.4 6 .5 13 0 3-.7 9-.1 1.6-.4 .3-1-5.9-1.3-8-.1-6.2-.6-1.1-1 2.8-4-.2-1-1.8-1-7.5-2.3-16-1.3-15 .1-5 .4zM276 3.9l2 .3 3 1.7 .7 1.1-.6 2-1.1 1.4-2 1.3-5 .9-2.6-.6-.3-1 .4-4 1.5-1.2 3.9-1.8zM275.9 5l-3.2 2-.7 1 0 3 1 .5 5-.7 2.3-1.8 .4-1-.1-1-.9-1-1.7-.9-2-.2zM263 10.8l1-.3 2 .3 .4 .2 .1 1-2.5 1.4-2 1.7-2 0-.5-1.1 .5-1.8 1-.8 1.3-.4zM167 12l3 1 .8 1-2.8 2.4-1 .3-5-.4-2 .7-1 0-2.8-2 0-1 1.7-1 8.1-1zM162.9 13l-4 1 .1 1 7 .7 1-.3 .7-1.4-.7-1-4 0zM264 23.6l1-.3 1 .3 1 1.3-.1 2.1-.9 1.1-1 .3-1-.3-.9-1.1-.3-1 .8-2zM264.6 24l-1.1 1-.2 1 .7 1.5 1 .4 1-.4 .7-1.5-.7-1.8-1-.3z"/><path fill="#3bbee5" stroke="#3bbee5" fill-rule="evenodd" d="M166 -7l15 0 12 .6 6 .8 9 2.2 3.1 1.4 .1 1-.5 1-2.7 2-.5 1 1.5 .6 2 .4 8-.2 2 .6 5 .3 4-.3 4.8 1.6-3.8 1.7-4 0-4 .7-8-.2-4 .6-29-.5-16 .3-3-.3-2-.8-4-2.3-5.6-4.2-.4-1 .9-1 6.1-4.4 3-1.1 4.9-.5zM159.9 -6l-4.9 2.7-3.7 3.3 .4 1 1.1 1 4.2 3 4 2.3 3 .9 27-.2 20 .5 4-.6 8 0 4-1.1 3 .4 .8-.2 .6-1-1.4-.8-1-.1-3 .5-7-1.3-11.8-.3-1.6-1 .3-1 1.9-2 .4-1-.2-1-3-1.5-7-1.9-6-.8-11-.6-16 .1-5 .7zM276 3l5 1 2.5 2 .1 1-1.7 3-2.9 2.4-4 1.1-5 .3-3 1-2 .1-2 1.4-2 .3-2 1-2-2.4-1 .2-1 1.3-1 .1-.7-.8-.1-1 .8-1.1 1-.4 2 .2 1-.5 1.3-3.2 .7-.7 6-.8 6-4.1 4-1.4zM275.9 4l-3.9 1.8-1.5 1.2-.4 4 .3 1 2.6 .6 5-.9 2-1.3 1.1-1.4 .6-2-.7-1.1-3-1.7-2-.3zM262.3 11l-1.3 .4-1 .8-.5 1.8 .5 1.1 2 0 2-1.7 2.5-1.4-.1-1-.4-.2-2-.3-1 .3zM161 11.8l5-.6 2 .1 6 1.4 1.3 1.3-.4 1-1.3 1-3.6 .8-2 1-5-.7-3 1-1 0-4-1.8-3-.3-.7-1 2.7-2 6.2-1zM166 12l-8.1 1-1.7 1 0 1 2.8 2 1 0 2-.7 5 .4 1-.3 2.8-2.4-.8-1-3-1zM229 17.9l1-.6 1 .1 2 1.2 1.5 .4 .4 1-2.9 1.9-1 0-2.2-.9-.8-1 .9-2zM255 19.7l1 .3-1.5 0zM264 22.8l1-.2 1 .4 1 .9 .5 1.1-.1 2-1.4 1.7-2 0-1.5-1.7 0-2 1.2-2zM263.6 24l-.8 2 .3 1 .9 1.1 1 .3 1-.3 .9-1.1 .1-2.1-1-1.3-1-.3-1 .3z"/><path fill="#80cbe3" stroke="#80cbe3" fill-rule="evenodd" d="M235 -26.1l3 .2 2.1 .9 .3 1-1.4 .7-2 .2-1-.4-1.4-1.5 .2-1zM164 -7.1l17-.1 12 .5 11 1.2 8.2 2.5 1.8 2.9 .7 .1-1.1 2 .7 1 4.7 .2 3 .8 3-.5 5 .2 3 .8 8-.6 1.4 2.1-.4 .5-3 1.2-4-.3-4 1.1-8 .4-8-.3-4 .6-5 0-12-.6-27 .3-4-.4-6-3.1-5.9-4.4-.5-1 2.4-2.2 5-3.4 5.2-1.4zM165.9 -7l-4.9 .5-3 1.1-6.1 4.4-.9 1 .4 1 5.6 4.2 4 2.3 2 .8 3 .3 16-.3 29 .5 4-.6 8 .2 4-.7 4 0 3.8-1.7-4.8-1.6-4 .3-5-.3-2-.6-8 .2-2-.4-1.5-.6 .5-1 2.7-2 .5-1-.1-1-3.1-1.4-9-2.2-6-.8-12-.6-15 0zM217 -1.3l1.1 .3-.9 1-2.1 0 1.1-1zM273 2.8l4-.8 4 .6 5.1 3.4 .5 1-.8 1-1.7 1 .4 2-.5 1.3-3 .2-1 .5-1.2 1-.8 1.4-1 .2-3-.8-3 1.2-1-.3-1.3 .3-.4 1 .2 2-.5 1-1 0-2-1.3-3-.7-1 2.7-2-.5-3 1.3-3 .7-1-.2-2-2.7-.7 1.7-1.3 1.1-3-.5-2.1 .4-.9-.3-2-1.6-.9 .9-.3 2-.8 .9-.3-.9-1.7-1-1 0-3 1.1-3-.9-4 .4-3.6-3.6 .1-1 1.5-1.1 1 .3 1 1.1 1-.2 2-1.9 1-.1 2 0 2 .8 5 .3 4-1.3 1 .4 1 1.2 1 .1 2.4-1.6 .6-1.4 .8-.6 2.2 0 4.3-3-.3-2 1-.6 1-.2 3-1.9 3 .5 4-1.8 2 0 3-2zM276 3l-4 1.4-6 4.1-6 .8-.7 .7-1.3 3.2-1 .5-2-.2-1 .4-.8 1.1 .1 1 .7 .8 1-.1 1-1.3 1-.2 2 2.4 2-1 2-.3 2-1.4 2-.1 3-1 5-.3 4-1.1 2.9-2.4 1.7-3-.1-1-2.5-2-5-1zM228.9 18l-.9 2 .8 1 2.2 .9 1 0 2.9-1.9-.4-1-1.5-.4-2-1.2-1-.1-1 .6zM249 19l.3 0-.3-.1zM254.5 20l1.5 0-1-.3zM163 10.9l4-.5 7 .5 4.5 2.1 .5 1-.9 1-4.1 1.9-6 2-4-1-3 .9-2 .1-4-1.5-2 .3-3-.4-1-.4-.7-.9 1.1-2 2.6-.7 2-1.1 8.1-1.2zM160.2 12l-6.2 1-2.7 2 .7 1 3 .3 4 1.8 1 0 3-1 5 .7 2-1 3.6-.8 1.3-1 .4-1-1.3-1.3-6-1.4-2-.1-5 .6zM181 13l1 1-1 .8-2-.8 1.8-1zM263 21.9l1-.5 1 0 2 1.6 .7 1 .1 3-.8 1.8-1 .6-2 0-1-.7-1.1-1.7-.1-2 .4-2 .6-1zM263.7 23l-1.2 2 0 2 1.5 1.7 2 0 1.4-1.7 .1-2-.5-1.1-1-.9-1-.4-1 .2z"/><path fill="#a8dbe9" stroke="#a8dbe9" fill-rule="evenodd" d="M194 -41l2.2 0-.1 1-1.1 1.2-1 .2-.3-.4 0-2zM204 -41l4.1 0-3.1 2-1-.3-.6-1.7zM231 -33.1l.3 .1-.3 0zM215 -31.2l1 1.2-1 1.2-1-.6-.3-.6 .8-1zM278 -29.3l0 .5-.3-.2zM234 -28.6l3 1.1 5-.2 4 3.4 .3 1.3-.3 1.5-1 .6-7-.6-4 1.1-1.5-.6-.5-1.2-1 .7-4-.3-5 1-1.3-1.2-.2-1 .5-1.6 3-1.1 3-.6 4 .3 1-.3 1-1.7zM234.8 -26l-.2 1 1.4 1.5 1 .4 2-.2 1.4-.7-.3-1-2.1-.9-3-.2zM291 -19.3l0 1.4-.7-1.1zM284 -16.7l1 0 .6 .7-.6 1.2-1 .6-.7-.8 0-1zM162 -7l19-.4 9 .4 4-.2 7 .8 3-.1 5 1.3 6 2.5 3-.2 2.8 .9 .6 1-.4 .6-2.3 1.4-.1 1 1.4 .6 2 .2 2-1.6 1-.3 1 .2 2 1.5 5 1 3-.2 3-1.3 3-.1 1.8 1-.3 2 1.5 1.5 1 .4 11-.2 2.8-1.7-.1-1-1.6-1 .9-.4 5 1.9 3-1.1 2 .2 3-2 2 0 6-1.5 4.7 1.9 .3 1 3.3 2 .6 1-.1 1-2.7 6-2.1 1.2-3-.3-1 .9-1 1.9-1 .6-1 0-2-.9-1 .1-1.1 1.5-2.9 1.4-2.3 2.6 .9 3-.6 4-.7 1-2.3 .4-1 0-1.8-1.4-2.3-3-.3-3-.6-.9-1-.3-3 1.2-3 .7-2 1.3-4-1.7-4 .3-.7 .4-.3 1 .4 1-.5 1-1.9 .5-1.9-.5-2.1-1.8-2-.4-3-1.5-1-.2-4 .6-1-.3-1-1.5-2-1.3-1-.1-.6 .5-.4 1.4-1 .7-2-.1-1-1-.3-1 .3-.5 3-1.4 2-2.5 5-1.7 4-2 2 .1 2 1.6 2 .5 2-.9 3 .4 3-.5 2 1 2-2.5 4-.3 1.7-1.3-.7-1.1-2-.8-3-.3-1-.5-5 .5-1 1.1-1-.1-2-1.2-2-.3-4 1.1-4 0-7 .8-5-1.2-4 .8-4 .1-8-.1-4-.8-6 .3-7-.5-3 .5-4.4-.3 .3 1 2.1 1 6 .9 .4 1.1-.6 2-.8 .7-3 .6-9 3.3-2 .4-4-1.1-5 .9-4-1.4-3 .6-5-1.6-.4-.4-.4-2 .8-1 2-.9 3-.5 3-1.3 5-.3 2-.7 2.8-.3-.1-1-2.7-.4-4-2.3-7.3-5.3-.5-1 6.8-5.2 4.9-1.8zM163.2 -7l-5.2 1.4-5 3.4-2.4 2.2 .5 1 5.9 4.4 6 3.1 4 .4 27-.3 12 .6 5 0 4-.6 8 .3 8-.4 4-1.1 4 .3 3-1.2 .4-.5-1.4-2.1-8 .6-3-.8-5-.2-3 .5-3-.8-4.7-.2-.7-1 1.1-2-.7-.1-1.8-2.9-8.2-2.5-11-1.2-12-.5-17 .1zM216.2 -1l-1.1 1 2.1 0 .9-1-1.1-.3zM272 3l-3 2-2 0-4 1.8-3-.5-3 1.9-1 .2-1 .6 .3 2-4.3 3-2.2 0-.8 .6-.6 1.4-2.4 1.6-1-.1-1-1.2-1-.4-4 1.3-5-.3-2-.8-2 0-1 .1-2 1.9-1 .2-1-1.1-1-.3-1.5 1.1-.1 1 3.6 3.6 4-.4 3 .9 3-1.1 1 0 1.7 1 .3 .9 .8-.9 .3-2 .9-.9 2 1.6 .9 .3 2.1-.4 3 .5 1.3-1.1 .7-1.7 2 2.7 1 .2 3-.7 3-1.3 2 .5 1-2.7 3 .7 2 1.3 1 0 .5-1-.2-2 .4-1 1.3-.3 1 .3 3-1.2 3 .8 1-.2 .8-1.4 1.2-1 1-.5 3-.2 .5-1.3-.4-2 1.7-1 .8-1-.5-1-5.1-3.4-4-.6-4 .8zM162.1 11l-8.1 1.2-2 1.1-2.6 .7-1.1 2 .7 .9 1 .4 3 .4 2-.3 4 1.5 2-.1 3-.9 4 1 6-2 4.1-1.9 .9-1-.5-1-4.5-2.1-7-.5-4 .5zM180.8 13l-1.8 1 2 .8 1-.8-1-1zM262.8 22l-.6 1-.4 2 .1 2 1.1 1.7 1 .7 2 0 1-.6 .8-1.8-.1-3-.7-1-2-1.6-1 0-1 .5zM291 17.8l0 3.6-1 .6-1-.4-.4-.6 .4-1.7 1.4-1.3zM249 18.9l.3 .1-.3 0zM207 20.7l2 .8 1.1 1.5-.5 1-1.6 .5-2 1.4-1.4-.9 1-1 .5-3zM199 21.7l4 2.1 .8 1.2-1.8 .7-3 .3-2 1-1-.6-1-1.4 1.1-2 2-1zM211 25.7l1.2 .3 .2 1-.4 .7-1-.2-.4-.5 .1-1zM291 31.9l0 1.4-.5-.3 .1-1zM138 40.3l1 0 .8 .7-2.2 0zM180 40.3l.6 .7-1.3 0z"/><path fill="#c4e8f7" stroke="#c4e8f7" fill-rule="evenodd" d="M156 -40.1l0 1.1-1 .5-.8 1.5-1.2 .4-.3-.4 .3-1.3 2.8-1.7zM183 -41l.4 0-.5 0zM193 -41l.7 0 0 2 .3 .4 1.2-.4 .9-1 .1-1 .9 0-.6 2-1.5 1.6-2 0-1-.6 .8-3zM203 -41l.4 0 .6 1.7 1 .3 3.1-2 1.6 0-4.7 3-1 .1-.8-1.1-.5-2zM215 -41l3.1 0-.1 1-1 .5-1-.3-1.1-1.2zM225 -41l2 0 .6 2-.6 1.5-1 .1-.7-.6-.6-3zM244 -41l2.4 0 .4 3-.8 1.4-1 0-1.6-1.4-.4-1 .2-2zM256 -41l1.9 0-.9 .3-1.2-.3zM259 -41l3.1 0-.8 1-1.3 .2-2-1.2zM276 -40.9l1-.1 .1 1-1.1 .4-.2-.4zM212 -39.4l1 0 .5 .4-.2 1-2 3-1.3 .2-.7-1.2 2.1-3zM163 -38.6l1.9 1.6 .1 1-1 .4-1.3-.4-.8-1 .3-1zM190 -37.2l1.2 .2-.2 1.3-1 .1-.4-.4 .1-1zM255 -37.4l1-.5 1 0 .8 .9 0 1-.8 1.4-1 .3-.9-.7-.5-1 .1-1zM269 -37.6l2.5 .6-1.5 .3-1.7-.3zM235 -36.4l.3 .4-.3 .3-.8-.3zM231 -35.4l1.7 .4 .4 2-.2 1-2.3 2-.4 2 .8 .4 2-2.2 1 0 3 1.5 5-.8 2 .2 .2-1.1-1.2-.4-.3-1.6 .3-1.5 1 0 1 1.8 2 1.3 1 .2 2-2.1 1-.3 1 1 .7 1.6-1.2 2 0 3-.5 .5-1-.3-.3-1.2-.7-.9-1-.5-1-.1-2 .4 .5 1.1 1.4 1 .4 1-.4 3-1.9 1-2.3 0-3.7-.7-5 1-6-1.3-6 .9-1.6-.9-1.2-3-1.2-.4-1.2 .4-.8 1.4-1 0 .2-4.4-2.2-1.8-.4-1.2 .4-1 1-.8 2-.2 1.2 1 .3 1-.2 2 .7 .2 1-2.1 1-.1 2.4 1 .2 1-.8 1 .2 .5 3-.4 1.8-1.1 .9-3 1.3-1.3 1.4-2.7zM231 -33l.3 0-.3-.1zM214.5 -31l-.8 1 .3 .6 1 .6 1-1.2-1-1.2zM233 -28l-1 1.7-1 .3-4-.3-3 .6-3 1.1-.5 1.6 .2 1 1.3 1.2 5-1 4 .3 1-.7 .5 1.2 1.5 .6 4-1.1 7 .6 1-.6 .3-1.5-.3-1.3-4-3.4-5 .2-3-1.1zM239 -35.1l.3 1.1-.3 .2-.4-.2 .3-1zM223 -33.2l1.3 .2 0 1-1.5-1zM261 -32.7l1 0 .7 .7-1.7 .6-.5-.6zM270 -32.2l2.2 .2 .3 1-.6 1-.9 .5-1.3-.5-.4-1 .1-1zM278 -31l1.5 1 .4 2-2.9 2.6-1 .1-.8-.7 1-2-.1-2 .9-.9 .6-.1zM277.7 -29l.3 .2 0-.5zM284 -30.3l1-.5 2 .1 3.1 1.7-.1 .5-.3 .5-2.7 .4-2-.9-2-.2-.2-.3 .8-1zM174 -27.2l1-.7 2 .7 2.9 .2-.2 3-.7 .7-1 .1-3-2.1-1.1-1.7zM287 -24l1-.5 3 .4 0 2.7-2 .1-1-.4-1.2-1.3 .2-1zM256 -22.4l1.2 .4-.2 1.8-1.1 .2-.5-1 .1-1zM269 -23l1.9 3-.1 1-.8 1.2-1 .2-1-1.3-.1-2.1 .4-1zM288 -20.3l1-.5 2 .1 0 1.4-.7 .3 .7 1.1 0 1.3-2.9-1.4-.6-1 .3-1zM280 -17.1l2-.7 4-.1 1 .5 .1 .4-.8 2-2.3 3.5-2-2.5-3-.4-.6-.6 .1-1 1.4-1zM283.3 -16l0 1 .7 .8 1-.6 .6-1.2-.6-.7-1 0zM283 -10.6l.6 .6 .4 2.3 1 .6 2.8 .1-.4 1-1.4 .6-1-.1-2-1.2-2-.3 .1-1 1.4-2zM291 -9.8l0 3.1-1-.3 .7-2zM271 -8.8l.4 .8-.4 .3-.4-.3zM162 -7.1l19-.4 10 .2 3-.5 6 .9 4-.2 5 1.4 5 2 4 .1 2 .4 1.8 1.2 1 2 3.2 .1 3 2.2 5 .8 1.6-.1 1.6-1 .8-2.4 1-.5 2.6 1.9 4.2 2-1.3 2 1.1 1 3.4 .6 6 .1 2.7-.7 1.1-1-2-2 .6-1 1.6-.6 1 0 4 1.9 1-.1 2-1 2 .4 2-1.5 1-.3 5.6-.8 3.4-1.3 2-3.1 1 0 1.6 4.4 2 2 1.4 2.2 1 .7 1-.5 0 5.3-1.5 1.3 .1 1 1.4 1 0 4.8-1 .3-1 1.2-.4 1.7 .4 .6 1 .4 1-.6 0 1.4-1 .2-1-.4-1.4-1.6 .4-2.2-.9-1.8 .9-1 1-.4 .2-.6-1.2-.3-2 .2-2 1.1-2-.9-1 0-2 2.7-3 .7-.4 .5-.2 2-.4 .4-3-1.6-1 .1-2.4 2.1 .3 7 2.1 1.4 .3 .6-.3 .9-1 .2-3.6-1.1-2.4 .5-1-.4-3-3.4-2-.5-.2-1.2 .7-2-.5-1.2-2.6 1.2-2.4 .3-1 .7-1.6 2-.4 1.3-1 .8-1-.4-.4-.7 .8-2-.5-1-1.9-1-2 0-1 1 1.9 2 .1 1.2-2 .6-4-.3-2-.6-2-1.5-2-.3-3-2.3-1-.3-4 .7-1.6-.2-1.2-2-1.2-.5-2 2.3-4 .2-2.2-3 .1-1 2.3-2-1.2-3 0-1.1 1-.1 1.8 1.2 .2 .7 2-.6 2 .2 3.7-1.3 6.3-2.9 1.5 1.9 1.5 .8 1 .2 2-1.1 3 .9 1.7-.8-.2-1-2.5-.5-2-2.1-2-.7-1.4 .3-2.6 1.8-1.2-.8-1.8-.2-3 1-3-.1-2 1.5-1 .1-2.3-2.3-2.7-.6-6 1.4-4-.6-5 .5-4-1.4-6 .6-3-.3-.7 .4-.4 1-.7 3-2.2 2.5-2 .3-2 1.1-4 .7-5 1.9-2 0-3-.9-6 .7-3-1.3-3 .5-5.5-1.5-.8-1-.7-3.1 2.5-.9 3.5-.5 4-1.5 5-.4 3.2-1.6-1.2-.2-4-2.4-7.6-5.4-.4-1 7-5.4 4.4-1.6zM161.9 -7l-4.9 1.8-6.8 5.2 .5 1 7.3 5.3 4 2.3 2.7 .4 .1 1-2.8 .3-2 .7-5 .3-3 1.3-3 .5-2 .9-.8 1 .4 2 .4 .4 5 1.6 3-.6 4 1.4 5-.9 4 1.1 2-.4 9-3.3 3-.6 .8-.7 .6-2-.4-1.1-6-.9-2.1-1-.3-1 4.4 .3 3-.5 7 .5 6-.3 4 .8 8 .1 4-.1 4-.8 5 1.2 7-.8 4 0 4-1.1 2 .3 2 1.2 1 .1 1-1.1 5-.5 1 .5 3 .3 2 .8 .7 1.1-1.7 1.3-4 .3-2 2.5-2-1-3 .5-3-.4-2 .9-2-.5-2-1.6-2-.1-4 2-5 1.7-2 2.5-3 1.4-.3 .5 .3 1 1 1 2 .1 1-.7 .4-1.4 .6-.5 1 .1 2 1.3 1 1.5 1 .3 4-.6 1 .2 3 1.5 2 .4 2.1 1.8 1.9 .5 1.9-.5 .5-1-.4-1 .3-1 .7-.4 4-.3 4 1.7 2-1.3 3-.7 3-1.2 1 .3 .6 .9 .3 3 2.3 3 1.8 1.4 1 0 2.3-.4 .7-1 .6-4-.9-3 2.3-2.6 2.9-1.4 1.1-1.5 1-.1 2 .9 1 0 1-.6 1-1.9 1-.9 3 .3 2.1-1.2 2.7-6 .1-1-.6-1-3.3-2-.3-1-4.7-1.9-6 1.5-2 0-3 2-2-.2-3 1.1-5-1.9-.9 .4 1.6 1 .1 1-2.8 1.7-11 .2-1-.4-1.5-1.5 .3-2-1.8-1-3 .1-3 1.3-3 .2-5-1-2-1.5-1-.2-1 .3-2 1.6-2-.2-1.4-.6 .1-1 2.3-1.4 .4-.6-.6-1-2.8-.9-3 .2-6-2.5-5-1.3-3 .1-7-.8-4 .2-9-.4-19 .4zM220.4 1l.6 .4 .3-.4-.3-.1zM181.6 9l-1.8 1 2.2 .4 .7-.4-.7-1zM249.1 11l.9 .3 1.2-.3-1.2-.8zM216.6 17l.4 .3 .2-.3-.2-.7zM291 -1.8l0 4.6-.7-.8 .1-3zM250 .8l1-.3 .9 .5 .3 1-2.2 .5-.9-.5 .6-1zM203 14.7l0 .6-.4-.3zM283 17.5l.9 1.5 .1 1-1 .4-.6-.4-.4-1 .7-1zM206 18.6l1.7 1.4 2.3 1.1 .9 .9 1.1 1.8 2 1.2-1 3.2-1 .8-1-.1-1.7-1.9-.3-.8-1-.3-2 1.7-3-1.1-3 .4-3 1.2-1-.2-1-.9-1.6-2 .4-1 1.2-1.2 4-2.3 1 .4 1.1 1.1 2.9 .6 .9-2.6 .8-1zM206.1 21l-.5 3-1 1 1.4 .9 2-1.4 1.6-.5 .5-1-1.1-1.5-2-.8zM198.1 22l-2 1-1.1 2 1 1.4 1 .6 2-1 3-.3 1.8-.7-.8-1.2-4-2.1zM210.7 26l-.1 1 .4 .5 1 .2 .4-.7-.2-1-1.2-.3zM189 22.5l2.1 1.5-1.1 .6-1-.3-.8-1.3zM170 23.9l3 0 1 .4 .5 .7-.1 1-.4 .4-1 0-4-1.4 .6-1zM181 25.9l.5 .1-.6 0zM206 28.9l1.8 1.1 .4 1-1.2 1.1-1 0-1.1-1.1 0-1 1-1zM279 30.8l.6 1.2-.6 .9-.7-.9 .2-1zM289 30.9l2 .1-.5 2 .5 .3 0 1.4-1 0-1.1-.7-.3-1 .3-2zM242 31.7l.4 .3-.4 .3-.4-.3zM264 33.8l.7 .2-.7 .5-.2-.5zM286 35.6l1.1 .4-1.1 .3-.2-.3zM244 36.1l3 1.9-2 .4-1-.3-.4-1.1zM170 37.6l.5 .4-.5 .7-.2-.7zM189 37.1l.2 .9-.4 0zM248 37.8l1.5 .2-.5 .8-2-.8zM253 38l1-.5 .5 .5-1.5 1 .9 2-3.3 0 .4-1.6 1-.4 1-1zM280 37.9l1.9 1.1 .5 1-.2 1-1.9 0-.6-2 .2-1zM137 38l2 1.1 1.8 1.9-2.8-.7-.4 .7-1 0-.3-2zM176 39.9l2 .4 2-1.2 1 .5 .5 1.4-.9 0-.6-.7-.7 .7-4.7 0 1.2-1zM205 39.5l1 .5 .3 1-2.3 0 .7-1zM118 40.7l1.6 .3-1.9 0zM124 40.9l2.1 .1-2.9 0zM229 41l.4 0-.4 0z"/><path fill="#fcf0dc" stroke="#fcf0dc" fill-rule="evenodd" d="M101 -41l.5 0 .5 .7 .2-.7 6.4 0 .5 1 .9 .7 1 0 .9-1.7 .7 0-.4 4-1.2 .4-2-.7-1 .7-.9 1.6 .2 2-1.3 .8-4.5-3.8-.8-2-.4-3zM102.6 -39l.4 2.2 1 1 1 .3 1-.4 .9-1.1 .9-2-.8-.8-1-.2-3 .6zM147 -41l4.1 0-.2 7 1.1 3.6 1 .2 .7-1.8-.1-2 .4-.8 1-.5 1-.3 7 1.8 1.2 1.8 .1 1-.3 .6-2 .2-3 2.8-1 0-2-1.3-.6 .7 .4 1 3.2 1.8 1.6 2.2 1.4 .3 1.3-.3 .6-1-2.7-2 .2-1 3.6-1 2-.2 1 .8 1 1.9 1.5 1.5-.3 1-1.2 1 .3 1 4.7 3.5 1 .1 1.7-1.6 .9-2 .4-.1 .7 .1-.5 2 1.8 .9 1.2-.9-1.2-1.5-.8-.5 .8-.4 1-1.2 1-.2 1 1.6 1 .3 5-4.5 1 0 2.5 1.4 4.5 .6 2-.8 3 .3 2-2 2.2 .9 2.8 .5 2 1.8 2 .4 1 1.9 2-.1 2-1.4 1 .7 1 2 1 .4 3.4-.2 3.6-.7 3 1 8-.7 3 .5 6-.1 3 1.1 1-.1 .8-1-.7-2 .4-1 .5-.1 .4 2.1 1.6 1.9 3 2 2 .2 .4-.1-1-5 .6-1 1 .9 .5 2.1 1.5 1.9 1 0 2-2.1 1.1 3.2 1.9 .5 2-.2 2 1.3 2-.4 1 1.5 .4 1.3-.4 .7-1 .3-2-1.7-2 1.1-1 0-2-.6-1.3 .2-.4 1 .2 1 1.1 2 .4 2 1 1.4 1 .5 2-1.1 1.3 .2 0 1-.9 2-.4 .8-1 .5-2 .2-3-2.3-1-1.6-1-.8-1 .4-.6 .8 .1 1 1 1 .4 1-.9 .3-1-.8-2-.1-2 .6-1 1.1-1 .2-.6-.3 1.5-2-.4-1-1.5-.3-2 2.4-3 .1-6 1.6-1.3-.8-.4-1 .2-1-.5-.8-4.6 .8-1 1-.4 1.5-1 1.2-1-.2-.3-.5 .9-2-.1-1-1.5-.9-1-.2-1 .5-.4 1.6 .4 1-.2 1-.8 .2-1-.4-3-2.5-2-.3-7-3.8-1-.2-1 .9-1 .2-9-2.8-2-.2-3 .3-7-2-1 .3-.8 1.3-1.2 .2-25 .3-3 .2-3 .8-5 2.8-4.9 3.7 .8 1 11.5 8-1.4 1-4 .2-5 1.8-3 .2-3.4 .8-.9 1 .5 4 .8 .8 5 1.4 5 0 3 1.1 2-.4 4.8 .1 1.4 1 .3 2 .8 2 .7 .4 3.4 .6 1.2 1 .4 1.4 1 0 2-2.8 1-.2 2.9 2.6 2.1 .5 3-2 1-.3 2 1.7 1-.1 2-2.2 1-.2 2.1 2.6 .1 3 .8 .9 1.8-.9 .6-2 1.6-.8 1 .7 1 1.8 1-.6 1 .2 2.8 3.7 0 1-2.8 1.7-2-.6-4 .5-2-1.2-1-1.4-2-1.4-1-1.4-1-.7-1 .2-2 2.8-3 .5-1 .8-1-.3-1-1.7-1-.8-1 .2-.9 .8-.1 1 2.1 2-2.1 .7-1-.2-3 1.3-1-.1-2-2.5-2-.6-1.7 .4-.7 1-1.6 .4-2-1.4 .3-1-.3-1.3-.5 .3 0 1 .5 1-2 2-.4 3-1.1 0-.5-1.6-1 0-.5 .6 .1 1-3.5 0 .3-2-.8-2 .4-1 3 .7 2-2.3 2-1.1 2-1.8 2 2.7 1 .7 2-.2 3 .5 .9-.2 1.1-1.6 2 .7 1-.1 .4-1-.4-2-1-.2-1.4 .2-1.6 1.2-1-1.2-.1-3-3.9-.6-3-5.4-3-.4-3 .4-4-1.3-5 .1-3-1-3 .9-2 .9-1-.8-.9-2.8 .5-2 1.2-1 1.2-.1 1.8-1.9 3.1-1 4.1-.3 3-1.3 3-.7 2 .1 1.5-.8-.4-1-7.3-5-1.8-1.2-3-.8-1-1 .1-1 2.9-.7 7-4.1 4-1.4 3-.3 21-.4 2-.6 2 0 .9-.5 1.1-1.3 2-.2 7 2.4 4-.5 4 1 4 1.8 2 0 2-.9 1 .2 6 3 3-.3 1 .4 1 1.9 1 .3 1-2.2 1-.4 4 .8 3 .1 4-.9 1.5 .8 .5 1 0 1.2 1 .1 4-1 3 .1 1-.7 1-1.4 1-.5 3 .2 2 .9 3-3.2 2-.1 1-.6 .2-1-1.2-3.3-1-1.3-3-.3-2-2-3-.9-5-.6-2-1-4-1-6-.3-6 .3-2 .7-3-1.2-6.6 .9-2.4 1.3-1-.1-.2-.2 .9-2-.7-1.4-3 1.2-1-.1-5-3.9-1-.5-3-.3-3 1.2-2-.4-3 .5-5 0-3-.7-1.4 1.4-1.8 1-1.8 3-3 1-4-.8-2 1.6-4-1.4-2-1.8-1.5 2.4-1.5 .6-1-.3-1.3-1.3-.1-1 .8-2-.4-.8-3-.1-2-.9-1 .4-.4 1.4 3.2 2-.4 1-2.5 1-2.9 0-.4-1 .4-1-.2-1-.8-.6-1-.1-3 1.2-1-.5-.4-1 .2-1 1.2-1.3 3 .5 1-.6 1.4-1.6-1.4-2.5-1-.7-1 .4-.6 .8-.4 1.8-1-.6 0-3.2 .7-2-.9-3 .6-3-1.4-3.9-2 .4-.8-.5zM155.3 -33l-.5 1 .2 1 1.2-1-.2-1.2zM158.9 -33l-1 1-.1 1 3.2 .2 .2-1.2-.3-1-.9-.7-1 .5zM165.8 -25l.2 1.4 .9 .6 1.1-.2 .6-.8-.6-1.1-1-.6-1 .1zM155.5 -23l-.7 1 1.2 .5 .7-1.5-.7-.5zM150 -21l1.2 0-1.2 0zM165.9 -21l-1 2-.1 1 1.2 .7 .7-.7 .5-3-1.2-.1zM141 16l-.7 1 .1 1 .6 .5 1.3-1.5-1.3-1zM176.6 29l.5 2 1.8 1 1.1-.2 .5-.8-2.5-.6-.5-.4-.5-1.5zM190.9 29l-.1 1 1.2 1.4 .4-.4-.4-2.4-1 .2zM185.9 31l-1.5 1 .5 1 1.1 .4 1-.4 .3-1-.3-.6-1-.4zM195.8 34l-.3 1 .5 .7 .8 .3 1.2-.1 1.2-.9-.5-1-.7-.5-1-.1-1 .4zM172.5 36l.5 1.4 1 .3 .9-.7 0-1-.9-.5-1 .1zM159 -41l2.4 0-1.4 1.3-1-.4-.3-.9zM167 -40.3l1 0 3 2.9 1 .2 3-2.4 1-.3 .9 .9 .1 1.3-2 1.3-.9 1.4 .3 1 3.6 1.7 .3 1.3-.3 1.2-1 0-1-1.3-3 1-.5-.9 1.4-3-.6-1-1.3-.4-2 .8-1-.3-1.3-3.1-1.8-1 .5-1zM199 -41l2.2 0 .2 1-.2 1-1.2 .4-1.7 1.6-.3 1.3-.4-1.3 .1-1 1-2zM221 -41l2.1 0 0 2 .5 3-1.6 0-.7-1-.5-1-.1-3zM237 -41l2.3 0-1.3 2-1-.4-1-1.6zM267 -41l.5 0 .5 .8 2 .3 1.5-.1 .5-1 2.1 0-1 2-1.1 .3-5-1.1-.4-1.2zM280 -41l7.7 0-2.7 .5-.3 2.5-.7 .6-2 .5-2-.4-2 .6-.6-.3 2.3-3-.6-1zM290 -41l1 1.3 0 1.7-1.8-3zM181 -38.5l1-.2 .8 .7-.2 2-.6 1-1.7-1 .5-2zM208 -38.1l-1 2.6-.8-.5 0-1 1.3-1zM261 -38.1l1.4 .1 .3 1-.7 1.5-1 0-1-1 0-.8 .6-.7zM99.4 -37l-.4 1.1 0-1.3zM147 -36.6l0 1.2-.2-.6zM187 -35.3l1.2 1.3-.2 .7-1-.1-.5-.6 0-1zM215 -35.9l1 0 2.5 .9 .4 1-.9 .3-3 0-.7-.3 .2-1zM271 -35l1.1 1-1.1 .3-1.1-.3 .6-1zM282 -35.2l1.7 1.2 .6 1-.6 1-1.7 1.1-1.5-1.1-.1-1 1.4-2zM99.4 -34l.6 1-1 2.1 0-3.6zM258 -33l1 3.3 1 .4 2-.6 2 .9 .2 1-1.2 2.6-3 0-2.1-2.6-2.5-2-.6-1 .3-1 2.8-1zM256.5 -31l.5 .5 0-.7zM261.9 -29l-1.5 1 .2 1 1.4 .5 .7-.5 .4-1-1.1-1zM192 -32.1l2.1 2.1 .2 1-.3 1.4-1 .1-.4-.5-1.4-3 .6-1zM236 -32.2l1 .1 1 .6 2-.8 .8 .3 .1 1-.9 .5-3 0-.8-.5-.2-1zM186 -31.2l1 .2 1.2 1 .3 1-.5 .8-2 1.1-2 .2-1 2.3-1-.2 0-1.2 .9-1 1.1-.1 1-1 .5-.9 .1-2zM200 -30.7l1 0 .8 .7 .7 1 0 1-1.5 .1-1-.5-.5-.6 .1-1zM273 -28.6l.6 .6-1.3 0zM291 -26.2l0 .6-.7-.4zM281 -25.5l1-.2 .7 .7-.1 3-.5 1-1.1 .1-1-1.1 .4-3zM173 -22.7l1 0 1 .6 0 1.1-1 .3-1.3-.3-.5-1zM274 -20.1l2 1.1 .5 1-.5 1.8-1-.1-2-2.3 0-1 .6-.4zM100 -19l.2 1-1.2 1.1 0-2.5zM103 -16.4l1 .5 1.5 1.9 1.4 1 1.4 2-.4 1-2.9 1.8-3-.2-1.4 .4-.7 1 .9 2-.2 1-1.6 .6 0-6.1 2-.6 1.1-.9-1.8-2-1.3-.4 0-.7 2 .6 1-.2 .6-2.3zM104.5 -12l-.8 2 1.3 .7 1.2-.7 .4-1-.6-1.3-1-.2zM280 -12.3l1 .2 0 .6-1 .5-.4-1zM287 -12l1 .8 .5 1.2-.3 1-1.2 .5-1.3-.5 0-1 1.3-2zM275 -10.7l.1 .7 .9 .2 .8 1.8-.3 1-1.5 1-1-.2-.2-1.8 .2-1 1-1zM258 -9.2l1.2 .2 1.4 1-.2 1-1.4 .5-1.2-2.5zM289 -5.3l2 .9 0 .8-2 1.3-1 .1-.9-.8 0-1 1-1zM145 -3.3l1.8 .3 .5 1-.3 .9-2.2-.9-.4-1zM288 -1.3l0 .5-.2-.2zM247 4l2-.5 6-.3 1 .2 1.7 1.6-1.5 1-1.2 .2-6-.1-3-1.1 1-1zM248.7 4l-1.8 1 2.1 .7 5 .3 2-.3 1.1-.7-1.1-1.1-1-.3-6 .3zM99.7 5l-.7 .3 0-1.3zM235 9.9l1 1.1-1 .8-.9-.8 .7-1zM101 10.5l1 0 .8 .5 .2 1-.6 2-.4 .5-1-.2-.5 .7 .4 1 2.1-.4 .4 .4 .2 2 2.4 5.3 2 1.5 1 0 2-.9 1 .5 .7 1.6 1.9 2 .1 3 .4 1 1.9 2.3 1 .3 1-.6 2.4-3 .6-.4 1 .2 1.5 1.2 .1 1-1.8 1 .1 1 1.1 1.3 1 .3 .7-.6 1.3-2.4 2 1.6 3 .7 2-.1 2-1 4 1.3 1.6 2.9 1.4 .7 .4-.7 .2-2 1.1-2 1-1 1.3-.5 1 .5 2 2.7 .8 2.3 1.3 2-1.1 0-1-.9-.8 .9-3.2 0 0-1 .8-1-.1-1-.7-.7-1 .1-.4 .6 .3 2-.2 1-2.2 0-3.5-3.9-3-1.2-2 1.4-5-.7-.8 .4-.2 1.3-1 .8-3-.3-.7-.8-.2-1-1.8-2-.3-1.2-.9 1.2 1.3 2-.1 1-1.2 1-1.1-.2-1.2-.8 0-2-4-4-.6-1 .4-2-.3-1-1.3-.5-.1 1.5 .8 2-1.5 2-.7 2-6.5 2.9-3.2-1.9 .2-1-1-1.6-1 .1 0-6.5 1.8-1 .2-1-.8-1 1.3-2-.1-1-2.4-2.4 0-4.7 1 0 .3-.9-.3-2zM100.1 18l2.6 3 .3 1.3 .6-1.3-.3-1-1.3-2.2-1-.3zM104 23l-.7 1 .7 .4 0-1.4zM110 26l1.1 0-1.1 0zM103.9 28l-1.4 2 0 3 .5 .7 .3-.7 1.7-.7 2 .1 2 1.2 1-.7 1.1-1.9 .2-1-.3-1.1-.8-.9-1.2-.4-2 .5-3-.2zM121.9 32l.1 .8 0-.9zM212 10.9l1-.4 1.1 .5-1.1 1.1-1 .2-.3-.3 .1-1zM190 11.9l1-.1 .1 2.2 1.9 .9 1-.2 3-1.6 1 .4 .5 .5 .6 2-1.6 1-1.5 2.4-1.1-.4-.9-2.5-1 0-.7 1.5 1.4 2-.2 1-1.5 .7-2-.4-4-2.3-.6-1 .6-.6 2 0 1.6-.4-.3-2 .6-3zM188.7 19l1.3 1.1 1 .4 .8-.5-1.3-1-1.5-.1zM206 13.4l2.7 .6 1.3 1.7 1 0 1 .6 .3 .7-.2 1-.7 1-1.4 .7-1-.3-.5-.4-.1-2-.4-.6-2-1-.6-1.4zM200 16.2l1.2 .8 .3 1-.5 .3-.8-.3-.7-1zM134 18.9l1 .1 .6 1-.6 2.5-1 .1-1.5-1.6 .1-1 .9-1zM172 20.9l1.1 .1 0 1-1.1 .4-1.1-.4 .9-1zM177 20.3l2-.3 .9 1-.2 1-2.7 2.4-1-.2-.6-1.2 .6-2zM99.5 23l0 1-.5 .1 0-1.3zM286 22.6l1-.2 1.5 1.6-.1 2-.4 .7-1.2 .3-.2-1-1.3-2 .3-1zM283 23.7l.5 .3-.5 1-.4-1zM219 25l2-.3 3 .4 5-.8 1.3 .7 1.7 1.8 2.5 1.2 .5 1-2.1 2-1.9 2.9-2 4.4-3 .6-2-.5-1-1.2-.9-2.2-1.1-.8-4-1.4-1 0-1.7-2.8 0-2 .7-1.2 3.8-1.8zM227.7 25l-3.7 .5-5 .1-3 1.6-.8 .8-.1 1 1.2 2 1.7 1.3 2 .8 4 .8 .5 1.1 .1 2 .4 .3 2 .3 1-.3 2.9-5.3 2.6-3-.5-1-3-2.4-1-.6-1-.1zM271 25.5l.8 .5-.2 1-.6 .4-.6-.4-.2-1zM254 26.4l1-.3 .9 .9-1.1 2 .2 2-2.3-1-.1-1 .7-2zM279 26.6l1 .4 1 1.9 1 .1 2-1.6 2 0 .5 .6-2.5 3.4-1 .7-1-.1-2-2.7-2.2-1.3 .3-1zM290 27l1 0 0 2.4-1.2-1.4 0-1zM138 28.8l1 .4 1 2.1-1 .4-1.8-.7-.5-1 1-1zM165 28.9l1-.2 .3 .3-.3 .8-1 .2-.1-1zM152 31.7l1-.4 1 .2 .5 .5 0 1-1.5 1.6-1.9-.6-.7-1 1-1zM247 31.7l4-.1 .7 1.4-.1 1-.6 .6-1.7 .4-1.9 0-.5-1-.1-2zM273 32.3l1 .7-.8 3-.7 1-2.5 .8-1.2-.8-.2-1 2.1-2 1.8-1zM214 33.9l1-.8 .6 .9 .1 2 1 2 .7 3-2.6 0-4.5-4 0-2 .7-.7 2.8-.3zM261 34.8l2.2 2.2-.7 3 .8 1-1.8 0-1.6-1-.4-1 .4-3 .8-1zM240 35.5l1 .2 .6 1.3 0 1-.6 .8-1-.2-.4-.6-.4-2zM113 36.8l1-.2 2.8 2.4-1.8 .9-2 .1-1-.3-.8-.7 .2-1 1.4-1zM290 36.7l1-.4 0 1.1-.9 .6 .9 .9 0 1-3-.4-.2-.5 .5-1 1.2-1zM183 37.8l1-.3 1.6 .5 .1 3-3.1 0 .3-3zM276 37.8l1 0 1 .9 .4 2.3-2.1 0-.7-2 .2-1zM104 38.2l2.8 2.8-1.4 0-1.4-.6-.5 .6-1.1 0 .7-2zM99 40l.5 1-.5 0 0-1zM190 39.8l1-.4 2 .8 3-.9 .3 1.7-7.1 0 .6-1zM208 39.3l.3 .7-.3 .3-.1-.3zM242 39.9l.7 1.1-2 0 .3-.6 .8-.4zM163 40.8l1-.4 .5 .6-1.7 0zM233 40.3l.8 .7-1.1 0z"/><path fill="#fce4bc" stroke="#fce4bc" fill-rule="evenodd" d="M100 -41l.3 0 .4 3 .8 2 4.5 3.8 1.3-.8-.2-2 .9-1.6 1-.7 2 .7 1-.1 .4-1.3 .2-3 1.1 0 1 4 1.5 3-.2 .5-.8 .5 0 1 .8 .4 .9 1.6-.2 1-.7 .5-2-1-2 .4-1 3.3-2 .3-4-1.6-1 1.1-.2 1 .3 1 .9 1 1.9 1 1.1 2.4 2.7 1.6 .1 1-.5 3 .7 1 1-.4 .7 .4 .5 1 .1 1-.8 1-2.5 .7-2.7 3.3-.3 1 .5 3-1.5 1.9-.2 2.1-1.8 1.1-1.3 1.9 .3 1.1 2 .9 2 1.6 .5 1.4-.5 .3-1-.7-1 .6-.5 1.8 .3 1 2 2 .3 1-.1 2 .6 2-.2 2 .6 .8 1.2 .2 .7-1-.4-2 4.5-2.2 1.1 1.2-.1 1-1.7 2 .8 1 .9 .5 6-.5 2-1.4 .3 .4-.5 1 1.2 2.5 1 1.6 2 .9 1 .1 1-.6 .3-.5-.9-2 .5-1 1.8-1-.7-.3-1.1-1.7-2-2 1.1-2.2 2 .2 1-.4 1-1.6 1 .3 2 1.6 1-.2 3.4-2.7 5.6-2.2 6-.7 5-2.2 3-.4 .2-.5-2.2-1.3-3-2.7-3-1.7-4.2-.3-1.5-1-.3-.7-1-.3-1 2.1-1 .6-1-.3 0-1.3 .9-2.1-.2-1-.7-.8-1.7-.2 .7-1.4 .8-.6 1.2 .8 6-1.9 2 1.8 3-.4 2-1 6-1.7 18.7-.6 3.3-.7 2-1.4 2-.3 .6-.6-.6-.2-1-2.2-1-1.1-1-.4-3 0-3-1.1-3 1.2-3-1.2-5 .7-3-.5-2-.8-3 .8-3 .2-5-1.6-3 1-1.6-1.8-2.4-.5-1 .2-1.5 1.3 .1 1-.6 .4-1.8 .6-2.2 0-1.8-1-.3-1 1.1-1.5 2-.9 2-1.9 1 .1 2 1.1 1-.6 1-2.3 0-1-1-3-1-.1-1 .5-1-.6-1-1.9-1-.4-5 5.1-2 1.2-1.2 2.2-.8 .7-1-.4-2.1-2.3-.6-1 .6-2-1.9-1-1-2-1 0-1.7 3-1.3-.5 0-1.5 1-2 3-.1 1.2-.9 1.8-.2 2 1.8 4 .5 2.3-3.1 4.7-1.8 2 1 .2-1.2 2.3-2 .1-1-.7-3-.9-.8-1 .2-.7-.4 4.9 0 .8 .5 2-.4 1.4 3.9-.6 3 .9 3-.7 2 0 3.2 1 .6 .4-1.8 .6-.8 1-.4 1 .7 1.4 2.5-1.4 1.6-1 .6-3-.5-1 1-.4 1.3 .4 1 1 .5 3-1.2 1 .1 .8 .6 .2 1-.4 1 .4 1 2.9 0 2.5-1 .4-1-3.2-2 .4-1.4 1-.4 2 .9 3 .1 .4 .8-.8 2 .1 1 1.3 1.3 1 .3 1.5-.6 1.5-2.4 2 1.8 4 1.4 2-1.6 4 .8 3-1 1.8-3 1.8-1 1.4-1.4 3 .7 5 0 3-.5 2 .4 3-1.2 3 .3 1 .5 5 3.9 1 .1 3-1.2 .7 1.4-.9 2 .2 .2 1 .1 2.4-1.3 6.6-.9 3 1.2 2-.7 6-.3 6 .3 4 1 2 1 5 .6 3 .9 2 2 3 .3 1 1.3 1.2 3.3-.2 1-1 .6-2 .1-3 3.2-2-.9-3-.2-1 .5-1 1.4-1 .7-3-.1-4 1-1-.1 0-1.2-.5-1-1.5-.8-4 .9-3-.1-4-.8-1 .4-1 2.2-1-.3-1-1.9-1-.4-3 .3-6-3-1-.2-2 .9-2 0-4-1.8-4-1-4 .5-7-2.4-2 .2-1.1 1.3-.9 .5-2 0-2 .6-20 .3-3 .2-3 .8-9 4.9-2.9 .7-.1 1 1 1 3 .8 1.8 1.2 7.3 5 .4 1-1.5 .8-2-.1-3 .7-3 1.3-4.1 .3-3.1 1-1.8 1.9-1.2 .1-1.2 1-.5 2 .9 2.8 1 .8 2-.9 3-.9 3 1 5-.1 4 1.3 3-.4 3 .4 3 5.4 3.9 .6 .1 3 1 1.2 1.6-1.2 2.4 0 .4 1-.4 2-1 .1-2-.7-1.1 1.6-.9 .2-3-.5-2 .2-1-.7-2-2.7-2 1.8-2 1.1-2 2.3-3-.7-.4 1 .8 2-.3 2-2.1-.1-1.2-1.9-.8-2.3-2-2.7-1-.5-1.3 .5-1 1-1.1 2-.2 2-.4 .7-1.4-.7-1.6-2.9-4-1.3-2 1-2 .1-3-.7-2-1.6-.5 1.4-1.5 1.6-1-.3-1.1-1.3 .1-1.2 1.6-.8-.1-1-1.5-1.2-1-.2-.6 .4-2.4 3-1 .6-1-.3-1.9-2.3-.4-1-.1-3-1.9-2-.7-1.6-1-.5-2 .9-1 0-2.3-1.8-1-3-1.1-2-.2-2-.4-.4-2 .4-.5-1 .5-.7 1 .2 .4-.5 .6-1-.2-2-.8-.5-2 .5 .3 2-.3 .9-1 0 0-8.6 .7-.3-.7-1 0-7.4 1.6-.6 .2-1-.9-2 1.1-1.2 1-.2 2 .3 2-.5 1.9-1.4 .4-1-1.4-2-1.4-1-1.5-1.9-1-.5-.4 .4-.6 2.3-1 .2-2-.6 0-2.8 1.2-1.1-.2-1-1-.4 0-1.5 .4-.1 .4-1-.8-.9 0-8 1-2.1-1-1.5 .4-2.5-.4-.2 0-3.8zM146.8 -36l.2 .6 0-1.2zM110.3 -33l-1.6 2 .8 1 1.5 .4 1-1.4 2.9-2-1.9-.8-2 .6zM101.4 -32l-.6 1 .2 .7 1-.2 .4-.5 .1-1-.5-.4zM197.4 -22l-6.4 1.1-4 1.9-.6 1 .1 1 .6 1 2.6 2 1.3 1.8 6 1.1 2 1.3 1 .2 4-1.1 1 0 2 1.1 4-.3 .4 1.9 .6 .9 1 .2 3-.8 7 2.4 4-.6 6 1.4 5 .4 5-1 2 1.1 .9-1 1.1-.5 2-.2 2-1.5 1 0 .8 1.2 1.2 .4 2 0 .6-.4 0-1-2.2-2-.3-1 1.6-3-.7-.5-4 .5-1-.3-2-1.7-2-.8-2-1.5-2 .4-8-.6-3 1.3-4 .4-4-1.2-1 .2-2 1.4-2 .3-1-.3-2-2-4.3-2.6-2.7-2.2-3-.2-3 .9-2-.6-2 0zM106.5 -17l.5 .8 0-1.1zM257.8 -9l1.2 2.5 1.4-.5 .2-1-1.4-1-1.2-.2zM144.4 -3l.4 1 2.2 .9 .3-.9-.5-1-1.8-.3zM133.5 19l-.9 1-.1 1 1.5 1.6 1-.1 .6-2.5-.6-1-1-.1zM136.9 21l.1 3.1 1 1.3 1-.8 .3-1.6-1.3-2.5-1 .4zM151 22l-.6 1 .6 1.5 1 1 4 .2 1-.3 .8-1.4-3.8-2.1-3 .1zM133.1 26l-1.8 3 .7 .6 2-.4 1.7-1.2 .7-1-.9-1-1.5-.5zM140.8 26l-1.2 1 .4 1 1 1.1 1 0 2.3-1.1 .6-1-.9-1.2-3 .1zM162.1 26l-.3 1 .2 .5 1 .6 1-.4 .7-.7-.2-1-1.5-.7zM147.5 27l-.4 1 .4 1 2.5 1.2 1.1-.2 .7-1 .1-1-.6-1-1.3-.7-2 .3zM137.7 29l-1 1 .5 1 1.8 .7 1-.4-1-2.1-1-.4zM164.9 29l.1 1 1-.2 .3-.8-.3-.3-1 .2zM117.8 30l-.9 1 .3 1 .8 .3 1.2-1.3-.1-1-1.1-.1zM151.4 32l-1 1 .7 1 1.9 .6 1.5-1.6 0-1-.5-.5-1-.2-1 .4zM119 -41l1.7 0-1.7 .5-.5-.5zM268 -41l4 0-.5 1-1.5 .1-2-.3-.5-.8zM291 -41l0 1.3-.7-1.3zM156 -33.2l.2 1.2-1.2 1-.2-1 .5-1zM257 -31.2l0 .7-.5-.5zM262 -29l1.1 1-.4 1-.7 .5-1.4-.5-.2-1 1.5-1zM142 -25.4l.2 1.4-1.2 1.2-.5-1.2 1-1zM166 -25.6l1-.1 1 .6 .6 1.1-.6 .8-1.1 .2-.9-.6-.2-1.4zM249 3.9l6-.3 1 .3 1.1 1.1-1.1 .7-2 .3-5-.3-2.1-.7 1.8-1zM248.8 5l5.2 .4 2-.4-2-.7-5 .6zM99.5 19l1.9 2 .1 1-1.3 2 .8 1-.2 1-1.8 1 0-2.9 .5-.1 0-1-.5-.2 0-4.2zM189 18.9l1.5 .1 1.3 1-.8 .5-1-.4-1.3-1.1zM228 24.9l1 .1 1 .6 3 2.4 .5 1-2.6 3-2.9 5.3-1 .3-2-.3-.4-.3-.1-2-.5-1.1-4-.8-2-.8-1.7-1.3-1.2-2 .1-1 .8-.8 3-1.6 5-.1 3.7-.5zM218.9 27l-1.4 2 0 1 .8 1 1.7 1 4 .3 3 2.5 1-.6 3.1-5.2-.3-1-.8-.6-3-1.1-7 .2-1 .4zM104 27.9l3 .2 2-.5 1.2 .4 .8 .9 .3 1.1-.2 1-1.1 1.9-1 .7-2-1.2-2-.1-1.7 .7-.3 .7-.5-.7 0-3 1.4-2zM177 28.5l.5 1.5 .5 .4 2.5 .6-.5 .8-1.1 .2-1.8-1-.5-2zM191 28.8l1-.2 .4 2.4-.4 .4-1.2-1.4 .1-1zM186 31l1 .4 .3 .6-.3 1-1 .4-1.1-.4-.5-1 1.5-1zM196 33.8l1-.4 1 .1 .7 .5 .5 1-1.2 .9-1.2 .1-.8-.3-.5-.7 .3-1zM173 35.6l1-.1 .9 .5 0 1-.9 .7-1-.3-.5-1.4zM291 37.4l0 1.5-.9-.9zM158 39.4l1 0 .5 1.6-1.9 0-.1-1zM104 40.4l1.4 .6-1.9 0zM194 40.9l.8 .1-1 0z"/><path fill="#f8d099" stroke="#f8d099" fill-rule="evenodd" d="M114 -41l1 0 0 1 1 1.7 1-.1 .3-.6-.1-1-.6-1 1.9 0 .5 .5 1.7-.5 4.4 0-4 1-1.1 1-.6 1-.9 3 0 2 .3 1 1.2 .6 1-.1 5-1.5 2 .5 2.5 1.5 1.5-.1 2.8-1.9 6.9-3 .8-1-3.4-3-3.3-1 7.2 .2 .9 .8 .7 3-.1 1-2.3 2-.2 1.2-2-1-4.7 1.8-2.3 3.1-4-.5-1.7-1.6-1.3-.2-2 1.1-3 .1-1 2 0 1.5 1.3 .5 1.7-3 1 0 1 2 1.9 1-.6 2 .6 1 2.1 2.3 1 .4 .8-.7 1.2-2.2 2-1.2 5-5.1 1 .4 1 1.9 1 .6 1-.5 1 .1 1 3 0 1-1 2.3-1 .6-2-1.1-1-.1-2 1.9-2.5 1.4-.6 1 .3 1 .8 .7 2 .4 3-.7 .6-.4-.1-1 1.5-1.3 1-.2 2.4 .5 1.6 1.8 3-1 5 1.6 3-.2 3-.8 2 .8 3 .5 5-.7 3 1.2 3-1.2 3 1.1 3 0 1 .4 1 1.1 1 2.2 .6 .2-.6 .6-2 .3-1.2 1.1-1.8 .6-6 .6-9 0-6 .4-6 1.7-2 1-2 .3-1 .1-2-1.8-6 1.9-1-.9-1 .7-.7 1.4 1.7 .2 .7 .8 .2 1-.9 2.1 0 1.3 1 .3 1-.6 1-2.1 1 .3 .3 .7 1.5 1 4.2 .3 3 1.7 3 2.7 2.2 1.3-.2 .5-3 .4-5 2.2-6 .7-5.6 2.2-3.4 2.7-1 .2-2-1.6-1-.3-1 1.6-1 .4-2-.2-1.1 2.2 2 2 1.1 1.7 .7 .3-1.8 1-.5 1 .9 2-.9 1-1.4 0-2-.9-1.9-3.1-.3-1 .5-1-.3-.4-2 1.4-6 .5-.9-.5-.8-1 1.7-2 .1-1-1.1-1.2-4.5 2.2 .4 2-.7 1-.7 0-1.1-1 .2-2-.6-2-.2-3-1.8-1.7-.5-1.3 .5-1.8 1-.6 1 .7 .5-.3-.5-1.4-2-1.6-2-.9-.3-1.1 1.3-1.9 1.8-1.1 .2-2.1 1.5-1.9-.5-3 .3-1 2.7-3.3 2.5-.7 .8-1-.1-1-.5-1-.7-.4-1 .4-.7-1 .5-3-.1-1-2.7-1.6-1.1-2.4-1.9-1-.9-1-.3-1 .2-1 1-1.1 3 1.4 2 .3 1.3-.6 .7-3.1 2-.4 2 1 .7-.5 .2-1-.5-1-1.2-1 0-1 .8-.5 .2-.5-1.5-3-1-4zM141.5 -25l-1 1 .5 1.2 1.2-1.2-.2-1.4zM108.9 -23l.7 2 1.4 .7 1.8-.7 1.1-1-.9-.4-1-1.2-1-.4-2 .7zM114.2 -22l1.5 4-1 2 1.1 3-.1 1-1.2 2-3.8 3-1.1 3 1 2-.6 1.4-2.1 1.6-.2 1 .3 2.1 1-.2 1-1.6 1.1 .7 .2 1-1.6 4 0 1 1.9 3 0 1-1.2 3 .6 .4 1 .1 3-.8 2 .8 2-2 2-.7 3 1.1 1 1.3 1 .5 1-1.3 .8-.4 2.2-.2 1-1.4 1-.6 3 1.8 3-1.5 8-2.3 5-.4 4.3-2.4 .6-1 .1-1-1-1-6-2.1-4-.3-2 .8-2 .3-1-.3-.7-1.4 .6-2-.9-.5-2 1.3-4-2.3-2-.1-.4-.4-.1-1 .6-2 .9-.7 2-.5 2-1.7 2 1 1.4-1.1 1.6-.1 2 1.4 5-1 3 2 1 .1 3-1.4 3.4 0 2.6-.7 16-.3 4.1-1 .9-1 .8-2-.6-1-3.2-1-1-.3-4 .6-2-1-4 .5-6-.4-2 .6-2-.5-7-.7-8 1.7-3-.3-3 .2-2-.5-1.6-.9-.4-.8-.5 1.8-.5 .4-1.4 .6-1.6 .1-1.3-1.1-.2-1 1.3-2 0-1-1.5-1-1.3-1.9-2 .1-2-1.6-1 .1-.2 .3 .7 2-.5 3-1 .8-1-.1-.5-.7 .9-2-.4-.7-2.7-1.3-1.3-1.4zM132.9 -22l-.1 1 1.2 1.2 1-.6 .3-.6-.9-1-1.4-.1zM111 -33.2l2-.6 1.9 .8-2.9 2-1 1.4-1.5-.4-.8-1 1.6-2zM102 -32.4l.5 .4-.1 1-.4 .5-1 .2-.2-.7 .6-1zM99.8 -22l-.4 1-.4 .1 0-2zM198 -22.1l2 0 2 .6 3-.9 3 .2 2.7 2.2 4.3 2.6 2 2 1 .3 2-.3 2-1.4 1-.2 4 1.2 4-.4 3-1.3 8 .6 2-.4 2 1.5 2 .8 2 1.7 1 .3 4-.5 .7 .5-1.6 3 .3 1 2.2 2 0 1-.6 .4-2 0-1.2-.4-.8-1.2-1 0-2 1.5-2 .2-1.1 .5-.9 1-2-1.1-5 1-5-.4-6-1.4-4 .6-7-2.4-3 .8-1-.2-.6-.9-.4-1.9-4 .3-2-1.1-1 0-4 1.1-1-.2-2-1.3-6-1.1-1.3-1.8-2.6-2-.6-1-.1-1 .6-1 4-1.9 6.4-1.1zM195.6 -21l-3.6 1.1-3.5 1.9-.2 1 5.7 4 3 .5 3-.2 3 .8 3-.4 2 1.1 1-.1 2-2 2.2-.7 1.4-1-.1-1-.8-1-3.7-1.9-3-2.4-2-.2-3 .9-3-.8-3 .3zM234.9 -16l-1.9 .9-3-.1-3 1.1-2 .1-3-.9-2 .8-3 .3-1 .7-2.2 3.1-.1 1 3.3 .6 5 1.7 6-.2 4 1.2 6 .3 2.5-.6 2.5-1.2 2 .3 2-1.6 3-.6 .7-.9-.4-1-3.3-2.7-4-1.2-4 .3-2-1.1-2-.3zM107 -17.3l0 1.1-.5-.8zM249 4.9l5-.6 2 .7-2 .4-5.2-.4zM137 20.9l1-.4 1.3 2.5-.3 1.6-1 .8-1-1.3-.1-3.1zM151 22l3-.1 3.8 2.1-.8 1.4-1 .3-4-.2-1-1-.6-1.5 .6-1zM134 25.5l1.5 .5 .9 1-.7 1-1.7 1.2-2 .4-.7-.6 1.8-3zM141 25.9l3-.1 .9 1.2-.6 1-2.3 1.1-1 0-1-1.1-.4-1 1.2-1zM163 25.3l1.5 .7 .2 1-.7 .7-1 .4-1-.6-.2-.5 .3-1zM148 26.6l2-.3 1.3 .7 .6 1-.1 1-.7 1-1.1 .2-2.5-1.2-.4-1 .4-1zM219 26.9l1-.4 7-.2 3 1.1 .8 .6 .3 1-3.1 5.2-1 .6-3-2.5-4-.3-1.7-1-.8-1 0-1 1.4-2zM224 27l-2.6 1-.1 2 .6 1 5.1 1.4 1-1.4 .1-2-1.1-1.4-1-.6-1-.1zM118 29.9l1.1 .1 .1 1-1.2 1.3-.8-.3-.3-1 .9-1z"/><path fill="#f2a673" stroke="#f2a673" fill-rule="evenodd" d="M115 -41l1.6 0 .6 1-.2 1.6-1 .1-1-1.7 0-1zM122 -40.3l3.1-.7 1.9 0-5.3 2-.5 1-.6 3 .4 1.5 5-.8 6 1.5 6.5-3.2 .5-1-.4-1-1.2-1-2.4-1.3-3.7-.7 4.5 0 3.2 1 3.5 3-.8 1-6.9 3-2.8 1.9-2 .1-2-1.5-2-.5-6 1.6-1.2-.6-.3-1 0-2 .9-3 1.7-2zM109 -23.3l2-.7 1 .4 1 1.2 .9 .4-1.1 1-1.8 .7-1.4-.7-.7-2zM115 -22.4l1.3 1.4 2.7 1.3 .4 .7-.9 2 .5 .7 1 .1 1-.8 .5-3-.7-2 .2-.3 1-.1 2 1.6 2-.1 1.3 1.9 1.5 1 0 1-1.3 2 .2 1 1.3 1.1 1.6-.1 1.4-.6 .5-.4 .5-1.8 .4 .8 1.6 .9 2 .5 3-.2 3 .3 8-1.7 7 .7 2 .5 2-.6 6 .4 4-.5 2 1 4-.6 1 .3 3.2 1 .6 1-.8 2-.9 1-4.1 1-16 .3-2.6 .7-3.4 0-3 1.4-1-.1-3-2-5 1-2-1.4-1.6 .1-1.4 1.1-2-1-2 1.7-2 .5-.9 .7-.6 2 .1 1 .4 .4 2 .1 4 2.3 2-1.3 .9 .5-.6 2 .7 1.4 1 .3 2-.3 2-.8 4 .3 6 2.1 1 1-.1 1-.6 1-4.3 2.4-5 .4-8 2.3-3 1.5-3-1.8-1 .6-1 1.4-2.2 .2-.8 .4-1 1.3-1-.5-1-1.3-3-1.1-2 .7-2 2-2-.8-3 .8-1-.1-.6-.4 1.2-3 0-1-1.9-3 0-1 1.6-4-.2-1-1.1-.7-1 1.6-1 .2-.3-2.1 .2-1 2.1-1.6 .6-1.4-1-2 1.1-3 3.8-3 1.2-2 .1-1-1.1-3 1-2-1.5-4zM120.7 -13l-.7 1.3-2.1 .7-4.1 3-.8 1 .3 1 .7 .2 .8 .8 .2 1.6-.6 1.4-2 2 0 1 .9 2-.9 5 3.2 3 2.4 1.6 3-.6 4 1.7 1 .1 3-.5 2-1.5 1-.1 3 1.3 13-3.5 3-.1 2.6-1.4 .9-1 0-1-.5-.4-4 .3-2-2.1-2-.1-6 .9-2-1.8-2-.5-3-2.6-3 .6-1.2-.3-.6-1 .3-1 1.5-3.6 1.3-1.4 .2-1-.6-1 0-2-3.9-.9-2-1.4-3-.6-1 .2zM147.2 -13l-.5 1 1.3 1 1.9 3 1.1 1 1 .2 3-1.3 3 .5 9-.7 9 0 2.7-.7 1.5-1 .3-1-2.5-1.8-4 0-2-.7-4 .4-5-.4-3 1-1 0-2-.8-9 .1zM138.9 -12l-1.3 1-.1 1 .5 .4 3 0 2 .6 1-.1 1-1.9-1-1-5 0zM133 -22.1l1.4 .1 .9 1-.3 .6-1 .6-1.2-1.2 .1-1zM196 -21.1l3-.3 3 .8 3-.9 2 .2 3 2.4 3.7 1.9 .8 1 .1 1-1.4 1-2.2 .7-2 2-1 .1-2-1.1-3 .4-3-.8-3 .2-3-.5-5.7-4 .2-1 3.5-1.9 3.6-1.1zM195.1 -20l-2.4 1-1 1 .2 1 1.1 1.8 2.2 1.2 7.8 .9 2-1 3-.6 2-1.3 0-1-4-3.5-1-.1-3 .7-4-.7-2 .3zM235 -16l2 .3 2 1.1 4-.3 4 1.2 3.3 2.7 .4 1-.7 .9-3 .6-2 1.6-2-.3-2.5 1.2-2.5 .6-6-.3-4-1.2-6 .2-5-1.7-3.3-.6 .1-1 2.2-3.1 1-.7 3-.3 2-.8 3 .9 2-.1 3-1.1 3 .1 1.9-.9zM230 -14l-2 1.8-3 0-3-.7-2 .3-.9 .6 1 3 1.9 1.2 6 0 3 .6 2-.3 4 .5 .9-1-.3-2 .8-2-.1-1-1.3-.9-1.6-.1-.9 1 1.2 2-1 1-1.7 .4-.6-3.4-1.4-1-1 0zM241.1 -13l-.4 1 .3 2.5 .2-1.5 1.9-2-1.1-.3zM119 -9.8l2.1 .8 .4 1-.5 1-1 .3-1.3-.3-.6-2zM225 26.9l1 .1 1 .6 1.1 1.4-.1 2-1 1.4-5.1-1.4-.6-1 .1-2 2.6-1zM224.5 28l-1.5 .9 .3 1.1 2.7 .3 .4-1.3-1.4-1z"/><path fill="#e9735e" stroke="#e9735e" fill-rule="evenodd" d="M125 -40l2-1 7 .3 4 2.1 1 1.6-.5 1-6.5 3.2-6-1.5-5 .8-.4-1.5 .6-3 .5-1 3.2-1zM127.1 -40l-2.9 2 .6 2 1.2 .7 5 1 2 0 1.6-.7 1.8-2-.2-1-2.2-1.8-6-.5zM196 -20.3l2-.3 4 .7 3-.7 1 .1 4 3.5 0 1-2 1.3-3 .6-2 1-7.8-.9-2.2-1.2-1.1-1.8-.2-1 1-1 2.4-1zM195.3 -19l-1.3 1-.2 1 4.2 2.5 5 0 4-1.5 .5-1-2.5-2.6-4 .3-3-.5-2 .4zM230 -14l1 0 1.4 1 .6 3.4 1.7-.4 1-1-1.2-2 .9-1 1.6 .1 1.3 .9 .1 1-.8 2 .3 2-.9 1-4-.5-2 .3-3-.6-6 0-1.9-1.2-1-3 .9-.6 2-.3 3 .7 3 0 2-1.8zM229.5 -11l-2.9 1 1.2 1 2.2-.1 .6-.9-.6-1.2zM121 -13.7l1-.2 3 .6 2 1.4 3.9 .9 0 2 .6 1-.2 1-1.3 1.4-1.5 3.6-.3 1 .6 1 1.2 .3 3-.6 3 2.6 2 .5 2 1.8 6-.9 2 .1 2 2.1 4-.3 .5 .4 0 1-.9 1-2.6 1.4-3 .1-13 3.5-3-1.3-1 .1-2 1.5-3 .5-1-.1-4-1.7-3 .6-2.4-1.6-3.2-3 .9-5-.9-2 0-1 2-2 .6-1.4-.2-1.6-.8-.8-.7-.2-.3-1 .8-1 4.1-3 2.1-.7 .7-1.3zM118.1 -9l.6 2 1.3 .3 1-.3 .5-1-.4-1-2.1-.8zM126.4 -9l.6 2-.2 2 .2 .5 1 .2 .4-1.7 1-2-.4-1-1-.8-1 .2zM122 0l1.2 3-.7 1-3.5-.7-2-1.2-1-.1-1 2-.2 2 1.2 1.2 2-.2 1.5 1 1.8 2 4.7 2 2 0 3-1.2 4 1 10.8-2.8 1.4-1 .5-1-.1-1-.6-1.1-7 .6-3-1.6-4-.4-.7 .5-1.3 0-2-2-4 .3-.6-.3-.5-1-1.9-1zM148 -13.2l9-.1 2 .8 1 0 3-1 5 .4 4-.4 2 .7 4 0 2.5 1.8-.3 1-1.5 1-2.7 .7-9 0-9 .7-3-.5-3 1.3-1-.2-1.1-1-1.9-3-1.3-1 .5-1zM161.6 -12l-2.6 .9-2-.5-1 .3-.7 .3-.3 1 2 1.2 6 .5 12-.4 1.5-.3 .2-1-.7-1.3-4-1.3-4 .6-4-.6-2 .4zM150.1 -11l1.9 2.3 2.9-1.3-.9-.3-.4-.7-2.6-.4zM242 -13.3l1.1 .3-1.9 2-.2 1.5-.3-2.5 .4-1zM139 -12l5 0 1 1-1 1.9-1 .1-2-.6-3 0-.5-.4 .1-1 1.3-1zM225 28l1.4 1-.4 1.3-2.7-.3-.3-1.1 1.5-.9z"/><path fill="#e34349" stroke="#e34349" fill-rule="evenodd" d="M128 -40.3l6 .5 2.2 1.8 .2 1-1.8 2-1.6 .7-2 0-5-1-1.2-.7-.6-2 2.9-2zM127.7 -39l-1.6 1-.3 1 1.2 1.1 6 .4 1-.5 .7-1-.1-1-1.2-1-5.4-.1zM196 -19.4l2-.4 3 .5 4-.3 2.5 2.6-.5 1-4 1.5-5 0-4.2-2.5 .2-1 1.3-1zM196.5 -18l.1 1 .9 1 1.5 .6 5-.5 1.4-1.1-.4-1-1-.5-4 .2-2-.4-1 .3zM162 -12.2l2-.4 4 .6 4-.6 4 1.3 .7 1.3-.2 1-1.5 .3-12 .4-6-.5-2-1.2 .3-1 .7-.3 1-.3 2 .5 2.6-.9zM162.1 -11l-.9 1 .6 1 1.2 .3 7.7-.3 2.9-1-.4-1-1.2-.7-1 0-4 1.2-3-1.1-1 .1zM151 -11.4l2.6 .4 .4 .7 .9 .3-2.9 1.3-1.9-2.3zM230 -11.2l.6 1.2-.6 .9-2.2 .1-1.2-1 2.9-1zM127 -9.6l1-.2 1 .8 .4 1-1 2-.4 1.7-1-.2-.2-.5 .2-2-.6-2zM122 0l1.9 1 .5 1 .6 .3 4-.3 2 2 1.3 0 .7-.5 4 .4 3 1.6 7-.6 .6 1.1 .1 1-.5 1-1.4 1-10.8 2.8-4-1-3 1.2-2 0-4.7-2-1.8-2-1.5-1-2 .2-1.2-1.2 .2-2 1-2 1 .1 2 1.2 3.5 .7 .7-1-1.2-3zM124.3 5l-2.7 2 .5 1 .9 .9 1 .4 4 .9 3-.5 4 .8 6-2 3-.4 1.3-1.1-2.3-1-3 .7-3-1.4-6 .4-4-1.3-2 .1z"/><path fill="#e03045" stroke="#e03045" fill-rule="evenodd" d="M128 -39.1l5.4 .1 1.2 1 .1 1-.7 1-1 .5-6-.4-1.2-1.1 .3-1 1.6-1zM131.8 -38l.2 .5 .4-.5-.4-.1zM197 -18.4l1-.3 2 .4 4-.2 1 .5 .4 1-1.4 1.1-5 .5-1.5-.6-.9-1-.1-1zM163 -11.5l1-.1 3 1.1 4-1.2 1 0 1.2 .7 .4 1-2.9 1-7.7 .3-1.2-.3-.6-1 .9-1zM163.7 -10l.3 .2 0-.3zM125 4.5l2-.1 4 1.3 6-.4 3 1.4 3-.7 2.3 1-1.3 1.1-3 .4-6 2-4-.8-3 .5-4-.9-1-.4-.9-.9-.5-1 2.7-2zM132.7 7l-.8 1 1.1 .7 1 .1 .6-.8-.3-1-1.3-.1z"/><path fill="#df2035" stroke="#df2035" fill-rule="evenodd" d="M132 -38.1l.4 .1-.4 .5-.2-.5zM164 -10.1l0 .3-.3-.2zM133 6.9l1.3 .1 .3 1-.6 .8-1-.1-1.1-.7 .8-1z"/>
<use href="#land" fill="#787978" stroke="#787978" stroke-width="0.7"/>
</g>
<line x1="287.02" y1="1166.40" x2="287.02" y2="1361.62" stroke="#161616" stroke-width="5.2" stroke-dasharray="23.2 20.6" stroke-dashoffset="1.8"/>
<rect x="91.40" y="1166.20" width="464.61" height="195.62" fill="none" stroke="#111" stroke-width="1.9"/>
<path d="M140.31,1166.20v-4.6M140.31,1361.82v4.6M238.12,1166.20v-4.6M238.12,1361.82v4.6M335.93,1166.20v-4.6M335.93,1361.82v4.6M433.74,1166.20v-4.6M433.74,1361.82v4.6M531.55,1166.20v-4.6M531.55,1361.82v4.6M91.40,1190.65h-5.2M556.01,1190.65h4.6M91.40,1227.33h-5.2M556.01,1227.33h4.6M91.40,1264.01h-5.2M556.01,1264.01h4.6M91.40,1300.69h-5.2M556.01,1300.69h4.6M91.40,1337.37h-5.2M556.01,1337.37h4.6" stroke="#111" stroke-width="1.3" fill="none"/>
<text x="77.00" y="1204.85" font-size="34.5" text-anchor="end" fill="#000">30°N</text>
<text x="77.00" y="1241.53" font-size="34.5" text-anchor="end" fill="#000">15°N</text>
<text x="77.00" y="1278.21" font-size="34.5" text-anchor="end" fill="#000">0°</text>
<text x="77.00" y="1314.89" font-size="34.5" text-anchor="end" fill="#000">15°S</text>
<text x="77.00" y="1351.57" font-size="34.5" text-anchor="end" fill="#000">30°S</text>
<text x="439.10" y="1350.70" font-size="34.3" font-weight="bold" fill="#000">SODA</text>
<text x="75.60" y="1158.50" font-size="30.2" font-weight="bold" text-anchor="end" fill="#000">K</text>
<g transform="matrix(2.4453,0,0,-2.4453,450.070,1264.012)" clip-path="url(#pc)" stroke-width="0.3" stroke-linejoin="round">
<path fill="#343f93" stroke="#343f93" fill-rule="evenodd" d="M160 -7.2l3-.5 20 1.2 7 .4 7.5 1.1 4 2 .7 1 0 1-1 2-1.3 1-1.9 1.4-2.5 .6 4.5 1.6 8-.2 9 .4 4-.4 12 .6 6-.2 7 .5 24-1.2 2.9 .9 1.2 1 0 1-1.8 1-2.3 .6-12-.4-7 .3-3-.3-13 0-26 .8-9-.9-4 .3-10-1.8-21-.8-5.6-.8-5.8-2-6.1-4 0-1 2.5-2 3.7-2 5.5-2z"/><path fill="#394d9c" stroke="#394d9c" fill-rule="evenodd" d="M159 -7.2l4-.8 27 1.7 8 1.1 3 1.2 1.4 1 .6 1 .1 1-.8 2-3.8 3 1.4 1 1.1 .3 8-.3 8 .4 4-.3 24 .8 8-.1 17-1.2 2 .4 1.9 1 1.2 1-.1 1-1.5 1-3.5 1-34-.4-27 .7-9-.8-4 .2-11-1.7-21-1-5-.9-5.8-2.1-6.3-4 0-1 4.4-3 7-3zM159.2 -7l-5.5 2-3.7 2-2.5 2 0 1 6.1 4 5.8 2 5.6 .8 21 .8 10 1.8 4-.3 9 .9 26-.8 13 0 3 .3 7-.3 12 .4 2.3-.6 1.8-1 0-1-1.2-1-2.9-.9-24 1.2-7-.5-6 .2-12-.6-4 .4-9-.4-8 .2-4.5-1.6 2.5-.6 1.9-1.4 1.3-1 1-2 0-1-.7-1-4-2-7.5-1.1-7-.4-20-1.2-3 .5z"/><path fill="#325ea6" stroke="#325ea6" fill-rule="evenodd" d="M162 -8.1l28 1.5 6 .6 3 .8 2.9 1.2 2 2 .2 1-.8 2-3.6 3 1.3 .7 16 .4 4-.3 13 .6 5-.3 6 .5 8-.2 18-1.3 3.9 1.9 1 1-.1 1-1.8 1.3-4 1.1-12-.3-7 .5-3-.5-12-.2-27 .6-9-.7-5 .3-16-2.3-17-.8-7-1.9-8.6-5.1 .1-1 6.5-4.1 4.6-1.9 3.9-1zM158.3 -7l-7 3-4.4 3 0 1 6.3 4 5.8 2.1 5 .9 21 1 11 1.7 4-.2 9 .8 27-.7 34 .4 3.5-1 1.5-1 .1-1-1.2-1-1.9-1-2-.4-17 1.2-8 .1-24-.8-4 .3-8-.4-8 .3-1.1-.3-1.4-1 3.8-3 .8-2-.1-1-.6-1-1.4-1-3-1.2-8-1.1-27-1.7-4 .8zM240 16l1-.3 1.7 .3 .3 1-2 1.9-2 .2-.5-1.1 .3-1 1.2-1zM245 15.6l2-.5 1.1 .9-1.1 1.1-1.1-.1-1.8-1z"/><path fill="#2373b3" stroke="#2373b3" fill-rule="evenodd" d="M161 -8.1l3-.2 30 1.8 5 1 3.7 1.5 2.5 2 .2 1-1.1 2-3.5 3 1.2 .4 32 .6 5-.2 6 .5 8-.2 18-1.5 4 1.7 1.8 1.7-.1 1-1.1 1-4.6 1.7-14.2 .3-1.2 1-.4 1-2.2 2.4-2 1.6-3 1.3-4 .1-3 1.7-3 .5-4-1.5 .3-1.1 4.7-3.5 7-1.7 3-.1 .9-.7 0-1-1.9-.4-11-.3-28 .5-9-.7-5 .2-12.1-1.3-4.9-1.1-15-.6-8-2-9-5.3 .1-1 6.3-4 4.6-2 3.6-1zM161.5 -8l-3.9 1-4.6 1.9-6.5 4.1-.1 1 8.6 5.1 7 1.9 17 .8 16 2.3 5-.3 9 .7 27-.6 12 .2 3 .5 7-.5 12 .3 4-1.1 1.8-1.3 .1-1-1-1-3.9-1.9-18 1.3-8 .2-6-.5-5 .3-13-.6-4 .3-16-.4-1.3-.7 3.6-3 .8-2-.2-1-2-2-2.9-1.2-3-.8-6-.6-28-1.5zM240 16l-1.2 1-.3 1 .5 1.1 2-.2 2-1.9-.3-1-1.7-.3-1 .3zM244.1 16l1.8 1 1.1 .1 1.1-1.1-1.1-.9-2 .5z"/><path fill="#28a0d5" stroke="#28a0d5" fill-rule="evenodd" d="M160 -8.1l4-.4 33 2 5 1.7 3.4 1.8 1.1 1 .2 1-.6 1-3 3-.6 1 2.5 .4 45 .4 21-1.8 1 .1 4 2 1.7 1.9-.2 1-1.5 1.4-5 1.8-8 .1-4 1.1-2 1.2-3 3.8-4 1.9-5-.1-3 1.6-4 1.3-4-.4-2-1.5-2-.4-.6-.8 .3-1 1.3-.8 2-.3 2.2-1.9 2.8-1.5 5.5-1.5 0-1-6.5-.4-28 .5-8-.7-6 .2-13-1.3-4-1-15-.8-3-.5-5-1.6-9.4-5.4 .2-1 5.2-3.4 4-2 4.8-1.6zM160.6 -8l-3.6 1-4.6 2-6.3 4-.1 1 9 5.3 8 2 15 .6 4.9 1.1 12.1 1.3 5-.2 9 .7 28-.5 11 .3 1.9 .4 0 1-.9 .7-3 .1-7 1.7-4.7 3.5-.3 1.1 4 1.5 3-.5 3-1.7 4-.1 3-1.3 2-1.6 2.2-2.4 .4-1 1.2-1 14.2-.3 4.6-1.7 1.1-1 .1-1-1.8-1.7-4-1.7-18 1.5-8 .2-6-.5-5 .2-32-.6-1.2-.4 3.5-3 1.1-2-.2-1-2.5-2-3.7-1.5-5-1-30-1.8-3 .2z"/><path fill="#3bbee5" stroke="#3bbee5" fill-rule="evenodd" d="M228 -30l1-.4 .9 .4 1.1 1.9 1 .1 3-1.2 3 .3 1.2 .9-.3 2 .4 1-.3 .4-1 .1-3-1.1-3 1-2-.9-3 1.2-4 .1-1-.2-1-1.2-1-.6-2.1 .2 .4-1 2.7-2.1 2-.4 2 1.5 1-.1 2-1.9zM242 -29.1l2-.7 1 .5 .6 1.3-.4 1-1.2 1-1-.2-1.3-2.8zM160 -8.3l3-.4 16 1 16 .4 4 .8 7 3 1.7 1.5 0 1-.5 1-3.1 3 .4 1 .5 .1 33 .2 6 .3 13-.6 14-1.6 5 1.7 1.3 .9 1.3 2-.2 1-1.4 1.5-2 1.1-3 .9-10 .7-5 3.4-2 3.2-3 .8-2 1.2-5-.4-3 2-3 1.1-3-.1-2 .9-1.1-.3-1.9-2.1-1.6 1.1-.3 2-2.1 .5-1.7-.5-2.3-2-.2-1 1.2-.5 2 .1 1-.6 .6-3 2.4-2.4 1-.7 2-.2 2-1.2 4.3-1.5-1-1-10.3-.1-3 .4-4-.3-12 .6-8-.9-6 .2-13-1.2-3-.9-7-.8-9-.4-3-.4-5-1.6-9.7-5.6 .2-1 6.5-4.2 7.1-2.8zM159.8 -8l-4.8 1.6-4 2-5.2 3.4-.2 1 9.4 5.4 5 1.6 3 .5 15 .8 4 1 13 1.3 6-.2 8 .7 28-.5 6.5 .4 0 1-5.5 1.5-2.8 1.5-2.2 1.9-2 .3-1.3 .8-.3 1 .6 .8 2 .4 2 1.5 4 .4 4-1.3 3-1.6 5 .1 4-1.9 3-3.8 2-1.2 4-1.1 8-.1 5-1.8 1.5-1.4 .2-1-1.7-1.9-4-2-1-.1-21 1.8-45-.4-2.5-.4 .6-1 3-3 .6-1-.2-1-1.1-1-3.4-1.8-5-1.7-33-2-4 .4z"/><path fill="#80cbe3" stroke="#80cbe3" fill-rule="evenodd" d="M244 -33.2l1 .2 1.1 2 1.9 1.4 1-.1 3-2.2 2 .5 1.6 1.4-1.3 2-.4 2-.6 1-1.3 .7-1.8 .3-.1 2-1.1 .7-1-.4-2-2.3-2 1.7-1 .3-3-.5-7 1.8-5-1.1-4 .2-2-.6-2-1.4-4 .4-2 .8-1 0-.9-.6 .9-4.1 1-.6 2-.3 4-2.7 3-.7 3 .4 3-1.1 3 .3 2-.3 3 .6 1-.8 1-.2 2 .7 1-.1 1.5-1.1zM228 -30l-2 1.9-1 .1-2-1.5-2 .4-2.7 2.1-.4 1 2.1-.2 1 .6 1 1.2 1 .2 4-.1 3-1.2 2 .9 3-1 3 1.1 1-.1 .3-.4-.4-1 .3-2-1.2-.9-3-.3-3 1.2-1-.1-1.1-1.9-.9-.4-1 .4zM241.7 -29l1.3 2.8 1 .2 1.2-1 .4-1-.6-1.3-1-.5-2 .7zM159 -8.3l4-.6 24 1.3 10-.4 4 1.4 7.1 3.6 .7 1-.1 1-1.3 2-2.4 2 1 .7 38 .6 6-.3 2-.4 9-.6 2-.5 8-.7 6 1.6 1.8 1.6 .9 2-1.7 2.4-3 2-4 1.1-8.1 .5-7.2 7-3.7 .6-3 2.1-1-.1-1-.7-1.8 .1-3.2 4.8-.5 .2-.8 0-1.7-1.4-1-.1-3.2 1.5-1.8 1.4-2-.4-2-1-7 1-1.7-1 1.7-.9-.1-1.1-.9-.8-1-.1-.6 .9 .6 1.3-1 .2-1-.3-1-1.4-1-.1-2 .6-.6 .7 0 3-.4 .5-1-.1-1.1-1.4 .1-2 2-1.1 2-1.7 .3-1.2-1.3-1.3-4-1.3-.7-1.4 3.7-3.5 1-.1 2 1.2 3 .2 2 1.5 1 .3 3-1.4 2-.3 1-.5 2-2.3 5.6-1.1-7.6-.6-3 .4-4-.3-12 .6-8-1.2-5 .6-5-.9-9-.5-3-.8-7-.9-10-.7-5-1.2-3-1.1-9.1-5.4 .3-1 6.8-4.5 6.4-2.5zM159.1 -8l-7.1 2.8-6.5 4.2-.2 1 9.7 5.6 5 1.6 3 .4 9 .4 7 .8 3 .9 13 1.2 6-.2 8 .9 12-.6 4 .3 3-.4 10.3 .1 1 1-4.3 1.5-2 1.2-2 .2-1 .7-2.4 2.4-.6 3-1 .6-2-.1-1.2 .5 .2 1 2.3 2 1.7 .5 2.1-.5 .3-2 1.6-1.1 1.9 2.1 1.1 .3 2-.9 3 .1 3-1.1 3-2 5 .4 2-1.2 3-.8 2-3.2 5-3.4 10-.7 3-.9 2-1.1 1.4-1.5 .2-1-1.3-2-1.3-.9-5-1.7-14 1.6-13 .6-6-.3-33-.2-.5-.1-.4-1 3.1-3 .5-1 0-1-1.7-1.5-7-3-4-.8-16-.4-16-1-3 .4zM214.3 18l.7 .5 .7-.5-.7-.6zM218 19l1 .4 1-.4-2 0zM197 15l1-.2 3 .8 3-.9 1.2 .3 .3 1-1.5 1.5-1.2 2.5 1 3-2.8 1.9-1.4 .1-.6-1 .8-1 .1-1-3.9-2.2-2 .5-2.2-2.3 2.2-2.1 3-.9zM189 16.9l1.3 1.1-1.3 1-.8-1 .7-1zM212 20.6l0 1.7-.7-.3 .6-1z"/><path fill="#a8dbe9" stroke="#a8dbe9" fill-rule="evenodd" d="M243 -41l1.5 0-1.5 .4-.4-.4zM220 -36.2l1.6 .2-.6 2 1 .8 2-1.5 3 1.2 3-.3 2-1.3 8 .7 4-.6 5 1 2-.6 2 .6 4 2.2 1 .2 5-1.9 1 .2 1.3 1.3 .4 1-.2 2 1.7 3-4.2 .1-2 .9-2 .1-.6 1.9 .5 2-.9 .8-1 .1-2-.3-1-.8-.3 .2 .3 1-1 1.9-1 0-6-2.6-1 0-2 .9-1-.1-2-1.1-1 .1-3 1.4-2 2.1-1 .1-2-1.9-1-.1-2 1.3-2-.8-2 .4-2-2-2-.7-2-.2-3 .6-3-.4-1.9-1.9 .1-1 .8-1 .3-1-.3-.8-1-.4-1.3 1.2-.1 2-.6 .5-.5-.5-1.3-2 .3-3 .6-1 3.9-1.7 1 0 2 1.4 1-.3 2-1.1 2-3.8 .6-.5zM243.5 -33l-1.5 1.1-1 .1-2-.7-1 .2-1 .8-3-.6-2 .3-3-.3-3 1.1-3-.4-3 .7-4 2.7-2 .3-1 .6-.9 4.1 .9 .6 1 0 2-.8 4-.4 2 1.4 2 .6 4-.2 5 1.1 7-1.8 3 .5 1-.3 2-1.7 2 2.3 1 .4 1.1-.7 .1-2 1.8-.3 1.3-.7 .6-1 .4-2 1.3-2-1.6-1.4-2-.5-3 2.2-1 .1-1.9-1.4-1.1-2-1-.2zM265 -36l1-.7 1 .6 0 1.9-1.7-.8-.3-1zM268 -33.4l.2 .4-.4 0zM203 -27l1.6 1-.5 1-1.1-.2-.5-.8 .4-1zM201 -11.6l2 .9 2 .1 .8 .6-.6 2-.9 1-.3 1 4 1.6 2.2 2.4-.1 1-1.3 2-.8 1.2-1.4 .8 .4 .1 10 .6 3-.4 9 .5 5 0 4-.5 5 .7 6-.6 3-1.3 2 .2 2-1.1 4 .9 10-1 5 1.1 6 .5 .7 1.3 .2 3-5.9 4.9-6.1 2.1-2.9 6.5-2-.3-2-1.3-3 0-1 .4-2 2-4.9 .7-1.1 1.8-2 1.5-.3 2.7-.7 1.3-3 .2-3-.7-3 .3-2-.4-1 .4-1 1.3-2 .7-1 .9 0 2.3-1 .2-2-2.7-.6-2.8-.4-.2-2.1 .2-2.9 1.3-3.6-.3-1.4 2.2-1 .7-.7-.9-1.3-.5-4 0-2-2.4-3 .6-2-1-3 .3-2-1.2-3 1.3-2-1.7-1-.3-1 .1-1 1-1 .2-.1-.4 1.1-1.3 .4-1.7 .2-2-.6-1.4-4-.6-2 2.7-1-.2-3-4.1-1-2.8-1-.2-1 .4-.9-.8 .3-1 .6-.8 .8-.2 2.2 .3 2 2 1.7-1.3 3.3-1.7 1 0 2 .9 5-1.3-4.8-1.9-9.2-.3-3-.9-4-.2-3-.8-7-.5-6-1-5-1.7-9.6-5.6 .4-1 7.2-4.7 4-1.8 6-1.6 26 1.3 2.7-.2 4.3-1.7 4-.3 1-1zM158.4 -8l-6.4 2.5-6.8 4.5-.3 1 9.1 5.4 3 1.1 5 1.2 10 .7 7 .9 3 .8 9 .5 5 .9 5-.6 8 1.2 12-.6 4 .3 3-.4 7.6 .6-5.6 1.1-2 2.3-1 .5-2 .3-3 1.4-1-.3-2-1.5-3-.2-2-1.2-1 .1-3.7 3.5 .7 1.4 4 1.3 1.3 1.3-.3 1.2-2 1.7-2 1.1-.1 2 1.1 1.4 1 .1 .4-.5 0-3 .6-.7 2-.6 1 .1 1 1.4 1 .3 1-.2-.6-1.3 .6-.9 1 .1 .9 .8 .1 1.1-1.7 .9 1.7 1 7-1 2 1 2 .4 1.8-1.4 3.2-1.5 1 .1 1.7 1.4 .8 0 .5-.2 3.2-4.8 1.8-.1 1 .7 1 .1 3-2.1 3.7-.6 7.2-7 8.1-.5 4-1.1 3-2 1.7-2.4-.9-2-1.8-1.6-6-1.6-8 .7-2 .5-9 .6-2 .4-6 .3-38-.6-1-.7 2.4-2 1.3-2 .1-1-.7-1-7.1-3.6-4-1.4-10 .4-24-1.3-4 .6zM198.8 12l.8 1 1.4 .2 4.1-1.2-4.1-.4-2 .3zM221.4 13l-.3 1 .3 1 .6 .3 1-.1 .6-1.2-.3-1-1.3-.5zM197 15l-3 .9-2.2 2.1 2.2 2.3 2-.5 3.9 2.2-.1 1-.8 1 .6 1 1.4-.1 2.8-1.9-1-3 1.2-2.5 1.5-1.5-.3-1-1.2-.3-3 .9-3-.8-1 .2zM188.9 17l-.7 1 .8 1 1.3-1-1.3-1.1zM211.9 21l-.6 1 .7 .3 0-1.7zM215 17.4l.7 .6-.7 .5-.7-.5zM218 19l2 0-1 .4-1-.4zM253 23.8l1 .2 2.8 2 .1 1-.9 .9-4.2-1.9-.5-1 1.1-1zM185 25.7l.6 .3 .4 1-.7 1-2.3 .3-1.3-.3 .3-1.2 2-.8zM260 32l3 .3 .5 .7-.3 1-1.2 .3-1.4-.3-1.4-1 .7-1z"/><path fill="#c4e8f7" stroke="#c4e8f7" fill-rule="evenodd" d="M198 -41l2.6 0-.6 3.7-1-.5-1.7-3.2zM221 -41l1.3 0-.3 .8-1 .5-.8-.3-.1-1zM242 -41l1 .4 4.2-.4 0 2-.2 .2-2-.8-3-.2-.8-1.2zM254 -40.3l.3 .3-.3 .3-.1-.3zM275 -41l2.1 0-1.1 1.6-1.3-1.6zM231 -39.2l1-.8 2 3.2 .9 .8 1.1 .2 5-1.2 3 1.3 3-.2 2 .6 3-.2 2 .4 3-1.4 1.2 .5-1.4 2 1.2 1 4-1.3 3-4 1-.4 2 .4 2-1.2 .5 .5 .1 1-1.6 2 0 1 1.1 2 0 1-1.6 3 1 2-.1 1-2.3 3 2.8 3-.3 1-.6 .4-2-1.4-3 .3-1-.3-2 2.6-1 .4-1.7-2-2.3-.4-1 .5-1 2.3-4 .1-2-1.6-4 1.5-1.4-.4-2.6-2.7-1-.2-3 1.8-1 1.8-1 .8-1-.1-2-1.9-1-.2-1 1.3-3-1.3-2 .7-1-.5-1-1.2-1-.2-2.4 4.9-1.6 .7-1 0-.8-.7 .3-1 1-1 .3-1-.5-2-7.3-2.4-4 .4-.6-2-.4-.2-1-.3-2 .4-3-1.7-.6-1.2 .1-1 2.5-1.7 .7-1.3-.8-1-1.9-.2-2 1.6-.8-1.4 0-2 .7-1 2.1-1.1 1-1.6 1 .2 .6 1.5 .9 1 .7 3 1.8 1.6 1-.3 1-1.7 1-.8 1-.2 .7-.6 .4-1 .9-.2 2 .7 2 1.8 2-.6 1.4-1.7 .7-3 .9-1.9 2 1.1 3 .5 2 2.2 1 .5 1.4-.4 2.5-4zM219.6 -36l-.6 .5-2 3.8-2 1.1-1 .3-2-1.4-1 0-3.9 1.7-.6 1-.3 3 1.3 2 .5 .5 .6-.5 .1-2 1.3-1.2 1 .4 .3 .8-.3 1-.8 1-.1 1 1.9 1.9 3 .4 3-.6 2 .2 2 .7 2 2 2-.4 2 .8 2-1.3 1 .1 2 1.9 1-.1 2-2.1 3-1.4 1-.1 2 1.1 1 .1 2-.9 1 0 6 2.6 1 0 1-1.9-.3-1 .3-.2 1 .8 2 .3 1-.1 .9-.8-.5-2 .6-1.9 2-.1 2-.9 4.2-.1-1.7-3 .2-2-.4-1-1.3-1.3-1-.2-5 1.9-1-.2-4-2.2-2-.6-2 .6-5-1-4 .6-8-.7-2 1.3-3 .3-3-1.2-2 1.5-1-.8 .6-2-1.6-.2zM265 -36l.3 1 1.7 .8 0-1.9-1-.6-1 .7zM267.8 -33l.4 0-.2-.4zM202.9 -27l-.4 1 .5 .8 1.1 .2 .5-1-1.6-1zM276 -38.7l.7 .7 1.1 3-.1 1-1.7 .3-2-1.5-2.3-.8 3.6-2zM186 -37.8l.4 .8-.6 0zM286 -33.2l1-.6 3 .1 1 .5 0 2.2-1-.2-3 .8-1-.2-.7-1.4 .5-1zM273 -29l3-.5 3.4 .5-.9 1-4.5 2-1-.5-.6-1.5 .5-1zM282 -27.1l2.7 .1 3.4 2-1.1 .4-3 2.2-1 .1-.4-1.7-1.3-2 .3-1zM277 -24.1l1 .4 .5 .7 .2 1-.7 .8-1 0-1.6-.8 0-1 1.2-1zM290 -15.6l1 .1 0 6.7-2.1-.2 .2-3-1-1 1.1-2zM200 -12.8l3 .4 4 0 1.2 .4 .6 2-1.4 2-.1 1 .6 1 1.4 2 2.7 2.4 2 0 1 .6-.2 1-.8 .8-1-.3-1-1.1-1 .1-1.1 1.5-.1 1 .4 1 18.8 .5 6-.2 2-.7 5 .7 5-.1 2-.4 3-2 2 .1 2-.5 3 1 11-.6 6 1 5-.7 1 .2 .9 1.7 .7 4-1.2 1-2.4 1-4 3.5-5.5 2.5-1.9 5-.5 6-1.1 .5-.5-.5 .5-1.3 .8-.7-.4-1-1.4-1.3-2-1-1 .2-.4 1.1 0 3-.6 .5-1 0-2-.8-2 5-1 .2-2-1.9-2-.5-2 1.5-2 3.2-4-.8-3-1.3-2 .8-2-.2-3.2 1.3-.7 1-.1 2-1 .9-2 .2-1 1.1-1 .2-1-.1-4-2.2-1-2.6-1-.9-.6 .4-.4 1.3-4 2.2-2-.2-.3-.3 .1-2-1.8-.3-.7 .3-1.3 2.5-2 1.5-6 .6-.9-.6 .3-1 1.7-1 2.9 .3 1.6-1.3 .2-2-.8-.9-4-.7-1 .6-1 1.5-1 .1-2-2-2-.1-2-1.6-1-.4-1 1.6-1 .6-2-.3-2 3.1-2.6-1.5-1.6-2-3.2-1 .2-2 1-2-1.6-2-.2-3.4-1-.9-2 0-.6-.7 .1-2 1.1-2 1.4-1.3 4-.5 2 .9 1 0 2.4-1.1-1.4-.9-2.3-.1-1.7 .7-.4-.7-2.6-.7-4-.3-3.3-1-6.7-.5-6-1.1-5-1.7-9.8-5.7 .3-1 8.5-5.4 5-2 4-1 17 1.3 9 .2 2-.4 5-2.4 3-.1 1.2-1.2zM200 -11l-1 1-4 .3-4.3 1.7-2.7 .2-26-1.3-6 1.6-4 1.8-7.2 4.7-.4 1 9.6 5.6 5 1.7 6 1 7 .5 3 .8 4 .2 3 .9 9.2 .3 4.8 1.9-5 1.3-2-.9-1 0-3.3 1.7-1.7 1.3-2-2-2.2-.3-.8 .2-.6 .8-.3 1 .9 .8 1-.4 1 .2 1 2.8 3 4.1 1 .2 2-2.7 4 .6 .6 1.4-.2 2-.4 1.7-1.1 1.3 .1 .4 1-.2 1-1 1-.1 1 .3 2 1.7 3-1.3 2 1.2 3-.3 2 1 3-.6 2 2.4 4 0 1.3 .5 .7 .9 1-.7 1.4-2.2 3.6 .3 2.9-1.3 2.1-.2 .4 .2 .6 2.8 2 2.7 1-.2 0-2.3 1-.9 2-.7 1-1.3 1-.4 2 .4 3-.3 3 .7 3-.2 .7-1.3 .3-2.7 2-1.5 1.1-1.8 4.9-.7 2-2 1-.4 3 0 2 1.3 2 .3 2.9-6.5 6.1-2.1 5.9-4.9-.2-3-.7-1.3-6-.5-5-1.1-10 1-4-.9-2 1.1-2-.2-3 1.3-6 .6-5-.7-4 .5-5 0-9-.5-3 .4-10-.6-.4-.1 1.4-.8 .8-1.2 1.3-2 .1-1-2.2-2.4-4-1.6 .3-1 .9-1 .6-2-.8-.6-2-.1-2-.9zM190.2 12l1.2 0-.4-.1zM187 23l.2 1 1.8 .9 1 .1 0-2.1-2-.5-1 .5zM252.4 24l-1.1 1 .5 1 4.2 1.9 .9-.9-.1-1-2.8-2-1-.2zM184 26l-2 .8-.3 1.2 1.3 .3 2.3-.3 .7-1-.4-1-.6-.3zM226.8 32l.3 0-.1-.7zM199 11.9l2-.3 4.1 .4-4.1 1.2-1.4-.2-.8-1zM222 12.5l1.3 .5 .3 1-.6 1.2-1 .1-.6-.3-.3-1 .3-1zM169 18.4l1.3 .6-.6 1-.7 .4-.7-1.4zM177 23.3l1 0 .4 .7 .1 1-.5 .7-1 0-.9-.7 .2-1zM266 26.7l.3 .3-.2 2-1.1 3 .3 1 1.7 2.6 2.7 1.4-.4 2-1 2-2.4 0-.7-3-2.3-2-2.9-.7-3 1.4-2-1-.7-.7-.2-1 .5-1 2.4-.3 2-1.9 3 .2 1.2-1 1.1-2 1.3-1zM259.9 32l-.7 1 1.4 1 1.4 .3 1.2-.3 .3-1-.5-.7-3-.3zM272 27.8l1 .5 .3 .7-.5 1-.8 .6-1 0-.2-1.6 .9-1zM245 35.6l1 .4 1.3 2 1.1 3-3.4 0-.9-4 .3-1zM211 38.2l1 .2 .3 .6-.4 2-2.2 0 .4-2zM238 38.7l2 .8 .8 1.5-2.8 0-.2-2zM100 39.9l1 .4 .2 .7-2.2 0 0-.8 .6-.2zM257 39.3l.6 .7-.6 .5-.3-.5zM143 40.8l1.1 .2-1.3 0zM227 40.8l.3 .2-.5 0zM231 40.5l.3 .5-.8 0z"/><path fill="#fcf0dc" stroke="#fcf0dc" fill-rule="evenodd" d="M100 -41l3.4 0-.4 1-2 .7-2-.5 0-1.2zM108 -41l1.9 0 1.1 .6 1.1-.6 1.4 0-.3 2 1.2 4-.4 .8-2 .8-1-.1-1-1.7-1-.2-.6 1.4-2 2-1.4 2.2-1.4-3.2-.6-.6-1 .1-.3 .5 .4 3 .9 .9 3 .8 3.5 2.3 .5 1 0 2.6 1 .4 1-.8 .7-1.2 1.3-.3 .3 .3-.4 2 .7 1 1.4 .8 2 1.9 1 .2 2-4.6 1-.1 2 1 2 .4 .4 .4-.9 2 .5 1.6 1 .7 2-.6 .7 .3 0 1-1.7 .7-2-.3-3 1.4-3-1.4-2 2.1-1 .1-3-2.3-2-.6-2 .4-2 1.7-1 .4-1 .2-2-1.8-1.3 .4-.7 1.6-1 .2-2-.5 0-1.7 1-.1 2.4-1.5 .6-2.2 .2 1.2 2.8 2.8 1 .1 3-2.1 1-.3 2-.1 3.3 .6-.1-1-1.2-1.3-4-.7-3 .6-1.6-.6 0-1 .6-1.2 1-.8 .3-1-1.3-1.6-2 1.5-2-.8-1 .5-.6 1.4-.1 2-.6 1-1.7 1.3 0-3.3 1.7-4-.7-.4-1 .2 0-1.2 1.2-1.6 .5-2-.7-1.7-1-.6 0-1.9 4-.2 2 .8 1-.1 .3-2.3 .7-.9 2 .3 .4-.4-1.4-1.5-.2-1.5zM121.4 -21l-.6 1 .2 .7 1 .6 1.3-1.3-.6-1-.7-.3zM122.4 -17l-.1 1 .7 .4 1.3-.4 .1-1-1.4-.3zM118 -40.8l4.2-.2 .8 .5 1.8-.5 4.2 0 2 1.1 1.8-1.1 4 0 .7 2-.5 .3-1-.2-2-1.1-1 .4-4 3.4-1.8-.8 .6-2-.8-.4-3 .4-2 1.1-.4 .9 .2 2-.8 1.3-.9-2.3-2.1-2-.1-2zM141 -41l3 0 .2 2 .8 .6 3-.6 1.6 1 1.4 .3 .6-.3-.3-1-1.2-2 1.5 0 .4 1 1 .7 2-.9 3 .2 2.1-1 1.6 0 .5 1 .8 .4 2 0 1.6 .6-.7 3 .1 .7 1 .9 1 .2 1.4-.8 1.9-3-.3-3 1.4 0 .6 1.6 .7-1.6 1 0 .3 2 1 1.4 1 .3 2.4-.7 .6-1-.4-2 2.8 0-1 3 .1 1 2.5 1.5 .4 2.5 .6 1 2 1.7 2-1.5 1-.2 2 .6 1 .9 0 1.8-1 .6-2-.9-2-.2-.5 1.2 .6 2 2.5 1 1.4 1.6 3 .8 3-.4 .7 1-.4 2 .7 .6 3 1 4-.4 1.2 .8-.9 1-2.3 .4-2 2.1-2-.3-4 1.1-1 .5-2 2.1-3.3 2.1-2.7 .7-16-.5-9-1.1-5 1.4-3 1.4-1-.9 .5-4 .7-2-.2-1-1-.6-1 .2-.5 2.4-1.2 2-2.8 2 2.2 3 .4 1-4.1 3.1-2 .9-.5 1 11.5 6.5 7 1.9 5 .6 3.6 1-1.6 1.4-.8 1.6 2.2 1 .2 1-.6 1.1-1.3-.1-.6-1-.1-1.2-1-.2-2 .6-3 1.8 .4 1 1.6 .6 2.6 2.4 1.4 2.7 1 .8 4 .5 3.5 3 .6 1-1.1 2 0 2.4 2 .5 3-.9 1 .8 .2 1.2-1.1 4 .5 1 2 1 .5 1-2.5 0-1.6-1.7-1-.2-.3 1.9-1.6 0-1.1-2.3-2.4 2.3-1.9 0-.7-1-.8 1-5.1 0 2.2-1-.2-1-1.1-1.5-1 .5-1 2.3-3 0-.4 .7-3.7 0-.9-1.4-3-.3-1 .3-.1 1.4-6.2 0-.4-1-1.3-1-3 1.2-1-.1-1-2.1-1-1.1-4.4 2.1-.4 1 .4 1-4.9 0 .2-1 1.1-.9 2 .1 3-2.8 1-.5 2-.4 1.3 .5 1.7 2.6 1.4-.6 .6-2.1 2-.5 .7 .6 .3 2.4 4-4.1 2-.8 1 .1 1 .8 .2 .6-1 2 .8 .5 3-.4 .7 .9 .3 1.5 .9 .5 .1 .6 .1-2.6-.8-1 .8-1 .9-.5 2 1.1 1-.5 0-1.2 2.5-1.9 2.5-1 1.4 2 .6 .3 3-.8 1.5-1.5 1.5-4-.5-1-2.5-2-4-.4-1.4-.6-1.6-3.2-1.7-.8-.9-1-1.4-.5-1 .1-.7 1.4 1.7 1.2 1.2-.2 .6 1 .1 2-1.6 2-1.3 2.6-1 .5-2-1.1-2.3-6 0-3 .3-.3 1 .2 1-.4 1.8-3.5 3.2-.6 4-2.2 .6-1.2-.3-1-2.1-1-3.2-.4-7-1.9-9.7-5.7-2.3-.4-.1-.6 .6-1 2.5-1 2.1-2-.7-3-1.4-1.2-2 .1-1-1-1.2-1.9-.9-3-.9-1.2-1-.4-1 .1-2 1.5-2 0-1-.7-1.8-3.3 .1-2-.3-.4-1.6-.6 .1-1 1.5-1 4-1.2 3 1.6 3 .6 .2 1-.7 1 .3 1 2.2 .5 1-.3 2-2.7 3-2.7 1-.3 1.6 .5 .4 .5 1-.2 3 .7 1.5 1 .8 1 1 2 0 1-2.3 3.5-2 1.6-.3 .9 .3 1.2 1 .5 2-3.2 2-.2 1 .2 1.4 2.5 1.4 1 7.2 1.1 9 .5 8-.4 5-3.3 .6-.9 .4-3.8 1-.4 1 2.2 1 .2 2.3-1.2 .1-1-.4-.4-2-1.2-1.7-.4-1.3-2-1-.2-2 .5-1-.3-.3-2-.6-1-1.7-1-1.1-3-1.3-1.8-1-.3-1 .4-2 2.1-2-.1-1.8-3.3-.9-3-1.3-1.1-1 .4-.4 .7 .2 3-.8 3.7-1 0-.6-.7-1.2-3-.2-2.1-2 .2-1-.3-2-1.6 .1-3.2-1.1-.5-2 .3-2 3.9-1-.2-1-.9-1 .3 .5 1.1-.5 1.9-1 0-1-1-.5-.9 .4-2-.9-.9-1-.2-2 .4-3-.4-1.9 1.1 .4 3-.5 1-1 .1-4-1.1-.5-1 .5-1.2 2.7-.8-.7-.2-.5-.8-1.8-4zM158.6 -39l-.7 1 1.1 1.1 1 .2 .5-1.3-.3-1-1.2-.1zM178.7 -35l0 1 1 0-.2-1-.5-.4zM172 -33l-.5 1 .5 2.1 .8-1.1 0-1-.8-1zM179.5 -31l.5 .2 0-.5zM133.5 -22l-.9 1 .4 1.7 1 .6 3.7-1.3 .9-1-3.6-1.3-1 .1zM148.6 -22l-1.1 2-.2 1 .7 .8 2-.1 1-.7-.2-1-.8-2.4-1-.2zM153.2 -22l-.7 3 1.5 .7 .6-.7 2.1-1 .1-1-.8-1.1-2-.3zM139.6 -17l2.5 1 .3-1-2.4-.6zM146.6 -16l.4 .2 0-.8zM148.4 -15l-2.1 2 .7 1.5 1 .5 1-.3 .7-.7 .8-2-.5-1.7-1-.1zM143.5 -12l-.2 1 .6 1 1.3 0 .5-1-.7-1.3-1-.5zM158.7 -12l-.7 1 1 .4 .6-.4-.1-1-.5-.2zM172.9 35l-.9 1 1 1.1 1-.3 .8-1.8-.8-.6-1 .5zM148.8 38l.2 .5 .9-.5-.9-.3zM187 -41l.8 0 .2 1-1.1 0-.2-1zM203 -40.1l.9 1.1-.9 1.3-.9-1.3 .7-1zM209 -41l2.3 0-.1 1 .3 1 .5 .1 1-.5 .3-1.6 1.3 0 .4 1.3 .8-1.3 1.1 0-.3 2-1.3 2-.3 2.3-4.1-1.3-1.2-3-.7-.5-.6-1.5zM224 -41l1.8 0-.2 1-.6 .4-.8-.4-.4-1zM235 -40.3l.6-.7 1.1 0 .1 2-.8 .8-1-.5-.1-1.3zM249 -41l1.7 0-.7 .5-1.1-.5zM289 -41l1.5 0 .5 .6 0 2.7-.7 .7 .7 1.1 0 .8-2.3-.9-.1-1 1.6-2-1.5-2zM190 -39l1-.2 1 .4 .8 1.8 0 1-2.8 .8-1-.6 1-3.2zM258 -39.2l4-.5 .4 .7-.4 1-1 .7-3.2-1.7zM196 -38.2l1 .5 .1 .7-1.1 .9-.7-.9 .6-1zM156 -30.4l.4 .4-.4 1.1-.4-.1 .1-1zM161 -30.3l2-.2 1 .3 1.1 1.2-.1 1.4-1 1.1-1-.2-2.8-2.3 .2-1zM271 -24.2l.3 .2 .1 1-.4 .2-.4-.2 .1-1zM289 -22.1l.7 1.1 1.3 .6 0 2.1-1.5-.7-.9-3zM208 -17.3l1-.4 1.4 .7 .2 1-.6 1.2-1 .4-1.1-.6-.4-2zM263 -16.4l1-.5 1.3 .9 .4 1-1.7 2 1 .8 2-1.8 3 2.1 5 .8 .6 1.1-.1 1 .5 1.1 5 .6 2-1.9 3-.4 1.4 2.6 1.6 1.8 1 0 1-.5 0 5.8-1 .9-1 .2-2-.4-2 .5-2-2.3-1.1 0-2.9 1.3-4 .6-6-.7-5 .4-3-.4-2 .3-3-1.3-4-.1-1 .3-2 1.7-2 1-1-.1-1-2.2-6-.8-3 1.3-1-.2-.7-1.1-1.8-1-1.5-.4-5.1 .4-.6 1-.3 2.2-1 .7-1 0-.7-.9-.4-2-.9-1.2-1-.5-3 .8-2-1.3-3.2-.8 .2-.7 2.3-1.3-1.7-2-1-2 1.4-3.4 2 1.7 4 .1 3 .9 .8-.3 .5-1-.3-.5-1-.1-.4-.4 .4-1.4 1-.2 1 1.2 1-.6 1-1.8 1 .1 .4 .7 .4 2-.3 1 .5 .3 2-1.2 2 .2 4-.9 4 .4 1-.3 1-1 4-.6 2 .8 3 .2 1 1.2 1 .4 5-.4 2-1.6 2-.4 .6-1.1zM245.2 -13l-1.1 1-1.1 .1-6-.9-2 .1-7 2.4-3-.8-2 1.6-1 .2-4-.4-3 .5-.7 .2 0 1 .7 .7 2.6 1.3 .4 2.1 2 .1 3 1.1 3-.5 2 .3 3-.2 6 1.5 3-.6 2 .5 4-.2 1 .4 1 .9 1 .1 2-1.1 2-.2 3 .4 3 1.3 2-.3 3 .5 5-.2 4 .6 3-.2 3-.6 3.7-1.7 1.2-1 1.7-3-.6-2.2-1 0-1.3 1.2-1.7 .6-5-.8-1.7-.8 0-2-.3-.3-3-.1-3-1.9-1 0-1 1.1-1 .2-2.9-1-1.1-.9-3 1.1-2-.3-4 .4-2-1-2 0-2-.7zM286.3 -2l-.8 1 .5 .5 2 0 .6-.5-.2-1-.4-.6-1 .1zM280 -15.3l.5 .3 .5 1-1 .6-1.6-.6 .8-1zM142 1.2l1 .2 .2 .6-1.5 0zM217 1.6l0 .6-.4-.2zM100 2.8l1-.4 1 .2 1 .4 1 1.6 .8 .4 2.2-.5 2 1.3 2.6 .2 1.3 1-.1 1-3.7 3 .2 1 1.6 1 .1 .8-1.3 2.2-.5 2 .1 1 2.2 5-.2 1-1.3 .9-2-1.6-2 1.3-3-.2-1.2 1.6 .3 1 2.6 2 1.9 3 3.4 1.6 3.8 2.4 1.2 1.5 1-.1 2-1.9 3.7-2.5 1.3-.1 1.5 2.1 2.5 .8 1.1 1.2-.1 1-1.1 2-1.6 0 1.7-2.5 0-.6-1-.5-1.6 .6 .4 2-.8 .8-.7 .2-.9-1-.4-2-1-.7-2.4 .7-.4 1 .3 2-2.3 0-1.2-.7-1 .7-2.6 0-.2-1 1.5-2-.7-1-1-.4-1-.1-.7 .5-.2 2-2.9 2-2.2-.3-1.4 .3 1.2-3-.8-1.5-2-.3-2 1.2 0-2.4 1-.4 .3-.6-.5-1-.8-.3 0-1.3 1 0 .9-.4-.9-2.1-1-.3 0-1.3 1-.4 1.6-1.9 .3-1-1.4-2 .1-1 .4-.7 1.2-.3 .6-1-1.8-.3-2 .4 0-3.7 3-1 .8-1.4-.8-1.1-1-.6-2-.2 0-1.3 2-1.3 5 2.9 1-.1 1-1.5 2.5-1.8-.4-1-1.1 .3-1-.5-1-1-1 0-2 1-2-2.3-1-.2-2 1.3 0-1.4 .9-1.2zM106.9 13l-1.7 3-1.9 2-.2 1 .9 .3 .9 1.7-.7 2 .8 1.1 1 0 2.8-2.1-.6-3 .2-2 1-3-1.4-1-1-.1zM101.5 32l.5 2 .9 1 1.1 .4 .7-.4 0-1-2.7-2.1zM104.9 36l.3 2 .8 .8 1-.2 .4-.6-.6-1-1.8-1.3zM291 6.7l0 2.9-4-1-6 1.3-1 .5-2.7 2.6-1.4 2-.2 1 1.2 2 .2 2 .9 1.6 4 2.8 3 .8 1.7-1.2 2.3-.1 2-1 0 1.9-1 .9-1.6 .3-.3 2-1.1 1.3-1-.5-2.3-2.8-3.7-1.6-2 0-.6-.4-.6-1-.8-5.2-1-.5-2 .2-.9-1.5 2.9-1.2 5-5 6-1.9 3-.1 1.4-.8zM174 10.9l1.7 .1 .7 1-1.4 1.6-1 .3-1.3-.9 0-1 .8-1zM150 17.9l1-.4 1.5 1.5 .3 1-.8 1.5-1-.5-1.1-2 0-1zM145 20.5l1-.3 1 .3 2.2 1.5 1.1 1 1.1 2-.4 .6-1 .1-3-1.9-3.5-.8-.2-1 .8-1zM130 23l.5 1-.5 .2-.4-.2 .3-1zM271 22.9l3 0 .1 1.1-1.1 .7-2 .2-.6-.9 .4-1zM128 29.9l1-.2 .6 .3 0 1-.6 .3-.6-.3-.5-1zM141 30l1-.3 .6 .3-.1 1-.5 .6-1-.2 0-1.4zM110 30.2l1 .2 .8 1.6-.8 1.2-1-.4-.5-.8 .1-1zM162 30.7l.4 .3-.3 3-1.1 .2-.3-1.2 1-2zM235 33.2l2.8 .8-2.8 1.2-.6-1.2zM284 33.1l1 .2 2.5 1.7 .3 1-1.5 2-1.3 .6-2-.1-1.2-2.5 .4-1 1.5-1zM189 34.6l1-.1 .6 .5-.2 1-1.4 1.2-.9-1.2 .5-1zM194 34.5l2 .2 2-.4 .2 2.7 1.1 2-1.3-.3-2 .4-2-.7-1.3-1.4 .6-2zM216 37.7l1.5 .3 1.3 1 .6 2-3.1 0-.9-2 .2-1zM136 39.3l1 0 .7 1.7-3.2 0 1-1zM205 39.3l1-.2 1 .5 .2 1.4-2.9 0 .1-1zM235 39.9l1.3 1.1-2.4 0 .8-1zM251 39.8l1 .2 .3 1-1.8 0 .3-1zM193 40.5l.7 .5-1.5 0zM272 40.6l1.3 .4-2.2 0zM276 40.9l1-.8 1 .4 .3 .5-2.4 0z"/><path fill="#fce4bc" stroke="#fce4bc" fill-rule="evenodd" d="M101 -41l1 0-1.1 0zM114 -41l4.1 0-.1 3 2.1 2 .9 2.3 .8-1.3-.2-2 .4-.9 2-1.1 3-.4 .8 .4-.6 2 1.8 .8 4-3.4 1-.4 3 1.3 .5-.3-.7-2 3.9 0 1.8 4 .5 .8 .7 .2-2.7 .8-.5 1.2 .5 1 4 1.1 1-.1 .5-1-.4-3 1.9-1.1 3 .4 2-.4 1 .2 .9 .9-.4 2 .5 .9 1 1 1 0 .5-1.9-.5-1.1 1-.3 1 .9 1 .2 2-3.9 2-.3 1.1 .5-.2 3 .7 1 2.4 1.1 2-.2 .2 2.1 1.2 3 .6 .7 1 0 .4-.7 .5-4-.3-2 .4-.7 1-.4 1.3 1.1 .9 3 1.8 3.3 2 .1 2-2.1 1-.4 1 .3 1.3 1.8 1.1 3 1.7 1 .6 1 .3 2 1 .3 2-.5 1 .2 1.3 2 2.7 .9 1.4 1.1-.1 1-2.3 1.2-1-.2-1-2.2-1 .4-.4 3.8-.6 .9-5 3.3-8 .4-9-.5-7.2-1.1-1.4-1-1.4-2.5-1-.2-2 .2-2 3.2-1-.5-.3-1.2 .3-.9 2-1.6 2.3-3.5 0-1-1-2-.8-1-1.5-1-3-.7-1 .2-.4-.5-1.6-.5-1 .3-3 2.7-2 2.7-1 .3-2.2-.5-.3-1 .7-1-.2-1-3-.6-3-1.6-4 1.2-1.5 1-.1 1 1.6 .6 .3 .4-.1 2 1.8 3.3 1 .7 2 0 2-1.5 1-.1 1 .4 .9 1.2 .9 3 1.2 1.9 1 1 2-.1 1.4 1.2 .7 3-2.1 2-2.5 1-.6 1 .1 .6 2.3 .4 9.7 5.7 7 1.9 3.2 .4 2.1 1 .3 1-.6 1.2-4 2.2-3.2 .6-1.8 3.5-1 .4-1-.2-.5 1.3 .2 2 2.3 6 1 .7 1.2 .3 .8-.4 1.3-2.6 1.6-2 0-1-.1-1-.6-1-1.2 .2-1.7-1.2 .3-1 1.4-.5 1.4 .5 .9 1 1.7 .8 1.6 3.2 1.4 .6 4 .4 2.5 2 .5 1-1.5 4-.8 1-1.7 .9-2 .4-.6-.3-1.4-2-2.5 1-2.5 1.9 0 1.2-1 .5-2-1.1-1.7 1.5 .8 1-.1 2.6-.1-.6-.9-.5-.3-1.5-.7-.9-3 .4-.8-.5 1-2-.2-.6-1-.8-1-.1-2 .8-4 4.1-.3-2.4-.7-.6-2 .5-.6 2.1-1.4 .6-1.7-2.6-1.3-.5-2 .4-1 .5-3 2.8-2-.1-1.1 .9-.2 1-1.8 0 1.1-2 .1-1-1.1-1.2-2.5-.8-1.5-2.1-1.3 .1-3.7 2.5-2 1.9-1 .1-1.2-1.5-3.8-2.4-3.4-1.6-1.9-3-2.6-2-.3-1 1.2-1.6 3 .2 2-1.3 2 1.6 1.3-.9 .2-1-2.2-5-.1-1 .5-2 1.3-2.2-.1-.8-1.6-1-.2-1 3.7-3 .1-1-1.3-1-2.6-.2-2-1.3-2.2 .5-.8-.4-1-1.6-1-.4-1-.2-1 .4-1 1.4 0-7.1 2.4 2.9 3.6 1.3 2 1.2 3 .4 3-.9 2 1 .8 1-1.5 8-2.2 4-.1 1 .9 3-.1 2 1.9 3 0 1 1.8 4 2.9 1 1.6 1.1 1.7-.1 1.3-.7 1.7-2.3 2.5-2-.8-2-.2-2 .8-1.4 2-1.4 2-.7 1 1.2 3-1.8 8-.7 3-1.9 3-.6 2-1.1 2 .3 1-.3 2 .5 4-2.1 1.4-2 .2-1-.6-1-2.9-1-4.1-.6-5-3-3-.3-2-.6-3 .1-4-.7-1.7-2.9 .7-1.4 1.5-1.6 1.5-3.4 1.2-.6-.2-1-1 .3-1-.3-2-1.9-2 .3-1.9-.4-2-3-1.1-.7-5 1.6-4-.6-4 .9-2.5-.2-2.5-1.6-1 .4-1 1.3-3 .4-2 1.2-3-.5-3-1.2 0-1.7 2 .5 1-.2 1-1.9 1-.1 2 1.8 2-.6 2-1.7 2-.4 2 .6 3 2.3 1-.1 2-2.1 3 1.4 3-1.4 2 .3 1.7-.7 0-1-.7-.3-2 .6-1-.7-.5-1.6 .9-2-.4-.4-2-.4-2-1-1 .1-2 4.6-1-.2-2-1.9-1.4-.8-.7-1 .4-2-.3-.3-1.3 .3-.7 1.2-1 .8-1-.4 0-2.6-.5-1-3.5-2.3-3-.8-.9-.9-.4-3 .3-.5 1-.1 .6 .6 1.4 3.2 1.4-2.2 2-2 .6-1.4 1 .2 1 1.7 1 .1 2-.8 .4-.8-1.2-4 .3-2zM115.9 -37l.1 1.2 1 1.4 .6-.6-.3-1-1.3-1.3zM148.4 -35l-.3 1 .9 1.7 1.1-1.7-.3-1-.8-.3zM127.5 -33l-.4 1 .9 .3 1.4-.3 .3-1-.7-.6-1 .1zM135.3 -33l-1.5 1 1.2 1.8 1 .4 1-.5 .4-.7-.4-1.8-1-.3zM116.8 -32l-.8 .5-3.8 .5-.2 1.3 1 1.2 3 .4 4-.4 1.2-.5-.4-1-2.8-2.7-1 .3zM139.7 -30l1.3 .7 .3-.7-1.3-.5zM155.7 -30l-.1 1 .4 .1 .4-1.1-.4-.4zM160.4 -30l-.2 1 2.8 2.3 1 .2 1-1.1 .1-1.4-1.1-1.2-1-.3-2 .2zM130.5 -29l-.8 1 .3 .6 1 .3 .9-.9-.9-1.1zM148.9 -28l.1 1.2 1.1-.2-1.1-1.3zM155.9 -26l.3 1 1.2 0 .1-1-1.5 0zM168.9 -26l-.9 2.6-2.9 1.4-1.1 2-.5 4 .4 4 2.1 1.9 6 1 7 .5 4-.2 5-1 3.7-3.2 1.4-6-3.6-1-2.5-2.9-2.5-1.1-.5-1.2-5 .3-3-.5-3 .3-3-1.8-1 0zM142.6 -5l-.6 2 .3 1 2.7 0 1.1-1-.1-1-1-1.3-2-.2zM141.7 2l1.5 0-.2-.6-1-.2zM149.9 18l0 1 1.1 2 1 .5 .8-1.5-.3-1-1.5-1.5-1 .4zM144.1 21l-.8 1 .2 1 3.5 .8 3 1.9 1-.1 .4-.6-1.1-2-1.1-1-2.2-1.5-1-.3-1 .3zM129.9 23l-.3 1 .4 .2 .5-.2-.5-1zM141.6 26l-.4 1 .8 .3 2.2-.3-.7-1-1.5-.2zM164.9 26l-1.1 2 1.2 2.4 1 .5 2-.2 4 .8 1-.4 1.3-2.1 .2-1-.5-1-2-1.2-6-.7-1 .8zM127.9 30l.5 1 .6 .3 .6-.3 0-1-.6-.3-1 .2zM141 30l0 1.4 1 .2 .5-.6 .1-1-.6-.3-1 .3zM109.6 31l-.1 1 .5 .8 1 .4 .8-1.2-.8-1.6-1-.2zM161.7 31l-1 2 .3 1.2 1.1-.2 .3-3-.4-.3zM114 34l1 .9 .5-.9-.5-.4-1 .4zM152 -41l8.1 0-2.1 1-3-.2-2 .9-1-.7-.4-1zM173 -41l.7 0-.7 1.6-.6-1.6zM215 -41l.8 0-.8 1.3-.4-1.3zM291 -41l0 .6-.5-.6zM291 -37.7l0 1.8-.7-1.1zM179 -35.4l.5 .4 .2 1-1 0 0-1zM100 -26.4l.7 .4-.1 1-1.6 3 0-4.2zM149 -15.8l1 .1 .5 1.7-.8 2-.7 .7-1 .3-1-.5-.7-1.5 2.1-2zM246 -13.4l2 .7 2 0 2 1 4-.4 2 .3 3-1.1 1.1 .9 2.9 1 1-.2 1-1.1 1 0 3 1.9 3 .1 .3 .3 0 2 1.7 .8 5 .8 1.7-.6 1.3-1.2 1 0 .6 2.2-1.7 3-1.2 1-3.7 1.7-3 .6-3 .2-4-.6-5 .2-3-.5-2 .3-3-1.3-3-.4-2 .2-2 1.1-1-.1-1-.9-1-.4-4 .2-2-.5-3 .6-6-1.5-3 .2-2-.3-3 .5-3-1.1-2-.1-.4-2.1-2.6-1.3-.7-.7 0-1 .7-.2 3-.5 4 .4 1-.2 2-1.6 3 .8 7-2.4 2-.1 6 .9 1.1-.1 1.1-1zM233.8 -11l-5.8 2.2-3 .4-.7 1.4 .6 1 2 1 8.1 1.7 2 0 2-.5 5 .6 6 .1 3-.6 3 .7 3 1.5 4 .7 4 0 5 .7 4-.3 3-.7 3-1.7 .7-1.2-.7-1.1-9-1.9-4-2.2-2 1.4-3-1.9-3-.1-5-1-4 .4-6-.5-3 .3-7-.9-2 .4zM287 -2.5l1-.1 .4 .6 .2 1-.6 .5-2 0-.5-.5 .8-1zM285 9l2-.4 4 1 0 2.2-.6-.8-3.4-1.1-6 1.1-2.4 2-1.3 2 1 4 .7 1 2.5 1 1.5 2.1 6-.9 2-1.3 0 2-2 1-2.3 .1-1.7 1.2-3-.8-4-2.8-.9-1.6-.2-2-1.2-2 .8-2 3.5-3.6 4.9-1.4zM100 28.9l.9 2.1-.9 .4-1 0 0-2.8zM102 31.9l2.7 2.1 0 1-.7 .4-1.1-.4-.9-1-.5-2zM105 35.7l1.8 1.3 .6 1-.4 .6-1 .2-.8-.8-.3-2zM179 39.1l1 .2 1.6 1.7-2.9 0 0-1zM104 40.7l.4 .3-.6 0z"/><path fill="#f8d099" stroke="#f8d099" fill-rule="evenodd" d="M116 -37.3l1.3 1.3 .3 1-.6 .6-1-1.4-.1-1.2zM149 -35.3l.8 .3 .3 1-1.1 1.7-.9-1.7 .3-1zM128 -33.5l1-.1 .7 .6-.3 1-1.4 .3-.9-.3 .4-1zM136 -33.1l1 .3 .4 1.8-.4 .7-1 .5-1-.4-1.2-1.8 1.5-1zM117 -32.4l1-.3 2.8 2.7 .4 1-1.2 .5-4 .4-3-.4-1-1.2 .2-1.3 3.8-.5 .8-.5zM140 -30.5l1.3 .5-.3 .7-1.3-.7zM131 -29.1l.9 1.1-.9 .9-1-.3-.3-.6 .8-1zM149 -28.3l1.1 1.3-1.1 .2-.1-1.2zM156 -26l1.5 0-.1 1-1.2 0-.3-1zM169 -26.9l1 0 3 1.8 3-.3 3 .5 5-.3 .5 1.2 2.5 1.1 2.5 2.9 3.6 1-1.4 6-3.7 3.2-5 1-4 .2-7-.5-6-1-2.1-1.9-.4-4 .5-4 1.1-2 2.9-1.4 .9-2.6zM170.5 -24l-1.5 2.2-3 2.6-1 3.2 .2 3 .7 1 2.7 2 9.4 1.1 4.8-.1 5.2-1.8 2.3-2.2 .8-2 .1-2-.3-1-3.9-3.2-6-2.2-4 0-6-.9zM111 -13.2l1-.4 2.5 1.6 2.5 .2 4-.9 4 .6 5-1.6 1.1 .7 2 3 1.9 .4 2-.3 2 1.9 1 .3 1-.3 .2 1-1.2 .6-1.5 3.4-1.5 1.6-.7 1.4 1.7 2.9 4 .7 3-.1 2 .6 3 .3 5 3 4.1 .6 2.9 1 .6 1-.6 2-1 1-4 2.1-2-.5-1 .3-2-.3-2 1.1-3 .6-3 1.9-8 .7-3 1.8-1-1.2-2 .7-2 1.4-.8 1.4 .2 2 .8 2-2.5 2-1.3 2-1.4 .9-2 .2-1.6-1.1-2.4-.6-2.3-4.4-.5-2-1.4-2 0-3-.8-2 .1-1 2.2-4 1.5-8-.8-1-2-1-3 .9-3-.4-2-1.2-3.6-1.3-2.4-2.9 0-9.1 3 1.2 3 .5 2-1.2 3-.4 .9-1.1zM110.9 -10l-5.9 2.4-2-.7-.9 .3-.5 4 .4 .7 3 1.9 3 .5 2 1.4 3 0 3 1.3 1 .1 5-1 3 .8 4-.4 2 .6 1-.1 1-.8 2-3-.2-1-.7-1 .4-3-2.5-1.2-3-2.1-3 .2-3-.9-8 .8-3-.5-1 .7zM130.5 3l-3.5 1.6-7 .7-1.2 .7-1.8 2.4-.6 2.6-2 4-.6 2 .5 2 .1 3 .5 1 2.1 3 2 1.4 2 .4 1-.1 3.1-2.7 1.9-4.5 5-4 3 .9 5-.8 2 .1 1-.4 2-2.1 1-.2 3 .6 1-.3 3-2.8 4-.1 1 .4 1.2-.8 .2-1-.6-1-.8-.3-5 1.2-1-.9-.1-1-1-1-1.9-1.1-5-1.1-10-.8-2.5-1-.5-.6zM234 -11.1l2-.4 7 .9 3-.3 6 .5 4-.4 5 1 3 .1 3 1.9 2-1.4 4 2.2 9 1.9 .7 1.1-.7 1.2-3 1.7-3 .7-4 .3-5-.7-4 0-4-.7-3-1.5-3-.7-3 .6-6-.1-5-.6-2 .5-2 0-8.1-1.7-2-1-.6-1 .7-1.4 3-.4 5.8-2.2zM234.5 -10l-4.5 1.6-1.6 1.4 2.6 1.4 5 .7 2-1 3 1.2 4 .6 3-.5 2 .1 2-.8 1 .1 3 .6 7 3 5 .2 4 .8 6-.9 2.9-1.5 .4-1-5.3-1.8-3-.2-3-.7-3 .6-4-2.2-4-.4-2 .8-2-1.4-1-.2-3 .4-5-.7-8 .3-3-.6zM143 -5.5l2 .2 1 1.3 .1 1-1.1 1-2.7 0-.3-1 .6-2zM286 9.9l1 0 3.4 1.1 .6 .8 0 5.3-1.8-3.1-.3-2-2.9-.8-2 1.2-3-.2-2.2 2.8 .2 2.1 1 1.3 5 2 4-.7 1.5-.7 .5-.8 0 2.7-2 1.3-6 .9-1.5-2.1-2.5-1-.7-1-1-4 .7-1.3 2-2.1 1-.6 4.6-1zM142 25.8l1.5 .2 .7 1-2.2 .3-.8-.3 .4-1zM165 25.9l1-.8 6 .7 2 1.2 .5 1-.2 1-1.3 2.1-1 .4-4-.8-2 .2-1-.5-1.2-2.4 1.1-2zM166.1 27l-.2 1 .4 1 1.7 .9 3 .3 1.9-1.2 .3-1-1.2-1.3-5-.2zM114 34l1-.4 .5 .4-.5 .9-1-.9z"/><path fill="#f2a673" stroke="#f2a673" fill-rule="evenodd" d="M171 -24.3l6 .9 4 0 6 2.2 3.9 3.2 .3 1-.1 2-.8 2-2.3 2.2-5.2 1.8-4.8 .1-9.4-1.1-2.7-2-.7-1-.2-3 1-3.2 3-2.6 1.5-2.2zM173.9 -22l-2.9 .4-3.6 3.6-1 2-.2 2 .5 1 3.3 2.9 8 1 3 0 7-2.6 1.9-2.3 .4-2-.3-1.3-1-1.2-3-2.2-5-1.6-7 .3zM111 -10l1-.7 3 .5 8-.8 3 .9 3-.2 3 2.1 2.5 1.2-.4 3 .7 1 .2 1-2 3-1 .8-1 .1-2-.6-4 .4-3-.8-5 1-1-.1-3-1.3-3 0-2-1.4-3-.5-3-1.9-.4-.7 .5-4 .9-.3 2 .7 5.9-2.4zM117.2 -9l-4.2 .9-2 1.5-2.5 .6-.6 1 .8 1 2.3 0 1 .4 2.8 3.6 1.2 .4 2.4-1.4 2.6 .2 2-.4 3 1.5 5.7-1.3 .2-1-.5-2 .1-2-2.5-2.5-1-.2-2 .5-3-1.5-5 .5zM235 -10.1l3 .6 8-.3 5 .7 3-.4 1 .2 2 1.4 2-.8 4 .4 4 2.2 3-.6 3 .7 3 .2 5.3 1.8-.4 1-2.9 1.5-6 .9-4-.8-5-.2-7-3-3-.6-1-.1-2 .8-2-.1-3 .5-4-.6-3-1.2-2 1-5-.7-2.6-1.4 1.6-1.4 4.5-1.6zM233.9 -8l.9 0-.8 0zM241.4 -8l-.8 1 .9 1 3.5 .6 1.6-.6 .3-1-.9-1.1-4-.1zM247.4 -7l1.6 1.1 1-.4 .5-.7-1.5-.5-1 .4zM253.5 -7l.5 .3 .7-.3-.7-.4zM258.8 -7l-.9 1 .3 1 1.8 .8 2-.1 .8 1.3 1.2 .6 8 1.3 5-.7 2.3-1.2-.2-1-2.1-1.1-14-.5-2-1.5-2 0zM131 2.4l.5 .6 2.5 1 10 .8 5 1.1 1.9 1.1 1 1 .1 1 1 .9 5-1.2 .8 .3 .6 1-.2 1-1.2 .8-1-.4-4 .1-3 2.8-1 .3-3-.6-1 .2-2 2.1-1 .4-2-.1-5 .8-3-.9-5 4-1.9 4.5-3.1 2.7-1 .1-2-.4-2-1.4-2.1-3-.5-1-.1-3-.5-2 .6-2 2-4 .6-2.6 1.8-2.4 1.2-.7 7-.7 3.5-1.6zM130.4 5l-2.4 .7-6 .8-2 1.2-1.4 1.3-2.8 6-.5 2 .6 5 .4 1 1.7 1.8 2 1.4 1 .1 1.7-1.3 .9-2 .4-2.7 3-2.8 2-.6 3-1.8 1.7-.1 2.3 .8 3-1.4 3-.2 3-1.5 3-.7 1.6-2 .1-1-.8-1-2.9-1.4-4-1-4 .2-7-1zM285 11.7l1-.5 1 .1 1.9 .7 .3 2 1.8 3 0 1.2-.5 .8-1.5 .7-4 .7-3.8-1.4-1.6-1-.6-1-.2-2 1.3-2 .9-.8 3 .2 .6-.4zM283.9 14l-1.9 .3-1 .8-.4 .9 .3 1 1 1 3.1 .9 2-.1 2.1-.8 .2-1-2.3-3.5-1-.4-2 .9zM167 26.5l5 .2 1.2 1.3-.3 1-1.9 1.2-3-.3-1.7-.9-.4-1 .2-1zM167.4 28l.7 1 1.9 .3 1.1-.3 .6-1-1.7-.7-2 .1z"/><path fill="#e9735e" stroke="#e9735e" fill-rule="evenodd" d="M174 -22l7-.3 5 1.6 3 2.2 1 1.2 .3 1.3-.4 2-1.9 2.3-7 2.6-3 0-8-1-3.3-2.9-.5-1 .2-2 1-2 3.6-3.6 2.9-.4zM174.6 -21l-3.6 1.4-1.8 1.6-1.4 2-.3 2 2.5 2.9 8 1.6 3-.2 6-2.4 1.9-1.9 .5-2-.2-1-.8-1-2.8-2-4.6-1.4-6 .2zM118 -9.2l5-.5 3 1.5 2-.5 1 .2 2.5 2.5-.1 2 .5 2-.2 1-5.7 1.3-3-1.5-2 .4-2.6-.2-2.4 1.4-1.2-.4-2.8-3.6-1-.4-2.3 0-.8-1 .6-1 2.5-.6 2-1.5 4.2-.9zM116.1 -7l-1.6 2-.2 1 .7 1.3 2 .4 3-.7 .7-1 0-3-1.7-.8-2 .5zM123.6 -5l-.8 1 .7 1 2.5 1.4 1.1-.4 .3-1-.4-1.6-1-.5-2 0zM234 -8l.8 0-.9 0zM242 -8.2l4 .1 .9 1.1-.3 1-1.6 .6-3.5-.6-.9-1 .8-1zM248 -7.1l1-.4 1.5 .5-.5 .7-1 .4-1.6-1.1zM254 -7.4l.7 .4-.7 .3-.5-.3zM259 -7.1l2 0 2 1.5 14 .5 2.1 1.1 .2 1-2.3 1.2-5 .7-8-1.3-1.2-.6-.8-1.3-2 .1-1.8-.8-.3-1 .9-1zM265 -4l.8 1 2.2 .3 3 1 5-.6 1.8-.7-.2-1-1.6-.6-10 .3zM131 4.8l7 1 4-.2 4 1 2.9 1.4 .8 1-.1 1-1.6 2-3 .7-3 1.5-3 .2-3 1.4-2.3-.8-1.7 .1-3 1.8-2 .6-3 2.8-.4 2.7-.9 2-1.7 1.3-1-.1-2-1.4-1.7-1.8-.4-1-.6-5 .5-2 2.8-6 1.4-1.3 2-1.2 6-.8 2.4-.7zM125.9 7l-2.6 2-.6 2-2.7 .4-.7 .6-2.3 3.6-.3 1.4 1 5 2.3 2.6 1 .2 .7-.8-.3-2 1.9-4 .2-3 .5-1.2 1-.2 2 1 2 .2 4-1.5 3 .8 4-1.6 3-.5 2-1 .9-1 .1-1-.5-1-3.5-1.2-3 .6-4-.9-3 .5-6 0zM284 14l2-.9 1 .4 2.3 3.5-.2 1-2.1 .8-2 .1-3.1-.9-1-1-.3-1 .4-.9 1-.8 1.9-.3zM284.9 15l-1.4 1-.2 1 1.7 .7 2-.4 .3-.3-.3-1-1-1.1-1 0zM168 27.4l2-.1 1.7 .7-.6 1-1.1 .3-1.9-.3-.7-1z"/><path fill="#e34349" stroke="#e34349" fill-rule="evenodd" d="M175 -21.2l6-.2 4.6 1.4 2.8 2 .8 1 .2 1-.5 2-1.9 1.9-6 2.4-3 .2-8-1.6-2.5-2.9 .3-2 1.4-2 1.8-1.6 3.6-1.4zM174.4 -20l-3.8 2-1.9 3 0 1 .4 1 1.9 1.3 6.2 1.7 2.6 0 6.7-3 1.2-1 .6-1-.4-2-2.2-2-1.7-.9-4-.8-5 .4zM117 -7.3l2-.5 1.7 .8 0 3-.7 1-3 .7-2-.4-.7-1.3 .2-1 1.6-2zM116.4 -5l-.1 1 .7 .3 1.5-.3 0-1-.5-.4-1-.1zM124 -5.1l2 0 1 .5 .4 1.6-.3 1-1.1 .4-2.5-1.4-.7-1 .8-1zM266 -4.3l10-.3 1.6 .6 .2 1-1.8 .7-5 .6-3-1-2.2-.3-.8-1zM269.9 -3l1.1 .5 2.2-.5-2.2-.8-1 .6zM126 7l6 0 3-.5 4 .9 3-.6 3.5 1.2 .5 1-.1 1-.9 1-2 1-3 .5-4 1.6-3-.8-4 1.5-2-.2-2-1-1 .2-.5 1.2-.2 3-1.9 4 .3 2-.7 .8-1-.2-2.3-2.6-1-5 .3-1.4 2.3-3.6 .7-.6 2.7-.4 .6-2 2.6-2zM126.6 9l.4 .4 .7-.4-.7-.3zM129.3 9l-.9 3 .6 1 3-1.8 3 .4 3-.2 4-.8 .7-.6-.1-1-.6-.5-1-.1-2 .8-4-1.1-5 .7zM120.5 14l-1.5 1.6-.6 2.4 .6 2 1 .5 1-.5 1.2-3-.2-2.3-1-.9zM285 14.9l1 0 1 1.1 .3 1-.3 .3-2 .4-1.7-.7 .2-1 1.4-1z"/><path fill="#e03045" stroke="#e03045" fill-rule="evenodd" d="M175 -20.3l5-.4 4 .8 1.7 .9 2.2 2 .4 2-.6 1-1.2 1-6.7 3-2.6 0-6.2-1.7-1.9-1.3-.4-1 0-1 1.9-3 3.8-2zM174.2 -19l-2.2 1-1.7 2-.5 2 1.2 1.3 6 2 2 .1 2-.7 5.4-3.7-.1-1-1.1-2-1.2-1.1-4-.8-5 .6zM117 -5.5l1 .1 .5 .4 0 1-1.5 .3-.7-.3 .1-1zM270 -3.2l1-.6 2.2 .8-2.2 .5-1.1-.5zM127 8.7l.7 .3-.7 .4-.4-.4zM130 8.8l5-.7 4 1.1 2-.8 1 .1 .6 .5 .1 1-.7 .6-4 .8-3 .2-3-.4-3 1.8-.6-1 .9-3zM121 13.8l1 .9 .2 2.3-1.2 3-1 .5-1-.5-.6-2 .6-2.4 1.5-1.6z"/><path fill="#df2035" stroke="#df2035" fill-rule="evenodd" d="M175 -19.3l5-.6 4 .8 1.2 1.1 1.1 2 .1 1-5.4 3.7-2 .7-2-.1-6-2-1.2-1.3 .5-2 1.7-2 2.2-1zM179 -19l-4 .6-2.5 1.4-.8 1 0 2 6.3 2.6 2.2-.6 3.5-3 .4-2-.4-1-.7-.4-4-.6z"/><path fill="#b7212b" stroke="#b7212b" fill-rule="evenodd" d="M179 -19l4 .6 .7 .4 .4 1-.4 2-3.5 3-2.2 .6-6.3-2.6 0-2 .8-1 2.5-1.4 4-.6z"/>
<use href="#land" fill="#787978" stroke="#787978" stroke-width="0.7"/>
</g>
<line x1="890.22" y1="1166.40" x2="890.22" y2="1361.62" stroke="#161616" stroke-width="5.2" stroke-dasharray="23.2 20.6" stroke-dashoffset="1.8"/>
<rect x="694.60" y="1166.20" width="464.61" height="195.62" fill="none" stroke="#111" stroke-width="1.9"/>
<path d="M743.51,1166.20v-4.6M743.51,1361.82v4.6M841.32,1166.20v-4.6M841.32,1361.82v4.6M939.13,1166.20v-4.6M939.13,1361.82v4.6M1036.94,1166.20v-4.6M1036.94,1361.82v4.6M1134.75,1166.20v-4.6M1134.75,1361.82v4.6M694.60,1190.65h-5.2M1159.21,1190.65h4.6M694.60,1227.33h-5.2M1159.21,1227.33h4.6M694.60,1264.01h-5.2M1159.21,1264.01h4.6M694.60,1300.69h-5.2M1159.21,1300.69h4.6M694.60,1337.37h-5.2M1159.21,1337.37h4.6" stroke="#111" stroke-width="1.3" fill="none"/>
<text x="680.20" y="1204.85" font-size="34.5" text-anchor="end" fill="#000">30°N</text>
<text x="680.20" y="1241.53" font-size="34.5" text-anchor="end" fill="#000">15°N</text>
<text x="680.20" y="1278.21" font-size="34.5" text-anchor="end" fill="#000">0°</text>
<text x="680.20" y="1314.89" font-size="34.5" text-anchor="end" fill="#000">15°S</text>
<text x="680.20" y="1351.57" font-size="34.5" text-anchor="end" fill="#000">30°S</text>
<text x="1042.10" y="1345.90" font-size="34.3" font-weight="bold" fill="#000">SODA</text>
<text x="675.60" y="1158.50" font-size="30.2" font-weight="bold" text-anchor="end" fill="#000">L</text>
<text x="140.31" y="1402.30" font-size="34.5" text-anchor="middle" fill="#000">120°E</text>
<text x="238.12" y="1402.30" font-size="34.5" text-anchor="middle" fill="#000">160°E</text>
<text x="335.93" y="1402.30" font-size="34.5" text-anchor="middle" fill="#000">160°W</text>
<text x="433.74" y="1402.30" font-size="34.5" text-anchor="middle" fill="#000">120°W</text>
<text x="531.55" y="1402.30" font-size="34.5" text-anchor="middle" fill="#000">80°W</text>
<text x="743.51" y="1402.30" font-size="34.5" text-anchor="middle" fill="#000">120°E</text>
<text x="841.32" y="1402.30" font-size="34.5" text-anchor="middle" fill="#000">160°E</text>
<text x="939.13" y="1402.30" font-size="34.5" text-anchor="middle" fill="#000">160°W</text>
<text x="1036.94" y="1402.30" font-size="34.5" text-anchor="middle" fill="#000">120°W</text>
<text x="1134.75" y="1402.30" font-size="34.5" text-anchor="middle" fill="#000">80°W</text>
<text x="116.80" y="27.1" font-size="34.5" fill="#000">During the Pre-Argo period</text>
<text x="752.70" y="27.1" font-size="34.85" fill="#000">During the Argo period</text>
<rect x="397.20" y="1420.30" width="26.84" height="23.20" fill="#343f93"/>
<rect x="423.64" y="1420.30" width="26.84" height="23.20" fill="#394d9c"/>
<rect x="450.09" y="1420.30" width="26.84" height="23.20" fill="#325ea6"/>
<rect x="476.53" y="1420.30" width="26.84" height="23.20" fill="#2373b3"/>
<rect x="502.98" y="1420.30" width="26.84" height="23.20" fill="#28a0d5"/>
<rect x="529.42" y="1420.30" width="26.84" height="23.20" fill="#3bbee5"/>
<rect x="555.87" y="1420.30" width="26.84" height="23.20" fill="#80cbe3"/>
<rect x="582.31" y="1420.30" width="26.84" height="23.20" fill="#a8dbe9"/>
<rect x="608.76" y="1420.30" width="26.84" height="23.20" fill="#c4e8f7"/>
<rect x="635.20" y="1420.30" width="26.84" height="23.20" fill="#fcf0dc"/>
<rect x="661.64" y="1420.30" width="26.84" height="23.20" fill="#fce4bc"/>
<rect x="688.09" y="1420.30" width="26.84" height="23.20" fill="#f8d099"/>
<rect x="714.53" y="1420.30" width="26.84" height="23.20" fill="#f2a673"/>
<rect x="740.98" y="1420.30" width="26.84" height="23.20" fill="#e9735e"/>
<rect x="767.42" y="1420.30" width="26.84" height="23.20" fill="#e34349"/>
<rect x="793.87" y="1420.30" width="26.84" height="23.20" fill="#e03045"/>
<rect x="820.31" y="1420.30" width="26.84" height="23.20" fill="#df2035"/>
<rect x="846.76" y="1420.30" width="26.84" height="23.20" fill="#b7212b"/>
<rect x="397.20" y="1420.30" width="476.00" height="23.20" fill="none" stroke="#262626" stroke-width="2"/>
<path d="M397.20,1443.50v-3M516.20,1443.50v-3M635.20,1443.50v-3M754.20,1443.50v-3M873.20,1443.50v-3" stroke="#222" stroke-width="1.2"/>
<text x="397.20" y="1493.5" font-size="34.5" text-anchor="middle" fill="#000">-0.2</text>
<text x="516.20" y="1493.5" font-size="34.5" text-anchor="middle" fill="#000">-0.1</text>
<text x="635.20" y="1493.5" font-size="34.5" text-anchor="middle" fill="#000">0</text>
<text x="754.20" y="1493.5" font-size="34.5" text-anchor="middle" fill="#000">0.1</text>
<text x="873.20" y="1493.5" font-size="34.5" text-anchor="middle" fill="#000">0.2</text>
<text x="896.90" y="1447.4" font-size="34.5" fill="#000">psu °C<tspan font-size="25" dy="-16.2">-1</tspan></text>
</svg></body></html>
